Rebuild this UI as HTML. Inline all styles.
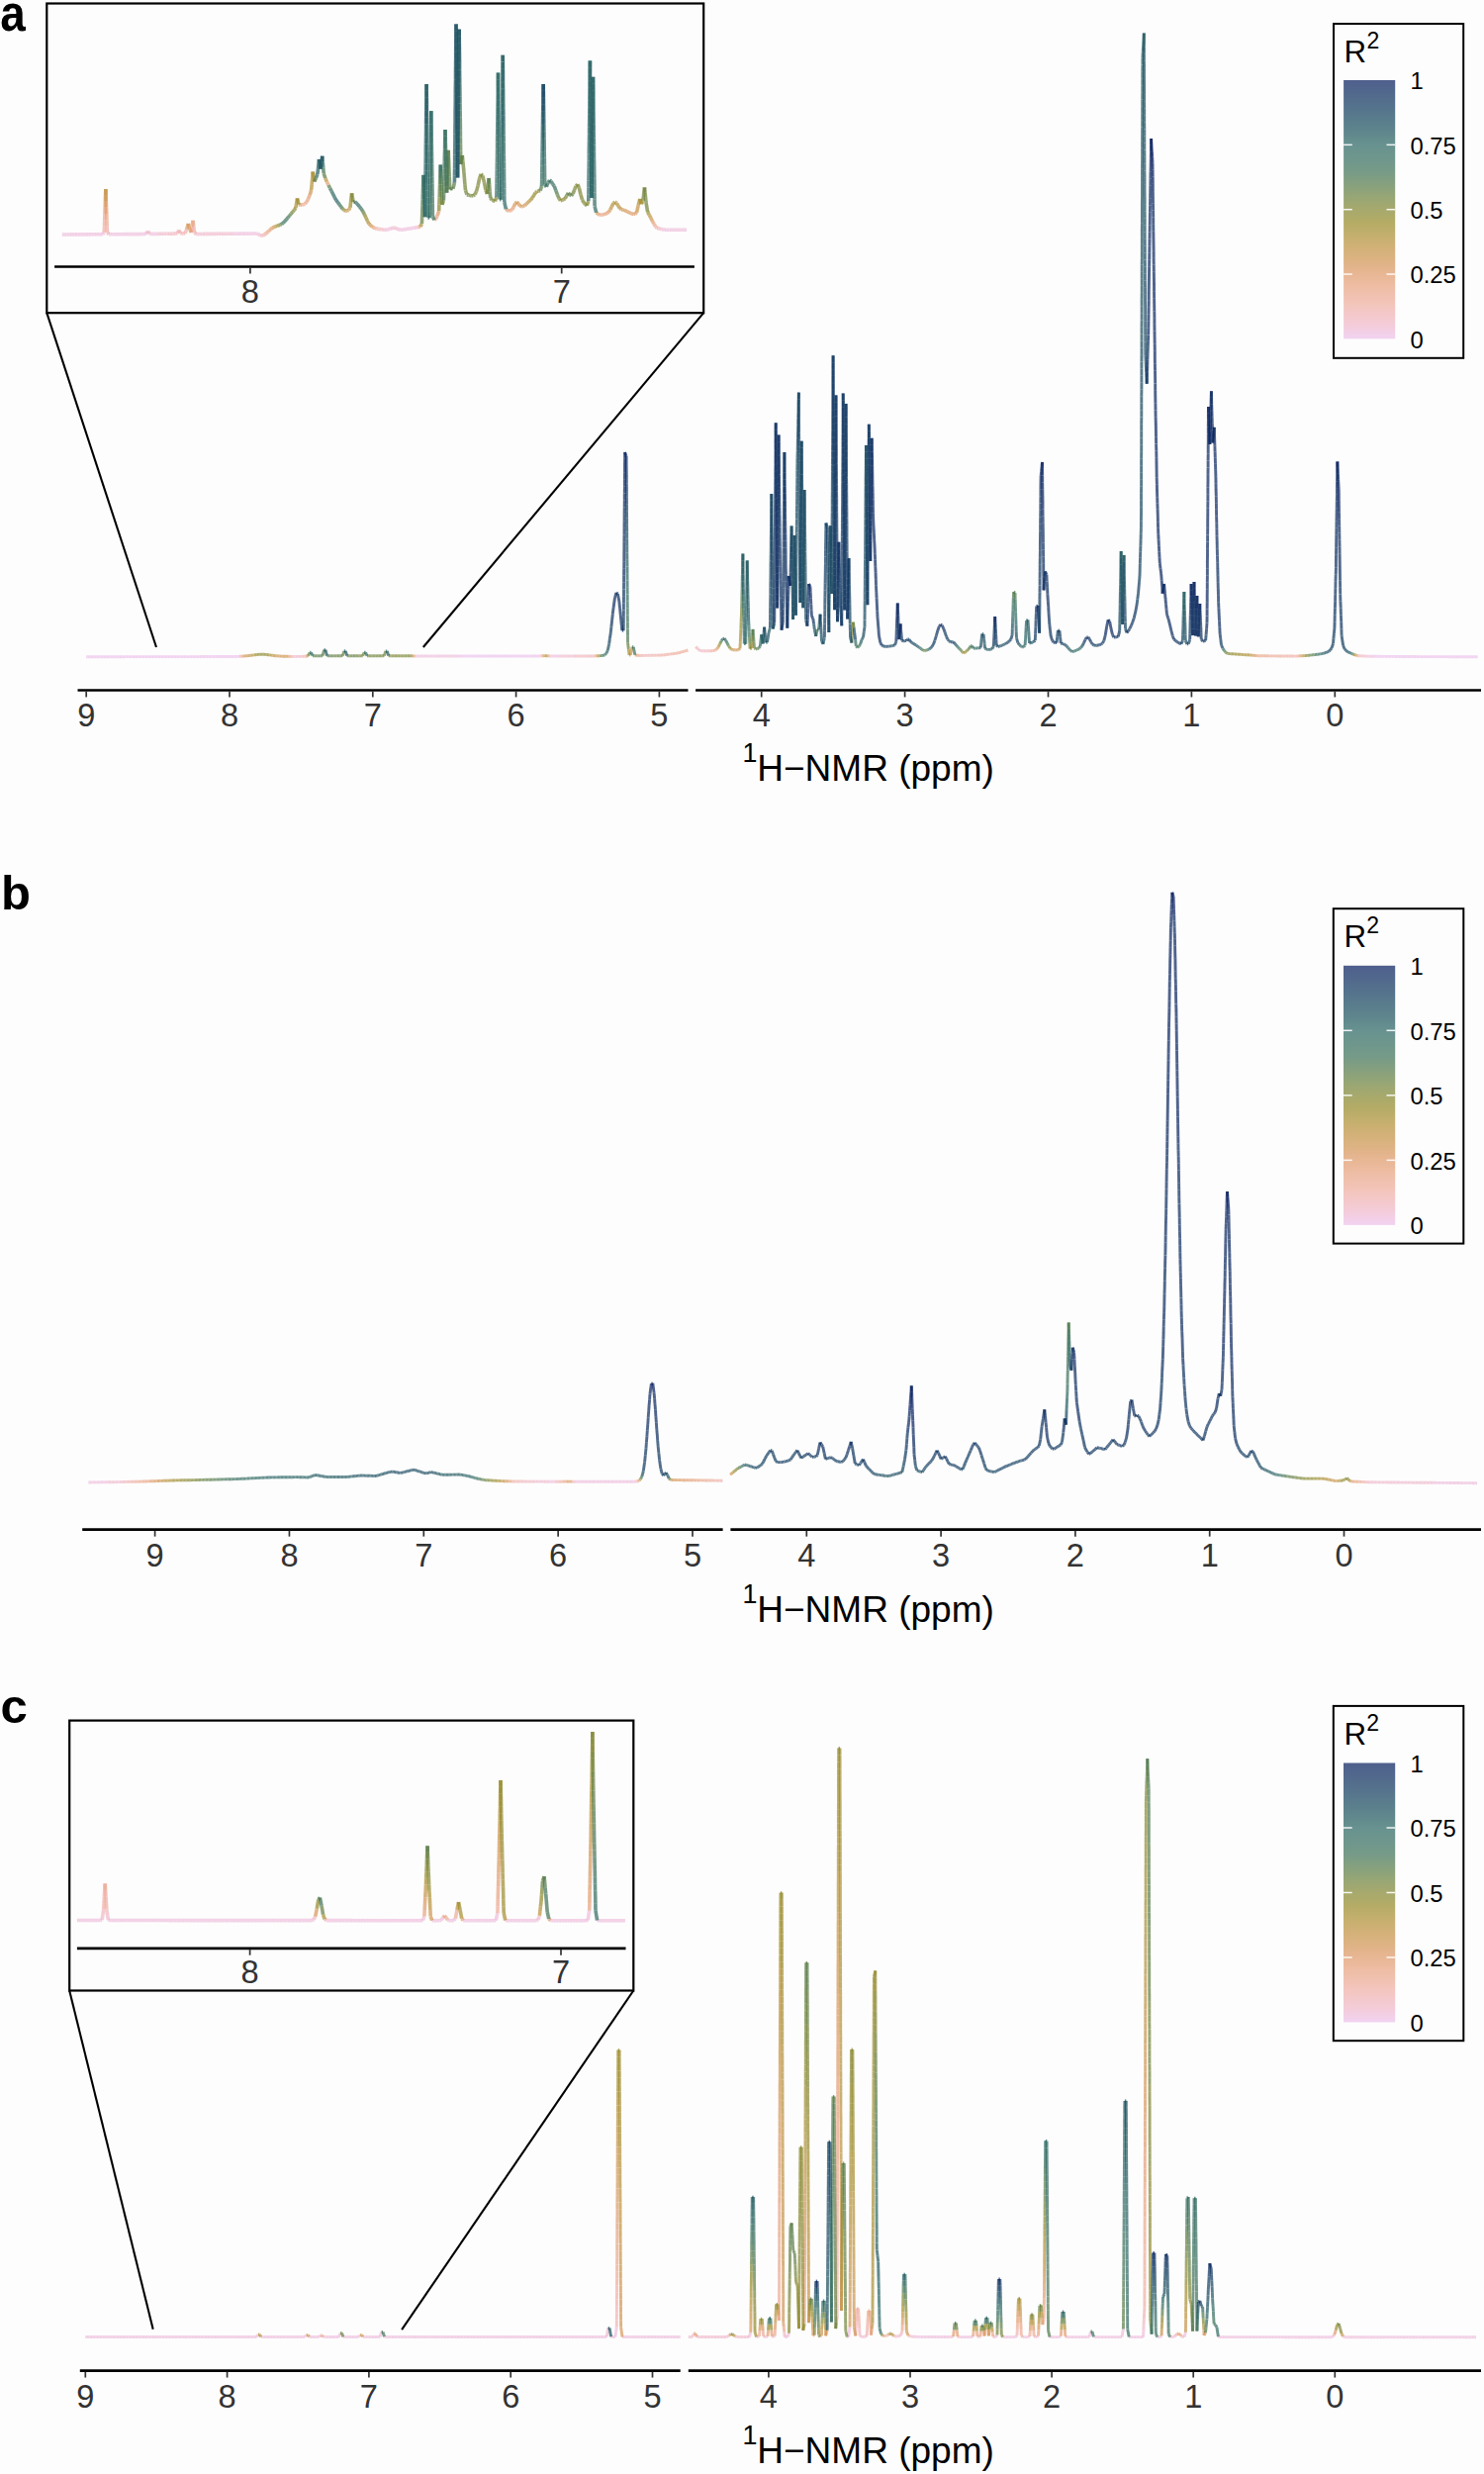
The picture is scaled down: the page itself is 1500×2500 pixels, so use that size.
<!DOCTYPE html><html><head><meta charset="utf-8"><style>html,body{margin:0;padding:0;background:#fdfdfd;}body{width:1500px;height:2500px;overflow:hidden;}</style></head><body><svg xmlns="http://www.w3.org/2000/svg" width="1500" height="2500" viewBox="0 0 1500 2500" style="display:block;font-family:'Liberation Sans',sans-serif"><defs><linearGradient id="bat" x1="0" y1="0" x2="0" y2="1"><stop offset="0.000" stop-color="#041b5c" stop-opacity="0.7"/><stop offset="0.025" stop-color="#06225c" stop-opacity="0.7"/><stop offset="0.050" stop-color="#08295c" stop-opacity="0.7"/><stop offset="0.075" stop-color="#0a305c" stop-opacity="0.7"/><stop offset="0.100" stop-color="#0c365c" stop-opacity="0.7"/><stop offset="0.125" stop-color="#103e5c" stop-opacity="0.7"/><stop offset="0.150" stop-color="#13455c" stop-opacity="0.7"/><stop offset="0.175" stop-color="#174c5c" stop-opacity="0.7"/><stop offset="0.200" stop-color="#1b535c" stop-opacity="0.7"/><stop offset="0.225" stop-color="#215c5e" stop-opacity="0.7"/><stop offset="0.250" stop-color="#276461" stop-opacity="0.7"/><stop offset="0.275" stop-color="#2c675e" stop-opacity="0.7"/><stop offset="0.300" stop-color="#316a5c" stop-opacity="0.7"/><stop offset="0.325" stop-color="#366d59" stop-opacity="0.7"/><stop offset="0.350" stop-color="#3b7056" stop-opacity="0.7"/><stop offset="0.375" stop-color="#46744f" stop-opacity="0.7"/><stop offset="0.400" stop-color="#527848" stop-opacity="0.7"/><stop offset="0.425" stop-color="#5e7c41" stop-opacity="0.7"/><stop offset="0.450" stop-color="#6a813b" stop-opacity="0.7"/><stop offset="0.475" stop-color="#768335" stop-opacity="0.7"/><stop offset="0.500" stop-color="#82852f" stop-opacity="0.7"/><stop offset="0.525" stop-color="#8b872a" stop-opacity="0.7"/><stop offset="0.550" stop-color="#958925" stop-opacity="0.7"/><stop offset="0.575" stop-color="#a08b2b" stop-opacity="0.7"/><stop offset="0.600" stop-color="#ac8e31" stop-opacity="0.7"/><stop offset="0.625" stop-color="#b68f37" stop-opacity="0.7"/><stop offset="0.650" stop-color="#c0903e" stop-opacity="0.7"/><stop offset="0.675" stop-color="#c89247" stop-opacity="0.7"/><stop offset="0.700" stop-color="#d19350" stop-opacity="0.7"/><stop offset="0.725" stop-color="#d8955c" stop-opacity="0.7"/><stop offset="0.750" stop-color="#df9867" stop-opacity="0.7"/><stop offset="0.775" stop-color="#e39d73" stop-opacity="0.7"/><stop offset="0.800" stop-color="#e8a27f" stop-opacity="0.7"/><stop offset="0.825" stop-color="#eaa68b" stop-opacity="0.7"/><stop offset="0.850" stop-color="#edaa96" stop-opacity="0.7"/><stop offset="0.875" stop-color="#efaea4" stop-opacity="0.7"/><stop offset="0.900" stop-color="#f0b1b1" stop-opacity="0.7"/><stop offset="0.925" stop-color="#f0b5bf" stop-opacity="0.7"/><stop offset="0.950" stop-color="#f0b8cc" stop-opacity="0.7"/><stop offset="0.975" stop-color="#eebcdc" stop-opacity="0.7"/><stop offset="1.000" stop-color="#ecc0ec" stop-opacity="0.7"/></linearGradient></defs><rect width="1500" height="2500" fill="#fdfdfd"/><text transform="translate(0.3,30.6) scale(0.89,1)" font-size="51.5" font-weight="bold" fill="#000">a</text><text x="1.0" y="918.6" font-size="49" font-weight="bold" fill="#000">b</text><text x="0.5" y="1740.6" font-size="49" font-weight="bold" fill="#000">c</text><line x1="78.5" y1="697.50" x2="695.5" y2="697.50" stroke="#000" stroke-width="2.70"/><line x1="703.1" y1="697.50" x2="1497.0" y2="697.50" stroke="#000" stroke-width="2.70"/><line x1="87.20" y1="698.55" x2="87.20" y2="704.45" stroke="#333" stroke-width="1.7"/><text x="87.20" y="734.04" text-anchor="middle" font-size="32.6" fill="#333333">9</text><line x1="232.00" y1="698.55" x2="232.00" y2="704.45" stroke="#333" stroke-width="1.7"/><text x="232.00" y="734.04" text-anchor="middle" font-size="32.6" fill="#333333">8</text><line x1="376.80" y1="698.55" x2="376.80" y2="704.45" stroke="#333" stroke-width="1.7"/><text x="376.80" y="734.04" text-anchor="middle" font-size="32.6" fill="#333333">7</text><line x1="521.60" y1="698.55" x2="521.60" y2="704.45" stroke="#333" stroke-width="1.7"/><text x="521.60" y="734.04" text-anchor="middle" font-size="32.6" fill="#333333">6</text><line x1="666.40" y1="698.55" x2="666.40" y2="704.45" stroke="#333" stroke-width="1.7"/><text x="666.40" y="734.04" text-anchor="middle" font-size="32.6" fill="#333333">5</text><line x1="769.70" y1="698.55" x2="769.70" y2="704.45" stroke="#333" stroke-width="1.7"/><text x="769.70" y="734.04" text-anchor="middle" font-size="32.6" fill="#333333">4</text><line x1="914.60" y1="698.55" x2="914.60" y2="704.45" stroke="#333" stroke-width="1.7"/><text x="914.60" y="734.04" text-anchor="middle" font-size="32.6" fill="#333333">3</text><line x1="1059.50" y1="698.55" x2="1059.50" y2="704.45" stroke="#333" stroke-width="1.7"/><text x="1059.50" y="734.04" text-anchor="middle" font-size="32.6" fill="#333333">2</text><line x1="1204.40" y1="698.55" x2="1204.40" y2="704.45" stroke="#333" stroke-width="1.7"/><text x="1204.40" y="734.04" text-anchor="middle" font-size="32.6" fill="#333333">1</text><line x1="1349.30" y1="698.55" x2="1349.30" y2="704.45" stroke="#333" stroke-width="1.7"/><text x="1349.30" y="734.04" text-anchor="middle" font-size="32.6" fill="#333333">0</text><text x="750.4" y="788.7" font-size="37" fill="#000"><tspan font-size="26.8" dy="-18.6">1</tspan><tspan dy="18.6">H−NMR (ppm)</tspan></text><rect x="47.3" y="3.5" width="663.9" height="312.7" fill="#fdfdfd" stroke="#000" stroke-width="2.2"/><line x1="55.1" y1="269.50" x2="701.9" y2="269.50" stroke="#000" stroke-width="2.70"/><line x1="252.90" y1="270.55" x2="252.90" y2="276.45" stroke="#333" stroke-width="1.7"/><text x="252.90" y="305.84" text-anchor="middle" font-size="32.6" fill="#333333">8</text><line x1="567.70" y1="270.55" x2="567.70" y2="276.45" stroke="#333" stroke-width="1.7"/><text x="567.70" y="305.84" text-anchor="middle" font-size="32.6" fill="#333333">7</text><line x1="47.3" y1="316.2" x2="158.0" y2="654.0" stroke="#000" stroke-width="2.1"/><line x1="711.2" y1="316.2" x2="427.8" y2="654.0" stroke="#000" stroke-width="2.1"/><rect x="1348.00" y="24.00" width="131.20" height="337.80" fill="none" stroke="#000" stroke-width="2.0"/><rect x="1358.10" y="81.00" width="52.10" height="261.40" fill="url(#bat)"/><line x1="1358.10" y1="277.05" x2="1366.80" y2="277.05" stroke="#fff" stroke-opacity=".9" stroke-width="1.5"/><line x1="1401.50" y1="277.05" x2="1410.20" y2="277.05" stroke="#fff" stroke-opacity=".9" stroke-width="1.5"/><line x1="1358.10" y1="211.70" x2="1366.80" y2="211.70" stroke="#fff" stroke-opacity=".9" stroke-width="1.5"/><line x1="1401.50" y1="211.70" x2="1410.20" y2="211.70" stroke="#fff" stroke-opacity=".9" stroke-width="1.5"/><line x1="1358.10" y1="146.35" x2="1366.80" y2="146.35" stroke="#fff" stroke-opacity=".9" stroke-width="1.5"/><line x1="1401.50" y1="146.35" x2="1410.20" y2="146.35" stroke="#fff" stroke-opacity=".9" stroke-width="1.5"/><text x="1425.40" y="90.22" font-size="23.8" fill="#000">1</text><text x="1425.40" y="155.57" font-size="23.8" fill="#000">0.75</text><text x="1425.40" y="220.92" font-size="23.8" fill="#000">0.5</text><text x="1425.40" y="286.27" font-size="23.8" fill="#000">0.25</text><text x="1425.40" y="351.62" font-size="23.8" fill="#000">0</text><text x="1358.60" y="62.70" font-size="31.3" fill="#000">R<tspan font-size="23" dy="-14" dx="0.2">2</tspan></text><line x1="83.2" y1="1545.70" x2="730.6" y2="1545.70" stroke="#000" stroke-width="2.70"/><line x1="738.4" y1="1545.70" x2="1497.0" y2="1545.70" stroke="#000" stroke-width="2.70"/><line x1="156.60" y1="1546.75" x2="156.60" y2="1552.65" stroke="#333" stroke-width="1.7"/><text x="156.60" y="1582.74" text-anchor="middle" font-size="32.6" fill="#333333">9</text><line x1="292.45" y1="1546.75" x2="292.45" y2="1552.65" stroke="#333" stroke-width="1.7"/><text x="292.45" y="1582.74" text-anchor="middle" font-size="32.6" fill="#333333">8</text><line x1="428.30" y1="1546.75" x2="428.30" y2="1552.65" stroke="#333" stroke-width="1.7"/><text x="428.30" y="1582.74" text-anchor="middle" font-size="32.6" fill="#333333">7</text><line x1="564.15" y1="1546.75" x2="564.15" y2="1552.65" stroke="#333" stroke-width="1.7"/><text x="564.15" y="1582.74" text-anchor="middle" font-size="32.6" fill="#333333">6</text><line x1="700.00" y1="1546.75" x2="700.00" y2="1552.65" stroke="#333" stroke-width="1.7"/><text x="700.00" y="1582.74" text-anchor="middle" font-size="32.6" fill="#333333">5</text><line x1="815.30" y1="1546.75" x2="815.30" y2="1552.65" stroke="#333" stroke-width="1.7"/><text x="815.30" y="1582.74" text-anchor="middle" font-size="32.6" fill="#333333">4</text><line x1="951.10" y1="1546.75" x2="951.10" y2="1552.65" stroke="#333" stroke-width="1.7"/><text x="951.10" y="1582.74" text-anchor="middle" font-size="32.6" fill="#333333">3</text><line x1="1086.90" y1="1546.75" x2="1086.90" y2="1552.65" stroke="#333" stroke-width="1.7"/><text x="1086.90" y="1582.74" text-anchor="middle" font-size="32.6" fill="#333333">2</text><line x1="1222.70" y1="1546.75" x2="1222.70" y2="1552.65" stroke="#333" stroke-width="1.7"/><text x="1222.70" y="1582.74" text-anchor="middle" font-size="32.6" fill="#333333">1</text><line x1="1358.50" y1="1546.75" x2="1358.50" y2="1552.65" stroke="#333" stroke-width="1.7"/><text x="1358.50" y="1582.74" text-anchor="middle" font-size="32.6" fill="#333333">0</text><text x="750.4" y="1639.0" font-size="37" fill="#000"><tspan font-size="26.8" dy="-18.6">1</tspan><tspan dy="18.6">H−NMR (ppm)</tspan></text><rect x="1347.80" y="918.20" width="131.50" height="338.40" fill="none" stroke="#000" stroke-width="2.0"/><rect x="1358.00" y="975.80" width="52.20" height="262.10" fill="url(#bat)"/><line x1="1358.00" y1="1172.38" x2="1366.70" y2="1172.38" stroke="#fff" stroke-opacity=".9" stroke-width="1.5"/><line x1="1401.50" y1="1172.38" x2="1410.20" y2="1172.38" stroke="#fff" stroke-opacity=".9" stroke-width="1.5"/><line x1="1358.00" y1="1106.85" x2="1366.70" y2="1106.85" stroke="#fff" stroke-opacity=".9" stroke-width="1.5"/><line x1="1401.50" y1="1106.85" x2="1410.20" y2="1106.85" stroke="#fff" stroke-opacity=".9" stroke-width="1.5"/><line x1="1358.00" y1="1041.33" x2="1366.70" y2="1041.33" stroke="#fff" stroke-opacity=".9" stroke-width="1.5"/><line x1="1401.50" y1="1041.33" x2="1410.20" y2="1041.33" stroke="#fff" stroke-opacity=".9" stroke-width="1.5"/><text x="1425.40" y="985.02" font-size="23.8" fill="#000">1</text><text x="1425.40" y="1050.55" font-size="23.8" fill="#000">0.75</text><text x="1425.40" y="1116.07" font-size="23.8" fill="#000">0.5</text><text x="1425.40" y="1181.60" font-size="23.8" fill="#000">0.25</text><text x="1425.40" y="1247.12" font-size="23.8" fill="#000">0</text><text x="1358.40" y="956.90" font-size="31.3" fill="#000">R<tspan font-size="23" dy="-14" dx="0.2">2</tspan></text><line x1="80.8" y1="2395.60" x2="687.7" y2="2395.60" stroke="#000" stroke-width="2.70"/><line x1="695.8" y1="2395.60" x2="1497.0" y2="2395.60" stroke="#000" stroke-width="2.70"/><line x1="86.30" y1="2396.65" x2="86.30" y2="2402.55" stroke="#333" stroke-width="1.7"/><text x="86.30" y="2433.24" text-anchor="middle" font-size="32.6" fill="#333333">9</text><line x1="229.60" y1="2396.65" x2="229.60" y2="2402.55" stroke="#333" stroke-width="1.7"/><text x="229.60" y="2433.24" text-anchor="middle" font-size="32.6" fill="#333333">8</text><line x1="372.90" y1="2396.65" x2="372.90" y2="2402.55" stroke="#333" stroke-width="1.7"/><text x="372.90" y="2433.24" text-anchor="middle" font-size="32.6" fill="#333333">7</text><line x1="516.20" y1="2396.65" x2="516.20" y2="2402.55" stroke="#333" stroke-width="1.7"/><text x="516.20" y="2433.24" text-anchor="middle" font-size="32.6" fill="#333333">6</text><line x1="659.50" y1="2396.65" x2="659.50" y2="2402.55" stroke="#333" stroke-width="1.7"/><text x="659.50" y="2433.24" text-anchor="middle" font-size="32.6" fill="#333333">5</text><line x1="776.90" y1="2396.65" x2="776.90" y2="2402.55" stroke="#333" stroke-width="1.7"/><text x="776.90" y="2433.24" text-anchor="middle" font-size="32.6" fill="#333333">4</text><line x1="920.00" y1="2396.65" x2="920.00" y2="2402.55" stroke="#333" stroke-width="1.7"/><text x="920.00" y="2433.24" text-anchor="middle" font-size="32.6" fill="#333333">3</text><line x1="1063.10" y1="2396.65" x2="1063.10" y2="2402.55" stroke="#333" stroke-width="1.7"/><text x="1063.10" y="2433.24" text-anchor="middle" font-size="32.6" fill="#333333">2</text><line x1="1206.20" y1="2396.65" x2="1206.20" y2="2402.55" stroke="#333" stroke-width="1.7"/><text x="1206.20" y="2433.24" text-anchor="middle" font-size="32.6" fill="#333333">1</text><line x1="1349.30" y1="2396.65" x2="1349.30" y2="2402.55" stroke="#333" stroke-width="1.7"/><text x="1349.30" y="2433.24" text-anchor="middle" font-size="32.6" fill="#333333">0</text><text x="750.4" y="2489.0" font-size="37" fill="#000"><tspan font-size="26.8" dy="-18.6">1</tspan><tspan dy="18.6">H−NMR (ppm)</tspan></text><rect x="70.2" y="1738.6" width="570.1" height="272.9" fill="#fdfdfd" stroke="#000" stroke-width="2.2"/><line x1="77.9" y1="1968.80" x2="632.5" y2="1968.80" stroke="#000" stroke-width="2.70"/><line x1="252.60" y1="1969.85" x2="252.60" y2="1975.75" stroke="#333" stroke-width="1.7"/><text x="252.60" y="2004.34" text-anchor="middle" font-size="32.6" fill="#333333">8</text><line x1="567.00" y1="1969.85" x2="567.00" y2="1975.75" stroke="#333" stroke-width="1.7"/><text x="567.00" y="2004.34" text-anchor="middle" font-size="32.6" fill="#333333">7</text><line x1="70.2" y1="2011.5" x2="154.7" y2="2353.8" stroke="#000" stroke-width="2.1"/><line x1="640.3" y1="2011.5" x2="406.1" y2="2354.2" stroke="#000" stroke-width="2.1"/><rect x="1347.80" y="1723.90" width="131.50" height="338.30" fill="none" stroke="#000" stroke-width="2.0"/><rect x="1358.00" y="1781.50" width="52.20" height="262.00" fill="url(#bat)"/><line x1="1358.00" y1="1978.00" x2="1366.70" y2="1978.00" stroke="#fff" stroke-opacity=".9" stroke-width="1.5"/><line x1="1401.50" y1="1978.00" x2="1410.20" y2="1978.00" stroke="#fff" stroke-opacity=".9" stroke-width="1.5"/><line x1="1358.00" y1="1912.50" x2="1366.70" y2="1912.50" stroke="#fff" stroke-opacity=".9" stroke-width="1.5"/><line x1="1401.50" y1="1912.50" x2="1410.20" y2="1912.50" stroke="#fff" stroke-opacity=".9" stroke-width="1.5"/><line x1="1358.00" y1="1847.00" x2="1366.70" y2="1847.00" stroke="#fff" stroke-opacity=".9" stroke-width="1.5"/><line x1="1401.50" y1="1847.00" x2="1410.20" y2="1847.00" stroke="#fff" stroke-opacity=".9" stroke-width="1.5"/><text x="1425.40" y="1790.72" font-size="23.8" fill="#000">1</text><text x="1425.40" y="1856.22" font-size="23.8" fill="#000">0.75</text><text x="1425.40" y="1921.72" font-size="23.8" fill="#000">0.5</text><text x="1425.40" y="1987.22" font-size="23.8" fill="#000">0.25</text><text x="1425.40" y="2052.72" font-size="23.8" fill="#000">0</text><text x="1358.40" y="1762.60" font-size="31.3" fill="#000">R<tspan font-size="23" dy="-14" dx="0.2">2</tspan></text><g fill="none" stroke-width="2.90" stroke-opacity="0.70"><g stroke="#ecc0ec"><path d="M87.2 663.7L88.6 663.7"/><path d="M88.6 663.7L90.1 663.7"/><path d="M90.1 663.7L91.5 663.7"/><path d="M91.5 663.7L93.0 663.7"/><path d="M93.0 663.7L94.4 663.7"/><path d="M94.4 663.7L95.9 663.7"/><path d="M95.9 663.7L97.3 663.7"/><path d="M97.3 663.7L98.8 663.7"/><path d="M98.8 663.7L100.2 663.7"/><path d="M100.2 663.7L101.7 663.7"/><path d="M101.7 663.7L103.1 663.7"/><path d="M103.1 663.7L104.6 663.7"/><path d="M104.6 663.7L106.0 663.7"/><path d="M106.0 663.7L107.5 663.7"/><path d="M107.5 663.7L108.9 663.7"/><path d="M108.9 663.7L110.4 663.7"/><path d="M110.4 663.7L111.8 663.7"/><path d="M111.8 663.7L113.3 663.7"/><path d="M113.3 663.7L114.7 663.7"/><path d="M114.7 663.7L116.2 663.7"/><path d="M116.2 663.7L117.6 663.7"/><path d="M117.6 663.7L119.1 663.7"/><path d="M119.1 663.7L120.5 663.7"/><path d="M120.5 663.7L122.0 663.7"/><path d="M122.0 663.7L123.4 663.7"/><path d="M123.4 663.7L124.8 663.7"/><path d="M124.8 663.7L126.3 663.6"/><path d="M126.3 663.6L127.7 663.6"/><path d="M127.7 663.6L129.2 663.6"/><path d="M129.2 663.6L130.6 663.6"/><path d="M130.6 663.6L132.1 663.6"/><path d="M132.1 663.6L133.5 663.6"/><path d="M133.5 663.6L135.0 663.6"/><path d="M135.0 663.6L136.4 663.6"/><path d="M136.4 663.6L137.9 663.6"/><path d="M137.9 663.6L139.3 663.6"/><path d="M139.3 663.6L140.8 663.6"/><path d="M140.8 663.6L142.2 663.6"/><path d="M142.2 663.6L143.7 663.6"/><path d="M143.7 663.6L145.1 663.6"/><path d="M145.1 663.6L146.6 663.6"/><path d="M146.6 663.6L148.0 663.6"/><path d="M148.0 663.6L149.5 663.6"/><path d="M149.5 663.6L150.9 663.6"/><path d="M150.9 663.6L152.4 663.6"/><path d="M152.4 663.6L153.8 663.6"/><path d="M153.8 663.6L155.3 663.6"/><path d="M155.3 663.6L156.7 663.6"/><path d="M156.7 663.6L158.2 663.6"/><path d="M158.2 663.6L159.6 663.6"/><path d="M159.6 663.6L161.0 663.6"/><path d="M161.0 663.6L162.5 663.6"/><path d="M162.5 663.6L163.9 663.6"/><path d="M163.9 663.6L165.4 663.6"/><path d="M165.4 663.6L166.8 663.6"/><path d="M166.8 663.6L168.3 663.6"/><path d="M168.3 663.6L169.7 663.6"/><path d="M169.7 663.6L171.2 663.6"/><path d="M171.2 663.6L172.6 663.6"/><path d="M172.6 663.6L174.1 663.6"/><path d="M174.1 663.6L175.5 663.6"/><path d="M175.5 663.6L177.0 663.6"/><path d="M177.0 663.6L178.4 663.6"/><path d="M178.4 663.6L179.9 663.6"/><path d="M179.9 663.6L181.3 663.6"/><path d="M181.3 663.6L182.8 663.6"/><path d="M182.8 663.6L184.2 663.6"/><path d="M184.2 663.6L185.7 663.6"/><path d="M185.7 663.6L187.1 663.6"/><path d="M187.1 663.6L188.6 663.6"/><path d="M188.6 663.6L190.0 663.6"/><path d="M190.0 663.6L191.5 663.6"/><path d="M191.5 663.6L192.9 663.6"/><path d="M192.9 663.6L194.4 663.6"/><path d="M194.4 663.6L195.8 663.6"/><path d="M195.8 663.6L197.2 663.6"/><path d="M197.2 663.6L198.7 663.6"/><path d="M198.7 663.6L200.1 663.6"/><path d="M200.1 663.6L201.6 663.6"/><path d="M201.6 663.6L203.0 663.5"/><path d="M203.0 663.5L204.5 663.5"/><path d="M204.5 663.5L205.9 663.5"/><path d="M205.9 663.5L207.4 663.5"/><path d="M207.4 663.5L208.8 663.5"/><path d="M208.8 663.5L210.3 663.5"/><path d="M210.3 663.5L211.7 663.5"/><path d="M211.7 663.5L213.2 663.5"/><path d="M213.2 663.5L214.6 663.5"/><path d="M214.6 663.5L216.1 663.5"/><path d="M216.1 663.5L217.5 663.5"/><path d="M217.5 663.5L219.0 663.5"/><path d="M219.0 663.5L220.4 663.5"/><path d="M220.4 663.5L221.9 663.5"/><path d="M221.9 663.5L223.3 663.5"/><path d="M223.3 663.5L224.8 663.5"/><path d="M224.8 663.5L226.2 663.5"/><path d="M226.2 663.5L227.7 663.5"/><path d="M227.7 663.5L229.1 663.5"/><path d="M229.1 663.5L230.6 663.5"/><path d="M230.6 663.5L232.0 663.5"/><path d="M232.0 663.5L233.4 663.5"/><path d="M233.4 663.5L234.9 663.5"/><path d="M234.9 663.5L236.3 663.5"/><path d="M236.3 663.5L237.8 663.5"/><path d="M237.8 663.5L239.2 663.5"/><path d="M239.2 663.5L240.7 663.4"/><path d="M465.1 663.0L466.6 663.0"/><path d="M466.6 663.0L468.0 663.0"/><path d="M468.0 663.0L469.5 663.0"/><path d="M469.5 663.0L470.9 663.0"/><path d="M470.9 663.0L472.4 663.0"/><path d="M472.4 663.0L473.8 663.0"/><path d="M473.8 663.0L475.3 663.0"/><path d="M475.3 663.0L476.7 663.0"/><path d="M476.7 663.0L478.2 663.0"/><path d="M478.2 663.0L479.6 663.0"/><path d="M479.6 663.0L481.1 663.0"/><path d="M481.1 663.0L482.5 663.0"/><path d="M482.5 663.0L484.0 663.0"/><path d="M484.0 663.0L485.4 663.0"/><path d="M485.4 663.0L486.8 663.0"/><path d="M486.8 663.0L488.3 663.0"/><path d="M488.3 663.0L489.7 663.0"/><path d="M489.7 663.0L491.2 663.0"/><path d="M491.2 663.0L492.6 663.0"/><path d="M492.6 663.0L494.1 663.0"/><path d="M494.1 663.0L495.5 663.0"/><path d="M495.5 663.0L497.0 663.0"/><path d="M497.0 663.0L498.4 663.0"/><path d="M498.4 663.0L499.9 663.0"/><path d="M499.9 663.0L501.3 663.0"/><path d="M501.3 663.0L502.8 663.0"/><path d="M502.8 663.0L504.2 663.0"/><path d="M504.2 663.0L505.7 663.0"/><path d="M505.7 663.0L507.1 663.0"/><path d="M507.1 663.0L508.6 663.0"/><path d="M508.6 663.0L510.0 663.0"/><path d="M510.0 663.0L511.5 663.0"/><path d="M511.5 663.0L512.9 663.0"/><path d="M512.9 663.0L514.4 663.0"/><path d="M514.4 663.0L515.8 663.0"/><path d="M515.8 663.0L517.3 663.0"/><path d="M517.3 663.0L518.7 663.0"/><path d="M518.7 663.0L520.2 663.0"/><path d="M520.2 663.0L521.6 663.0"/><path d="M521.6 663.0L523.0 663.0"/><path d="M523.0 663.0L524.5 663.0"/><path d="M524.5 663.0L525.9 663.0"/><path d="M525.9 663.0L527.4 663.0"/><path d="M527.4 663.0L528.8 663.0"/><path d="M528.8 663.0L530.3 663.0"/><path d="M530.3 663.0L531.7 663.0"/><path d="M531.7 663.0L533.2 663.0"/><path d="M533.2 663.0L534.6 663.0"/><path d="M534.6 663.0L536.1 663.0"/><path d="M536.1 663.0L537.5 663.0"/><path d="M537.5 663.0L539.0 663.0"/><path d="M539.0 663.0L540.4 663.0"/><path d="M540.4 663.0L541.9 663.0"/><path d="M541.9 663.0L543.3 663.0"/><path d="M543.3 663.0L544.8 663.0"/><path d="M544.8 663.0L546.2 662.9"/></g><g stroke="#eebcdc"><path d="M240.7 663.4L242.1 663.3"/><path d="M420.2 663.0L421.7 663.0"/><path d="M421.7 663.0L423.1 663.0"/><path d="M423.1 663.0L424.6 663.0"/><path d="M424.6 663.0L426.0 663.0"/><path d="M426.0 663.0L427.5 663.0"/><path d="M427.5 663.0L428.9 663.0"/><path d="M428.9 663.0L430.4 663.0"/><path d="M430.4 663.0L431.8 663.0"/><path d="M431.8 663.0L433.3 663.0"/><path d="M433.3 663.0L434.7 663.0"/><path d="M434.7 663.0L436.2 663.0"/><path d="M436.2 663.0L437.6 663.0"/><path d="M437.6 663.0L439.1 663.0"/><path d="M439.1 663.0L440.5 663.0"/><path d="M440.5 663.0L442.0 663.0"/><path d="M442.0 663.0L443.4 663.0"/><path d="M443.4 663.0L444.9 663.0"/><path d="M444.9 663.0L446.3 663.0"/><path d="M446.3 663.0L447.8 663.0"/><path d="M447.8 663.0L449.2 663.0"/><path d="M449.2 663.0L450.6 663.0"/><path d="M450.6 663.0L452.1 663.0"/><path d="M452.1 663.0L453.5 663.0"/><path d="M453.5 663.0L455.0 663.0"/><path d="M455.0 663.0L456.4 663.0"/><path d="M456.4 663.0L457.9 663.0"/><path d="M457.9 663.0L459.3 663.0"/><path d="M459.3 663.0L460.8 663.0"/><path d="M460.8 663.0L462.2 663.0"/><path d="M462.2 663.0L463.7 663.0"/><path d="M463.7 663.0L465.1 663.0"/><path d="M556.4 663.0L557.8 663.0"/><path d="M557.8 663.0L559.2 663.0"/><path d="M559.2 663.0L560.7 663.0"/><path d="M560.7 663.0L562.1 663.0"/><path d="M562.1 663.0L563.6 663.0"/><path d="M563.6 663.0L565.0 663.0"/><path d="M565.0 663.0L566.5 663.0"/></g><g stroke="#f0b8cc"><path d="M295.7 663.5L297.2 663.5"/><path d="M297.2 663.5L298.6 663.5"/><path d="M298.6 663.5L300.1 663.4"/><path d="M566.5 663.0L567.9 663.0"/><path d="M567.9 663.0L569.4 663.0"/><path d="M569.4 663.0L570.8 663.0"/><path d="M570.8 663.0L572.3 663.0"/><path d="M572.3 663.0L573.7 663.0"/><path d="M573.7 663.0L575.2 663.0"/><path d="M575.2 663.0L576.6 663.0"/><path d="M576.6 663.0L578.1 663.0"/><path d="M578.1 663.0L579.5 663.0"/><path d="M579.5 663.0L581.0 663.0"/></g><g stroke="#f0b5be"><path d="M300.1 663.4L301.5 663.4"/><path d="M301.5 663.4L303.0 663.4"/><path d="M303.0 663.4L304.4 663.4"/><path d="M304.4 663.4L305.8 663.3"/><path d="M581.0 663.0L582.4 663.0"/><path d="M582.4 663.0L583.9 663.0"/><path d="M583.9 663.0L585.3 663.0"/><path d="M585.3 663.0L586.8 663.0"/><path d="M586.8 663.0L588.2 663.0"/><path d="M588.2 663.0L589.7 663.0"/><path d="M589.7 663.0L591.1 663.0"/><path d="M591.1 663.0L592.6 663.0"/><path d="M592.6 663.0L594.0 663.0"/><path d="M594.0 663.0L595.4 663.0"/></g><g stroke="#f0b1b0"><path d="M242.1 663.3L243.6 663.2"/><path d="M305.8 663.3L307.3 663.3"/><path d="M307.3 663.3L308.7 663.2"/><path d="M546.2 662.9L547.7 662.8"/><path d="M554.9 662.9L556.4 663.0"/><path d="M595.4 663.0L596.9 663.0"/><path d="M596.9 663.0L598.3 663.0"/><path d="M598.3 663.0L599.8 663.0"/><path d="M599.8 663.0L601.2 662.9"/><path d="M647.6 662.5L649.0 662.5"/><path d="M649.0 662.5L650.5 662.4"/><path d="M650.5 662.4L651.9 662.4"/><path d="M651.9 662.4L653.4 662.4"/><path d="M653.4 662.4L654.8 662.3"/><path d="M654.8 662.3L656.3 662.3"/><path d="M656.3 662.3L657.7 662.3"/><path d="M657.7 662.3L659.2 662.2"/><path d="M659.2 662.2L660.6 662.2"/><path d="M660.6 662.2L662.1 662.2"/><path d="M662.1 662.2L663.5 662.1"/><path d="M663.5 662.1L665.0 662.1"/></g><g stroke="#efada2"><path d="M294.3 663.4L295.7 663.5"/><path d="M418.8 663.0L420.2 663.0"/><path d="M665.0 662.1L666.4 662.1"/><path d="M666.4 662.1L667.8 662.0"/><path d="M667.8 662.0L669.3 662.0"/><path d="M669.3 662.0L670.7 661.9"/><path d="M670.7 661.9L672.2 661.7"/><path d="M672.2 661.7L673.6 661.5"/><path d="M673.6 661.5L675.1 661.3"/><path d="M675.1 661.3L676.5 661.1"/><path d="M676.5 661.1L678.0 660.9"/><path d="M678.0 660.9L679.4 660.7"/><path d="M679.4 660.7L680.9 660.5"/></g><g stroke="#eda994"><path d="M646.1 662.4L647.6 662.5"/><path d="M680.9 660.5L682.3 660.4"/><path d="M682.3 660.4L683.8 660.2"/><path d="M683.8 660.2L685.2 659.9"/><path d="M685.2 659.9L686.7 659.5"/><path d="M686.7 659.5L688.1 659.1"/><path d="M688.1 659.1L689.6 658.7"/><path d="M689.6 658.7L691.0 658.3"/><path d="M691.0 658.3L692.5 657.9"/><path d="M692.5 657.9L693.9 657.5"/><path d="M693.9 657.5L695.4 657.0"/></g><g stroke="#eaa589"><path d="M243.6 663.2L245.0 663.1"/><path d="M292.8 663.4L294.3 663.4"/><path d="M644.7 662.3L646.1 662.4"/></g><g stroke="#e7a17d"><path d="M308.7 663.2L310.2 663.0"/><path d="M547.7 662.8L549.1 662.7"/><path d="M601.2 662.9L602.7 662.8"/></g><g stroke="#e29b70"><path d="M291.4 663.3L292.8 663.4"/><path d="M553.5 662.8L554.9 662.9"/><path d="M643.2 662.2L644.7 662.3"/></g><g stroke="#dd9764"><path d="M245.0 663.1L246.5 663.0"/><path d="M641.8 661.8L643.2 662.2"/></g><g stroke="#d69558"><path d="M417.3 662.9L418.8 663.0"/></g><g stroke="#ce934d"><path d="M246.5 663.0L247.9 662.9"/><path d="M247.9 662.9L249.4 662.8"/><path d="M279.8 662.8L281.2 662.9"/><path d="M281.2 662.9L282.7 663.0"/><path d="M282.7 663.0L284.1 663.1"/><path d="M284.1 663.1L285.6 663.2"/><path d="M285.6 663.2L287.0 663.2"/><path d="M287.0 663.2L288.5 663.2"/><path d="M288.5 663.2L289.9 663.3"/><path d="M289.9 663.3L291.4 663.3"/><path d="M549.1 662.7L550.6 662.6"/><path d="M602.7 662.8L604.1 662.7"/></g><g stroke="#c59144"><path d="M249.4 662.8L250.8 662.6"/><path d="M250.8 662.6L252.3 662.5"/><path d="M278.3 662.7L279.8 662.8"/><path d="M637.4 661.8L638.9 653.7"/></g><g stroke="#bc903b"><path d="M252.3 662.5L253.7 662.3"/><path d="M275.4 662.3L276.9 662.5"/><path d="M276.9 662.5L278.3 662.7"/><path d="M552.0 662.7L553.5 662.8"/><path d="M636.0 662.0L637.4 661.8"/></g><g stroke="#b28e35"><path d="M253.7 662.3L255.2 662.1"/><path d="M255.2 662.1L256.6 661.9"/><path d="M274.0 662.1L275.4 662.3"/><path d="M310.2 663.0L311.6 662.7"/></g><g stroke="#a78d2e"><path d="M256.6 661.9L258.1 661.7"/><path d="M272.5 661.9L274.0 662.1"/><path d="M415.9 662.8L417.3 662.9"/><path d="M550.6 662.6L552.0 662.7"/><path d="M604.1 662.7L605.6 662.7"/><path d="M635.3 655.7L636.0 662.0"/></g><g stroke="#9b8a29"><path d="M258.1 661.7L259.5 661.5"/><path d="M271.1 661.7L272.5 661.9"/></g><g stroke="#908828"><path d="M259.5 661.5L261.0 661.4"/><path d="M261.0 661.4L262.4 661.3"/><path d="M268.2 661.4L269.6 661.5"/><path d="M269.6 661.5L271.1 661.7"/></g><g stroke="#87862d"><path d="M262.4 661.3L263.9 661.2"/><path d="M263.9 661.2L265.3 661.2"/><path d="M265.3 661.2L266.8 661.3"/><path d="M266.8 661.3L268.2 661.4"/></g><g stroke="#7c8432"><path d="M392.7 662.6L394.2 662.8"/><path d="M394.2 662.8L395.6 662.8"/><path d="M395.6 662.8L397.1 662.8"/><path d="M397.1 662.8L398.5 662.8"/><path d="M398.5 662.8L400.0 662.8"/><path d="M400.0 662.8L401.4 662.8"/><path d="M401.4 662.8L402.9 662.8"/><path d="M402.9 662.8L404.3 662.8"/><path d="M404.3 662.8L405.8 662.8"/><path d="M405.8 662.8L407.2 662.8"/><path d="M407.2 662.8L408.7 662.8"/><path d="M408.7 662.8L410.1 662.8"/><path d="M410.1 662.8L411.6 662.8"/><path d="M411.6 662.8L413.0 662.8"/><path d="M413.0 662.8L414.4 662.8"/><path d="M414.4 662.8L415.9 662.8"/><path d="M605.6 662.7L607.0 662.6"/></g><g stroke="#6f8238"><path d="M362.3 662.8L363.8 662.8"/><path d="M363.8 662.8L365.2 662.8"/><path d="M365.2 662.8L366.7 662.7"/><path d="M366.7 662.7L368.1 659.3"/><path d="M371.0 662.7L372.5 662.8"/><path d="M372.5 662.8L373.9 662.8"/><path d="M373.9 662.8L375.4 662.8"/><path d="M375.4 662.8L376.8 662.8"/><path d="M376.8 662.8L378.2 662.8"/><path d="M378.2 662.8L379.7 662.8"/><path d="M379.7 662.8L381.1 662.8"/><path d="M381.1 662.8L382.6 662.8"/><path d="M382.6 662.8L384.0 662.8"/><path d="M384.0 662.8L385.5 662.8"/><path d="M385.5 662.8L386.9 662.8"/><path d="M386.9 662.8L388.4 662.6"/><path d="M388.4 662.6L389.8 658.0"/></g><g stroke="#637e3e"><path d="M311.6 662.7L313.1 659.3"/><path d="M336.3 662.8L337.7 662.8"/><path d="M337.7 662.8L339.2 662.8"/><path d="M339.2 662.8L340.6 662.8"/><path d="M340.6 662.8L342.0 662.8"/><path d="M342.0 662.8L343.5 662.8"/><path d="M343.5 662.8L344.9 662.8"/><path d="M344.9 662.8L346.4 662.6"/><path d="M346.4 662.6L347.8 657.8"/><path d="M350.7 662.6L352.2 662.8"/><path d="M352.2 662.8L353.6 662.8"/><path d="M353.6 662.8L355.1 662.8"/><path d="M355.1 662.8L356.5 662.8"/><path d="M356.5 662.8L358.0 662.8"/><path d="M358.0 662.8L359.4 662.8"/><path d="M359.4 662.8L360.9 662.8"/><path d="M360.9 662.8L362.3 662.8"/><path d="M634.5 649.4L635.3 655.7"/></g><g stroke="#577a45"><path d="M316.0 662.7L317.4 662.8"/><path d="M317.4 662.8L318.9 662.8"/><path d="M318.9 662.8L320.3 662.8"/><path d="M320.3 662.8L321.8 662.8"/><path d="M321.8 662.8L323.2 662.8"/><path d="M323.2 662.8L324.7 662.8"/><path d="M324.7 662.8L326.1 662.6"/><path d="M326.1 662.6L327.6 656.7"/><path d="M330.5 662.6L331.9 662.8"/><path d="M331.9 662.8L333.4 662.8"/><path d="M333.4 662.8L334.8 662.8"/><path d="M334.8 662.8L336.3 662.8"/></g><g stroke="#4b764c"><path d="M607.0 662.6L608.5 662.5"/><path d="M634.5 642.4L634.5 649.4"/></g><g stroke="#3f7153"><path d="M634.4 628.5L634.4 635.4"/><path d="M634.4 635.4L634.5 642.4"/></g><g stroke="#376e58"><path d="M609.9 662.3L611.4 661.8"/><path d="M611.4 661.8L612.8 660.5"/><path d="M634.3 614.5L634.3 621.5"/><path d="M634.3 621.5L634.4 628.5"/><path d="M638.9 653.7L640.3 653.7"/><path d="M640.3 653.7L641.8 661.8"/></g><g stroke="#326b5b"><path d="M608.5 662.5L609.9 662.3"/><path d="M634.2 607.5L634.3 614.5"/></g><g stroke="#2d685e"><path d="M634.1 593.6L634.2 600.6"/><path d="M634.2 600.6L634.2 607.5"/></g><g stroke="#286561"><path d="M313.1 659.3L314.5 659.3"/><path d="M314.5 659.3L316.0 662.7"/><path d="M368.1 659.3L369.6 659.3"/><path d="M369.6 659.3L371.0 662.7"/><path d="M612.8 660.5L614.3 657.1"/><path d="M634.0 579.6L634.1 586.6"/><path d="M634.1 586.6L634.1 593.6"/></g><g stroke="#225e5f"><path d="M633.9 565.7L634.0 572.6"/><path d="M634.0 572.6L634.0 579.6"/></g><g stroke="#1c555c"><path d="M389.8 658.0L391.3 658.0"/><path d="M391.3 658.0L392.7 662.6"/><path d="M633.8 551.7L633.8 558.7"/><path d="M633.8 558.7L633.9 565.7"/></g><g stroke="#184d5c"><path d="M327.6 656.7L329.0 656.7"/><path d="M329.0 656.7L330.5 662.6"/><path d="M347.8 657.8L349.3 657.8"/><path d="M349.3 657.8L350.7 662.6"/><path d="M614.3 657.1L615.7 650.5"/><path d="M633.7 537.8L633.7 544.7"/><path d="M633.7 544.7L633.8 551.7"/></g><g stroke="#14465c"><path d="M633.6 523.8L633.6 530.8"/><path d="M633.6 530.8L633.7 537.8"/></g><g stroke="#103e5c"><path d="M615.7 650.5L616.4 645.2"/><path d="M633.5 509.8L633.5 516.8"/><path d="M633.5 516.8L633.6 523.8"/></g><g stroke="#0c375c"><path d="M616.4 645.2L617.2 640.0"/><path d="M617.2 640.0L617.9 633.5"/><path d="M633.4 495.9L633.4 502.9"/><path d="M633.4 502.9L633.5 509.8"/></g><g stroke="#0a305c"><path d="M617.9 633.5L618.6 627.0"/><path d="M618.6 627.0L619.3 620.5"/><path d="M630.2 637.2L630.3 630.3"/><path d="M630.3 630.3L630.3 623.4"/><path d="M630.3 623.4L630.4 616.4"/><path d="M630.4 616.4L630.4 609.5"/><path d="M630.4 609.5L630.5 602.6"/><path d="M630.5 602.6L630.5 595.6"/><path d="M630.5 595.6L630.6 588.7"/><path d="M633.3 481.9L633.3 488.9"/><path d="M633.3 488.9L633.4 495.9"/></g><g stroke="#08295c"><path d="M619.3 620.5L620.1 614.0"/><path d="M620.1 614.0L621.5 604.0"/><path d="M621.5 604.0L623.0 598.8"/><path d="M623.0 598.8L624.4 599.9"/><path d="M624.4 599.9L625.9 608.0"/><path d="M625.9 608.0L626.6 614.9"/><path d="M626.6 614.9L627.3 621.8"/><path d="M627.3 621.8L627.8 626.9"/><path d="M627.8 626.9L628.3 632.0"/><path d="M628.3 632.0L628.8 637.2"/><path d="M628.8 637.2L630.2 637.2"/><path d="M630.6 588.7L630.6 581.8"/><path d="M630.6 581.8L630.7 574.8"/><path d="M630.7 574.8L630.8 567.9"/><path d="M630.8 567.9L630.8 561.0"/><path d="M630.8 561.0L630.9 554.0"/><path d="M630.9 554.0L630.9 547.1"/><path d="M630.9 547.1L631.0 540.2"/><path d="M631.0 540.2L631.0 533.2"/><path d="M631.0 533.2L631.1 526.3"/><path d="M631.1 526.3L631.1 519.4"/><path d="M631.1 519.4L631.2 512.5"/><path d="M633.1 468.0L633.2 475.0"/><path d="M633.2 475.0L633.3 481.9"/></g><g stroke="#06225c"><path d="M631.2 512.5L631.3 505.5"/><path d="M631.3 505.5L631.3 498.6"/><path d="M631.3 498.6L631.4 491.7"/><path d="M631.4 491.7L631.4 484.7"/><path d="M631.4 484.7L631.5 477.8"/><path d="M631.5 477.8L631.5 470.9"/><path d="M631.5 470.9L631.6 463.9"/><path d="M631.6 463.9L631.6 457.0"/><path d="M631.6 457.0L633.1 461.0"/><path d="M633.1 461.0L633.1 468.0"/></g></g><g fill="none" stroke-width="2.90" stroke-opacity="0.70"><g stroke="#ecc0ec"><path d="M1389.5 663.3L1390.9 663.3"/><path d="M1390.9 663.3L1392.3 663.3"/><path d="M1392.3 663.3L1393.8 663.3"/><path d="M1393.8 663.3L1395.2 663.3"/><path d="M1395.2 663.3L1396.7 663.4"/><path d="M1396.7 663.4L1398.1 663.4"/><path d="M1398.1 663.4L1399.6 663.4"/><path d="M1399.6 663.4L1401.0 663.4"/><path d="M1401.0 663.4L1402.5 663.4"/><path d="M1402.5 663.4L1403.9 663.4"/><path d="M1403.9 663.4L1405.4 663.4"/><path d="M1405.4 663.4L1406.8 663.4"/><path d="M1406.8 663.4L1408.3 663.4"/><path d="M1408.3 663.4L1409.7 663.5"/><path d="M1409.7 663.5L1411.2 663.5"/><path d="M1411.2 663.5L1412.6 663.5"/><path d="M1412.6 663.5L1414.1 663.5"/><path d="M1414.1 663.5L1415.5 663.5"/><path d="M1415.5 663.5L1417.0 663.5"/><path d="M1417.0 663.5L1418.4 663.5"/><path d="M1418.4 663.5L1419.9 663.5"/><path d="M1419.9 663.5L1421.3 663.5"/><path d="M1421.3 663.5L1422.8 663.5"/><path d="M1422.8 663.5L1424.2 663.5"/><path d="M1424.2 663.5L1425.7 663.5"/><path d="M1425.7 663.5L1427.1 663.5"/><path d="M1427.1 663.5L1428.5 663.5"/><path d="M1428.5 663.5L1430.0 663.5"/><path d="M1430.0 663.5L1431.4 663.5"/><path d="M1431.4 663.5L1432.9 663.6"/><path d="M1432.9 663.6L1434.3 663.6"/><path d="M1434.3 663.6L1435.8 663.6"/><path d="M1435.8 663.6L1437.2 663.6"/><path d="M1437.2 663.6L1438.7 663.6"/><path d="M1438.7 663.6L1440.1 663.6"/><path d="M1440.1 663.6L1441.6 663.6"/><path d="M1441.6 663.6L1443.0 663.6"/><path d="M1443.0 663.6L1444.5 663.6"/><path d="M1444.5 663.6L1445.9 663.6"/><path d="M1445.9 663.6L1447.4 663.6"/><path d="M1447.4 663.6L1448.8 663.6"/><path d="M1448.8 663.6L1450.3 663.6"/><path d="M1450.3 663.6L1451.7 663.6"/><path d="M1451.7 663.6L1453.2 663.6"/><path d="M1453.2 663.6L1454.6 663.6"/><path d="M1454.6 663.6L1456.1 663.6"/><path d="M1456.1 663.6L1457.5 663.6"/><path d="M1457.5 663.6L1459.0 663.6"/><path d="M1459.0 663.6L1460.4 663.6"/><path d="M1460.4 663.6L1461.9 663.6"/><path d="M1461.9 663.6L1463.3 663.6"/><path d="M1463.3 663.6L1464.7 663.7"/><path d="M1464.7 663.7L1466.2 663.7"/><path d="M1466.2 663.7L1467.6 663.7"/><path d="M1467.6 663.7L1469.1 663.7"/><path d="M1469.1 663.7L1470.5 663.7"/><path d="M1470.5 663.7L1472.0 663.7"/><path d="M1472.0 663.7L1473.4 663.7"/><path d="M1473.4 663.7L1474.9 663.7"/><path d="M1474.9 663.7L1476.3 663.7"/><path d="M1476.3 663.7L1477.8 663.7"/><path d="M1477.8 663.7L1479.2 663.7"/><path d="M1479.2 663.7L1480.7 663.7"/><path d="M1480.7 663.7L1482.1 663.7"/><path d="M1482.1 663.7L1483.6 663.7"/><path d="M1483.6 663.7L1485.0 663.7"/><path d="M1485.0 663.7L1486.5 663.7"/><path d="M1486.5 663.7L1487.9 663.7"/><path d="M1487.9 663.7L1489.4 663.7"/><path d="M1489.4 663.7L1490.8 663.7"/><path d="M1490.8 663.7L1492.3 663.7"/><path d="M1492.3 663.7L1493.7 663.7"/></g><g stroke="#eebcdc"><path d="M1382.2 663.1L1383.7 663.2"/><path d="M1383.7 663.2L1385.1 663.2"/><path d="M1385.1 663.2L1386.6 663.2"/><path d="M1386.6 663.2L1388.0 663.2"/><path d="M1388.0 663.2L1389.5 663.3"/></g><g stroke="#f0b8cc"><path d="M707.4 657.3L708.9 657.8"/><path d="M708.9 657.8L710.3 657.8"/><path d="M1377.9 663.0L1379.3 663.0"/><path d="M1379.3 663.0L1380.8 663.1"/><path d="M1380.8 663.1L1382.2 663.1"/></g><g stroke="#f0b5be"><path d="M704.5 654.9L706.0 656.1"/><path d="M706.0 656.1L707.4 657.3"/><path d="M710.3 657.8L711.8 657.8"/><path d="M711.8 657.8L713.2 657.8"/><path d="M713.2 657.8L714.7 657.8"/><path d="M1375.0 662.8L1376.4 662.9"/><path d="M1376.4 662.9L1377.9 663.0"/></g><g stroke="#f0b1b0"><path d="M703.1 653.7L704.5 654.9"/><path d="M714.7 657.8L716.1 657.8"/><path d="M716.1 657.8L717.6 657.7"/><path d="M717.6 657.7L719.0 657.7"/><path d="M1373.5 662.8L1375.0 662.8"/></g><g stroke="#efada2"><path d="M719.0 657.7L720.5 657.6"/><path d="M1295.3 663.0L1296.8 663.0"/><path d="M1296.8 663.0L1298.2 663.0"/><path d="M1298.2 663.0L1299.7 663.0"/><path d="M1299.7 663.0L1301.1 663.0"/><path d="M1301.1 663.0L1302.6 663.0"/><path d="M1302.6 663.0L1304.0 663.0"/><path d="M1304.0 663.0L1305.5 663.0"/><path d="M1305.5 663.0L1306.9 663.0"/><path d="M1306.9 663.0L1308.4 663.1"/><path d="M1308.4 663.1L1309.8 663.1"/><path d="M1309.8 663.1L1311.3 663.0"/><path d="M1372.1 662.7L1373.5 662.8"/></g><g stroke="#eda994"><path d="M720.5 657.6L721.9 657.3"/><path d="M721.9 657.3L723.4 656.8"/><path d="M1282.3 662.9L1283.7 662.9"/><path d="M1283.7 662.9L1285.2 662.9"/><path d="M1285.2 662.9L1286.6 662.9"/><path d="M1286.6 662.9L1288.1 662.9"/><path d="M1288.1 662.9L1289.5 662.9"/><path d="M1289.5 662.9L1291.0 662.9"/><path d="M1291.0 662.9L1292.4 663.0"/><path d="M1292.4 663.0L1293.9 663.0"/><path d="M1293.9 663.0L1295.3 663.0"/></g><g stroke="#eaa589"><path d="M1272.2 662.7L1273.6 662.7"/><path d="M1273.6 662.7L1275.1 662.8"/><path d="M1275.1 662.8L1276.5 662.8"/><path d="M1276.5 662.8L1278.0 662.8"/><path d="M1278.0 662.8L1279.4 662.8"/><path d="M1279.4 662.8L1280.9 662.8"/><path d="M1280.9 662.8L1282.3 662.9"/><path d="M1311.3 663.0L1312.7 662.9"/></g><g stroke="#e7a17d"><path d="M723.4 656.8L724.8 655.6"/><path d="M1270.7 662.6L1272.2 662.7"/></g><g stroke="#e29b70"><path d="M1312.7 662.9L1314.2 662.8"/></g><g stroke="#dd9764"><path d="M1269.3 662.5L1270.7 662.6"/><path d="M1370.6 662.2L1372.1 662.7"/></g><g stroke="#d69558"><path d="M724.8 655.6L726.3 653.5"/><path d="M1267.8 662.4L1269.3 662.5"/><path d="M1314.2 662.8L1315.6 662.7"/></g><g stroke="#ce934d"><path d="M740.7 656.7L742.2 656.8"/><path d="M742.2 656.8L743.6 656.8"/><path d="M743.6 656.8L745.1 656.8"/><path d="M745.1 656.8L746.5 656.7"/><path d="M746.5 656.7L748.0 655.4"/><path d="M1266.4 662.2L1267.8 662.4"/></g><g stroke="#c59144"><path d="M739.3 656.1L740.7 656.7"/><path d="M1264.9 662.1L1266.4 662.2"/><path d="M1315.6 662.7L1317.1 662.7"/></g><g stroke="#bc903b"><path d="M1263.5 662.0L1264.9 662.1"/></g><g stroke="#b28e35"><path d="M748.0 655.4L748.3 648.7"/><path d="M1262.0 661.8L1263.5 662.0"/><path d="M1317.1 662.7L1318.5 662.6"/><path d="M1369.2 661.7L1370.6 662.2"/></g><g stroke="#a78d2e"><path d="M726.3 653.5L727.7 650.6"/><path d="M737.9 654.9L739.3 656.1"/><path d="M748.3 648.7L748.6 642.0"/><path d="M973.9 660.0L975.3 659.4"/><path d="M1254.8 661.4L1256.2 661.5"/><path d="M1256.2 661.5L1257.7 661.6"/><path d="M1257.7 661.6L1259.1 661.7"/><path d="M1259.1 661.7L1260.6 661.7"/><path d="M1260.6 661.7L1262.0 661.8"/></g><g stroke="#9b8a29"><path d="M748.6 642.0L748.9 635.4"/><path d="M759.6 655.1L760.1 648.7"/><path d="M975.3 659.4L976.8 658.0"/><path d="M1249.0 661.0L1250.4 661.1"/><path d="M1250.4 661.1L1251.9 661.2"/><path d="M1251.9 661.2L1253.3 661.3"/><path d="M1253.3 661.3L1254.8 661.4"/></g><g stroke="#908828"><path d="M748.9 635.4L749.1 628.7"/><path d="M861.9 635.7L862.4 628.7"/><path d="M1244.7 660.7L1246.1 660.8"/><path d="M1246.1 660.8L1247.5 660.9"/><path d="M1247.5 660.9L1249.0 661.0"/><path d="M1318.5 662.6L1319.9 662.5"/></g><g stroke="#87862d"><path d="M749.1 628.7L749.4 622.0"/><path d="M758.1 655.6L759.6 655.1"/><path d="M972.4 658.4L973.9 660.0"/><path d="M1240.3 660.4L1241.8 660.5"/><path d="M1241.8 660.5L1243.2 660.6"/><path d="M1243.2 660.6L1244.7 660.7"/></g><g stroke="#7c8432"><path d="M736.4 652.7L737.9 654.9"/><path d="M749.4 622.0L749.6 615.1"/><path d="M757.8 649.9L758.1 655.6"/><path d="M760.1 648.7L760.5 642.2"/><path d="M861.4 642.7L861.9 635.7"/><path d="M976.8 658.0L978.2 656.5"/><path d="M1319.9 662.5L1321.4 662.4"/><path d="M1367.7 661.1L1369.2 661.7"/></g><g stroke="#6f8238"><path d="M762.5 654.8L763.9 656.0"/><path d="M933.3 657.3L934.8 657.5"/><path d="M934.8 657.5L936.2 657.1"/><path d="M1238.9 659.1L1240.3 660.4"/><path d="M1321.4 662.4L1322.8 662.2"/></g><g stroke="#637e3e"><path d="M727.7 650.6L729.2 647.6"/><path d="M749.6 615.1L749.8 608.1"/><path d="M762.0 648.5L762.5 654.8"/><path d="M763.9 656.0L765.4 655.7"/><path d="M860.9 649.6L861.4 642.7"/><path d="M862.4 628.7L863.1 634.3"/><path d="M971.0 656.8L972.4 658.4"/><path d="M978.2 656.5L979.7 655.6"/><path d="M1322.8 662.2L1324.3 662.1"/></g><g stroke="#577a45"><path d="M749.8 608.1L749.9 601.2"/><path d="M757.5 644.1L757.8 649.9"/><path d="M760.5 642.2L761.0 635.8"/><path d="M761.5 642.1L762.0 648.5"/><path d="M1024.6 598.0L1026.0 599.0"/><path d="M1324.3 662.1L1325.7 661.9"/><path d="M1325.7 661.9L1327.2 661.8"/></g><g stroke="#4b764c"><path d="M735.0 649.7L736.4 652.7"/><path d="M749.9 601.2L750.1 594.3"/><path d="M761.0 635.8L761.5 642.1"/><path d="M765.4 655.7L766.8 654.9"/><path d="M866.7 654.4L868.2 653.1"/><path d="M931.9 656.2L933.3 657.3"/><path d="M969.5 655.2L971.0 656.8"/><path d="M979.7 655.6L981.1 652.7"/><path d="M1024.3 604.3L1024.6 598.0"/><path d="M1026.0 599.0L1026.2 605.5"/><path d="M1237.4 657.4L1238.9 659.1"/><path d="M1327.2 661.8L1328.6 661.6"/></g><g stroke="#3f7153"><path d="M750.1 594.3L750.2 587.3"/><path d="M757.3 638.4L757.5 644.1"/><path d="M766.8 654.9L768.3 653.3"/><path d="M824.7 643.0L826.2 636.0"/><path d="M865.3 652.9L866.7 654.4"/><path d="M936.2 657.1L937.7 656.6"/><path d="M1328.6 661.6L1330.1 661.5"/><path d="M1366.3 660.5L1367.7 661.1"/></g><g stroke="#376e58"><path d="M1024.1 610.5L1024.3 604.3"/><path d="M1026.2 605.5L1026.4 612.1"/><path d="M1330.1 661.5L1331.5 661.3"/></g><g stroke="#326b5b"><path d="M729.2 647.6L730.6 645.5"/><path d="M750.2 587.3L750.4 580.4"/><path d="M757.0 632.7L757.3 638.4"/><path d="M868.2 653.1L869.6 651.0"/><path d="M930.4 655.2L931.9 656.2"/><path d="M968.1 653.7L969.5 655.2"/><path d="M981.1 652.7L982.6 652.6"/><path d="M982.6 652.6L984.0 655.2"/><path d="M984.0 655.2L985.5 655.1"/><path d="M1023.9 616.8L1024.1 610.5"/><path d="M1026.4 612.1L1026.6 618.6"/><path d="M1236.0 655.2L1237.4 657.4"/><path d="M1331.5 661.3L1333.0 661.1"/></g><g stroke="#2d685e"><path d="M733.5 646.9L735.0 649.7"/><path d="M750.4 580.4L750.6 573.5"/><path d="M768.3 653.3L769.0 647.2"/><path d="M826.2 636.0L827.6 636.2"/><path d="M864.6 646.5L865.3 652.9"/><path d="M937.7 656.6L939.1 656.0"/><path d="M985.5 655.1L986.9 655.0"/><path d="M1026.6 618.6L1026.8 625.1"/><path d="M1033.2 654.0L1034.7 653.7"/><path d="M1034.7 653.7L1036.1 652.2"/><path d="M1333.0 661.1L1334.4 660.9"/></g><g stroke="#286561"><path d="M750.6 573.5L750.7 566.5"/><path d="M753.8 650.8L753.9 644.3"/><path d="M827.6 636.2L828.1 631.0"/><path d="M929.0 654.1L930.4 655.2"/><path d="M986.9 655.0L988.4 654.9"/><path d="M1023.7 623.1L1023.9 616.8"/><path d="M1031.8 652.8L1033.2 654.0"/><path d="M1082.5 657.7L1083.9 658.6"/><path d="M1083.9 658.6L1085.4 658.1"/><path d="M1085.4 658.1L1086.8 657.6"/><path d="M1086.8 657.6L1088.3 657.0"/><path d="M1088.3 657.0L1089.7 656.4"/><path d="M1089.7 656.4L1091.2 655.6"/><path d="M1091.2 655.6L1092.6 654.4"/><path d="M1334.4 660.9L1335.9 660.6"/><path d="M1364.8 659.8L1366.3 660.5"/></g><g stroke="#225e5f"><path d="M730.6 645.5L732.1 645.2"/><path d="M751.6 601.5L751.7 608.5"/><path d="M751.7 608.5L751.8 615.5"/><path d="M751.8 615.5L751.9 622.4"/><path d="M751.9 622.4L752.0 629.4"/><path d="M752.0 629.4L752.1 636.4"/><path d="M752.1 636.4L752.2 643.4"/><path d="M752.2 643.4L752.3 650.4"/><path d="M752.3 650.4L753.8 650.8"/><path d="M753.9 644.3L754.0 637.8"/><path d="M754.0 637.8L754.1 631.3"/><path d="M754.1 631.3L754.2 624.8"/><path d="M754.2 624.8L754.3 618.3"/><path d="M754.3 618.3L754.4 611.8"/><path d="M754.4 611.8L754.6 605.4"/><path d="M754.6 605.4L754.7 598.9"/><path d="M756.7 627.0L757.0 632.7"/><path d="M769.0 647.2L769.7 641.2"/><path d="M869.6 651.0L871.1 646.3"/><path d="M966.6 652.1L968.1 653.7"/><path d="M988.4 654.9L989.8 654.7"/><path d="M1023.5 629.3L1023.7 623.1"/><path d="M1026.8 625.1L1027.0 631.7"/><path d="M1036.1 652.2L1036.5 645.9"/><path d="M1036.5 645.9L1036.9 639.7"/><path d="M1081.0 656.2L1082.5 657.7"/><path d="M1196.5 610.4L1196.7 604.2"/><path d="M1196.7 604.2L1196.9 598.0"/><path d="M1196.9 598.0L1197.0 604.2"/><path d="M1197.0 604.2L1197.2 610.4"/><path d="M1197.2 610.4L1197.4 616.5"/><path d="M1335.9 660.6L1337.3 660.3"/></g><g stroke="#1c555c"><path d="M732.1 645.2L733.5 646.9"/><path d="M750.7 566.5L750.9 559.6"/><path d="M750.9 559.6L751.0 566.6"/><path d="M751.0 566.6L751.1 573.6"/><path d="M751.1 573.6L751.2 580.5"/><path d="M751.2 580.5L751.3 587.5"/><path d="M751.3 587.5L751.4 594.5"/><path d="M751.4 594.5L751.6 601.5"/><path d="M754.7 598.9L754.8 592.4"/><path d="M754.8 592.4L754.9 585.9"/><path d="M754.9 585.9L755.0 579.4"/><path d="M755.0 579.4L755.1 572.9"/><path d="M755.1 572.9L755.2 566.4"/><path d="M755.2 566.4L755.4 573.1"/><path d="M755.4 573.1L755.5 579.9"/><path d="M755.5 579.9L755.7 586.6"/><path d="M755.7 586.6L755.9 593.3"/><path d="M755.9 593.3L756.0 600.1"/><path d="M756.0 600.1L756.2 606.8"/><path d="M756.2 606.8L756.4 613.5"/><path d="M756.4 613.5L756.5 620.3"/><path d="M756.5 620.3L756.7 627.0"/><path d="M769.7 641.2L771.2 650.5"/><path d="M771.2 650.5L771.6 644.9"/><path d="M776.9 640.0L778.4 634.0"/><path d="M939.1 656.0L940.6 655.0"/><path d="M989.8 654.7L991.3 654.5"/><path d="M995.6 655.3L997.0 656.1"/><path d="M997.0 656.1L998.5 656.4"/><path d="M998.5 656.4L999.9 656.6"/><path d="M999.9 656.6L1001.4 656.2"/><path d="M1001.4 656.2L1002.8 655.7"/><path d="M1027.0 631.7L1027.2 638.2"/><path d="M1030.3 651.5L1031.8 652.8"/><path d="M1036.9 639.7L1037.2 633.4"/><path d="M1037.2 633.4L1037.6 627.1"/><path d="M1037.6 627.1L1039.0 626.3"/><path d="M1039.0 626.3L1039.4 632.2"/><path d="M1039.4 632.2L1039.8 638.1"/><path d="M1039.8 638.1L1040.1 644.0"/><path d="M1079.6 654.6L1081.0 656.2"/><path d="M1092.6 654.4L1094.1 652.5"/><path d="M1133.0 563.7L1133.2 557.0"/><path d="M1133.2 557.0L1133.3 563.7"/><path d="M1133.3 563.7L1133.4 570.5"/><path d="M1135.9 567.4L1136.1 561.0"/><path d="M1136.1 561.0L1136.2 567.7"/><path d="M1154.7 107.3L1154.7 100.3"/><path d="M1154.7 100.3L1154.8 93.3"/><path d="M1154.8 93.3L1154.8 86.3"/><path d="M1154.8 86.3L1154.8 79.3"/><path d="M1154.8 79.3L1154.8 72.4"/><path d="M1154.8 72.4L1154.9 65.4"/><path d="M1154.9 65.4L1154.9 58.4"/><path d="M1154.9 58.4L1155.2 52.2"/><path d="M1155.2 52.2L1155.6 45.9"/><path d="M1155.6 45.9L1156.0 39.7"/><path d="M1156.0 39.7L1156.3 33.5"/><path d="M1156.3 33.5L1156.4 40.4"/><path d="M1156.4 40.4L1156.4 47.4"/><path d="M1196.1 622.7L1196.3 616.5"/><path d="M1196.3 616.5L1196.5 610.4"/><path d="M1197.4 616.5L1197.6 622.7"/><path d="M1197.6 622.7L1197.8 628.9"/><path d="M1337.3 660.3L1338.8 659.9"/></g><g stroke="#184d5c"><path d="M771.6 644.9L772.1 639.3"/><path d="M773.6 644.2L774.1 649.4"/><path d="M774.1 649.4L775.5 649.0"/><path d="M775.5 649.0L776.9 640.0"/><path d="M823.3 636.1L824.7 643.0"/><path d="M828.1 631.0L828.6 625.9"/><path d="M832.0 650.9L833.4 644.1"/><path d="M863.1 634.3L863.8 640.0"/><path d="M871.1 646.3L872.5 644.0"/><path d="M927.5 653.1L929.0 654.1"/><path d="M965.2 650.5L966.6 652.1"/><path d="M991.3 654.5L991.7 649.8"/><path d="M991.7 649.8L992.2 645.2"/><path d="M994.6 645.6L995.1 650.5"/><path d="M995.1 650.5L995.6 655.3"/><path d="M1002.8 655.7L1004.3 653.1"/><path d="M1008.6 653.6L1010.1 653.1"/><path d="M1023.3 635.6L1023.5 629.3"/><path d="M1040.1 644.0L1040.5 649.9"/><path d="M1040.5 649.9L1041.9 649.9"/><path d="M1078.1 653.0L1079.6 654.6"/><path d="M1132.4 597.2L1132.6 590.5"/><path d="M1132.6 590.5L1132.7 583.8"/><path d="M1132.7 583.8L1132.8 577.1"/><path d="M1132.8 577.1L1132.9 570.4"/><path d="M1132.9 570.4L1133.0 563.7"/><path d="M1133.4 570.5L1133.6 577.2"/><path d="M1133.6 577.2L1133.7 584.0"/><path d="M1133.7 584.0L1133.8 590.7"/><path d="M1133.8 590.7L1133.9 597.4"/><path d="M1133.9 597.4L1134.1 604.2"/><path d="M1135.1 605.6L1135.3 599.3"/><path d="M1135.3 599.3L1135.4 592.9"/><path d="M1135.4 592.9L1135.5 586.5"/><path d="M1135.5 586.5L1135.7 580.1"/><path d="M1135.7 580.1L1135.8 573.8"/><path d="M1135.8 573.8L1135.9 567.4"/><path d="M1136.2 567.7L1136.3 574.5"/><path d="M1136.3 574.5L1136.4 581.2"/><path d="M1136.4 581.2L1136.6 588.0"/><path d="M1154.0 344.6L1154.0 337.6"/><path d="M1154.0 337.6L1154.0 330.7"/><path d="M1154.0 330.7L1154.1 323.7"/><path d="M1154.1 323.7L1154.1 316.7"/><path d="M1154.1 316.7L1154.1 309.7"/><path d="M1154.1 309.7L1154.1 302.7"/><path d="M1154.1 302.7L1154.2 295.8"/><path d="M1154.2 295.8L1154.2 288.8"/><path d="M1154.2 288.8L1154.2 281.8"/><path d="M1154.2 281.8L1154.2 274.8"/><path d="M1154.2 274.8L1154.2 267.8"/><path d="M1154.2 267.8L1154.3 260.8"/><path d="M1154.3 260.8L1154.3 253.9"/><path d="M1154.3 253.9L1154.3 246.9"/><path d="M1154.3 246.9L1154.3 239.9"/><path d="M1154.3 239.9L1154.3 232.9"/><path d="M1154.3 232.9L1154.4 225.9"/><path d="M1154.4 225.9L1154.4 219.0"/><path d="M1154.4 219.0L1154.4 212.0"/><path d="M1154.4 212.0L1154.4 205.0"/><path d="M1154.4 205.0L1154.5 198.0"/><path d="M1154.5 198.0L1154.5 191.0"/><path d="M1154.5 191.0L1154.5 184.1"/><path d="M1154.5 184.1L1154.5 177.1"/><path d="M1154.5 177.1L1154.5 170.1"/><path d="M1154.5 170.1L1154.6 163.1"/><path d="M1154.6 163.1L1154.6 156.1"/><path d="M1154.6 156.1L1154.6 149.2"/><path d="M1154.6 149.2L1154.6 142.2"/><path d="M1154.6 142.2L1154.6 135.2"/><path d="M1154.6 135.2L1154.7 128.2"/><path d="M1154.7 128.2L1154.7 121.2"/><path d="M1154.7 121.2L1154.7 114.2"/><path d="M1154.7 114.2L1154.7 107.3"/><path d="M1156.4 47.4L1156.4 54.3"/><path d="M1156.4 54.3L1156.4 61.2"/><path d="M1156.4 61.2L1156.5 68.2"/><path d="M1156.5 68.2L1156.5 75.1"/><path d="M1156.5 75.1L1156.5 82.1"/><path d="M1156.5 82.1L1156.6 89.0"/><path d="M1156.6 89.0L1156.6 95.9"/><path d="M1156.6 95.9L1156.6 102.9"/><path d="M1156.6 102.9L1156.7 109.8"/><path d="M1156.7 109.8L1156.7 116.7"/><path d="M1156.7 116.7L1156.7 123.7"/><path d="M1156.7 123.7L1156.8 130.6"/><path d="M1156.8 130.6L1156.8 137.6"/><path d="M1156.8 137.6L1156.8 144.5"/><path d="M1156.8 144.5L1156.8 151.4"/><path d="M1156.8 151.4L1156.9 158.4"/><path d="M1156.9 158.4L1156.9 165.3"/><path d="M1156.9 165.3L1156.9 172.2"/><path d="M1156.9 172.2L1157.0 179.2"/><path d="M1157.0 179.2L1157.0 186.1"/><path d="M1157.0 186.1L1157.0 193.0"/><path d="M1157.0 193.0L1157.1 200.0"/><path d="M1157.1 200.0L1157.1 206.9"/><path d="M1157.1 206.9L1157.1 213.9"/><path d="M1157.1 213.9L1157.2 220.8"/><path d="M1157.2 220.8L1157.2 227.7"/><path d="M1157.2 227.7L1157.2 234.7"/><path d="M1157.2 234.7L1157.2 241.6"/><path d="M1195.8 635.1L1196.0 628.9"/><path d="M1196.0 628.9L1196.1 622.7"/><path d="M1197.8 628.9L1198.0 635.1"/><path d="M1198.0 635.1L1198.1 641.3"/><path d="M1338.8 659.9L1340.2 659.5"/><path d="M1363.4 659.2L1364.8 659.8"/></g><g stroke="#14465c"><path d="M772.1 639.3L772.6 633.7"/><path d="M772.6 633.7L773.1 638.9"/><path d="M773.1 638.9L773.6 644.2"/><path d="M800.0 538.3L800.1 531.6"/><path d="M800.1 531.6L800.2 538.3"/><path d="M800.2 538.3L800.3 545.1"/><path d="M800.3 545.1L800.4 551.8"/><path d="M800.4 551.8L800.5 558.5"/><path d="M800.5 558.5L800.6 565.3"/><path d="M800.6 565.3L800.7 572.0"/><path d="M800.7 572.0L800.8 578.8"/><path d="M800.8 578.8L800.9 585.5"/><path d="M800.9 585.5L801.0 592.2"/><path d="M801.0 592.2L801.2 599.0"/><path d="M801.2 599.0L801.3 605.7"/><path d="M801.3 605.7L801.4 612.4"/><path d="M801.4 612.4L801.5 619.2"/><path d="M801.5 619.2L801.6 625.9"/><path d="M801.6 625.9L801.7 619.4"/><path d="M801.7 619.4L801.8 612.8"/><path d="M801.8 612.8L801.9 606.3"/><path d="M801.9 606.3L802.0 599.8"/><path d="M802.0 599.8L802.1 593.3"/><path d="M802.1 593.3L802.2 586.7"/><path d="M802.2 586.7L802.3 580.2"/><path d="M802.3 580.2L802.5 573.7"/><path d="M802.5 573.7L802.6 567.1"/><path d="M802.6 567.1L802.7 560.6"/><path d="M802.7 560.6L802.8 554.1"/><path d="M802.8 554.1L802.9 547.5"/><path d="M802.9 547.5L803.0 541.0"/><path d="M803.0 541.0L803.1 547.7"/><path d="M803.1 547.7L803.3 554.5"/><path d="M803.3 554.5L803.4 561.2"/><path d="M803.4 561.2L803.5 567.9"/><path d="M803.5 567.9L803.6 574.7"/><path d="M803.6 574.7L803.7 581.4"/><path d="M803.7 581.4L803.9 588.1"/><path d="M803.9 588.1L804.0 594.8"/><path d="M804.0 594.8L804.1 601.6"/><path d="M804.1 601.6L804.2 608.3"/><path d="M804.2 608.3L804.3 615.0"/><path d="M804.3 615.0L804.5 621.8"/><path d="M804.5 621.8L804.5 614.8"/><path d="M804.5 614.8L804.6 607.9"/><path d="M804.6 607.9L804.7 600.9"/><path d="M804.7 600.9L804.7 594.0"/><path d="M804.7 594.0L804.8 587.0"/><path d="M804.8 587.0L804.9 580.1"/><path d="M804.9 580.1L804.9 573.1"/><path d="M804.9 573.1L805.0 566.1"/><path d="M805.0 566.1L805.1 559.2"/><path d="M805.1 559.2L805.1 552.2"/><path d="M805.1 552.2L805.2 545.3"/><path d="M805.2 545.3L805.2 538.3"/><path d="M805.2 538.3L805.3 531.4"/><path d="M805.3 531.4L805.4 524.4"/><path d="M805.4 524.4L805.4 517.5"/><path d="M805.4 517.5L805.5 510.5"/><path d="M805.5 510.5L805.6 503.6"/><path d="M805.6 503.6L805.6 496.6"/><path d="M805.6 496.6L805.7 489.7"/><path d="M805.7 489.7L805.8 482.7"/><path d="M805.8 482.7L805.8 475.8"/><path d="M805.8 475.8L805.9 468.8"/><path d="M805.9 468.8L806.0 462.2"/><path d="M806.0 462.2L806.2 455.7"/><path d="M806.2 455.7L806.3 449.1"/><path d="M810.7 492.9L810.7 499.6"/><path d="M810.7 499.6L810.8 506.4"/><path d="M810.8 506.4L810.8 513.1"/><path d="M810.8 513.1L810.9 519.8"/><path d="M810.9 519.8L810.9 526.6"/><path d="M810.9 526.6L811.0 533.3"/><path d="M811.0 533.3L811.1 540.1"/><path d="M811.1 540.1L811.1 546.8"/><path d="M811.1 546.8L811.2 553.5"/><path d="M811.2 553.5L811.2 560.3"/><path d="M811.2 560.3L811.3 567.0"/><path d="M811.3 567.0L811.4 573.8"/><path d="M811.4 573.8L811.4 580.5"/><path d="M811.4 580.5L811.5 587.2"/><path d="M811.5 587.2L811.5 594.0"/><path d="M811.5 594.0L811.6 600.7"/><path d="M811.6 600.7L811.6 607.5"/><path d="M811.6 607.5L811.7 614.2"/><path d="M811.7 614.2L811.8 607.6"/><path d="M811.8 607.6L811.9 601.0"/><path d="M811.9 601.0L811.9 594.3"/><path d="M811.9 594.3L812.0 587.7"/><path d="M812.0 587.7L812.1 581.1"/><path d="M812.1 581.1L812.2 574.5"/><path d="M812.2 574.5L812.3 567.9"/><path d="M812.3 567.9L812.3 561.2"/><path d="M812.3 561.2L812.4 554.6"/><path d="M812.4 554.6L812.5 548.0"/><path d="M812.5 548.0L812.6 541.4"/><path d="M812.6 541.4L812.7 534.7"/><path d="M812.7 534.7L812.7 528.1"/><path d="M812.7 528.1L812.8 521.5"/><path d="M812.8 521.5L812.9 514.9"/><path d="M812.9 514.9L813.0 508.2"/><path d="M813.0 508.2L813.1 501.6"/><path d="M813.1 501.6L813.1 495.0"/><path d="M813.1 495.0L813.2 501.9"/><path d="M813.2 501.9L813.3 508.9"/><path d="M813.3 508.9L813.4 515.8"/><path d="M813.4 515.8L813.5 522.7"/><path d="M813.5 522.7L813.5 529.6"/><path d="M813.5 529.6L813.6 536.6"/><path d="M813.6 536.6L813.7 543.5"/><path d="M813.7 543.5L813.8 550.4"/><path d="M813.8 550.4L813.8 557.4"/><path d="M813.8 557.4L813.9 564.3"/><path d="M813.9 564.3L814.0 571.2"/><path d="M814.0 571.2L814.1 578.1"/><path d="M814.1 578.1L814.1 585.1"/><path d="M814.1 585.1L814.2 592.0"/><path d="M814.2 592.0L814.3 598.9"/><path d="M814.3 598.9L814.4 605.9"/><path d="M814.4 605.9L814.4 612.8"/><path d="M814.4 612.8L814.5 619.7"/><path d="M814.5 619.7L814.6 626.6"/><path d="M814.6 626.6L816.0 632.8"/><path d="M822.6 630.5L823.3 636.1"/><path d="M830.2 641.1L830.5 647.9"/><path d="M830.5 647.9L832.0 650.9"/><path d="M838.3 598.6L838.4 591.9"/><path d="M838.4 591.9L838.5 585.2"/><path d="M838.5 585.2L838.6 578.4"/><path d="M838.6 578.4L838.7 571.7"/><path d="M838.7 571.7L838.8 565.0"/><path d="M838.8 565.0L838.9 558.2"/><path d="M838.9 558.2L838.9 551.5"/><path d="M838.9 551.5L839.0 544.8"/><path d="M839.0 544.8L839.1 538.0"/><path d="M839.1 538.0L839.2 531.3"/><path d="M839.2 531.3L839.4 538.2"/><path d="M839.4 538.2L839.5 545.0"/><path d="M839.5 545.0L839.6 551.9"/><path d="M839.6 551.9L839.8 558.8"/><path d="M839.8 558.8L839.9 565.6"/><path d="M839.9 565.6L840.1 572.5"/><path d="M840.1 572.5L840.2 579.4"/><path d="M840.2 579.4L840.4 586.3"/><path d="M840.4 586.3L840.5 593.1"/><path d="M840.5 593.1L840.7 600.0"/><path d="M840.7 600.0L840.7 593.1"/><path d="M840.7 593.1L840.7 586.2"/><path d="M840.7 586.2L840.8 579.4"/><path d="M840.8 579.4L840.8 572.5"/><path d="M840.8 572.5L840.9 565.6"/><path d="M840.9 565.6L840.9 558.7"/><path d="M840.9 558.7L840.9 551.9"/><path d="M872.5 644.0L873.2 638.7"/><path d="M873.2 638.7L874.0 633.4"/><path d="M874.0 633.4L874.0 626.6"/><path d="M874.0 626.6L874.1 619.8"/><path d="M874.1 619.8L874.1 613.0"/><path d="M874.1 613.0L874.2 606.2"/><path d="M874.2 606.2L874.2 599.4"/><path d="M874.2 599.4L874.3 592.6"/><path d="M874.3 592.6L874.3 585.8"/><path d="M874.3 585.8L874.4 579.0"/><path d="M874.4 579.0L874.4 572.2"/><path d="M874.4 572.2L874.5 565.4"/><path d="M874.5 565.4L874.6 558.6"/><path d="M874.6 558.6L874.6 551.8"/><path d="M874.6 551.8L874.7 545.0"/><path d="M874.7 545.0L874.7 538.2"/><path d="M874.7 538.2L874.8 531.4"/><path d="M874.8 531.4L874.8 524.6"/><path d="M874.8 524.6L874.9 517.9"/><path d="M874.9 517.9L874.9 511.1"/><path d="M874.9 511.1L875.0 504.3"/><path d="M875.0 504.3L875.0 497.5"/><path d="M875.0 497.5L875.1 490.7"/><path d="M875.1 490.7L875.1 483.9"/><path d="M875.1 483.9L875.2 477.1"/><path d="M875.2 477.1L875.3 470.3"/><path d="M875.3 470.3L875.3 463.5"/><path d="M875.3 463.5L875.4 456.7"/><path d="M875.4 456.7L875.4 449.9"/><path d="M875.4 449.9L875.5 456.6"/><path d="M875.5 456.6L875.5 463.3"/><path d="M875.5 463.3L875.6 470.1"/><path d="M875.6 470.1L875.7 476.8"/><path d="M875.7 476.8L875.7 483.5"/><path d="M926.1 652.1L927.5 653.1"/><path d="M992.2 645.2L992.7 640.5"/><path d="M992.7 640.5L994.1 640.8"/><path d="M994.1 640.8L994.6 645.6"/><path d="M1010.1 653.1L1011.5 652.6"/><path d="M1011.5 652.6L1013.0 652.1"/><path d="M1013.0 652.1L1014.4 651.5"/><path d="M1014.4 651.5L1015.9 650.8"/><path d="M1015.9 650.8L1017.3 649.9"/><path d="M1023.1 641.9L1023.3 635.6"/><path d="M1027.2 638.2L1027.5 644.8"/><path d="M1028.9 649.6L1030.3 651.5"/><path d="M1041.9 649.9L1043.4 649.0"/><path d="M1043.4 649.0L1044.8 648.5"/><path d="M1076.7 651.5L1078.1 653.0"/><path d="M1131.8 630.7L1131.9 624.0"/><path d="M1131.9 624.0L1132.1 617.3"/><path d="M1132.1 617.3L1132.2 610.6"/><path d="M1132.2 610.6L1132.3 603.9"/><path d="M1132.3 603.9L1132.4 597.2"/><path d="M1134.1 604.2L1134.2 610.9"/><path d="M1134.2 610.9L1134.3 617.7"/><path d="M1134.3 617.7L1134.5 624.4"/><path d="M1134.5 624.4L1134.6 631.1"/><path d="M1134.6 631.1L1134.7 624.8"/><path d="M1134.7 624.8L1134.9 618.4"/><path d="M1134.9 618.4L1135.0 612.0"/><path d="M1135.0 612.0L1135.1 605.6"/><path d="M1136.6 588.0L1136.7 594.7"/><path d="M1136.7 594.7L1136.8 601.5"/><path d="M1136.8 601.5L1137.0 608.2"/><path d="M1137.0 608.2L1137.1 614.9"/><path d="M1153.2 539.2L1153.4 533.1"/><path d="M1153.4 533.1L1153.4 526.1"/><path d="M1153.4 526.1L1153.5 519.1"/><path d="M1153.5 519.1L1153.5 512.2"/><path d="M1153.5 512.2L1153.5 505.2"/><path d="M1153.5 505.2L1153.5 498.2"/><path d="M1153.5 498.2L1153.6 491.2"/><path d="M1153.6 491.2L1153.6 484.2"/><path d="M1153.6 484.2L1153.6 477.3"/><path d="M1153.6 477.3L1153.6 470.3"/><path d="M1153.6 470.3L1153.6 463.3"/><path d="M1153.6 463.3L1153.7 456.3"/><path d="M1153.7 456.3L1153.7 449.3"/><path d="M1153.7 449.3L1153.7 442.4"/><path d="M1153.7 442.4L1153.7 435.4"/><path d="M1153.7 435.4L1153.7 428.4"/><path d="M1153.7 428.4L1153.8 421.4"/><path d="M1153.8 421.4L1153.8 414.4"/><path d="M1153.8 414.4L1153.8 407.4"/><path d="M1153.8 407.4L1153.8 400.5"/><path d="M1153.8 400.5L1153.9 393.5"/><path d="M1153.9 393.5L1153.9 386.5"/><path d="M1153.9 386.5L1153.9 379.5"/><path d="M1153.9 379.5L1153.9 372.5"/><path d="M1153.9 372.5L1153.9 365.6"/><path d="M1153.9 365.6L1154.0 358.6"/><path d="M1154.0 358.6L1154.0 351.6"/><path d="M1154.0 351.6L1154.0 344.6"/><path d="M1157.2 241.6L1157.3 248.5"/><path d="M1157.3 248.5L1157.3 255.5"/><path d="M1157.3 255.5L1157.3 262.4"/><path d="M1157.3 262.4L1157.4 269.3"/><path d="M1157.4 269.3L1157.4 276.3"/><path d="M1157.4 276.3L1157.4 283.2"/><path d="M1157.4 283.2L1157.5 290.2"/><path d="M1157.5 290.2L1157.5 297.1"/><path d="M1157.5 297.1L1157.5 304.0"/><path d="M1157.5 304.0L1157.6 311.0"/><path d="M1157.6 311.0L1157.6 317.9"/><path d="M1157.6 317.9L1157.6 324.8"/><path d="M1157.6 324.8L1157.6 331.8"/><path d="M1157.6 331.8L1157.7 338.7"/><path d="M1157.7 338.7L1157.7 345.7"/><path d="M1157.7 345.7L1157.7 352.6"/><path d="M1157.7 352.6L1157.8 359.5"/><path d="M1157.8 359.5L1158.1 365.2"/><path d="M1195.4 647.4L1195.6 641.2"/><path d="M1195.6 641.2L1195.8 635.1"/><path d="M1198.1 641.3L1198.3 647.4"/><path d="M1198.3 647.4L1199.8 650.8"/><path d="M1340.2 659.5L1341.7 658.9"/><path d="M1341.7 658.9L1343.1 658.2"/><path d="M1361.9 658.5L1363.4 659.2"/></g><g stroke="#103e5c"><path d="M778.4 634.0L778.5 627.2"/><path d="M778.5 627.2L778.5 620.5"/><path d="M778.5 620.5L778.6 613.7"/><path d="M778.6 613.7L778.7 607.0"/><path d="M778.7 607.0L778.8 600.2"/><path d="M778.8 600.2L778.8 593.5"/><path d="M778.8 593.5L778.9 586.7"/><path d="M778.9 586.7L779.0 580.0"/><path d="M779.0 580.0L779.0 573.2"/><path d="M779.0 573.2L779.1 566.5"/><path d="M779.1 566.5L779.2 559.7"/><path d="M779.2 559.7L779.3 553.0"/><path d="M779.3 553.0L779.3 546.2"/><path d="M779.3 546.2L779.4 539.5"/><path d="M779.4 539.5L779.5 532.7"/><path d="M779.5 532.7L779.6 526.0"/><path d="M779.6 526.0L779.6 519.2"/><path d="M779.6 519.2L779.7 512.5"/><path d="M779.7 512.5L779.8 505.7"/><path d="M779.8 505.7L779.8 499.0"/><path d="M779.8 499.0L779.9 505.8"/><path d="M779.9 505.8L780.0 512.7"/><path d="M780.0 512.7L780.1 519.5"/><path d="M780.1 519.5L780.1 526.3"/><path d="M780.1 526.3L780.2 533.1"/><path d="M780.2 533.1L780.3 540.0"/><path d="M780.3 540.0L780.4 546.8"/><path d="M780.4 546.8L780.4 553.6"/><path d="M780.4 553.6L780.5 560.4"/><path d="M780.5 560.4L780.6 567.3"/><path d="M780.6 567.3L780.6 574.1"/><path d="M780.6 574.1L780.7 580.9"/><path d="M780.7 580.9L780.8 587.7"/><path d="M780.8 587.7L780.9 594.6"/><path d="M780.9 594.6L780.9 601.4"/><path d="M780.9 601.4L781.0 608.2"/><path d="M781.0 608.2L781.1 615.0"/><path d="M781.1 615.0L781.1 621.9"/><path d="M781.1 621.9L781.2 628.7"/><path d="M781.2 628.7L781.3 635.5"/><path d="M781.3 635.5L782.7 629.8"/><path d="M799.6 551.7L799.8 545.0"/><path d="M799.8 545.0L800.0 538.3"/><path d="M806.3 449.1L806.4 442.5"/><path d="M806.4 442.5L806.6 436.0"/><path d="M806.6 436.0L806.7 429.4"/><path d="M806.7 429.4L806.8 422.9"/><path d="M806.8 422.9L807.0 416.3"/><path d="M807.0 416.3L807.1 409.7"/><path d="M807.1 409.7L807.2 403.2"/><path d="M807.2 403.2L807.4 396.6"/><path d="M807.4 396.6L807.4 403.5"/><path d="M807.4 403.5L807.4 410.3"/><path d="M807.4 410.3L807.5 417.2"/><path d="M807.5 417.2L807.5 424.0"/><path d="M807.5 424.0L807.6 430.9"/><path d="M807.6 430.9L807.6 437.7"/><path d="M807.6 437.7L807.7 444.6"/><path d="M807.7 444.6L807.7 451.4"/><path d="M807.7 451.4L807.8 458.3"/><path d="M807.8 458.3L807.8 465.2"/><path d="M807.8 465.2L807.9 472.0"/><path d="M807.9 472.0L807.9 478.9"/><path d="M807.9 478.9L808.0 485.7"/><path d="M808.0 485.7L808.0 492.6"/><path d="M808.0 492.6L808.1 499.4"/><path d="M808.1 499.4L808.1 506.3"/><path d="M808.1 506.3L808.2 513.2"/><path d="M808.2 513.2L808.2 520.0"/><path d="M808.2 520.0L808.2 526.9"/><path d="M808.2 526.9L808.3 533.7"/><path d="M808.3 533.7L808.3 540.6"/><path d="M808.3 540.6L808.4 547.4"/><path d="M808.4 547.4L808.4 554.3"/><path d="M808.4 554.3L808.5 561.1"/><path d="M808.5 561.1L808.5 568.0"/><path d="M808.5 568.0L808.6 574.9"/><path d="M808.6 574.9L808.6 581.7"/><path d="M808.6 581.7L808.7 588.6"/><path d="M808.7 588.6L808.7 595.4"/><path d="M808.7 595.4L808.8 602.3"/><path d="M808.8 602.3L808.8 609.1"/><path d="M808.8 609.1L808.9 602.3"/><path d="M808.9 602.3L808.9 595.5"/><path d="M808.9 595.5L809.0 588.7"/><path d="M809.0 588.7L809.0 581.9"/><path d="M809.0 581.9L809.1 575.1"/><path d="M809.1 575.1L809.2 568.3"/><path d="M809.2 568.3L809.2 561.5"/><path d="M809.2 561.5L809.3 554.7"/><path d="M809.3 554.7L809.3 547.8"/><path d="M809.3 547.8L809.4 541.0"/><path d="M809.4 541.0L809.5 534.2"/><path d="M809.5 534.2L809.5 527.4"/><path d="M809.5 527.4L809.6 520.6"/><path d="M809.6 520.6L809.6 513.8"/><path d="M809.6 513.8L809.7 507.0"/><path d="M809.7 507.0L809.8 500.2"/><path d="M809.8 500.2L809.8 493.4"/><path d="M809.8 493.4L809.9 486.6"/><path d="M809.9 486.6L810.0 479.7"/><path d="M810.0 479.7L810.0 472.9"/><path d="M810.0 472.9L810.1 466.1"/><path d="M810.1 466.1L810.1 459.3"/><path d="M810.1 459.3L810.2 452.5"/><path d="M810.2 452.5L810.3 445.7"/><path d="M810.3 445.7L810.3 452.4"/><path d="M810.3 452.4L810.4 459.2"/><path d="M810.4 459.2L810.4 465.9"/><path d="M810.4 465.9L810.5 472.7"/><path d="M810.5 472.7L810.5 479.4"/><path d="M810.5 479.4L810.6 486.1"/><path d="M810.6 486.1L810.7 492.9"/><path d="M828.6 625.9L829.1 620.7"/><path d="M829.4 627.5L829.8 634.3"/><path d="M829.8 634.3L830.2 641.1"/><path d="M836.9 579.4L837.0 586.0"/><path d="M837.0 586.0L837.1 592.6"/><path d="M837.1 592.6L837.2 599.3"/><path d="M837.2 599.3L837.3 605.9"/><path d="M837.3 605.9L837.4 612.5"/><path d="M837.4 612.5L837.5 619.2"/><path d="M837.5 619.2L837.6 625.8"/><path d="M837.6 625.8L837.7 632.4"/><path d="M837.7 632.4L837.8 639.0"/><path d="M837.8 639.0L837.9 632.3"/><path d="M837.9 632.3L837.9 625.6"/><path d="M837.9 625.6L838.0 618.8"/><path d="M838.0 618.8L838.1 612.1"/><path d="M838.1 612.1L838.2 605.4"/><path d="M838.2 605.4L838.3 598.6"/><path d="M840.9 551.9L841.0 545.0"/><path d="M841.0 545.0L841.0 538.1"/><path d="M841.0 538.1L841.1 531.2"/><path d="M841.1 531.2L841.1 524.4"/><path d="M841.1 524.4L841.2 517.5"/><path d="M841.2 517.5L841.2 510.6"/><path d="M841.2 510.6L841.2 503.7"/><path d="M841.2 503.7L841.3 496.8"/><path d="M841.3 496.8L841.3 490.0"/><path d="M841.3 490.0L841.4 483.1"/><path d="M841.4 483.1L841.4 476.2"/><path d="M841.4 476.2L841.4 469.3"/><path d="M859.0 617.3L859.1 624.0"/><path d="M859.1 624.0L859.2 630.6"/><path d="M859.2 630.6L859.4 637.3"/><path d="M859.4 637.3L859.5 643.9"/><path d="M859.5 643.9L860.9 649.6"/><path d="M863.8 640.0L864.6 646.5"/><path d="M875.7 483.5L875.8 490.2"/><path d="M875.8 490.2L875.8 496.9"/><path d="M875.8 496.9L875.9 503.7"/><path d="M875.9 503.7L876.0 510.4"/><path d="M876.0 510.4L876.0 517.1"/><path d="M876.0 517.1L876.1 523.8"/><path d="M876.1 523.8L876.1 530.5"/><path d="M876.1 530.5L876.2 537.3"/><path d="M876.2 537.3L876.3 544.0"/><path d="M876.3 544.0L876.3 550.7"/><path d="M876.3 550.7L876.4 557.4"/><path d="M876.4 557.4L876.4 564.1"/><path d="M876.4 564.1L876.5 570.9"/><path d="M895.7 653.3L897.1 653.3"/><path d="M897.1 653.3L898.6 653.1"/><path d="M898.6 653.1L900.0 652.9"/><path d="M900.0 652.9L901.5 652.7"/><path d="M901.5 652.7L902.9 652.4"/><path d="M902.9 652.4L904.4 652.0"/><path d="M904.4 652.0L905.8 648.7"/><path d="M921.7 649.4L923.2 650.3"/><path d="M923.2 650.3L924.6 651.2"/><path d="M924.6 651.2L926.1 652.1"/><path d="M940.6 655.0L942.0 653.5"/><path d="M957.9 646.1L959.4 647.9"/><path d="M959.4 647.9L960.8 648.7"/><path d="M1017.3 649.9L1018.8 649.0"/><path d="M1018.8 649.0L1020.2 647.9"/><path d="M1027.5 644.8L1028.9 649.6"/><path d="M1044.8 648.5L1046.3 647.3"/><path d="M1073.8 650.7L1075.2 650.7"/><path d="M1075.2 650.7L1076.7 651.5"/><path d="M1094.1 652.5L1095.5 649.6"/><path d="M1131.7 637.4L1131.8 630.7"/><path d="M1137.1 614.9L1137.2 621.7"/><path d="M1137.2 621.7L1137.4 628.4"/><path d="M1137.4 628.4L1137.5 635.2"/><path d="M1151.5 588.1L1152.0 582.2"/><path d="M1152.0 582.2L1152.2 576.0"/><path d="M1152.2 576.0L1152.3 569.9"/><path d="M1152.3 569.9L1152.5 563.8"/><path d="M1152.5 563.8L1152.7 557.6"/><path d="M1152.7 557.6L1152.9 551.5"/><path d="M1152.9 551.5L1153.1 545.4"/><path d="M1153.1 545.4L1153.2 539.2"/><path d="M1158.1 365.2L1158.4 370.8"/><path d="M1199.8 650.8L1201.2 650.7"/><path d="M1201.2 650.7L1202.7 646.6"/><path d="M1234.5 651.8L1236.0 655.2"/><path d="M1343.1 658.2L1344.6 656.9"/><path d="M1344.6 656.9L1346.0 654.9"/><path d="M1359.0 655.7L1360.5 657.4"/><path d="M1360.5 657.4L1361.9 658.5"/></g><g stroke="#0c375c"><path d="M799.2 571.9L799.3 565.2"/><path d="M799.3 565.2L799.5 558.4"/><path d="M799.5 558.4L799.6 551.7"/><path d="M829.1 620.7L829.4 627.5"/><path d="M833.4 644.1L833.5 637.3"/><path d="M833.5 637.3L833.6 630.5"/><path d="M833.6 630.5L833.7 623.7"/><path d="M833.7 623.7L833.8 616.9"/><path d="M833.8 616.9L833.8 610.1"/><path d="M833.8 610.1L833.9 603.3"/><path d="M833.9 603.3L834.0 596.5"/><path d="M834.0 596.5L834.1 589.7"/><path d="M834.1 589.7L834.2 582.9"/><path d="M834.2 582.9L834.3 576.1"/><path d="M834.3 576.1L834.4 569.3"/><path d="M834.4 569.3L834.4 562.5"/><path d="M834.4 562.5L834.5 555.7"/><path d="M834.5 555.7L834.6 548.9"/><path d="M834.6 548.9L834.7 542.1"/><path d="M834.7 542.1L834.8 535.3"/><path d="M834.8 535.3L834.9 528.5"/><path d="M834.9 528.5L836.3 533.0"/><path d="M836.3 533.0L836.4 539.6"/><path d="M836.4 539.6L836.5 546.3"/><path d="M836.5 546.3L836.6 552.9"/><path d="M836.6 552.9L836.7 559.5"/><path d="M836.7 559.5L836.8 566.1"/><path d="M836.8 566.1L836.9 572.8"/><path d="M836.9 572.8L836.9 579.4"/><path d="M841.4 469.3L841.5 462.5"/><path d="M841.5 462.5L841.5 455.6"/><path d="M841.5 455.6L841.6 448.7"/><path d="M841.6 448.7L841.6 441.8"/><path d="M841.6 441.8L841.7 434.9"/><path d="M841.7 434.9L841.7 428.1"/><path d="M841.7 428.1L841.7 421.2"/><path d="M841.7 421.2L841.8 414.3"/><path d="M841.8 414.3L841.8 407.4"/><path d="M841.8 407.4L841.9 400.6"/><path d="M841.9 400.6L841.9 393.7"/><path d="M849.0 596.2L849.2 603.1"/><path d="M849.2 603.1L849.3 610.0"/><path d="M849.3 610.0L849.7 615.6"/><path d="M849.7 615.6L850.1 621.1"/><path d="M857.2 598.2L857.4 591.4"/><path d="M857.4 591.4L857.6 584.6"/><path d="M857.6 584.6L857.7 577.8"/><path d="M857.7 577.8L857.9 570.9"/><path d="M857.9 570.9L858.0 564.1"/><path d="M858.0 564.1L858.2 570.8"/><path d="M858.2 570.8L858.3 577.4"/><path d="M858.3 577.4L858.4 584.1"/><path d="M858.4 584.1L858.5 590.7"/><path d="M858.5 590.7L858.6 597.4"/><path d="M858.6 597.4L858.8 604.0"/><path d="M858.8 604.0L858.9 610.7"/><path d="M858.9 610.7L859.0 617.3"/><path d="M876.5 570.9L876.6 577.6"/><path d="M876.6 577.6L876.6 584.3"/><path d="M876.6 584.3L876.7 591.0"/><path d="M876.7 591.0L876.7 597.7"/><path d="M876.7 597.7L876.8 604.5"/><path d="M876.8 604.5L876.9 611.2"/><path d="M876.9 611.2L876.9 604.4"/><path d="M876.9 604.4L877.0 597.7"/><path d="M877.0 597.7L877.0 590.9"/><path d="M877.0 590.9L877.1 584.1"/><path d="M877.1 584.1L877.1 577.4"/><path d="M877.1 577.4L877.2 570.6"/><path d="M877.2 570.6L877.2 563.9"/><path d="M877.2 563.9L877.3 557.1"/><path d="M877.3 557.1L877.3 550.3"/><path d="M877.3 550.3L877.4 543.6"/><path d="M877.4 543.6L877.4 536.8"/><path d="M892.8 653.0L894.2 653.3"/><path d="M894.2 653.3L895.7 653.3"/><path d="M913.1 648.0L914.5 647.6"/><path d="M914.5 647.6L916.0 647.5"/><path d="M916.0 647.5L917.4 646.0"/><path d="M917.4 646.0L918.9 646.0"/><path d="M918.9 646.0L920.3 648.4"/><path d="M920.3 648.4L921.7 649.4"/><path d="M942.0 653.5L943.5 650.9"/><path d="M943.5 650.9L944.9 647.2"/><path d="M955.1 639.0L956.5 643.1"/><path d="M956.5 643.1L957.9 646.1"/><path d="M960.8 648.7L962.3 648.8"/><path d="M962.3 648.8L963.7 648.8"/><path d="M963.7 648.8L965.2 650.5"/><path d="M1004.3 653.1L1004.6 647.1"/><path d="M1006.9 646.3L1007.2 652.1"/><path d="M1007.2 652.1L1008.6 653.6"/><path d="M1020.2 647.9L1021.7 646.2"/><path d="M1021.7 646.2L1023.1 641.9"/><path d="M1046.3 647.3L1046.6 640.3"/><path d="M1050.3 632.8L1050.6 639.7"/><path d="M1050.6 639.7L1050.7 632.8"/><path d="M1050.7 632.8L1050.7 625.9"/><path d="M1050.7 625.9L1050.8 619.0"/><path d="M1050.8 619.0L1050.9 612.1"/><path d="M1050.9 612.1L1050.9 605.2"/><path d="M1050.9 605.2L1051.0 598.3"/><path d="M1068.0 649.6L1068.7 643.3"/><path d="M1068.7 643.3L1069.4 637.0"/><path d="M1069.4 637.0L1070.9 637.2"/><path d="M1070.9 637.2L1071.6 643.7"/><path d="M1071.6 643.7L1072.3 650.2"/><path d="M1072.3 650.2L1073.8 650.7"/><path d="M1104.2 650.9L1105.6 652.0"/><path d="M1105.6 652.0L1107.1 652.4"/><path d="M1107.1 652.4L1108.5 652.2"/><path d="M1108.5 652.2L1110.0 652.0"/><path d="M1110.0 652.0L1111.4 651.6"/><path d="M1137.5 635.2L1138.9 639.4"/><path d="M1149.1 611.1L1149.8 605.5"/><path d="M1149.8 605.5L1150.5 599.9"/><path d="M1150.5 599.9L1151.0 594.0"/><path d="M1151.0 594.0L1151.5 588.1"/><path d="M1158.4 370.8L1158.6 376.5"/><path d="M1158.6 376.5L1158.9 382.1"/><path d="M1194.0 650.8L1195.4 647.4"/><path d="M1233.8 645.9L1234.5 651.8"/><path d="M1346.0 654.9L1347.5 650.5"/><path d="M1347.5 650.5L1347.9 645.3"/><path d="M1347.9 645.3L1348.4 640.1"/><path d="M1348.4 640.1L1348.9 634.9"/><path d="M1355.9 635.5L1356.1 642.5"/><path d="M1356.1 642.5L1357.6 652.3"/><path d="M1357.6 652.3L1359.0 655.7"/></g><g stroke="#0a305c"><path d="M791.4 629.1L791.5 622.2"/><path d="M791.5 622.2L791.5 615.3"/><path d="M791.5 615.3L791.6 608.5"/><path d="M791.6 608.5L791.7 601.6"/><path d="M791.7 601.6L791.7 594.7"/><path d="M791.7 594.7L791.8 587.8"/><path d="M791.8 587.8L791.8 580.9"/><path d="M791.8 580.9L791.9 574.0"/><path d="M791.9 574.0L791.9 567.2"/><path d="M791.9 567.2L792.0 560.3"/><path d="M792.0 560.3L792.1 553.4"/><path d="M792.1 553.4L792.1 546.5"/><path d="M792.1 546.5L792.2 539.6"/><path d="M792.2 539.6L792.2 532.7"/><path d="M792.2 532.7L792.3 525.8"/><path d="M792.3 525.8L792.4 519.0"/><path d="M792.4 519.0L792.4 512.1"/><path d="M792.4 512.1L792.5 505.2"/><path d="M792.5 505.2L792.5 498.3"/><path d="M792.5 498.3L792.6 491.4"/><path d="M792.6 491.4L792.6 484.5"/><path d="M792.6 484.5L792.7 477.7"/><path d="M792.7 477.7L792.8 470.8"/><path d="M792.8 470.8L792.8 463.9"/><path d="M792.8 463.9L792.9 457.0"/><path d="M792.9 457.0L793.0 463.9"/><path d="M793.0 463.9L793.0 470.8"/><path d="M793.0 470.8L793.1 477.6"/><path d="M793.1 477.6L793.2 484.5"/><path d="M793.2 484.5L793.3 491.4"/><path d="M798.8 585.3L799.0 578.6"/><path d="M799.0 578.6L799.2 571.9"/><path d="M821.8 625.0L822.6 630.5"/><path d="M841.9 393.7L841.9 386.8"/><path d="M841.9 386.8L842.0 379.9"/><path d="M842.0 379.9L842.0 373.1"/><path d="M842.0 373.1L842.1 366.2"/><path d="M842.1 366.2L842.1 359.3"/><path d="M842.1 359.3L842.1 366.2"/><path d="M842.1 366.2L842.2 373.2"/><path d="M842.2 373.2L842.2 380.1"/><path d="M842.2 380.1L842.3 387.1"/><path d="M842.3 387.1L842.3 394.0"/><path d="M842.3 394.0L842.3 401.0"/><path d="M842.3 401.0L842.4 407.9"/><path d="M842.4 407.9L842.4 414.8"/><path d="M842.4 414.8L842.5 421.8"/><path d="M842.5 421.8L842.5 428.7"/><path d="M842.5 428.7L842.5 435.7"/><path d="M842.5 435.7L842.6 442.6"/><path d="M842.6 442.6L842.6 449.5"/><path d="M842.6 449.5L842.7 456.5"/><path d="M842.7 456.5L842.7 463.4"/><path d="M842.7 463.4L842.7 470.4"/><path d="M842.7 470.4L842.8 477.3"/><path d="M842.8 477.3L842.8 484.3"/><path d="M842.8 484.3L842.9 491.2"/><path d="M842.9 491.2L842.9 498.1"/><path d="M842.9 498.1L842.9 505.1"/><path d="M842.9 505.1L843.0 512.0"/><path d="M843.0 512.0L843.0 519.0"/><path d="M843.0 519.0L843.0 525.9"/><path d="M843.0 525.9L843.1 532.9"/><path d="M843.1 532.9L843.1 539.8"/><path d="M843.1 539.8L843.2 546.7"/><path d="M843.2 546.7L843.2 553.7"/><path d="M843.2 553.7L843.2 560.6"/><path d="M843.2 560.6L843.3 567.6"/><path d="M843.3 567.6L843.3 574.5"/><path d="M843.3 574.5L843.4 581.4"/><path d="M843.4 581.4L843.4 588.4"/><path d="M843.4 588.4L843.4 595.3"/><path d="M843.4 595.3L843.5 602.3"/><path d="M843.5 602.3L843.5 609.2"/><path d="M843.5 609.2L843.6 616.2"/><path d="M843.6 616.2L843.6 609.2"/><path d="M843.6 609.2L843.6 602.2"/><path d="M843.6 602.2L843.7 595.2"/><path d="M843.7 595.2L843.7 588.2"/><path d="M843.7 588.2L843.8 581.2"/><path d="M843.8 581.2L843.8 574.2"/><path d="M843.8 574.2L843.9 567.2"/><path d="M843.9 567.2L843.9 560.2"/><path d="M843.9 560.2L844.0 553.2"/><path d="M844.0 553.2L844.0 546.2"/><path d="M844.0 546.2L844.1 539.2"/><path d="M844.1 539.2L844.1 532.3"/><path d="M844.1 532.3L844.2 525.3"/><path d="M844.2 525.3L844.2 518.3"/><path d="M844.2 518.3L844.3 511.3"/><path d="M844.3 511.3L844.3 504.3"/><path d="M844.3 504.3L844.4 497.3"/><path d="M844.4 497.3L844.4 490.3"/><path d="M844.4 490.3L844.4 483.3"/><path d="M844.4 483.3L844.5 476.3"/><path d="M844.5 476.3L844.5 469.3"/><path d="M844.5 469.3L844.6 462.3"/><path d="M844.6 462.3L844.6 455.3"/><path d="M844.6 455.3L844.7 448.3"/><path d="M844.7 448.3L844.7 441.4"/><path d="M844.7 441.4L844.8 434.4"/><path d="M844.8 434.4L844.8 427.4"/><path d="M844.8 427.4L844.9 420.4"/><path d="M844.9 420.4L844.9 413.4"/><path d="M844.9 413.4L845.0 406.4"/><path d="M845.0 406.4L845.0 399.4"/><path d="M845.0 399.4L845.0 406.3"/><path d="M845.0 406.3L845.1 413.3"/><path d="M845.1 413.3L845.1 420.2"/><path d="M845.1 420.2L845.2 427.1"/><path d="M845.2 427.1L845.2 434.1"/><path d="M845.2 434.1L845.3 441.0"/><path d="M845.3 441.0L845.3 447.9"/><path d="M845.3 447.9L845.4 454.9"/><path d="M845.4 454.9L845.4 461.8"/><path d="M845.4 461.8L845.4 468.7"/><path d="M845.4 468.7L845.5 475.7"/><path d="M845.5 475.7L845.5 482.6"/><path d="M845.5 482.6L845.6 489.5"/><path d="M845.6 489.5L845.6 496.5"/><path d="M845.6 496.5L845.7 503.4"/><path d="M845.7 503.4L845.7 510.3"/><path d="M845.7 510.3L845.7 517.3"/><path d="M845.7 517.3L845.8 524.2"/><path d="M845.8 524.2L845.8 531.1"/><path d="M845.8 531.1L845.9 538.1"/><path d="M845.9 538.1L845.9 545.0"/><path d="M845.9 545.0L846.0 551.9"/><path d="M846.0 551.9L846.0 558.9"/><path d="M846.0 558.9L846.1 565.8"/><path d="M846.1 565.8L846.1 572.7"/><path d="M846.1 572.7L846.1 579.6"/><path d="M846.1 579.6L846.2 586.6"/><path d="M846.2 586.6L846.2 593.5"/><path d="M846.2 593.5L846.3 600.4"/><path d="M846.3 600.4L846.3 607.4"/><path d="M846.3 607.4L846.4 614.3"/><path d="M846.4 614.3L846.4 621.2"/><path d="M846.4 621.2L846.5 628.2"/><path d="M846.5 628.2L846.6 621.5"/><path d="M846.6 621.5L846.7 614.8"/><path d="M846.7 614.8L846.8 608.1"/><path d="M846.8 608.1L846.9 601.4"/><path d="M846.9 601.4L847.1 594.6"/><path d="M847.1 594.6L847.2 587.9"/><path d="M848.4 568.5L848.5 575.4"/><path d="M848.5 575.4L848.7 582.3"/><path d="M848.7 582.3L848.9 589.2"/><path d="M848.9 589.2L849.0 596.2"/><path d="M850.1 621.1L850.4 626.7"/><path d="M850.4 626.7L850.8 632.3"/><path d="M850.8 632.3L850.8 625.4"/><path d="M850.8 625.4L850.9 618.5"/><path d="M850.9 618.5L850.9 611.5"/><path d="M850.9 611.5L851.0 604.6"/><path d="M851.0 604.6L851.0 597.7"/><path d="M851.0 597.7L851.1 590.8"/><path d="M851.1 590.8L851.1 583.9"/><path d="M851.1 583.9L851.1 577.0"/><path d="M851.1 577.0L851.2 570.1"/><path d="M851.2 570.1L851.2 563.2"/><path d="M851.2 563.2L851.3 556.3"/><path d="M851.3 556.3L851.3 549.4"/><path d="M851.3 549.4L851.3 542.5"/><path d="M851.3 542.5L851.4 535.6"/><path d="M851.4 535.6L851.4 528.7"/><path d="M851.4 528.7L851.5 521.8"/><path d="M851.5 521.8L851.5 514.9"/><path d="M851.5 514.9L851.6 508.0"/><path d="M851.6 508.0L851.6 501.1"/><path d="M851.6 501.1L851.6 494.2"/><path d="M851.6 494.2L851.7 487.3"/><path d="M851.7 487.3L851.7 480.4"/><path d="M851.7 480.4L851.8 473.5"/><path d="M851.8 473.5L851.8 466.5"/><path d="M851.8 466.5L851.9 459.6"/><path d="M851.9 459.6L851.9 452.7"/><path d="M851.9 452.7L851.9 445.8"/><path d="M851.9 445.8L852.0 438.9"/><path d="M852.0 438.9L852.0 432.0"/><path d="M852.0 432.0L852.1 425.1"/><path d="M852.1 425.1L852.1 418.2"/><path d="M852.1 418.2L852.2 411.3"/><path d="M852.2 411.3L852.2 404.4"/><path d="M852.2 404.4L852.2 397.5"/><path d="M852.2 397.5L852.3 404.3"/><path d="M852.3 404.3L852.3 411.2"/><path d="M852.3 411.2L852.4 418.0"/><path d="M852.4 418.0L852.4 424.9"/><path d="M852.4 424.9L852.5 431.7"/><path d="M852.5 431.7L852.5 438.5"/><path d="M852.5 438.5L852.6 445.4"/><path d="M852.6 445.4L852.6 452.2"/><path d="M852.6 452.2L852.7 459.1"/><path d="M852.7 459.1L852.7 465.9"/><path d="M852.7 465.9L852.7 472.7"/><path d="M852.7 472.7L852.8 479.6"/><path d="M852.8 479.6L852.8 486.4"/><path d="M852.8 486.4L852.9 493.2"/><path d="M852.9 493.2L852.9 500.1"/><path d="M852.9 500.1L853.0 506.9"/><path d="M853.0 506.9L853.0 513.8"/><path d="M853.0 513.8L853.1 520.6"/><path d="M853.1 520.6L853.1 527.4"/><path d="M853.1 527.4L853.1 534.3"/><path d="M853.1 534.3L853.2 541.1"/><path d="M853.2 541.1L853.2 548.0"/><path d="M853.2 548.0L853.3 554.8"/><path d="M853.3 554.8L853.3 561.6"/><path d="M853.3 561.6L853.4 568.5"/><path d="M853.4 568.5L853.4 575.3"/><path d="M853.4 575.3L853.5 582.2"/><path d="M853.5 582.2L853.5 589.0"/><path d="M853.5 589.0L853.6 595.8"/><path d="M853.6 595.8L853.6 602.7"/><path d="M853.6 602.7L853.6 609.5"/><path d="M853.6 609.5L853.7 616.4"/><path d="M853.7 616.4L853.7 609.4"/><path d="M853.7 609.4L853.8 602.5"/><path d="M853.8 602.5L853.8 595.5"/><path d="M853.8 595.5L853.9 588.6"/><path d="M853.9 588.6L853.9 581.6"/><path d="M853.9 581.6L854.0 574.7"/><path d="M854.0 574.7L854.0 567.7"/><path d="M854.0 567.7L854.1 560.8"/><path d="M854.1 560.8L854.1 553.8"/><path d="M854.1 553.8L854.2 546.9"/><path d="M854.2 546.9L854.2 539.9"/><path d="M854.2 539.9L854.3 533.0"/><path d="M854.3 533.0L854.3 526.0"/><path d="M854.3 526.0L854.4 519.1"/><path d="M854.4 519.1L854.4 512.1"/><path d="M854.4 512.1L854.5 505.2"/><path d="M854.5 505.2L854.5 498.2"/><path d="M854.5 498.2L854.6 491.3"/><path d="M854.6 491.3L854.6 484.3"/><path d="M854.6 484.3L854.7 477.4"/><path d="M854.7 477.4L854.7 470.4"/><path d="M854.7 470.4L854.8 463.5"/><path d="M854.8 463.5L854.8 456.5"/><path d="M854.8 456.5L854.9 449.6"/><path d="M854.9 449.6L854.9 442.6"/><path d="M854.9 442.6L854.9 435.7"/><path d="M854.9 435.7L855.0 428.7"/><path d="M855.0 428.7L855.0 421.8"/><path d="M855.0 421.8L855.1 414.8"/><path d="M855.1 414.8L855.1 407.9"/><path d="M855.1 407.9L855.2 414.7"/><path d="M855.2 414.7L855.2 421.5"/><path d="M855.2 421.5L855.3 428.3"/><path d="M855.3 428.3L855.3 435.1"/><path d="M855.3 435.1L855.4 441.9"/><path d="M855.4 441.9L855.4 448.7"/><path d="M855.4 448.7L855.5 455.5"/><path d="M855.5 455.5L855.5 462.3"/><path d="M855.5 462.3L855.5 469.1"/><path d="M855.5 469.1L855.6 475.9"/><path d="M855.6 475.9L855.6 482.7"/><path d="M855.6 482.7L855.7 489.5"/><path d="M855.7 489.5L855.7 496.3"/><path d="M855.7 496.3L855.8 503.1"/><path d="M855.8 503.1L855.8 509.9"/><path d="M855.8 509.9L855.9 516.7"/><path d="M855.9 516.7L855.9 523.5"/><path d="M855.9 523.5L856.0 530.3"/><path d="M856.0 530.3L856.0 537.1"/><path d="M856.0 537.1L856.0 543.9"/><path d="M856.0 543.9L856.1 550.7"/><path d="M856.1 550.7L856.1 557.5"/><path d="M856.1 557.5L856.2 564.3"/><path d="M856.2 564.3L856.2 571.1"/><path d="M856.2 571.1L856.3 577.9"/><path d="M856.3 577.9L856.3 584.7"/><path d="M856.3 584.7L856.4 591.5"/><path d="M856.4 591.5L856.4 598.3"/><path d="M856.4 598.3L856.5 605.1"/><path d="M856.5 605.1L856.5 611.9"/><path d="M856.5 611.9L856.5 618.7"/><path d="M856.5 618.7L856.6 625.5"/><path d="M856.6 625.5L856.7 618.7"/><path d="M856.7 618.7L856.9 611.9"/><path d="M856.9 611.9L857.1 605.1"/><path d="M857.1 605.1L857.2 598.2"/><path d="M877.4 536.8L877.5 530.1"/><path d="M877.5 530.1L877.6 523.3"/><path d="M877.6 523.3L877.6 516.6"/><path d="M877.6 516.6L877.7 509.8"/><path d="M877.7 509.8L877.7 503.0"/><path d="M877.7 503.0L877.8 496.3"/><path d="M877.8 496.3L877.8 489.5"/><path d="M877.8 489.5L877.9 482.8"/><path d="M877.9 482.8L877.9 476.0"/><path d="M877.9 476.0L878.0 469.2"/><path d="M878.0 469.2L878.0 462.5"/><path d="M878.0 462.5L878.1 455.7"/><path d="M878.1 455.7L878.1 449.0"/><path d="M878.1 449.0L878.2 442.2"/><path d="M878.2 442.2L878.3 435.5"/><path d="M878.3 435.5L878.3 428.7"/><path d="M878.3 428.7L878.4 435.6"/><path d="M878.4 435.6L878.5 442.5"/><path d="M878.5 442.5L878.5 449.4"/><path d="M878.5 449.4L878.6 456.3"/><path d="M878.6 456.3L878.7 463.3"/><path d="M878.7 463.3L878.7 470.2"/><path d="M878.7 470.2L878.8 477.1"/><path d="M878.8 477.1L878.9 484.0"/><path d="M878.9 484.0L879.0 490.9"/><path d="M879.0 490.9L879.0 497.8"/><path d="M879.0 497.8L879.1 504.7"/><path d="M879.1 504.7L879.2 511.6"/><path d="M879.2 511.6L879.2 518.6"/><path d="M879.2 518.6L879.3 525.5"/><path d="M879.3 525.5L879.4 532.4"/><path d="M891.3 652.1L892.8 653.0"/><path d="M911.1 641.8L911.6 647.4"/><path d="M911.6 647.4L913.1 648.0"/><path d="M944.9 647.2L946.4 642.3"/><path d="M946.4 642.3L947.8 637.2"/><path d="M953.6 634.8L955.1 639.0"/><path d="M1004.6 647.1L1004.9 641.1"/><path d="M1004.9 641.1L1005.2 635.0"/><path d="M1006.3 634.6L1006.6 640.4"/><path d="M1006.6 640.4L1006.9 646.3"/><path d="M1046.6 640.3L1046.9 633.4"/><path d="M1046.9 633.4L1047.1 626.5"/><path d="M1047.1 626.5L1047.4 619.5"/><path d="M1049.5 618.9L1049.9 625.9"/><path d="M1049.9 625.9L1050.3 632.8"/><path d="M1051.0 598.3L1051.1 591.4"/><path d="M1051.1 591.4L1051.1 584.5"/><path d="M1051.1 584.5L1051.2 577.6"/><path d="M1051.2 577.6L1051.2 570.7"/><path d="M1051.2 570.7L1051.3 563.8"/><path d="M1051.3 563.8L1051.4 556.9"/><path d="M1051.4 556.9L1051.4 550.0"/><path d="M1060.4 625.0L1060.8 631.0"/><path d="M1060.8 631.0L1061.5 637.0"/><path d="M1061.5 637.0L1062.2 643.1"/><path d="M1062.2 643.1L1063.7 647.4"/><path d="M1063.7 647.4L1065.1 648.9"/><path d="M1065.1 648.9L1066.5 649.6"/><path d="M1066.5 649.6L1068.0 649.6"/><path d="M1095.5 649.6L1097.0 646.3"/><path d="M1102.7 648.7L1104.2 650.9"/><path d="M1111.4 651.6L1112.9 651.1"/><path d="M1112.9 651.1L1114.3 650.1"/><path d="M1114.3 650.1L1115.8 647.7"/><path d="M1125.9 644.0L1127.4 644.0"/><path d="M1127.4 644.0L1128.8 643.7"/><path d="M1128.8 643.7L1130.3 643.4"/><path d="M1130.3 643.4L1131.7 637.4"/><path d="M1138.9 639.4L1140.4 637.8"/><path d="M1140.4 637.8L1141.8 635.4"/><path d="M1141.8 635.4L1143.3 632.5"/><path d="M1143.3 632.5L1144.7 629.0"/><path d="M1144.7 629.0L1146.2 624.6"/><path d="M1146.2 624.6L1147.6 618.9"/><path d="M1147.6 618.9L1149.1 611.1"/><path d="M1158.9 382.1L1159.2 387.8"/><path d="M1159.2 387.8L1159.4 381.6"/><path d="M1159.4 381.6L1159.6 375.5"/><path d="M1188.2 647.4L1189.6 648.5"/><path d="M1189.6 648.5L1191.1 649.4"/><path d="M1191.1 649.4L1192.5 650.1"/><path d="M1192.5 650.1L1194.0 650.8"/><path d="M1202.7 646.6L1202.8 640.3"/><path d="M1202.8 640.3L1203.0 634.0"/><path d="M1203.0 634.0L1203.1 627.7"/><path d="M1214.2 645.9L1215.7 648.1"/><path d="M1215.7 648.1L1217.1 647.8"/><path d="M1217.1 647.8L1218.6 647.4"/><path d="M1218.6 647.4L1219.1 641.4"/><path d="M1233.1 640.1L1233.8 645.9"/><path d="M1348.9 634.9L1349.1 628.1"/><path d="M1349.1 628.1L1349.2 621.3"/><path d="M1349.2 621.3L1349.4 614.5"/><path d="M1349.4 614.5L1349.6 607.7"/><path d="M1349.6 607.7L1349.7 600.9"/><path d="M1349.7 600.9L1349.9 594.1"/><path d="M1349.9 594.1L1350.0 587.3"/><path d="M1350.0 587.3L1350.2 580.5"/><path d="M1354.4 579.9L1354.5 586.8"/><path d="M1354.5 586.8L1354.6 593.7"/><path d="M1354.6 593.7L1354.7 600.6"/><path d="M1354.7 600.6L1354.9 607.6"/><path d="M1354.9 607.6L1355.2 614.5"/><path d="M1355.2 614.5L1355.4 621.5"/><path d="M1355.4 621.5L1355.7 628.5"/><path d="M1355.7 628.5L1355.9 635.5"/></g><g stroke="#08295c"><path d="M782.7 629.8L782.8 622.8"/><path d="M782.8 622.8L782.8 615.9"/><path d="M782.8 615.9L782.9 608.9"/><path d="M782.9 608.9L782.9 601.9"/><path d="M782.9 601.9L783.0 594.9"/><path d="M783.0 594.9L783.0 587.9"/><path d="M783.0 587.9L783.1 580.9"/><path d="M783.1 580.9L783.1 574.0"/><path d="M783.1 574.0L783.2 567.0"/><path d="M783.2 567.0L783.2 560.0"/><path d="M783.2 560.0L783.3 553.0"/><path d="M783.3 553.0L783.3 546.0"/><path d="M783.3 546.0L783.4 539.0"/><path d="M783.4 539.0L783.4 532.1"/><path d="M783.4 532.1L783.5 525.1"/><path d="M783.5 525.1L783.5 518.1"/><path d="M783.5 518.1L783.6 511.1"/><path d="M783.6 511.1L783.6 504.1"/><path d="M783.6 504.1L783.7 497.1"/><path d="M783.7 497.1L783.7 490.2"/><path d="M783.7 490.2L783.8 483.2"/><path d="M783.8 483.2L783.8 476.2"/><path d="M783.8 476.2L783.9 469.2"/><path d="M783.9 469.2L783.9 462.2"/><path d="M783.9 462.2L784.0 455.2"/><path d="M784.0 455.2L784.0 448.3"/><path d="M784.0 448.3L784.1 441.3"/><path d="M784.1 441.3L784.1 434.3"/><path d="M784.1 434.3L784.2 427.3"/><path d="M784.2 427.3L784.2 434.2"/><path d="M784.2 434.2L784.3 441.2"/><path d="M784.3 441.2L784.3 448.1"/><path d="M784.3 448.1L784.4 455.0"/><path d="M784.4 455.0L784.5 462.0"/><path d="M784.5 462.0L784.5 468.9"/><path d="M784.5 468.9L784.6 475.8"/><path d="M784.6 475.8L784.6 482.8"/><path d="M784.6 482.8L784.7 489.7"/><path d="M784.7 489.7L784.7 496.6"/><path d="M784.7 496.6L784.8 503.6"/><path d="M784.8 503.6L784.8 510.5"/><path d="M784.8 510.5L784.9 517.4"/><path d="M784.9 517.4L784.9 524.4"/><path d="M784.9 524.4L785.0 531.3"/><path d="M785.0 531.3L785.0 538.2"/><path d="M785.0 538.2L785.1 545.2"/><path d="M785.1 545.2L785.2 552.1"/><path d="M785.2 552.1L785.2 559.0"/><path d="M785.2 559.0L785.3 566.0"/><path d="M785.3 566.0L785.3 572.9"/><path d="M785.3 572.9L785.4 579.8"/><path d="M785.4 579.8L785.4 586.8"/><path d="M785.4 586.8L785.5 593.7"/><path d="M785.5 593.7L785.5 600.6"/><path d="M785.5 600.6L785.6 607.5"/><path d="M785.6 607.5L785.6 614.5"/><path d="M785.6 614.5L785.7 607.5"/><path d="M785.7 607.5L785.8 600.5"/><path d="M785.8 600.5L785.8 593.5"/><path d="M785.8 593.5L785.9 586.5"/><path d="M785.9 586.5L785.9 579.5"/><path d="M785.9 579.5L786.0 572.5"/><path d="M786.0 572.5L786.0 565.5"/><path d="M786.0 565.5L786.1 558.5"/><path d="M786.1 558.5L786.2 551.5"/><path d="M786.2 551.5L786.2 544.5"/><path d="M786.2 544.5L786.3 537.5"/><path d="M786.3 537.5L786.3 530.5"/><path d="M786.3 530.5L786.4 523.5"/><path d="M786.4 523.5L786.4 516.5"/><path d="M786.4 516.5L786.5 509.5"/><path d="M786.5 509.5L786.6 502.5"/><path d="M786.6 502.5L786.6 495.5"/><path d="M786.6 495.5L786.7 488.5"/><path d="M786.7 488.5L786.7 481.5"/><path d="M786.7 481.5L786.8 474.5"/><path d="M786.8 474.5L786.9 467.5"/><path d="M786.9 467.5L786.9 460.5"/><path d="M786.9 460.5L787.0 453.5"/><path d="M787.0 453.5L787.0 446.5"/><path d="M787.0 446.5L787.1 439.5"/><path d="M787.1 439.5L787.2 446.1"/><path d="M787.2 446.1L787.2 452.8"/><path d="M787.2 452.8L787.3 459.4"/><path d="M787.3 459.4L787.4 466.1"/><path d="M787.4 466.1L787.5 472.7"/><path d="M787.5 472.7L787.5 479.4"/><path d="M787.5 479.4L787.6 486.0"/><path d="M787.6 486.0L787.7 492.7"/><path d="M787.7 492.7L787.8 499.3"/><path d="M787.8 499.3L787.8 506.0"/><path d="M787.8 506.0L787.9 512.6"/><path d="M787.9 512.6L788.0 519.3"/><path d="M788.0 519.3L788.1 525.9"/><path d="M788.1 525.9L788.2 532.6"/><path d="M788.2 532.6L788.2 539.2"/><path d="M788.2 539.2L788.3 545.9"/><path d="M788.3 545.9L788.4 552.5"/><path d="M788.4 552.5L788.5 559.2"/><path d="M788.5 559.2L788.5 565.8"/><path d="M788.5 565.8L788.7 572.3"/><path d="M788.7 572.3L788.8 578.7"/><path d="M788.8 578.7L788.9 585.2"/><path d="M788.9 585.2L789.1 591.6"/><path d="M789.1 591.6L789.2 598.1"/><path d="M789.2 598.1L789.3 604.5"/><path d="M789.3 604.5L789.5 611.0"/><path d="M789.5 611.0L789.6 617.5"/><path d="M789.6 617.5L789.7 623.9"/><path d="M789.7 623.9L789.8 630.4"/><path d="M789.8 630.4L790.0 636.8"/><path d="M790.0 636.8L791.4 629.1"/><path d="M793.3 491.4L793.4 498.3"/><path d="M793.4 498.3L793.5 505.2"/><path d="M793.5 505.2L793.6 512.1"/><path d="M793.6 512.1L793.6 518.9"/><path d="M793.6 518.9L793.7 525.8"/><path d="M793.7 525.8L793.8 532.7"/><path d="M793.8 532.7L793.9 539.6"/><path d="M793.9 539.6L794.0 546.5"/><path d="M794.0 546.5L794.1 553.4"/><path d="M794.1 553.4L794.2 560.2"/><path d="M794.2 560.2L794.2 567.1"/><path d="M794.2 567.1L794.3 574.0"/><path d="M794.3 574.0L794.5 580.8"/><path d="M794.5 580.8L794.6 587.5"/><path d="M794.6 587.5L794.8 594.3"/><path d="M794.8 594.3L795.0 601.0"/><path d="M795.0 601.0L795.1 607.8"/><path d="M795.1 607.8L795.3 614.5"/><path d="M795.3 614.5L795.5 621.3"/><path d="M795.5 621.3L795.6 628.0"/><path d="M795.6 628.0L795.8 634.8"/><path d="M795.8 634.8L796.0 628.2"/><path d="M796.0 628.2L796.1 621.6"/><path d="M796.1 621.6L796.3 615.0"/><path d="M796.3 615.0L796.5 608.4"/><path d="M796.5 608.4L796.7 601.8"/><path d="M796.7 601.8L796.9 595.2"/><path d="M796.9 595.2L797.0 588.6"/><path d="M797.0 588.6L797.2 582.0"/><path d="M797.2 582.0L798.7 592.0"/><path d="M798.7 592.0L798.8 585.3"/><path d="M816.0 632.8L816.3 626.7"/><path d="M816.3 626.7L816.5 620.6"/><path d="M816.5 620.6L816.7 614.5"/><path d="M816.7 614.5L816.9 608.4"/><path d="M816.9 608.4L817.1 602.2"/><path d="M819.5 604.5L819.8 610.5"/><path d="M819.8 610.5L820.1 616.6"/><path d="M820.1 616.6L820.4 622.6"/><path d="M820.4 622.6L821.8 625.0"/><path d="M847.2 587.9L847.3 581.2"/><path d="M847.3 581.2L847.4 574.5"/><path d="M847.4 574.5L847.5 567.8"/><path d="M847.5 567.8L847.7 561.1"/><path d="M847.7 561.1L847.8 554.4"/><path d="M847.8 554.4L847.9 547.7"/><path d="M847.9 547.7L848.1 554.6"/><path d="M848.1 554.6L848.2 561.5"/><path d="M848.2 561.5L848.4 568.5"/><path d="M879.4 532.4L879.5 539.3"/><path d="M879.5 539.3L879.5 546.2"/><path d="M879.5 546.2L879.6 553.1"/><path d="M879.6 553.1L879.7 560.0"/><path d="M879.7 560.0L879.8 566.9"/><path d="M879.8 566.9L879.8 560.0"/><path d="M879.8 560.0L879.9 553.1"/><path d="M879.9 553.1L880.0 546.2"/><path d="M880.0 546.2L880.1 539.4"/><path d="M880.1 539.4L880.2 532.5"/><path d="M880.2 532.5L880.2 525.6"/><path d="M880.2 525.6L880.3 518.7"/><path d="M880.3 518.7L880.4 511.8"/><path d="M880.4 511.8L880.5 504.9"/><path d="M880.5 504.9L880.6 498.0"/><path d="M880.6 498.0L880.6 491.1"/><path d="M880.6 491.1L880.7 484.2"/><path d="M880.7 484.2L880.8 477.3"/><path d="M880.8 477.3L880.9 470.4"/><path d="M880.9 470.4L881.0 463.5"/><path d="M881.0 463.5L881.0 456.6"/><path d="M881.0 456.6L881.1 449.7"/><path d="M881.1 449.7L881.2 442.8"/><path d="M881.2 442.8L881.3 449.6"/><path d="M881.3 449.6L881.4 456.5"/><path d="M881.4 456.5L881.6 463.3"/><path d="M881.6 463.3L881.7 470.2"/><path d="M881.7 470.2L881.8 477.0"/><path d="M885.3 585.1L885.5 591.6"/><path d="M885.5 591.6L885.8 598.1"/><path d="M885.8 598.1L886.1 604.5"/><path d="M886.1 604.5L886.4 611.0"/><path d="M886.4 611.0L886.7 617.4"/><path d="M886.7 617.4L887.0 623.9"/><path d="M887.0 623.9L887.5 630.0"/><path d="M887.5 630.0L888.0 636.2"/><path d="M888.0 636.2L888.4 642.3"/><path d="M888.4 642.3L889.9 649.7"/><path d="M889.9 649.7L891.3 652.1"/><path d="M905.8 648.7L906.1 642.1"/><path d="M906.1 642.1L906.3 635.6"/><path d="M906.3 635.6L906.5 629.1"/><path d="M908.0 627.8L908.2 633.9"/><path d="M908.2 633.9L908.5 640.0"/><path d="M908.5 640.0L908.7 646.1"/><path d="M908.7 646.1L909.2 640.9"/><path d="M910.6 636.1L911.1 641.8"/><path d="M947.8 637.2L949.3 633.0"/><path d="M949.3 633.0L950.7 631.0"/><path d="M950.7 631.0L952.2 631.8"/><path d="M952.2 631.8L953.6 634.8"/><path d="M1005.2 635.0L1005.4 629.0"/><path d="M1006.0 628.8L1006.3 634.6"/><path d="M1047.4 619.5L1047.7 612.6"/><path d="M1047.7 612.6L1049.2 612.0"/><path d="M1049.2 612.0L1049.5 618.9"/><path d="M1051.4 550.0L1051.5 543.1"/><path d="M1051.5 543.1L1051.6 536.2"/><path d="M1051.6 536.2L1051.6 529.3"/><path d="M1051.6 529.3L1051.7 522.4"/><path d="M1051.7 522.4L1051.8 515.5"/><path d="M1051.8 515.5L1051.8 508.6"/><path d="M1051.8 508.6L1051.9 501.7"/><path d="M1051.9 501.7L1051.9 494.8"/><path d="M1054.1 521.5L1054.2 528.3"/><path d="M1054.2 528.3L1054.3 535.1"/><path d="M1054.3 535.1L1054.4 541.9"/><path d="M1054.4 541.9L1054.4 548.7"/><path d="M1054.4 548.7L1054.5 555.6"/><path d="M1054.5 555.6L1054.6 562.4"/><path d="M1054.6 562.4L1054.7 569.2"/><path d="M1054.7 569.2L1054.7 576.0"/><path d="M1054.7 576.0L1054.8 582.8"/><path d="M1054.8 582.8L1054.9 589.6"/><path d="M1054.9 589.6L1055.0 596.4"/><path d="M1055.0 596.4L1055.4 590.1"/><path d="M1055.4 590.1L1055.9 583.7"/><path d="M1055.9 583.7L1056.4 577.3"/><path d="M1056.4 577.3L1057.9 580.6"/><path d="M1057.9 580.6L1058.2 587.3"/><path d="M1058.2 587.3L1058.6 593.9"/><path d="M1058.6 593.9L1058.9 600.6"/><path d="M1058.9 600.6L1059.3 607.2"/><path d="M1059.3 607.2L1059.7 613.1"/><path d="M1059.7 613.1L1060.0 619.1"/><path d="M1060.0 619.1L1060.4 625.0"/><path d="M1097.0 646.3L1098.4 644.0"/><path d="M1098.4 644.0L1099.9 643.9"/><path d="M1099.9 643.9L1101.3 645.9"/><path d="M1101.3 645.9L1102.7 648.7"/><path d="M1115.8 647.7L1117.2 642.0"/><path d="M1124.5 641.5L1125.9 644.0"/><path d="M1159.6 375.5L1159.8 369.3"/><path d="M1159.8 369.3L1159.9 363.2"/><path d="M1159.9 363.2L1160.1 357.1"/><path d="M1160.1 357.1L1160.3 350.9"/><path d="M1160.3 350.9L1160.5 344.8"/><path d="M1175.1 599.8L1176.6 590.0"/><path d="M1179.0 615.6L1179.5 620.9"/><path d="M1179.5 620.9L1180.9 625.0"/><path d="M1180.9 625.0L1182.4 630.8"/><path d="M1182.4 630.8L1183.8 637.0"/><path d="M1183.8 637.0L1185.3 642.7"/><path d="M1185.3 642.7L1186.7 646.2"/><path d="M1186.7 646.2L1188.2 647.4"/><path d="M1203.1 627.7L1203.3 621.4"/><path d="M1203.3 621.4L1203.5 615.2"/><path d="M1203.5 615.2L1203.6 608.9"/><path d="M1203.6 608.9L1203.8 602.6"/><path d="M1204.5 603.0L1204.7 609.6"/><path d="M1204.7 609.6L1204.8 616.1"/><path d="M1204.8 616.1L1205.0 622.6"/><path d="M1205.0 622.6L1205.2 629.1"/><path d="M1205.2 629.1L1205.4 635.6"/><path d="M1205.4 635.6L1205.6 642.1"/><path d="M1205.6 642.1L1205.7 635.4"/><path d="M1205.7 635.4L1205.9 628.6"/><path d="M1205.9 628.6L1206.1 621.8"/><path d="M1206.1 621.8L1206.3 615.1"/><path d="M1206.3 615.1L1206.5 608.3"/><path d="M1206.5 608.3L1206.6 601.5"/><path d="M1207.4 601.6L1207.5 608.4"/><path d="M1207.5 608.4L1207.7 615.2"/><path d="M1207.7 615.2L1207.9 622.1"/><path d="M1207.9 622.1L1208.1 628.9"/><path d="M1208.1 628.9L1208.3 635.7"/><path d="M1208.3 635.7L1208.5 642.5"/><path d="M1208.5 642.5L1208.7 635.7"/><path d="M1208.7 635.7L1208.9 629.0"/><path d="M1208.9 629.0L1209.2 622.2"/><path d="M1209.2 622.2L1209.4 615.5"/><path d="M1210.4 615.8L1210.6 622.7"/><path d="M1210.6 622.7L1210.9 629.6"/><path d="M1210.9 629.6L1211.1 636.5"/><path d="M1211.1 636.5L1211.3 643.4"/><path d="M1211.3 643.4L1211.6 636.7"/><path d="M1211.6 636.7L1211.9 630.1"/><path d="M1211.9 630.1L1212.2 623.4"/><path d="M1212.2 623.4L1212.5 616.7"/><path d="M1213.0 616.0L1213.3 622.0"/><path d="M1213.3 622.0L1213.5 627.9"/><path d="M1213.5 627.9L1213.8 633.9"/><path d="M1213.8 633.9L1214.0 639.9"/><path d="M1214.0 639.9L1214.2 645.9"/><path d="M1219.1 641.4L1219.6 635.3"/><path d="M1229.8 528.2L1229.9 534.8"/><path d="M1229.9 534.8L1230.0 541.5"/><path d="M1230.0 541.5L1230.2 548.1"/><path d="M1230.2 548.1L1230.3 554.8"/><path d="M1230.3 554.8L1230.5 561.5"/><path d="M1230.5 561.5L1230.7 568.2"/><path d="M1230.7 568.2L1230.8 574.9"/><path d="M1230.8 574.9L1231.0 581.6"/><path d="M1231.0 581.6L1231.1 588.3"/><path d="M1231.1 588.3L1231.3 594.9"/><path d="M1231.3 594.9L1231.5 601.6"/><path d="M1231.5 601.6L1231.6 608.3"/><path d="M1231.6 608.3L1231.9 614.7"/><path d="M1231.9 614.7L1232.2 621.0"/><path d="M1232.2 621.0L1232.5 627.4"/><path d="M1232.5 627.4L1232.8 633.7"/><path d="M1232.8 633.7L1233.1 640.1"/><path d="M1350.2 580.5L1350.4 573.7"/><path d="M1350.4 573.7L1350.4 567.0"/><path d="M1350.4 567.0L1350.5 560.3"/><path d="M1350.5 560.3L1350.6 553.6"/><path d="M1350.6 553.6L1350.7 546.9"/><path d="M1350.7 546.9L1350.8 540.2"/><path d="M1350.8 540.2L1350.9 533.4"/><path d="M1350.9 533.4L1351.0 526.7"/><path d="M1353.6 524.7L1353.7 531.6"/><path d="M1353.7 531.6L1353.8 538.5"/><path d="M1353.8 538.5L1353.9 545.4"/><path d="M1353.9 545.4L1354.0 552.3"/><path d="M1354.0 552.3L1354.1 559.2"/><path d="M1354.1 559.2L1354.2 566.1"/><path d="M1354.2 566.1L1354.3 573.0"/><path d="M1354.3 573.0L1354.4 579.9"/></g><g stroke="#06225c"><path d="M817.1 602.2L817.3 596.1"/><path d="M817.3 596.1L817.5 590.0"/><path d="M817.5 590.0L818.9 592.4"/><path d="M818.9 592.4L819.2 598.4"/><path d="M819.2 598.4L819.5 604.5"/><path d="M881.8 477.0L881.9 483.9"/><path d="M881.9 483.9L882.0 490.7"/><path d="M882.0 490.7L882.2 497.6"/><path d="M882.2 497.6L882.3 504.4"/><path d="M882.3 504.4L882.4 511.3"/><path d="M882.4 511.3L882.5 518.2"/><path d="M882.5 518.2L882.7 525.0"/><path d="M882.7 525.0L883.0 532.0"/><path d="M883.0 532.0L883.4 538.9"/><path d="M883.4 538.9L883.7 545.9"/><path d="M883.7 545.9L884.1 552.8"/><path d="M884.1 552.8L884.3 559.3"/><path d="M884.3 559.3L884.6 565.8"/><path d="M884.6 565.8L884.8 572.2"/><path d="M884.8 572.2L885.1 578.7"/><path d="M885.1 578.7L885.3 585.1"/><path d="M906.5 629.1L906.8 622.6"/><path d="M906.8 622.6L907.0 616.0"/><path d="M907.0 616.0L907.3 609.5"/><path d="M907.3 609.5L907.5 615.6"/><path d="M907.5 615.6L907.8 621.7"/><path d="M907.8 621.7L908.0 627.8"/><path d="M909.2 640.9L909.7 635.6"/><path d="M909.7 635.6L910.2 630.4"/><path d="M910.2 630.4L910.6 636.1"/><path d="M1005.4 629.0L1005.7 623.0"/><path d="M1005.7 623.0L1006.0 628.8"/><path d="M1051.9 494.8L1052.0 487.9"/><path d="M1052.0 487.9L1052.1 481.0"/><path d="M1052.1 481.0L1052.6 476.3"/><path d="M1052.6 476.3L1053.0 471.7"/><path d="M1053.0 471.7L1053.5 467.0"/><path d="M1053.5 467.0L1053.6 473.8"/><path d="M1053.6 473.8L1053.7 480.6"/><path d="M1053.7 480.6L1053.7 487.4"/><path d="M1053.7 487.4L1053.8 494.2"/><path d="M1053.8 494.2L1053.9 501.1"/><path d="M1053.9 501.1L1054.0 507.9"/><path d="M1054.0 507.9L1054.0 514.7"/><path d="M1054.0 514.7L1054.1 521.5"/><path d="M1117.2 642.0L1118.7 633.0"/><path d="M1118.7 633.0L1120.1 626.3"/><path d="M1120.1 626.3L1121.6 627.8"/><path d="M1121.6 627.8L1123.0 635.2"/><path d="M1123.0 635.2L1124.5 641.5"/><path d="M1160.5 344.8L1160.7 338.6"/><path d="M1160.7 338.6L1160.8 331.7"/><path d="M1160.8 331.7L1160.9 324.7"/><path d="M1160.9 324.7L1161.0 317.8"/><path d="M1161.0 317.8L1161.1 310.8"/><path d="M1161.1 310.8L1161.2 303.9"/><path d="M1161.2 303.9L1161.2 296.9"/><path d="M1161.2 296.9L1161.3 290.0"/><path d="M1161.3 290.0L1161.4 283.1"/><path d="M1161.4 283.1L1161.5 276.1"/><path d="M1161.5 276.1L1161.6 269.2"/><path d="M1161.6 269.2L1161.7 262.2"/><path d="M1161.7 262.2L1161.8 255.3"/><path d="M1161.8 255.3L1161.9 248.3"/><path d="M1161.9 248.3L1162.0 241.4"/><path d="M1162.0 241.4L1162.1 234.4"/><path d="M1162.1 234.4L1162.2 227.7"/><path d="M1162.2 227.7L1162.3 220.9"/><path d="M1162.3 220.9L1162.4 214.2"/><path d="M1162.4 214.2L1162.5 207.5"/><path d="M1162.5 207.5L1162.6 200.7"/><path d="M1162.6 200.7L1162.7 194.0"/><path d="M1162.7 194.0L1162.8 187.2"/><path d="M1162.8 187.2L1162.9 180.5"/><path d="M1162.9 180.5L1163.0 173.7"/><path d="M1163.0 173.7L1163.2 167.0"/><path d="M1165.3 192.1L1165.4 198.9"/><path d="M1165.4 198.9L1165.5 205.8"/><path d="M1165.5 205.8L1165.6 212.6"/><path d="M1165.6 212.6L1165.7 219.5"/><path d="M1165.7 219.5L1165.7 226.3"/><path d="M1165.7 226.3L1165.8 233.2"/><path d="M1165.8 233.2L1165.9 240.0"/><path d="M1165.9 240.0L1166.0 246.9"/><path d="M1166.0 246.9L1166.1 253.7"/><path d="M1166.1 253.7L1166.1 260.6"/><path d="M1166.1 260.6L1166.2 267.4"/><path d="M1166.2 267.4L1166.3 274.3"/><path d="M1166.3 274.3L1166.4 281.1"/><path d="M1166.4 281.1L1166.5 287.9"/><path d="M1166.5 287.9L1166.5 294.6"/><path d="M1166.5 294.6L1166.6 301.2"/><path d="M1166.6 301.2L1166.7 307.9"/><path d="M1166.7 307.9L1166.8 314.5"/><path d="M1166.8 314.5L1166.9 321.2"/><path d="M1166.9 321.2L1166.9 327.8"/><path d="M1166.9 327.8L1167.0 334.5"/><path d="M1167.0 334.5L1167.1 341.1"/><path d="M1167.1 341.1L1167.2 347.7"/><path d="M1167.2 347.7L1167.3 354.4"/><path d="M1167.3 354.4L1167.3 361.0"/><path d="M1167.3 361.0L1167.4 367.7"/><path d="M1167.4 367.7L1167.5 374.3"/><path d="M1167.5 374.3L1167.6 381.0"/><path d="M1167.6 381.0L1167.7 387.6"/><path d="M1167.7 387.6L1167.7 394.3"/><path d="M1167.7 394.3L1167.8 400.9"/><path d="M1167.8 400.9L1167.9 407.6"/><path d="M1167.9 407.6L1168.0 414.4"/><path d="M1168.0 414.4L1168.1 421.2"/><path d="M1168.1 421.2L1168.3 428.1"/><path d="M1168.3 428.1L1168.4 434.9"/><path d="M1168.4 434.9L1168.5 441.8"/><path d="M1168.5 441.8L1168.6 448.6"/><path d="M1168.6 448.6L1168.8 455.5"/><path d="M1168.8 455.5L1168.9 462.3"/><path d="M1168.9 462.3L1169.0 469.1"/><path d="M1169.0 469.1L1169.1 476.0"/><path d="M1169.1 476.0L1169.2 482.8"/><path d="M1169.2 482.8L1169.4 489.7"/><path d="M1169.4 489.7L1169.5 495.9"/><path d="M1169.5 495.9L1169.7 502.2"/><path d="M1169.7 502.2L1169.9 508.5"/><path d="M1169.9 508.5L1170.1 514.8"/><path d="M1170.1 514.8L1170.3 521.0"/><path d="M1170.3 521.0L1170.4 527.3"/><path d="M1170.4 527.3L1170.6 533.6"/><path d="M1170.6 533.6L1170.8 539.8"/><path d="M1170.8 539.8L1171.1 545.7"/><path d="M1171.1 545.7L1171.4 551.6"/><path d="M1171.4 551.6L1171.7 557.5"/><path d="M1171.7 557.5L1172.0 563.4"/><path d="M1172.0 563.4L1172.3 569.3"/><path d="M1172.3 569.3L1173.0 574.6"/><path d="M1173.0 574.6L1173.7 580.0"/><path d="M1173.7 580.0L1174.2 586.6"/><path d="M1174.2 586.6L1174.7 593.2"/><path d="M1174.7 593.2L1175.1 599.8"/><path d="M1176.6 590.0L1177.1 595.0"/><path d="M1177.1 595.0L1177.6 600.0"/><path d="M1177.6 600.0L1178.0 605.0"/><path d="M1178.0 605.0L1178.5 610.3"/><path d="M1178.5 610.3L1179.0 615.6"/><path d="M1203.8 602.6L1203.9 596.3"/><path d="M1203.9 596.3L1204.1 590.0"/><path d="M1204.1 590.0L1204.3 596.5"/><path d="M1204.3 596.5L1204.5 603.0"/><path d="M1206.6 601.5L1206.8 594.8"/><path d="M1206.8 594.8L1207.0 588.0"/><path d="M1207.0 588.0L1207.2 594.8"/><path d="M1207.2 594.8L1207.4 601.6"/><path d="M1209.4 615.5L1209.7 608.7"/><path d="M1209.7 608.7L1209.9 602.0"/><path d="M1209.9 602.0L1210.1 608.9"/><path d="M1210.1 608.9L1210.4 615.8"/><path d="M1212.5 616.7L1212.8 610.0"/><path d="M1212.8 610.0L1213.0 616.0"/><path d="M1219.6 635.3L1220.0 629.3"/><path d="M1220.0 629.3L1220.1 622.4"/><path d="M1220.1 622.4L1220.1 615.6"/><path d="M1220.1 615.6L1220.2 608.8"/><path d="M1220.2 608.8L1220.2 602.0"/><path d="M1220.2 602.0L1220.3 595.2"/><path d="M1220.3 595.2L1220.3 588.3"/><path d="M1220.3 588.3L1220.4 581.5"/><path d="M1220.4 581.5L1220.4 574.7"/><path d="M1220.4 574.7L1220.4 567.9"/><path d="M1220.4 567.9L1220.5 561.1"/><path d="M1220.5 561.1L1220.5 554.2"/><path d="M1220.5 554.2L1220.6 547.4"/><path d="M1220.6 547.4L1220.6 540.6"/><path d="M1220.6 540.6L1220.7 533.8"/><path d="M1220.7 533.8L1220.7 527.0"/><path d="M1220.7 527.0L1220.8 520.1"/><path d="M1220.8 520.1L1220.8 513.3"/><path d="M1220.8 513.3L1220.9 506.5"/><path d="M1220.9 506.5L1220.9 499.7"/><path d="M1220.9 499.7L1220.9 492.8"/><path d="M1220.9 492.8L1221.0 486.0"/><path d="M1221.0 486.0L1221.0 479.2"/><path d="M1221.0 479.2L1221.1 472.4"/><path d="M1221.1 472.4L1221.1 465.6"/><path d="M1221.1 465.6L1221.2 458.7"/><path d="M1221.2 458.7L1221.2 451.9"/><path d="M1221.2 451.9L1221.3 445.1"/><path d="M1221.3 445.1L1221.3 438.3"/><path d="M1221.3 438.3L1221.3 431.5"/><path d="M1221.3 431.5L1221.4 424.6"/><path d="M1221.4 424.6L1221.4 417.8"/><path d="M1221.4 417.8L1221.5 411.0"/><path d="M1221.5 411.0L1221.7 417.3"/><path d="M1221.7 417.3L1222.0 423.7"/><path d="M1222.0 423.7L1222.2 430.0"/><path d="M1222.2 430.0L1222.4 436.3"/><path d="M1222.4 436.3L1222.7 442.7"/><path d="M1222.7 442.7L1222.9 449.0"/><path d="M1222.9 449.0L1223.1 442.3"/><path d="M1223.1 442.3L1223.3 435.6"/><path d="M1223.3 435.6L1223.5 428.8"/><path d="M1223.5 428.8L1223.7 422.1"/><path d="M1223.7 422.1L1223.8 415.4"/><path d="M1223.8 415.4L1224.0 408.7"/><path d="M1224.0 408.7L1224.2 401.9"/><path d="M1224.2 401.9L1224.4 395.2"/><path d="M1224.4 395.2L1224.6 401.7"/><path d="M1224.6 401.7L1224.7 408.3"/><path d="M1224.7 408.3L1224.9 414.8"/><path d="M1224.9 414.8L1225.1 421.3"/><path d="M1225.1 421.3L1225.3 427.9"/><path d="M1225.3 427.9L1225.5 434.4"/><path d="M1225.5 434.4L1225.6 441.0"/><path d="M1225.6 441.0L1225.8 447.5"/><path d="M1225.8 447.5L1226.3 442.3"/><path d="M1226.3 442.3L1226.8 437.0"/><path d="M1226.8 437.0L1227.3 431.8"/><path d="M1227.3 431.8L1227.5 438.0"/><path d="M1227.5 438.0L1227.7 444.1"/><path d="M1227.7 444.1L1227.9 450.3"/><path d="M1227.9 450.3L1228.1 456.4"/><path d="M1228.1 456.4L1228.3 462.6"/><path d="M1228.3 462.6L1228.5 468.8"/><path d="M1228.5 468.8L1228.7 474.9"/><path d="M1228.7 474.9L1228.9 481.6"/><path d="M1228.9 481.6L1229.0 488.2"/><path d="M1229.0 488.2L1229.1 494.9"/><path d="M1229.1 494.9L1229.3 501.5"/><path d="M1229.3 501.5L1229.4 508.2"/><path d="M1229.4 508.2L1229.5 514.8"/><path d="M1229.5 514.8L1229.6 521.5"/><path d="M1229.6 521.5L1229.8 528.2"/><path d="M1351.0 526.7L1351.1 520.0"/><path d="M1351.1 520.0L1351.2 513.3"/><path d="M1351.2 513.3L1351.3 506.6"/><path d="M1351.3 506.6L1351.4 499.9"/><path d="M1351.4 499.9L1351.4 493.2"/><path d="M1351.4 493.2L1351.5 486.5"/><path d="M1351.5 486.5L1351.6 479.8"/><path d="M1351.6 479.8L1351.7 473.1"/><path d="M1352.1 472.5L1352.4 478.7"/><path d="M1352.4 478.7L1352.7 484.8"/><path d="M1352.7 484.8L1353.0 491.0"/><path d="M1353.0 491.0L1353.3 497.1"/><path d="M1353.3 497.1L1353.3 504.0"/><path d="M1353.3 504.0L1353.4 510.9"/><path d="M1353.4 510.9L1353.5 517.8"/><path d="M1353.5 517.8L1353.6 524.7"/></g><g stroke="#041b5c"><path d="M1163.2 167.0L1163.3 160.2"/><path d="M1163.3 160.2L1163.4 153.5"/><path d="M1163.4 153.5L1163.5 146.7"/><path d="M1163.5 146.7L1163.6 140.0"/><path d="M1163.6 140.0L1163.9 146.2"/><path d="M1163.9 146.2L1164.3 152.4"/><path d="M1164.3 152.4L1164.7 158.5"/><path d="M1164.7 158.5L1165.0 164.7"/><path d="M1165.0 164.7L1165.1 171.5"/><path d="M1165.1 171.5L1165.2 178.4"/><path d="M1165.2 178.4L1165.3 185.2"/><path d="M1165.3 185.2L1165.3 192.1"/><path d="M1351.7 473.1L1351.8 466.4"/><path d="M1351.8 466.4L1352.1 472.5"/></g></g><g fill="none" stroke-width="3.60" stroke-opacity="0.70"><g stroke="#eebcdc"><path d="M62.8 237.0L64.4 237.0"/><path d="M64.4 237.0L65.9 237.0"/><path d="M65.9 237.0L67.5 237.0"/><path d="M67.5 237.0L69.1 237.0"/><path d="M69.1 237.0L70.7 237.0"/><path d="M70.7 237.0L72.2 236.9"/><path d="M72.2 236.9L73.8 236.9"/><path d="M73.8 236.9L75.4 236.9"/><path d="M75.4 236.9L77.0 236.9"/><path d="M77.0 236.9L78.5 236.9"/><path d="M78.5 236.9L80.1 236.9"/><path d="M80.1 236.9L81.7 236.9"/><path d="M81.7 236.9L83.3 236.9"/><path d="M83.3 236.9L84.8 236.9"/><path d="M84.8 236.9L86.4 236.9"/><path d="M86.4 236.9L88.0 236.9"/><path d="M88.0 236.9L89.6 236.9"/><path d="M89.6 236.9L91.1 236.8"/><path d="M91.1 236.8L92.7 236.8"/><path d="M92.7 236.8L94.3 236.8"/><path d="M94.3 236.8L95.9 236.8"/><path d="M95.9 236.8L97.4 236.8"/><path d="M97.4 236.8L99.0 236.8"/><path d="M99.0 236.8L100.6 236.8"/><path d="M100.6 236.8L102.2 236.8"/><path d="M102.2 236.8L103.7 236.8"/><path d="M103.7 236.8L105.3 234.9"/><path d="M110.0 236.7L111.6 236.7"/><path d="M111.6 236.7L113.2 236.7"/><path d="M113.2 236.7L114.7 236.7"/><path d="M114.7 236.7L116.3 236.7"/><path d="M116.3 236.7L117.9 236.7"/><path d="M117.9 236.7L119.5 236.7"/><path d="M119.5 236.7L121.0 236.7"/><path d="M121.0 236.7L122.6 236.7"/><path d="M122.6 236.7L124.2 236.7"/><path d="M124.2 236.7L125.8 236.6"/><path d="M125.8 236.6L127.3 236.6"/><path d="M127.3 236.6L128.9 236.6"/><path d="M128.9 236.6L130.5 236.6"/><path d="M130.5 236.6L132.1 236.6"/><path d="M132.1 236.6L133.6 236.6"/><path d="M133.6 236.6L135.2 236.6"/><path d="M135.2 236.6L136.8 236.6"/><path d="M136.8 236.6L138.4 236.6"/><path d="M138.4 236.6L139.9 236.6"/><path d="M139.9 236.6L141.5 236.6"/><path d="M141.5 236.6L143.1 236.5"/><path d="M143.1 236.5L144.6 236.5"/><path d="M144.6 236.5L146.2 236.5"/><path d="M146.2 236.5L147.8 236.3"/><path d="M147.8 236.3L149.4 233.5"/><path d="M150.9 236.2L152.5 236.5"/><path d="M152.5 236.5L154.1 236.4"/><path d="M154.1 236.4L155.7 236.4"/><path d="M155.7 236.4L157.2 236.4"/><path d="M157.2 236.4L158.8 236.4"/><path d="M235.9 236.2L237.5 236.2"/><path d="M237.5 236.2L239.1 236.2"/><path d="M239.1 236.2L240.7 236.2"/><path d="M240.7 236.2L242.2 236.1"/><path d="M242.2 236.1L243.8 236.1"/><path d="M243.8 236.1L245.4 236.1"/><path d="M245.4 236.1L247.0 236.1"/><path d="M247.0 236.1L248.5 236.1"/><path d="M248.5 236.1L250.1 236.1"/><path d="M250.1 236.1L251.7 236.1"/><path d="M251.7 236.1L253.3 236.1"/><path d="M253.3 236.1L254.8 236.0"/><path d="M254.8 236.0L256.4 236.0"/><path d="M256.4 236.0L258.0 236.0"/><path d="M258.0 236.0L259.6 236.0"/><path d="M259.6 236.0L261.1 236.6"/><path d="M390.2 232.4L391.8 232.0"/><path d="M391.8 232.0L393.3 231.5"/><path d="M393.3 231.5L394.9 231.0"/><path d="M402.8 231.7L404.4 232.3"/><path d="M404.4 232.3L405.9 232.2"/><path d="M405.9 232.2L407.5 232.0"/><path d="M407.5 232.0L409.1 231.7"/><path d="M409.1 231.7L410.7 231.5"/><path d="M410.7 231.5L412.2 231.3"/><path d="M412.2 231.3L413.8 231.0"/><path d="M413.8 231.0L415.4 230.8"/><path d="M415.4 230.8L417.0 230.6"/><path d="M417.0 230.6L418.5 230.3"/><path d="M418.5 230.3L420.1 230.1"/><path d="M670.4 231.9L671.9 232.3"/><path d="M671.9 232.3L673.5 232.3"/><path d="M673.5 232.3L675.1 232.3"/><path d="M675.1 232.3L676.7 232.3"/><path d="M676.7 232.3L678.2 232.3"/><path d="M678.2 232.3L679.8 232.3"/><path d="M679.8 232.3L681.4 232.3"/><path d="M681.4 232.3L683.0 232.3"/><path d="M683.0 232.3L684.5 232.3"/><path d="M684.5 232.3L686.1 232.3"/><path d="M686.1 232.3L687.7 232.3"/><path d="M687.7 232.3L689.3 232.3"/><path d="M689.3 232.3L690.8 232.3"/><path d="M690.8 232.3L692.4 232.3"/><path d="M692.4 232.3L694.0 232.3"/></g><g stroke="#f0b8cc"><path d="M158.8 236.4L160.4 236.4"/><path d="M160.4 236.4L162.0 236.3"/><path d="M162.0 236.3L163.5 236.3"/><path d="M163.5 236.3L165.1 236.3"/><path d="M165.1 236.3L166.7 236.3"/><path d="M166.7 236.3L168.3 236.2"/><path d="M168.3 236.2L169.8 236.2"/><path d="M198.2 236.4L199.7 236.5"/><path d="M199.7 236.5L201.3 236.5"/><path d="M201.3 236.5L202.9 236.5"/><path d="M202.9 236.5L204.5 236.5"/><path d="M204.5 236.5L206.0 236.4"/><path d="M206.0 236.4L207.6 236.4"/><path d="M207.6 236.4L209.2 236.4"/><path d="M209.2 236.4L210.8 236.4"/><path d="M210.8 236.4L212.3 236.4"/><path d="M212.3 236.4L213.9 236.4"/><path d="M213.9 236.4L215.5 236.4"/><path d="M215.5 236.4L217.1 236.4"/><path d="M217.1 236.4L218.6 236.3"/><path d="M218.6 236.3L220.2 236.3"/><path d="M220.2 236.3L221.8 236.3"/><path d="M221.8 236.3L223.3 236.3"/><path d="M223.3 236.3L224.9 236.3"/><path d="M224.9 236.3L226.5 236.3"/><path d="M226.5 236.3L228.1 236.3"/><path d="M228.1 236.3L229.6 236.3"/><path d="M229.6 236.3L231.2 236.2"/><path d="M231.2 236.2L232.8 236.2"/><path d="M232.8 236.2L234.4 236.2"/><path d="M234.4 236.2L235.9 236.2"/><path d="M261.1 236.6L262.7 237.5"/><path d="M387.0 232.0L388.6 232.2"/><path d="M388.6 232.2L390.2 232.4"/><path d="M394.9 231.0L396.5 230.5"/><path d="M396.5 230.5L398.1 230.0"/><path d="M398.1 230.0L399.6 230.4"/><path d="M399.6 230.4L401.2 231.1"/><path d="M401.2 231.1L402.8 231.7"/><path d="M420.1 230.1L421.7 229.8"/><path d="M667.2 231.2L668.8 231.5"/><path d="M668.8 231.5L670.4 231.9"/></g><g stroke="#f0b5be"><path d="M149.4 233.5L150.9 236.2"/><path d="M169.8 236.2L171.4 236.2"/><path d="M171.4 236.2L173.0 236.2"/><path d="M173.0 236.2L174.6 236.1"/><path d="M174.6 236.1L176.1 236.1"/><path d="M176.1 236.1L177.7 236.1"/><path d="M177.7 236.1L179.3 235.8"/><path d="M179.3 235.8L180.9 232.4"/><path d="M262.7 237.5L264.3 238.3"/><path d="M264.3 238.3L265.8 238.2"/><path d="M382.3 231.4L383.9 231.6"/><path d="M383.9 231.6L385.5 231.8"/><path d="M385.5 231.8L387.0 232.0"/><path d="M421.7 229.8L423.2 229.4"/><path d="M665.6 230.8L667.2 231.2"/></g><g stroke="#f0b1b0"><path d="M108.4 234.9L110.0 236.7"/><path d="M180.9 232.4L182.4 235.7"/><path d="M182.4 235.7L184.0 236.0"/><path d="M184.0 236.0L185.6 236.0"/><path d="M185.6 236.0L187.1 235.7"/><path d="M187.1 235.7L188.7 231.8"/><path d="M196.6 235.3L198.2 236.4"/><path d="M265.8 238.2L267.4 237.0"/><path d="M380.7 231.2L382.3 231.4"/><path d="M664.1 230.4L665.6 230.8"/></g><g stroke="#efada2"><path d="M105.3 234.9L105.5 228.7"/><path d="M108.2 228.7L108.4 234.9"/><path d="M193.4 234.9L194.2 228.8"/><path d="M195.8 229.0L196.6 235.3"/><path d="M662.5 228.9L664.1 230.4"/></g><g stroke="#eda994"><path d="M105.5 228.7L105.7 222.4"/><path d="M108.0 222.4L108.2 228.7"/><path d="M267.4 237.0L269.0 235.8"/><path d="M306.8 206.7L308.3 206.2"/><path d="M379.2 230.6L380.7 231.2"/></g><g stroke="#eaa589"><path d="M105.7 222.4L106.0 216.1"/><path d="M107.8 216.1L108.0 222.4"/><path d="M194.2 228.8L195.0 222.7"/><path d="M195.0 222.7L195.8 229.0"/><path d="M269.0 235.8L270.6 234.5"/><path d="M305.2 207.0L306.8 206.7"/><path d="M308.3 206.2L309.9 204.2"/><path d="M660.9 226.0L662.5 228.9"/></g><g stroke="#e7a17d"><path d="M270.6 234.5L272.1 233.0"/><path d="M309.9 204.2L311.5 201.0"/><path d="M377.6 229.8L379.2 230.6"/><path d="M439.0 222.4L440.6 221.1"/><path d="M440.6 221.1L442.1 218.0"/><path d="M514.5 213.4L516.1 212.8"/><path d="M516.1 212.8L517.7 211.7"/><path d="M605.8 217.2L607.4 217.3"/><path d="M607.4 217.3L609.0 217.0"/><path d="M609.0 217.0L610.6 216.6"/></g><g stroke="#e29b70"><path d="M106.0 216.1L106.2 209.8"/><path d="M107.5 209.8L107.8 216.1"/><path d="M272.1 233.0L273.7 231.6"/><path d="M303.6 207.0L305.2 207.0"/><path d="M311.5 201.0L313.1 197.2"/><path d="M330.4 183.8L332.0 186.9"/><path d="M423.2 229.4L424.8 229.0"/><path d="M513.0 212.5L514.5 213.4"/><path d="M517.7 211.7L519.3 209.1"/><path d="M604.3 216.1L605.8 217.2"/><path d="M610.6 216.6L612.1 216.1"/><path d="M612.1 216.1L613.7 215.5"/><path d="M613.7 215.5L615.3 214.2"/><path d="M659.3 223.1L660.9 226.0"/></g><g stroke="#dd9764"><path d="M106.2 209.8L106.4 203.6"/><path d="M107.3 203.6L107.5 209.8"/><path d="M188.7 231.8L190.3 226.0"/><path d="M191.9 231.9L193.4 234.9"/><path d="M273.7 231.6L275.3 230.1"/><path d="M376.0 229.0L377.6 229.8"/><path d="M442.1 218.0L443.7 213.1"/><path d="M511.4 211.3L513.0 212.5"/><path d="M637.3 215.3L638.9 216.0"/><path d="M638.9 216.0L640.5 216.6"/><path d="M640.5 216.6L642.0 216.3"/><path d="M642.0 216.3L643.6 214.6"/></g><g stroke="#d69558"><path d="M190.3 226.0L191.9 231.9"/><path d="M519.3 209.1L520.8 205.5"/><path d="M520.8 205.5L522.4 204.0"/><path d="M524.0 205.9L525.6 208.2"/><path d="M525.6 208.2L527.1 208.8"/><path d="M527.1 208.8L528.7 208.4"/><path d="M528.7 208.4L530.3 207.7"/><path d="M602.7 214.9L604.3 216.1"/><path d="M615.3 214.2L616.8 211.9"/><path d="M632.6 213.2L634.2 213.9"/><path d="M634.2 213.9L635.7 214.6"/><path d="M635.7 214.6L637.3 215.3"/></g><g stroke="#ce934d"><path d="M106.4 203.6L106.6 197.3"/><path d="M107.1 197.3L107.3 203.6"/><path d="M275.3 230.1L276.9 229.5"/><path d="M302.0 206.7L303.6 207.0"/><path d="M313.1 197.2L314.6 192.4"/><path d="M350.8 213.1L352.4 212.3"/><path d="M374.5 227.6L376.0 229.0"/><path d="M522.4 204.0L524.0 205.9"/><path d="M530.3 207.7L531.9 206.3"/><path d="M627.9 211.5L629.4 211.9"/><path d="M629.4 211.9L631.0 212.4"/><path d="M631.0 212.4L632.6 213.2"/><path d="M657.8 220.1L659.3 223.1"/></g><g stroke="#c59144"><path d="M106.6 197.3L106.9 191.0"/><path d="M106.9 191.0L107.1 197.3"/><path d="M349.3 213.1L350.8 213.1"/><path d="M352.4 212.3L354.0 209.7"/><path d="M372.9 226.2L374.5 227.6"/><path d="M531.9 206.3L533.4 204.8"/><path d="M643.6 214.6L645.2 207.4"/></g><g stroke="#bc903b"><path d="M276.9 229.5L278.4 228.9"/><path d="M328.8 180.0L330.4 183.8"/><path d="M533.4 204.8L535.0 203.3"/><path d="M616.8 211.9L618.4 208.6"/><path d="M626.3 210.2L627.9 211.5"/><path d="M656.2 217.2L657.8 220.1"/></g><g stroke="#b28e35"><path d="M314.6 192.4L315.2 186.1"/><path d="M315.2 186.1L315.7 179.8"/><path d="M315.7 179.8L316.2 173.5"/><path d="M371.3 223.0L372.9 226.2"/><path d="M424.8 229.0L426.4 226.3"/><path d="M535.0 203.3L536.6 201.8"/><path d="M618.4 208.6L620.0 205.4"/><path d="M620.0 205.4L621.6 204.0"/><path d="M621.6 204.0L623.1 205.2"/><path d="M623.1 205.2L624.7 207.8"/><path d="M624.7 207.8L626.3 210.2"/><path d="M645.2 207.4L646.8 200.9"/></g><g stroke="#a78d2e"><path d="M278.4 228.9L280.0 228.4"/><path d="M298.9 210.2L300.5 200.4"/><path d="M316.2 173.5L317.8 183.6"/><path d="M347.7 212.3L349.3 213.1"/><path d="M646.8 200.9L648.3 206.3"/><path d="M648.3 206.3L649.9 202.9"/><path d="M654.6 214.2L656.2 217.2"/></g><g stroke="#9b8a29"><path d="M300.5 200.4L302.0 206.7"/><path d="M354.0 209.7L354.5 204.9"/><path d="M369.7 219.6L371.3 223.0"/><path d="M536.6 201.8L538.1 199.9"/><path d="M541.3 194.7L542.9 193.3"/></g><g stroke="#908828"><path d="M280.0 228.4L281.6 227.7"/><path d="M297.3 212.3L298.9 210.2"/><path d="M354.5 204.9L355.0 200.1"/><path d="M538.1 199.9L539.7 197.4"/><path d="M539.7 197.4L541.3 194.7"/><path d="M542.9 193.3L544.4 193.1"/><path d="M566.5 202.8L568.1 202.3"/><path d="M568.1 202.3L569.6 201.7"/></g><g stroke="#87862d"><path d="M355.0 200.1L355.6 195.3"/><path d="M368.2 216.3L369.7 219.6"/><path d="M443.7 213.1L443.9 206.4"/><path d="M500.4 203.3L501.9 199.2"/><path d="M564.9 200.3L566.5 202.8"/><path d="M569.6 201.7L571.2 200.6"/><path d="M593.2 207.8L594.8 203.0"/></g><g stroke="#7c8432"><path d="M281.6 227.7L283.2 227.1"/><path d="M295.8 214.1L297.3 212.3"/><path d="M346.1 210.8L347.7 212.3"/><path d="M355.6 195.3L357.1 204.1"/><path d="M443.9 206.4L444.2 199.8"/><path d="M446.9 206.9L448.4 202.8"/><path d="M479.9 196.7L481.5 193.6"/><path d="M481.5 193.6L483.1 187.6"/><path d="M483.1 187.6L484.6 180.4"/><path d="M484.6 180.4L486.2 175.9"/><path d="M486.2 175.9L487.8 177.4"/><path d="M487.8 177.4L489.4 184.2"/><path d="M489.4 184.2L490.9 192.0"/><path d="M490.9 192.0L492.5 196.0"/><path d="M497.2 202.3L498.8 202.7"/><path d="M498.8 202.7L500.4 203.3"/><path d="M544.4 193.1L546.0 192.6"/><path d="M571.2 200.6L572.8 197.7"/><path d="M580.6 191.9L582.2 187.8"/><path d="M582.2 187.8L583.8 186.3"/><path d="M583.8 186.3L585.4 190.0"/><path d="M585.4 190.0L586.9 196.5"/><path d="M586.9 196.5L588.5 201.8"/><path d="M588.5 201.8L590.1 204.8"/><path d="M590.1 204.8L591.7 206.5"/><path d="M591.7 206.5L593.2 207.8"/></g><g stroke="#6f8238"><path d="M294.2 216.0L295.8 214.1"/><path d="M446.6 200.2L446.9 206.9"/><path d="M467.3 157.0L467.8 162.6"/><path d="M467.8 162.6L468.4 168.2"/><path d="M468.4 168.2L468.9 173.8"/><path d="M468.9 173.8L469.4 180.0"/><path d="M469.4 180.0L469.9 186.1"/><path d="M469.9 186.1L470.5 192.3"/><path d="M470.5 192.3L472.0 196.7"/><path d="M472.0 196.7L473.6 197.3"/><path d="M473.6 197.3L475.2 197.6"/><path d="M475.2 197.6L476.8 197.9"/><path d="M476.8 197.9L478.3 197.8"/><path d="M478.3 197.8L479.9 196.7"/><path d="M492.5 196.0L493.0 190.6"/><path d="M495.7 200.1L497.2 202.3"/><path d="M579.1 195.9L580.6 191.9"/><path d="M649.9 202.9L650.7 196.2"/><path d="M650.7 196.2L651.5 189.4"/><path d="M651.5 189.4L652.0 194.4"/><path d="M652.0 194.4L652.5 199.3"/><path d="M652.5 199.3L653.0 204.3"/><path d="M653.0 204.3L654.6 214.2"/></g><g stroke="#637e3e"><path d="M366.6 213.2L368.2 216.3"/><path d="M426.4 226.3L426.6 220.1"/><path d="M426.6 220.1L426.8 214.0"/><path d="M444.2 199.8L444.4 193.1"/><path d="M446.3 193.5L446.6 200.2"/><path d="M454.7 191.5L456.3 190.2"/><path d="M465.7 166.0L467.3 157.0"/><path d="M493.0 190.6L493.6 185.3"/><path d="M494.6 186.7L495.1 193.4"/><path d="M495.1 193.4L495.7 200.1"/><path d="M563.3 196.3L564.9 200.3"/><path d="M572.8 197.7L574.4 195.0"/><path d="M577.5 197.7L579.1 195.9"/></g><g stroke="#577a45"><path d="M283.2 227.1L284.7 226.4"/><path d="M292.6 218.0L294.2 216.0"/><path d="M317.8 183.6L319.4 179.8"/><path d="M327.2 175.2L328.8 180.0"/><path d="M332.0 186.9L333.5 190.1"/><path d="M426.8 214.0L427.0 207.8"/><path d="M444.4 193.1L444.6 186.5"/><path d="M446.1 186.7L446.3 193.5"/><path d="M452.9 157.9L453.2 151.8"/><path d="M453.2 151.8L453.4 158.4"/><path d="M453.4 158.4L453.7 165.0"/><path d="M453.7 165.0L453.9 171.7"/><path d="M453.9 171.7L454.2 178.3"/><path d="M454.2 178.3L454.5 184.9"/><path d="M454.5 184.9L454.7 191.5"/><path d="M456.3 190.2L457.9 190.7"/><path d="M457.9 190.7L459.4 184.7"/><path d="M465.5 145.5L465.6 152.4"/><path d="M465.6 152.4L465.7 159.2"/><path d="M465.7 159.2L465.7 166.0"/><path d="M493.6 185.3L494.1 180.0"/><path d="M494.1 180.0L494.6 186.7"/><path d="M546.0 192.6L547.6 188.1"/><path d="M574.4 195.0L575.9 196.5"/><path d="M575.9 196.5L577.5 197.7"/></g><g stroke="#4b764c"><path d="M344.5 208.7L346.1 210.8"/><path d="M427.0 207.8L427.2 201.6"/><path d="M444.6 186.5L444.8 179.8"/><path d="M445.8 180.0L446.1 186.7"/><path d="M448.4 202.8L448.6 196.3"/><path d="M448.6 196.3L448.7 189.7"/><path d="M448.7 189.7L448.9 183.2"/><path d="M451.4 188.5L451.6 194.8"/><path d="M451.6 194.8L451.8 188.7"/><path d="M451.8 188.7L452.0 182.5"/><path d="M452.0 182.5L452.3 176.4"/><path d="M452.3 176.4L452.5 170.2"/><path d="M452.5 170.2L452.7 164.1"/><path d="M452.7 164.1L452.9 157.9"/><path d="M465.4 131.9L465.4 138.7"/><path d="M465.4 138.7L465.5 145.5"/><path d="M561.8 192.3L563.3 196.3"/></g><g stroke="#3f7153"><path d="M291.0 220.0L292.6 218.0"/><path d="M326.7 169.4L327.2 175.2"/><path d="M357.1 204.1L358.7 203.7"/><path d="M365.0 210.8L366.6 213.2"/><path d="M427.2 201.6L427.4 195.4"/><path d="M427.4 195.4L427.6 189.3"/><path d="M444.8 179.8L445.1 173.2"/><path d="M445.5 173.2L445.8 180.0"/><path d="M448.9 183.2L449.0 176.7"/><path d="M449.0 176.7L449.1 170.2"/><path d="M449.1 170.2L449.3 163.6"/><path d="M450.9 169.3L451.1 175.7"/><path d="M451.1 175.7L451.3 182.1"/><path d="M451.3 182.1L451.4 188.5"/><path d="M465.2 118.3L465.3 125.1"/><path d="M465.3 125.1L465.4 131.9"/></g><g stroke="#376e58"><path d="M284.7 226.4L286.3 225.2"/><path d="M287.9 223.5L289.5 221.7"/><path d="M289.5 221.7L291.0 220.0"/><path d="M333.5 190.1L335.1 193.2"/><path d="M343.0 206.6L344.5 208.7"/><path d="M427.6 189.3L427.8 183.1"/><path d="M434.3 220.2L434.4 213.4"/><path d="M434.4 213.4L434.5 206.6"/><path d="M437.1 198.7L437.2 205.3"/><path d="M437.2 205.3L437.3 212.0"/><path d="M437.3 212.0L437.4 218.7"/><path d="M437.4 218.7L439.0 222.4"/><path d="M449.3 163.6L449.4 157.1"/><path d="M449.4 157.1L449.6 150.6"/><path d="M449.6 150.6L449.7 144.1"/><path d="M450.5 150.2L450.6 156.5"/><path d="M450.6 156.5L450.8 162.9"/><path d="M450.8 162.9L450.9 169.3"/><path d="M465.0 104.6L465.1 111.4"/><path d="M465.1 111.4L465.2 118.3"/><path d="M552.3 188.8L553.9 184.9"/></g><g stroke="#326b5b"><path d="M286.3 225.2L287.9 223.5"/><path d="M363.4 208.8L365.0 210.8"/><path d="M427.8 183.1L428.0 176.9"/><path d="M428.0 176.9L428.2 182.9"/><path d="M434.5 206.6L434.6 199.9"/><path d="M434.6 199.9L434.7 193.1"/><path d="M434.7 193.1L434.8 186.4"/><path d="M434.8 186.4L434.9 179.6"/><path d="M434.9 179.6L435.0 172.9"/><path d="M436.6 165.4L436.7 172.0"/><path d="M436.7 172.0L436.8 178.7"/><path d="M436.8 178.7L436.9 185.4"/><path d="M436.9 185.4L437.0 192.0"/><path d="M437.0 192.0L437.1 198.7"/><path d="M445.1 173.2L445.3 166.5"/><path d="M445.3 166.5L445.5 173.2"/><path d="M449.7 144.1L449.9 137.5"/><path d="M449.9 137.5L450.0 131.0"/><path d="M450.0 131.0L450.2 137.4"/><path d="M450.2 137.4L450.3 143.8"/><path d="M450.3 143.8L450.5 150.2"/><path d="M464.9 91.0L465.0 97.8"/><path d="M465.0 97.8L465.0 104.6"/><path d="M505.1 201.5L506.7 201.8"/><path d="M547.6 188.1L547.7 181.2"/><path d="M550.6 179.9L550.7 186.7"/><path d="M550.7 186.7L552.3 188.8"/><path d="M553.9 184.9L555.5 182.0"/><path d="M555.5 182.0L557.0 183.2"/><path d="M557.0 183.2L558.6 186.0"/><path d="M558.6 186.0L560.2 187.9"/><path d="M560.2 187.9L561.8 192.3"/></g><g stroke="#2d685e"><path d="M319.4 179.8L320.9 176.1"/><path d="M326.2 163.5L326.7 169.4"/><path d="M335.1 193.2L336.7 196.3"/><path d="M341.4 204.4L343.0 206.6"/><path d="M358.7 203.7L360.3 205.3"/><path d="M360.3 205.3L361.9 206.9"/><path d="M428.2 182.9L428.4 189.0"/><path d="M428.4 189.0L428.6 195.0"/><path d="M428.6 195.0L428.9 201.1"/><path d="M428.9 201.1L429.1 207.1"/><path d="M435.0 172.9L435.1 166.1"/><path d="M435.1 166.1L435.1 159.4"/><path d="M435.1 159.4L435.2 152.6"/><path d="M435.2 152.6L435.3 145.9"/><path d="M435.3 145.9L435.4 139.1"/><path d="M436.2 138.7L436.3 145.4"/><path d="M436.3 145.4L436.4 152.1"/><path d="M436.4 152.1L436.5 158.7"/><path d="M436.5 158.7L436.6 165.4"/><path d="M464.7 77.3L464.8 84.2"/><path d="M464.8 84.2L464.9 91.0"/><path d="M501.9 199.2L502.0 192.2"/><path d="M502.0 192.2L502.1 185.2"/><path d="M502.1 185.2L502.2 178.2"/><path d="M502.2 178.2L502.3 171.2"/><path d="M502.3 171.2L502.4 164.3"/><path d="M502.4 164.3L502.5 157.3"/><path d="M502.5 157.3L502.6 150.3"/><path d="M502.6 150.3L502.6 143.3"/><path d="M502.6 143.3L502.7 136.3"/><path d="M504.2 127.4L504.3 134.1"/><path d="M504.3 134.1L504.3 140.8"/><path d="M504.3 140.8L504.4 147.6"/><path d="M504.4 147.6L504.5 154.3"/><path d="M504.5 154.3L504.6 161.0"/><path d="M504.6 161.0L504.7 167.8"/><path d="M504.7 167.8L504.8 174.5"/><path d="M504.8 174.5L504.8 181.2"/><path d="M504.8 181.2L504.9 188.0"/><path d="M504.9 188.0L505.0 194.7"/><path d="M505.0 194.7L505.1 201.5"/><path d="M547.7 181.2L547.8 174.4"/><path d="M547.8 174.4L547.9 167.5"/><path d="M550.4 166.3L550.5 173.1"/><path d="M550.5 173.1L550.6 179.9"/><path d="M600.9 187.7L600.9 194.6"/><path d="M600.9 194.6L601.0 201.4"/><path d="M601.0 201.4L601.1 208.3"/><path d="M601.1 208.3L602.7 214.9"/></g><g stroke="#286561"><path d="M336.7 196.3L338.2 199.4"/><path d="M361.9 206.9L363.4 208.8"/><path d="M429.1 207.1L429.3 213.2"/><path d="M429.3 213.2L429.5 219.2"/><path d="M429.5 219.2L429.6 212.5"/><path d="M429.6 212.5L429.7 205.8"/><path d="M429.7 205.8L429.8 199.1"/><path d="M429.8 199.1L429.9 192.4"/><path d="M429.9 192.4L429.9 185.7"/><path d="M432.3 186.1L432.4 192.8"/><path d="M432.4 192.8L432.5 199.5"/><path d="M432.5 199.5L432.5 206.3"/><path d="M432.5 206.3L432.6 213.0"/><path d="M432.6 213.0L432.7 219.7"/><path d="M432.7 219.7L434.3 220.2"/><path d="M435.4 139.1L435.5 132.4"/><path d="M435.5 132.4L435.6 125.6"/><path d="M435.6 125.6L435.7 118.9"/><path d="M435.7 118.9L435.8 112.1"/><path d="M435.8 112.1L435.9 118.8"/><path d="M435.9 118.8L436.0 125.4"/><path d="M436.0 125.4L436.1 132.1"/><path d="M436.1 132.1L436.2 138.7"/><path d="M464.6 63.7L464.6 70.5"/><path d="M464.6 70.5L464.7 77.3"/><path d="M502.7 136.3L502.8 129.3"/><path d="M502.8 129.3L502.9 122.4"/><path d="M502.9 122.4L503.0 115.4"/><path d="M503.0 115.4L503.1 108.4"/><path d="M503.1 108.4L503.2 101.4"/><path d="M503.2 101.4L503.3 94.4"/><path d="M503.3 94.4L503.3 87.5"/><path d="M503.3 87.5L503.4 80.5"/><path d="M503.4 80.5L503.5 73.5"/><path d="M503.5 73.5L503.6 80.2"/><path d="M503.6 80.2L503.7 87.0"/><path d="M503.7 87.0L503.8 93.7"/><path d="M503.8 93.7L503.9 100.4"/><path d="M503.9 100.4L503.9 107.2"/><path d="M503.9 107.2L504.0 113.9"/><path d="M504.0 113.9L504.1 120.6"/><path d="M504.1 120.6L504.2 127.4"/><path d="M506.7 201.8L506.7 194.8"/><path d="M506.7 194.8L506.8 187.8"/><path d="M506.8 187.8L506.9 180.9"/><path d="M506.9 180.9L507.0 173.9"/><path d="M507.0 173.9L507.0 167.0"/><path d="M507.0 167.0L507.1 160.0"/><path d="M507.1 160.0L507.2 153.1"/><path d="M507.2 153.1L507.3 146.1"/><path d="M507.3 146.1L507.3 139.2"/><path d="M509.0 129.9L509.1 136.6"/><path d="M509.1 136.6L509.2 143.4"/><path d="M509.2 143.4L509.2 150.1"/><path d="M509.2 150.1L509.3 156.8"/><path d="M509.3 156.8L509.4 163.6"/><path d="M509.4 163.6L509.5 170.3"/><path d="M509.5 170.3L509.5 177.1"/><path d="M509.5 177.1L509.6 183.8"/><path d="M509.6 183.8L509.7 190.6"/><path d="M509.7 190.6L509.7 197.3"/><path d="M509.7 197.3L509.8 204.0"/><path d="M509.8 204.0L511.4 211.3"/><path d="M547.9 167.5L548.0 160.6"/><path d="M548.0 160.6L548.1 153.7"/><path d="M550.2 152.8L550.3 159.5"/><path d="M550.3 159.5L550.4 166.3"/><path d="M594.8 203.0L594.9 196.3"/><path d="M594.9 196.3L595.0 189.5"/><path d="M595.0 189.5L595.0 182.8"/><path d="M595.0 182.8L595.1 176.1"/><path d="M595.1 176.1L595.2 169.3"/><path d="M595.2 169.3L595.3 162.6"/><path d="M595.3 162.6L595.3 155.8"/><path d="M600.2 132.7L600.3 139.6"/><path d="M600.3 139.6L600.4 146.4"/><path d="M600.4 146.4L600.4 153.3"/><path d="M600.4 153.3L600.5 160.2"/><path d="M600.5 160.2L600.6 167.1"/><path d="M600.6 167.1L600.7 173.9"/><path d="M600.7 173.9L600.8 180.8"/><path d="M600.8 180.8L600.9 187.7"/></g><g stroke="#225e5f"><path d="M320.9 176.1L321.5 171.0"/><path d="M325.7 157.7L326.2 163.5"/><path d="M338.2 199.4L339.8 202.3"/><path d="M339.8 202.3L341.4 204.4"/><path d="M429.9 185.7L430.0 178.9"/><path d="M430.0 178.9L430.1 172.2"/><path d="M430.1 172.2L430.2 165.5"/><path d="M430.2 165.5L430.3 158.8"/><path d="M430.3 158.8L430.3 152.1"/><path d="M430.3 152.1L430.4 145.4"/><path d="M430.4 145.4L430.5 138.7"/><path d="M430.5 138.7L430.6 132.0"/><path d="M430.6 132.0L430.6 125.3"/><path d="M431.6 125.4L431.7 132.2"/><path d="M431.7 132.2L431.7 138.9"/><path d="M431.7 138.9L431.8 145.6"/><path d="M431.8 145.6L431.9 152.4"/><path d="M431.9 152.4L432.0 159.1"/><path d="M432.0 159.1L432.1 165.8"/><path d="M432.1 165.8L432.1 172.6"/><path d="M432.1 172.6L432.2 179.3"/><path d="M432.2 179.3L432.3 186.1"/><path d="M464.4 50.1L464.5 56.9"/><path d="M464.5 56.9L464.6 63.7"/><path d="M507.3 139.2L507.4 132.2"/><path d="M507.4 132.2L507.5 125.2"/><path d="M507.5 125.2L507.6 118.3"/><path d="M507.6 118.3L507.6 111.3"/><path d="M507.6 111.3L507.7 104.4"/><path d="M507.7 104.4L507.8 97.4"/><path d="M507.8 97.4L507.9 90.5"/><path d="M507.9 90.5L507.9 83.5"/><path d="M507.9 83.5L508.0 76.6"/><path d="M508.0 76.6L508.1 69.6"/><path d="M508.1 69.6L508.2 62.7"/><path d="M508.2 62.7L508.2 55.7"/><path d="M508.2 55.7L508.3 62.4"/><path d="M508.3 62.4L508.4 69.2"/><path d="M508.4 69.2L508.5 75.9"/><path d="M508.5 75.9L508.5 82.7"/><path d="M508.5 82.7L508.6 89.4"/><path d="M508.6 89.4L508.7 96.2"/><path d="M508.7 96.2L508.7 102.9"/><path d="M508.7 102.9L508.8 109.6"/><path d="M508.8 109.6L508.9 116.4"/><path d="M508.9 116.4L509.0 123.1"/><path d="M509.0 123.1L509.0 129.9"/><path d="M548.1 153.7L548.2 146.9"/><path d="M548.2 146.9L548.3 140.0"/><path d="M550.0 139.2L550.1 146.0"/><path d="M550.1 146.0L550.2 152.8"/><path d="M595.3 155.8L595.4 149.1"/><path d="M595.4 149.1L595.5 142.3"/><path d="M595.5 142.3L595.6 135.6"/><path d="M595.6 135.6L595.6 128.8"/><path d="M595.6 128.8L595.7 122.1"/><path d="M595.7 122.1L595.8 115.4"/><path d="M595.8 115.4L595.9 108.6"/><path d="M595.9 108.6L595.9 101.9"/><path d="M595.9 101.9L596.0 95.1"/><path d="M596.0 95.1L596.1 88.4"/><path d="M596.1 88.4L596.2 81.6"/><path d="M596.2 81.6L596.2 74.9"/><path d="M596.2 74.9L596.3 68.1"/><path d="M596.3 68.1L596.4 61.4"/><path d="M596.4 61.4L596.5 68.3"/><path d="M596.5 68.3L596.5 75.3"/><path d="M596.5 75.3L596.6 82.2"/><path d="M596.6 82.2L596.7 89.1"/><path d="M596.7 89.1L596.8 96.1"/><path d="M596.8 96.1L596.9 103.0"/><path d="M596.9 103.0L596.9 109.9"/><path d="M596.9 109.9L597.0 116.9"/><path d="M597.0 116.9L597.1 123.8"/><path d="M597.1 123.8L597.2 130.7"/><path d="M597.2 130.7L597.3 137.6"/><path d="M597.3 137.6L597.3 144.6"/><path d="M597.3 144.6L597.4 151.5"/><path d="M597.4 151.5L597.5 158.4"/><path d="M597.5 158.4L597.6 165.4"/><path d="M597.6 165.4L597.6 172.3"/><path d="M597.6 172.3L597.7 179.2"/><path d="M597.7 179.2L597.8 186.2"/><path d="M597.8 186.2L597.9 193.1"/><path d="M597.9 193.1L598.0 200.0"/><path d="M598.0 200.0L598.0 193.2"/><path d="M598.0 193.2L598.1 186.4"/><path d="M598.1 186.4L598.2 179.6"/><path d="M598.2 179.6L598.3 172.8"/><path d="M598.3 172.8L598.4 166.0"/><path d="M598.4 166.0L598.5 159.3"/><path d="M598.5 159.3L598.6 152.5"/><path d="M598.6 152.5L598.7 145.7"/><path d="M598.7 145.7L598.7 138.9"/><path d="M598.7 138.9L598.8 132.1"/><path d="M598.8 132.1L598.9 125.3"/><path d="M598.9 125.3L599.0 118.5"/><path d="M599.0 118.5L599.1 111.7"/><path d="M599.1 111.7L599.2 104.9"/><path d="M599.2 104.9L599.3 98.1"/><path d="M599.3 98.1L599.4 91.3"/><path d="M599.4 91.3L599.4 84.5"/><path d="M599.4 84.5L599.5 77.7"/><path d="M599.5 77.7L599.6 84.6"/><path d="M599.6 84.6L599.7 91.4"/><path d="M599.7 91.4L599.8 98.3"/><path d="M599.8 98.3L599.9 105.2"/><path d="M599.9 105.2L599.9 112.1"/><path d="M599.9 112.1L600.0 118.9"/><path d="M600.0 118.9L600.1 125.8"/><path d="M600.1 125.8L600.2 132.7"/></g><g stroke="#1c555c"><path d="M321.5 171.0L322.0 166.0"/><path d="M322.0 166.0L322.5 161.0"/><path d="M322.5 161.0L324.1 170.8"/><path d="M430.6 125.3L430.7 118.6"/><path d="M430.7 118.6L430.8 111.8"/><path d="M430.8 111.8L430.9 105.1"/><path d="M430.9 105.1L431.0 98.4"/><path d="M431.0 98.4L431.0 91.7"/><path d="M431.0 91.7L431.1 85.0"/><path d="M431.1 85.0L431.2 91.7"/><path d="M431.2 91.7L431.3 98.5"/><path d="M431.3 98.5L431.4 105.2"/><path d="M431.4 105.2L431.4 111.9"/><path d="M431.4 111.9L431.5 118.7"/><path d="M431.5 118.7L431.6 125.4"/><path d="M459.4 184.7L459.5 177.7"/><path d="M459.5 177.7L459.6 170.8"/><path d="M459.6 170.8L459.7 163.8"/><path d="M459.7 163.8L459.7 156.8"/><path d="M459.7 156.8L459.8 149.9"/><path d="M459.8 149.9L459.9 142.9"/><path d="M459.9 142.9L459.9 135.9"/><path d="M459.9 135.9L460.0 129.0"/><path d="M464.2 36.4L464.3 43.2"/><path d="M464.3 43.2L464.4 50.1"/><path d="M548.3 140.0L548.4 133.1"/><path d="M548.4 133.1L548.5 126.2"/><path d="M549.8 125.7L549.9 132.4"/><path d="M549.9 132.4L550.0 139.2"/></g><g stroke="#184d5c"><path d="M324.1 170.8L324.9 164.2"/><path d="M324.9 164.2L325.7 157.7"/><path d="M460.0 129.0L460.1 122.0"/><path d="M460.1 122.0L460.1 115.0"/><path d="M460.1 115.0L460.2 108.0"/><path d="M460.2 108.0L460.3 101.1"/><path d="M460.3 101.1L460.3 94.1"/><path d="M460.3 94.1L460.4 87.1"/><path d="M460.4 87.1L460.5 80.2"/><path d="M460.5 80.2L460.5 73.2"/><path d="M460.5 73.2L460.6 66.2"/><path d="M460.6 66.2L460.7 59.3"/><path d="M460.7 59.3L460.7 52.3"/><path d="M460.7 52.3L460.8 45.3"/><path d="M460.8 45.3L460.9 38.3"/><path d="M460.9 38.3L461.0 31.4"/><path d="M461.0 31.4L461.0 24.4"/><path d="M461.0 24.4L461.1 31.1"/><path d="M461.1 31.1L461.2 37.9"/><path d="M461.2 37.9L461.2 44.6"/><path d="M461.2 44.6L461.3 51.4"/><path d="M461.3 51.4L461.4 58.1"/><path d="M461.4 58.1L461.4 64.9"/><path d="M461.4 64.9L461.5 71.6"/><path d="M461.5 71.6L461.6 78.4"/><path d="M461.6 78.4L461.6 85.1"/><path d="M461.6 85.1L461.7 91.8"/><path d="M461.7 91.8L461.8 98.6"/><path d="M461.8 98.6L461.8 105.3"/><path d="M461.8 105.3L461.9 112.1"/><path d="M461.9 112.1L462.0 118.8"/><path d="M462.0 118.8L462.0 125.6"/><path d="M462.0 125.6L462.1 132.3"/><path d="M462.1 132.3L462.2 139.1"/><path d="M462.2 139.1L462.3 145.8"/><path d="M462.3 145.8L462.3 152.5"/><path d="M462.3 152.5L462.4 159.3"/><path d="M462.4 159.3L462.5 166.0"/><path d="M462.5 166.0L462.5 172.8"/><path d="M462.5 172.8L462.6 179.5"/><path d="M462.6 179.5L462.7 172.7"/><path d="M462.7 172.7L462.7 165.9"/><path d="M462.7 165.9L462.8 159.1"/><path d="M462.8 159.1L462.9 152.3"/><path d="M462.9 152.3L463.0 145.5"/><path d="M463.0 145.5L463.0 138.6"/><path d="M463.0 138.6L463.1 131.8"/><path d="M463.1 131.8L463.2 125.0"/><path d="M463.2 125.0L463.2 118.2"/><path d="M463.2 118.2L463.3 111.4"/><path d="M463.3 111.4L463.4 104.6"/><path d="M463.4 104.6L463.5 97.7"/><path d="M463.5 97.7L463.5 90.9"/><path d="M463.5 90.9L463.6 84.1"/><path d="M463.6 84.1L463.7 77.3"/><path d="M463.7 77.3L463.7 70.5"/><path d="M463.7 70.5L463.8 63.7"/><path d="M463.8 63.7L463.9 56.9"/><path d="M463.9 56.9L464.0 50.0"/><path d="M464.0 50.0L464.0 43.2"/><path d="M464.0 43.2L464.1 36.4"/><path d="M464.1 36.4L464.2 29.6"/><path d="M464.2 29.6L464.2 36.4"/><path d="M548.5 126.2L548.6 119.4"/><path d="M548.6 119.4L548.7 112.5"/><path d="M549.6 112.1L549.7 118.9"/><path d="M549.7 118.9L549.8 125.7"/></g><g stroke="#14465c"><path d="M548.7 112.5L548.9 105.6"/><path d="M548.9 105.6L549.0 98.7"/><path d="M549.4 98.6L549.5 105.3"/><path d="M549.5 105.3L549.6 112.1"/></g><g stroke="#103e5c"><path d="M549.0 98.7L549.1 91.9"/><path d="M549.1 91.9L549.2 85.0"/><path d="M549.2 85.0L549.3 91.8"/><path d="M549.3 91.8L549.4 98.6"/></g></g><g fill="none" stroke-width="2.90" stroke-opacity="0.70"><g stroke="#eebcdc"><path d="M89.4 1498.0L90.8 1498.0"/><path d="M90.8 1498.0L92.1 1498.0"/><path d="M92.1 1498.0L93.5 1497.9"/><path d="M93.5 1497.9L94.8 1497.9"/><path d="M94.8 1497.9L96.2 1497.9"/><path d="M96.2 1497.9L97.5 1497.9"/><path d="M97.5 1497.9L98.9 1497.9"/><path d="M98.9 1497.9L100.3 1497.9"/><path d="M100.3 1497.9L101.6 1497.8"/><path d="M101.6 1497.8L103.0 1497.8"/><path d="M103.0 1497.8L104.3 1497.8"/><path d="M104.3 1497.8L105.7 1497.8"/><path d="M105.7 1497.8L107.1 1497.8"/><path d="M107.1 1497.8L108.4 1497.8"/><path d="M555.2 1497.2L556.6 1497.2"/><path d="M556.6 1497.2L557.9 1497.2"/><path d="M557.9 1497.2L559.3 1497.2"/><path d="M559.3 1497.2L560.6 1497.2"/><path d="M581.0 1497.2L582.4 1497.2"/><path d="M582.4 1497.2L583.7 1497.2"/><path d="M583.7 1497.2L585.1 1497.2"/><path d="M585.1 1497.2L586.4 1497.2"/><path d="M586.4 1497.2L587.8 1497.2"/><path d="M587.8 1497.2L589.1 1497.2"/><path d="M589.1 1497.2L590.5 1497.2"/><path d="M590.5 1497.2L591.9 1497.2"/><path d="M591.9 1497.2L593.2 1497.2"/><path d="M593.2 1497.2L594.6 1497.2"/><path d="M594.6 1497.2L595.9 1497.2"/><path d="M595.9 1497.2L597.3 1497.2"/><path d="M597.3 1497.2L598.7 1497.2"/><path d="M598.7 1497.2L600.0 1497.2"/><path d="M600.0 1497.2L601.4 1497.2"/><path d="M601.4 1497.2L602.7 1497.2"/><path d="M602.7 1497.2L604.1 1497.2"/><path d="M604.1 1497.2L605.4 1497.2"/><path d="M605.4 1497.2L606.8 1497.2"/><path d="M606.8 1497.2L608.2 1497.2"/><path d="M608.2 1497.2L609.5 1497.2"/><path d="M609.5 1497.2L610.9 1497.2"/><path d="M610.9 1497.2L612.2 1497.2"/><path d="M612.2 1497.2L613.6 1497.2"/><path d="M613.6 1497.2L614.9 1497.2"/><path d="M614.9 1497.2L616.3 1497.2"/><path d="M616.3 1497.2L617.7 1497.2"/><path d="M617.7 1497.2L619.0 1497.2"/><path d="M619.0 1497.2L620.4 1497.2"/><path d="M620.4 1497.2L621.7 1497.2"/><path d="M621.7 1497.2L623.1 1497.2"/><path d="M623.1 1497.2L624.5 1497.2"/><path d="M624.5 1497.2L625.8 1497.2"/><path d="M625.8 1497.2L627.2 1497.2"/><path d="M627.2 1497.2L628.5 1497.2"/><path d="M628.5 1497.2L629.9 1497.2"/><path d="M629.9 1497.2L631.2 1497.2"/><path d="M631.2 1497.2L632.6 1497.2"/><path d="M632.6 1497.2L634.0 1497.2"/><path d="M634.0 1497.2L635.3 1497.2"/><path d="M635.3 1497.2L636.7 1497.2"/><path d="M636.7 1497.2L638.0 1497.2"/><path d="M638.0 1497.2L639.4 1497.2"/><path d="M639.4 1497.2L640.7 1497.2"/><path d="M640.7 1497.2L642.1 1497.2"/><path d="M642.1 1497.2L643.5 1497.0"/></g><g stroke="#f0b8cc"><path d="M108.4 1497.8L109.8 1497.7"/><path d="M109.8 1497.7L111.1 1497.7"/><path d="M111.1 1497.7L112.5 1497.7"/><path d="M112.5 1497.7L113.8 1497.7"/><path d="M113.8 1497.7L115.2 1497.7"/><path d="M115.2 1497.7L116.6 1497.6"/><path d="M116.6 1497.6L117.9 1497.6"/><path d="M117.9 1497.6L119.3 1497.6"/><path d="M119.3 1497.6L120.6 1497.6"/><path d="M120.6 1497.6L122.0 1497.6"/><path d="M122.0 1497.6L123.4 1497.5"/><path d="M541.6 1497.1L543.0 1497.1"/><path d="M543.0 1497.1L544.3 1497.1"/><path d="M544.3 1497.1L545.7 1497.1"/><path d="M545.7 1497.1L547.0 1497.1"/><path d="M547.0 1497.1L548.4 1497.1"/><path d="M548.4 1497.1L549.8 1497.1"/><path d="M549.8 1497.1L551.1 1497.2"/><path d="M551.1 1497.2L552.5 1497.2"/><path d="M552.5 1497.2L553.8 1497.2"/><path d="M553.8 1497.2L555.2 1497.2"/><path d="M560.6 1497.2L562.0 1497.2"/><path d="M579.6 1497.2L581.0 1497.2"/></g><g stroke="#f0b5be"><path d="M123.4 1497.5L124.7 1497.5"/><path d="M124.7 1497.5L126.1 1497.5"/><path d="M126.1 1497.5L127.4 1497.4"/><path d="M526.7 1497.0L528.0 1497.0"/><path d="M528.0 1497.0L529.4 1497.0"/><path d="M529.4 1497.0L530.8 1497.1"/><path d="M530.8 1497.1L532.1 1497.1"/><path d="M532.1 1497.1L533.5 1497.1"/><path d="M533.5 1497.1L534.8 1497.1"/><path d="M534.8 1497.1L536.2 1497.1"/><path d="M536.2 1497.1L537.5 1497.1"/><path d="M537.5 1497.1L538.9 1497.1"/><path d="M538.9 1497.1L540.3 1497.1"/><path d="M540.3 1497.1L541.6 1497.1"/><path d="M562.0 1497.2L563.3 1497.2"/></g><g stroke="#f0b1b0"><path d="M127.4 1497.4L128.8 1497.4"/><path d="M128.8 1497.4L130.1 1497.4"/><path d="M130.1 1497.4L131.5 1497.3"/><path d="M131.5 1497.3L132.9 1497.3"/><path d="M519.9 1497.0L521.2 1497.0"/><path d="M521.2 1497.0L522.6 1497.0"/><path d="M522.6 1497.0L524.0 1497.0"/><path d="M524.0 1497.0L525.3 1497.0"/><path d="M525.3 1497.0L526.7 1497.0"/><path d="M563.3 1497.2L564.7 1497.2"/><path d="M564.7 1497.2L566.1 1497.2"/><path d="M727.7 1496.2L729.0 1496.2"/><path d="M729.0 1496.2L730.4 1496.2"/></g><g stroke="#efada2"><path d="M132.9 1497.3L134.2 1497.3"/><path d="M134.2 1497.3L135.6 1497.3"/><path d="M135.6 1497.3L136.9 1497.2"/><path d="M518.5 1497.0L519.9 1497.0"/><path d="M566.1 1497.2L567.4 1497.2"/><path d="M578.3 1497.2L579.6 1497.2"/><path d="M643.5 1497.0L644.8 1496.6"/><path d="M720.9 1496.1L722.2 1496.1"/><path d="M722.2 1496.1L723.6 1496.1"/><path d="M723.6 1496.1L724.9 1496.1"/><path d="M724.9 1496.1L726.3 1496.1"/><path d="M726.3 1496.1L727.7 1496.2"/></g><g stroke="#eda994"><path d="M136.9 1497.2L138.3 1497.2"/><path d="M138.3 1497.2L139.6 1497.2"/><path d="M139.6 1497.2L141.0 1497.1"/><path d="M517.2 1496.9L518.5 1497.0"/><path d="M567.4 1497.2L568.8 1497.1"/><path d="M714.1 1496.0L715.4 1496.0"/><path d="M715.4 1496.0L716.8 1496.0"/><path d="M716.8 1496.0L718.2 1496.0"/><path d="M718.2 1496.0L719.5 1496.0"/><path d="M719.5 1496.0L720.9 1496.1"/></g><g stroke="#eaa589"><path d="M141.0 1497.1L142.4 1497.1"/><path d="M142.4 1497.1L143.7 1497.1"/><path d="M143.7 1497.1L145.1 1497.0"/><path d="M145.1 1497.0L146.4 1497.0"/><path d="M568.8 1497.1L570.1 1497.1"/><path d="M707.3 1495.9L708.6 1495.9"/><path d="M708.6 1495.9L710.0 1495.9"/><path d="M710.0 1495.9L711.4 1495.9"/><path d="M711.4 1495.9L712.7 1496.0"/><path d="M712.7 1496.0L714.1 1496.0"/></g><g stroke="#e7a17d"><path d="M146.4 1497.0L147.8 1497.0"/><path d="M147.8 1497.0L149.2 1496.9"/><path d="M149.2 1496.9L150.5 1496.9"/><path d="M515.8 1496.9L517.2 1496.9"/><path d="M570.1 1497.1L571.5 1497.1"/><path d="M576.9 1497.1L578.3 1497.2"/><path d="M644.8 1496.6L646.2 1496.0"/><path d="M700.5 1495.8L701.9 1495.8"/><path d="M701.9 1495.8L703.2 1495.8"/><path d="M703.2 1495.8L704.6 1495.9"/><path d="M704.6 1495.9L705.9 1495.9"/><path d="M705.9 1495.9L707.3 1495.9"/></g><g stroke="#e29b70"><path d="M150.5 1496.9L151.9 1496.8"/><path d="M151.9 1496.8L153.2 1496.8"/><path d="M514.5 1496.9L515.8 1496.9"/><path d="M571.5 1497.1L572.8 1497.1"/><path d="M693.7 1495.7L695.1 1495.7"/><path d="M695.1 1495.7L696.4 1495.7"/><path d="M696.4 1495.7L697.8 1495.8"/><path d="M697.8 1495.8L699.1 1495.8"/><path d="M699.1 1495.8L700.5 1495.8"/></g><g stroke="#dd9764"><path d="M153.2 1496.8L154.6 1496.7"/><path d="M154.6 1496.7L155.9 1496.7"/><path d="M513.1 1496.8L514.5 1496.9"/><path d="M572.8 1497.1L574.2 1497.1"/><path d="M686.9 1495.6L688.3 1495.6"/><path d="M688.3 1495.6L689.6 1495.7"/><path d="M689.6 1495.7L691.0 1495.7"/><path d="M691.0 1495.7L692.4 1495.7"/><path d="M692.4 1495.7L693.7 1495.7"/></g><g stroke="#d69558"><path d="M155.9 1496.7L157.3 1496.6"/><path d="M157.3 1496.6L158.7 1496.6"/><path d="M511.7 1496.8L513.1 1496.8"/><path d="M574.2 1497.1L575.6 1497.1"/><path d="M575.6 1497.1L576.9 1497.1"/><path d="M680.1 1495.5L681.5 1495.5"/><path d="M681.5 1495.5L682.8 1495.6"/><path d="M682.8 1495.6L684.2 1495.6"/><path d="M684.2 1495.6L685.6 1495.6"/><path d="M685.6 1495.6L686.9 1495.6"/></g><g stroke="#ce934d"><path d="M158.7 1496.6L160.0 1496.5"/><path d="M160.0 1496.5L161.4 1496.5"/><path d="M161.4 1496.5L162.7 1496.4"/><path d="M510.4 1496.7L511.7 1496.8"/><path d="M678.8 1495.5L680.1 1495.5"/></g><g stroke="#c59144"><path d="M162.7 1496.4L164.1 1496.4"/><path d="M164.1 1496.4L165.4 1496.3"/><path d="M507.7 1496.6L509.0 1496.7"/><path d="M509.0 1496.7L510.4 1496.7"/><path d="M677.4 1495.2L678.8 1495.5"/></g><g stroke="#bc903b"><path d="M165.4 1496.3L166.8 1496.3"/><path d="M166.8 1496.3L168.2 1496.2"/><path d="M506.3 1496.6L507.7 1496.6"/><path d="M646.2 1496.0L647.5 1494.7"/></g><g stroke="#b28e35"><path d="M168.2 1496.2L169.5 1496.2"/><path d="M169.5 1496.2L170.9 1496.1"/><path d="M170.9 1496.1L172.2 1496.1"/><path d="M503.6 1496.4L504.9 1496.5"/><path d="M504.9 1496.5L506.3 1496.6"/></g><g stroke="#a78d2e"><path d="M172.2 1496.1L173.6 1496.0"/><path d="M173.6 1496.0L175.0 1496.0"/><path d="M502.2 1496.3L503.6 1496.4"/></g><g stroke="#9b8a29"><path d="M175.0 1496.0L176.3 1496.0"/><path d="M176.3 1496.0L177.7 1495.9"/><path d="M177.7 1495.9L179.0 1495.9"/><path d="M179.0 1495.9L180.4 1495.9"/><path d="M499.5 1496.2L500.9 1496.3"/><path d="M500.9 1496.3L502.2 1496.3"/></g><g stroke="#908828"><path d="M180.4 1495.9L181.7 1495.9"/><path d="M181.7 1495.9L183.1 1495.8"/><path d="M183.1 1495.8L184.5 1495.8"/><path d="M184.5 1495.8L185.8 1495.8"/><path d="M496.8 1496.0L498.2 1496.1"/><path d="M498.2 1496.1L499.5 1496.2"/></g><g stroke="#87862d"><path d="M185.8 1495.8L187.2 1495.8"/><path d="M187.2 1495.8L188.5 1495.7"/><path d="M188.5 1495.7L189.9 1495.7"/><path d="M189.9 1495.7L191.2 1495.7"/><path d="M495.4 1495.9L496.8 1496.0"/></g><g stroke="#7c8432"><path d="M191.2 1495.7L192.6 1495.7"/><path d="M192.6 1495.7L194.0 1495.6"/><path d="M194.0 1495.6L195.3 1495.6"/><path d="M195.3 1495.6L196.7 1495.6"/><path d="M492.7 1495.8L494.1 1495.8"/><path d="M494.1 1495.8L495.4 1495.9"/></g><g stroke="#6f8238"><path d="M196.7 1495.6L198.0 1495.6"/><path d="M198.0 1495.6L199.4 1495.5"/><path d="M199.4 1495.5L200.8 1495.5"/><path d="M200.8 1495.5L202.1 1495.5"/><path d="M490.0 1495.6L491.4 1495.7"/><path d="M491.4 1495.7L492.7 1495.8"/></g><g stroke="#637e3e"><path d="M202.1 1495.5L203.5 1495.4"/><path d="M203.5 1495.4L204.8 1495.4"/><path d="M204.8 1495.4L206.2 1495.4"/><path d="M206.2 1495.4L207.5 1495.3"/><path d="M207.5 1495.3L208.9 1495.3"/><path d="M488.7 1495.3L490.0 1495.6"/><path d="M676.1 1493.9L677.4 1495.2"/></g><g stroke="#577a45"><path d="M208.9 1495.3L210.3 1495.3"/><path d="M210.3 1495.3L211.6 1495.2"/><path d="M211.6 1495.2L213.0 1495.2"/><path d="M213.0 1495.2L214.3 1495.2"/><path d="M214.3 1495.2L215.7 1495.1"/><path d="M487.3 1495.1L488.7 1495.3"/></g><g stroke="#4b764c"><path d="M215.7 1495.1L217.1 1495.1"/><path d="M217.1 1495.1L218.4 1495.1"/><path d="M218.4 1495.1L219.8 1495.0"/><path d="M219.8 1495.0L221.1 1495.0"/><path d="M221.1 1495.0L222.5 1495.0"/><path d="M485.9 1494.8L487.3 1495.1"/><path d="M647.5 1494.7L648.9 1491.9"/></g><g stroke="#3f7153"><path d="M222.5 1495.0L223.8 1494.9"/><path d="M223.8 1494.9L225.2 1494.9"/><path d="M225.2 1494.9L226.6 1494.9"/><path d="M226.6 1494.9L227.9 1494.8"/><path d="M227.9 1494.8L229.3 1494.8"/><path d="M484.6 1494.5L485.9 1494.8"/></g><g stroke="#376e58"><path d="M229.3 1494.8L230.6 1494.8"/><path d="M230.6 1494.8L232.0 1494.7"/><path d="M232.0 1494.7L233.3 1494.7"/><path d="M233.3 1494.7L234.7 1494.7"/><path d="M234.7 1494.7L236.1 1494.6"/><path d="M483.2 1494.2L484.6 1494.5"/></g><g stroke="#326b5b"><path d="M236.1 1494.6L237.4 1494.6"/><path d="M237.4 1494.6L238.8 1494.6"/><path d="M238.8 1494.6L240.1 1494.5"/><path d="M240.1 1494.5L241.5 1494.5"/><path d="M241.5 1494.5L242.9 1494.4"/><path d="M242.9 1494.4L244.2 1494.3"/><path d="M480.5 1493.6L481.9 1494.0"/><path d="M481.9 1494.0L483.2 1494.2"/></g><g stroke="#2d685e"><path d="M244.2 1494.3L245.6 1494.3"/><path d="M245.6 1494.3L246.9 1494.2"/><path d="M246.9 1494.2L248.3 1494.1"/><path d="M248.3 1494.1L249.6 1494.1"/><path d="M249.6 1494.1L251.0 1494.0"/><path d="M251.0 1494.0L252.4 1493.9"/><path d="M252.4 1493.9L253.7 1493.8"/><path d="M253.7 1493.8L255.1 1493.8"/><path d="M255.1 1493.8L256.4 1493.7"/><path d="M477.8 1492.8L479.1 1493.2"/><path d="M479.1 1493.2L480.5 1493.6"/></g><g stroke="#286561"><path d="M256.4 1493.7L257.8 1493.6"/><path d="M257.8 1493.6L259.1 1493.6"/><path d="M259.1 1493.6L260.5 1493.5"/><path d="M260.5 1493.5L261.9 1493.4"/><path d="M261.9 1493.4L263.2 1493.4"/><path d="M263.2 1493.4L264.6 1493.3"/><path d="M264.6 1493.3L265.9 1493.2"/><path d="M265.9 1493.2L267.3 1493.1"/><path d="M267.3 1493.1L268.7 1493.1"/><path d="M476.4 1492.4L477.8 1492.8"/></g><g stroke="#225e5f"><path d="M268.7 1493.1L270.0 1493.0"/><path d="M270.0 1493.0L271.4 1493.0"/><path d="M271.4 1493.0L272.7 1493.0"/><path d="M272.7 1493.0L274.1 1492.9"/><path d="M274.1 1492.9L275.4 1492.9"/><path d="M275.4 1492.9L276.8 1492.9"/><path d="M276.8 1492.9L278.2 1492.9"/><path d="M278.2 1492.9L279.5 1492.9"/><path d="M279.5 1492.9L280.9 1492.9"/><path d="M280.9 1492.9L282.2 1492.8"/><path d="M282.2 1492.8L283.6 1492.8"/><path d="M283.6 1492.8L285.0 1492.8"/><path d="M285.0 1492.8L286.3 1492.8"/><path d="M286.3 1492.8L287.7 1492.8"/><path d="M287.7 1492.8L289.0 1492.7"/><path d="M289.0 1492.7L290.4 1492.7"/><path d="M290.4 1492.7L291.7 1492.7"/><path d="M291.7 1492.7L293.1 1492.7"/><path d="M293.1 1492.7L294.5 1492.7"/><path d="M294.5 1492.7L295.8 1492.7"/><path d="M295.8 1492.7L297.2 1492.6"/><path d="M297.2 1492.6L298.5 1492.6"/><path d="M298.5 1492.6L299.9 1492.6"/><path d="M299.9 1492.6L301.2 1492.6"/><path d="M301.2 1492.6L302.6 1492.7"/><path d="M302.6 1492.7L304.0 1492.7"/><path d="M304.0 1492.7L305.3 1492.8"/><path d="M305.3 1492.8L306.7 1492.8"/><path d="M306.7 1492.8L308.0 1492.9"/><path d="M308.0 1492.9L309.4 1492.9"/><path d="M309.4 1492.9L310.8 1493.0"/><path d="M310.8 1493.0L312.1 1493.0"/><path d="M312.1 1493.0L313.5 1492.4"/><path d="M329.8 1492.5L331.1 1492.5"/><path d="M331.1 1492.5L332.5 1492.5"/><path d="M469.6 1490.9L471.0 1491.2"/><path d="M471.0 1491.2L472.4 1491.5"/><path d="M472.4 1491.5L473.7 1491.7"/><path d="M473.7 1491.7L475.1 1492.0"/><path d="M475.1 1492.0L476.4 1492.4"/></g><g stroke="#1c555c"><path d="M313.5 1492.4L314.8 1491.9"/><path d="M314.8 1491.9L316.2 1491.3"/><path d="M316.2 1491.3L317.5 1490.8"/><path d="M317.5 1490.8L318.9 1490.5"/><path d="M318.9 1490.5L320.3 1490.7"/><path d="M320.3 1490.7L321.6 1491.0"/><path d="M321.6 1491.0L323.0 1491.2"/><path d="M323.0 1491.2L324.3 1491.5"/><path d="M324.3 1491.5L325.7 1491.7"/><path d="M325.7 1491.7L327.1 1492.0"/><path d="M327.1 1492.0L328.4 1492.2"/><path d="M328.4 1492.2L329.8 1492.5"/><path d="M332.5 1492.5L333.8 1492.5"/><path d="M333.8 1492.5L335.2 1492.5"/><path d="M335.2 1492.5L336.6 1492.5"/><path d="M336.6 1492.5L337.9 1492.5"/><path d="M337.9 1492.5L339.3 1492.5"/><path d="M339.3 1492.5L340.6 1492.5"/><path d="M340.6 1492.5L342.0 1492.5"/><path d="M342.0 1492.5L343.3 1492.5"/><path d="M343.3 1492.5L344.7 1492.5"/><path d="M344.7 1492.5L346.1 1492.5"/><path d="M346.1 1492.5L347.4 1492.5"/><path d="M347.4 1492.5L348.8 1492.5"/><path d="M348.8 1492.5L350.1 1492.5"/><path d="M350.1 1492.5L351.5 1492.4"/><path d="M351.5 1492.4L352.9 1492.2"/><path d="M352.9 1492.2L354.2 1492.1"/><path d="M354.2 1492.1L355.6 1491.9"/><path d="M355.6 1491.9L356.9 1491.8"/><path d="M445.2 1489.8L446.6 1490.2"/><path d="M446.6 1490.2L447.9 1490.3"/><path d="M447.9 1490.3L449.3 1490.3"/><path d="M449.3 1490.3L450.6 1490.2"/><path d="M450.6 1490.2L452.0 1490.2"/><path d="M452.0 1490.2L453.3 1490.2"/><path d="M453.3 1490.2L454.7 1490.2"/><path d="M454.7 1490.2L456.1 1490.1"/><path d="M456.1 1490.1L457.4 1490.1"/><path d="M457.4 1490.1L458.8 1490.1"/><path d="M458.8 1490.1L460.1 1490.1"/><path d="M460.1 1490.1L461.5 1490.1"/><path d="M461.5 1490.1L462.9 1490.0"/><path d="M462.9 1490.0L464.2 1490.0"/><path d="M464.2 1490.0L465.6 1490.1"/><path d="M465.6 1490.1L466.9 1490.4"/><path d="M466.9 1490.4L468.3 1490.7"/><path d="M468.3 1490.7L469.6 1490.9"/></g><g stroke="#184d5c"><path d="M356.9 1491.8L358.3 1491.7"/><path d="M358.3 1491.7L359.6 1491.5"/><path d="M359.6 1491.5L361.0 1491.4"/><path d="M361.0 1491.4L362.4 1491.3"/><path d="M362.4 1491.3L363.7 1491.1"/><path d="M363.7 1491.1L365.1 1491.0"/><path d="M365.1 1491.0L366.4 1491.0"/><path d="M366.4 1491.0L367.8 1491.1"/><path d="M367.8 1491.1L369.1 1491.1"/><path d="M369.1 1491.1L370.5 1491.2"/><path d="M370.5 1491.2L371.9 1491.2"/><path d="M371.9 1491.2L373.2 1491.3"/><path d="M373.2 1491.3L374.6 1491.3"/><path d="M374.6 1491.3L375.9 1491.4"/><path d="M375.9 1491.4L377.3 1491.4"/><path d="M377.3 1491.4L378.7 1491.5"/><path d="M378.7 1491.5L380.0 1491.5"/><path d="M380.0 1491.5L381.4 1491.1"/><path d="M381.4 1491.1L382.7 1490.7"/><path d="M382.7 1490.7L384.1 1490.3"/><path d="M384.1 1490.3L385.4 1489.9"/><path d="M385.4 1489.9L386.8 1489.5"/><path d="M438.4 1488.1L439.8 1488.5"/><path d="M439.8 1488.5L441.1 1488.8"/><path d="M441.1 1488.8L442.5 1489.1"/><path d="M442.5 1489.1L443.8 1489.5"/><path d="M443.8 1489.5L445.2 1489.8"/><path d="M648.9 1491.9L650.3 1486.6"/><path d="M674.7 1490.6L676.1 1493.9"/></g><g stroke="#14465c"><path d="M386.8 1489.5L388.2 1489.1"/><path d="M388.2 1489.1L389.5 1488.6"/><path d="M389.5 1488.6L390.9 1488.3"/><path d="M390.9 1488.3L392.2 1487.9"/><path d="M392.2 1487.9L393.6 1487.6"/><path d="M393.6 1487.6L395.0 1487.3"/><path d="M395.0 1487.3L396.3 1487.1"/><path d="M396.3 1487.1L397.7 1487.3"/><path d="M397.7 1487.3L399.0 1487.5"/><path d="M399.0 1487.5L400.4 1487.7"/><path d="M400.4 1487.7L401.7 1488.0"/><path d="M401.7 1488.0L403.1 1488.2"/><path d="M403.1 1488.2L404.5 1488.4"/><path d="M404.5 1488.4L405.8 1488.3"/><path d="M405.8 1488.3L407.2 1487.9"/><path d="M407.2 1487.9L408.5 1487.6"/><path d="M408.5 1487.6L409.9 1487.2"/><path d="M409.9 1487.2L411.2 1486.9"/><path d="M411.2 1486.9L412.6 1486.5"/><path d="M412.6 1486.5L414.0 1486.1"/><path d="M414.0 1486.1L415.3 1485.8"/><path d="M415.3 1485.8L416.7 1485.4"/><path d="M416.7 1485.4L418.0 1485.1"/><path d="M419.4 1485.4L420.8 1485.8"/><path d="M420.8 1485.8L422.1 1486.3"/><path d="M422.1 1486.3L423.5 1486.8"/><path d="M423.5 1486.8L424.8 1487.2"/><path d="M424.8 1487.2L426.2 1487.7"/><path d="M426.2 1487.7L427.5 1488.2"/><path d="M427.5 1488.2L428.9 1488.6"/><path d="M428.9 1488.6L430.3 1488.9"/><path d="M430.3 1488.9L431.6 1488.6"/><path d="M431.6 1488.6L433.0 1488.3"/><path d="M433.0 1488.3L434.3 1487.9"/><path d="M434.3 1487.9L435.7 1487.6"/><path d="M435.7 1487.6L437.0 1487.8"/><path d="M437.0 1487.8L438.4 1488.1"/><path d="M670.6 1491.0L672.0 1489.5"/></g><g stroke="#103e5c"><path d="M418.0 1485.1L419.4 1485.4"/><path d="M672.0 1489.5L673.3 1488.1"/><path d="M673.3 1488.1L674.7 1490.6"/></g><g stroke="#0c375c"><path d="M650.3 1486.6L651.6 1477.5"/><path d="M667.9 1484.4L669.3 1489.4"/><path d="M669.3 1489.4L670.6 1491.0"/></g><g stroke="#0a305c"><path d="M651.6 1477.5L652.3 1470.6"/><path d="M652.3 1470.6L653.0 1463.7"/><path d="M653.0 1463.7L653.4 1457.7"/><path d="M664.7 1455.9L665.2 1461.8"/><path d="M665.2 1461.8L665.9 1468.7"/><path d="M665.9 1468.7L666.6 1475.5"/><path d="M666.6 1475.5L667.9 1484.4"/></g><g stroke="#08295c"><path d="M653.4 1457.7L653.9 1451.7"/><path d="M653.9 1451.7L654.3 1445.7"/><path d="M654.3 1445.7L654.8 1439.1"/><path d="M654.8 1439.1L655.2 1432.5"/><path d="M655.2 1432.5L655.7 1425.9"/><path d="M662.9 1431.1L663.4 1437.6"/><path d="M663.4 1437.6L663.8 1444.1"/><path d="M663.8 1444.1L664.3 1450.0"/><path d="M664.3 1450.0L664.7 1455.9"/></g><g stroke="#06225c"><path d="M655.7 1425.9L656.1 1420.1"/><path d="M656.1 1420.1L656.6 1414.3"/><path d="M656.6 1414.3L657.0 1408.5"/><path d="M657.0 1408.5L658.4 1398.1"/><path d="M661.1 1407.6L661.6 1413.3"/><path d="M661.6 1413.3L662.0 1418.9"/><path d="M662.0 1418.9L662.5 1424.6"/><path d="M662.5 1424.6L662.9 1431.1"/></g><g stroke="#041b5c"><path d="M658.4 1398.1L659.8 1397.8"/><path d="M659.8 1397.8L661.1 1407.6"/></g></g><g fill="none" stroke-width="2.90" stroke-opacity="0.70"><g stroke="#eebcdc"><path d="M1448.2 1498.3L1449.6 1498.3"/><path d="M1449.6 1498.3L1451.0 1498.3"/><path d="M1451.0 1498.3L1452.3 1498.4"/><path d="M1452.3 1498.4L1453.7 1498.4"/><path d="M1453.7 1498.4L1455.0 1498.4"/><path d="M1455.0 1498.4L1456.4 1498.4"/><path d="M1456.4 1498.4L1457.7 1498.4"/><path d="M1457.7 1498.4L1459.1 1498.4"/><path d="M1459.1 1498.4L1460.5 1498.4"/><path d="M1460.5 1498.4L1461.8 1498.4"/><path d="M1461.8 1498.4L1463.2 1498.4"/><path d="M1463.2 1498.4L1464.5 1498.5"/><path d="M1464.5 1498.5L1465.9 1498.5"/><path d="M1465.9 1498.5L1467.2 1498.5"/><path d="M1467.2 1498.5L1468.6 1498.5"/><path d="M1468.6 1498.5L1470.0 1498.5"/><path d="M1470.0 1498.5L1471.3 1498.5"/><path d="M1471.3 1498.5L1472.7 1498.5"/><path d="M1472.7 1498.5L1474.0 1498.5"/><path d="M1474.0 1498.5L1475.4 1498.5"/><path d="M1475.4 1498.5L1476.8 1498.6"/><path d="M1476.8 1498.6L1478.1 1498.6"/><path d="M1478.1 1498.6L1479.5 1498.6"/><path d="M1479.5 1498.6L1480.8 1498.6"/><path d="M1480.8 1498.6L1482.2 1498.6"/><path d="M1482.2 1498.6L1483.5 1498.6"/><path d="M1483.5 1498.6L1484.9 1498.6"/><path d="M1484.9 1498.6L1486.3 1498.6"/><path d="M1486.3 1498.6L1487.6 1498.6"/><path d="M1487.6 1498.6L1489.0 1498.7"/><path d="M1489.0 1498.7L1490.3 1498.7"/><path d="M1490.3 1498.7L1491.7 1498.7"/><path d="M1491.7 1498.7L1493.0 1498.7"/></g><g stroke="#f0b8cc"><path d="M1384.4 1497.8L1385.8 1497.8"/><path d="M1385.8 1497.8L1387.1 1497.8"/><path d="M1387.1 1497.8L1388.5 1497.8"/><path d="M1388.5 1497.8L1389.8 1497.8"/><path d="M1389.8 1497.8L1391.2 1497.9"/><path d="M1391.2 1497.9L1392.6 1497.9"/><path d="M1392.6 1497.9L1393.9 1497.9"/><path d="M1393.9 1497.9L1395.3 1497.9"/><path d="M1395.3 1497.9L1396.6 1497.9"/><path d="M1396.6 1497.9L1398.0 1497.9"/><path d="M1398.0 1497.9L1399.3 1497.9"/><path d="M1399.3 1497.9L1400.7 1497.9"/><path d="M1400.7 1497.9L1402.1 1497.9"/><path d="M1402.1 1497.9L1403.4 1498.0"/><path d="M1403.4 1498.0L1404.8 1498.0"/><path d="M1404.8 1498.0L1406.1 1498.0"/><path d="M1406.1 1498.0L1407.5 1498.0"/><path d="M1407.5 1498.0L1408.9 1498.0"/><path d="M1408.9 1498.0L1410.2 1498.0"/><path d="M1410.2 1498.0L1411.6 1498.0"/><path d="M1411.6 1498.0L1412.9 1498.0"/><path d="M1412.9 1498.0L1414.3 1498.0"/><path d="M1414.3 1498.0L1415.6 1498.1"/><path d="M1415.6 1498.1L1417.0 1498.1"/><path d="M1417.0 1498.1L1418.4 1498.1"/><path d="M1418.4 1498.1L1419.7 1498.1"/><path d="M1419.7 1498.1L1421.1 1498.1"/><path d="M1421.1 1498.1L1422.4 1498.1"/><path d="M1422.4 1498.1L1423.8 1498.1"/><path d="M1423.8 1498.1L1425.1 1498.1"/><path d="M1425.1 1498.1L1426.5 1498.1"/><path d="M1426.5 1498.1L1427.9 1498.2"/><path d="M1427.9 1498.2L1429.2 1498.2"/><path d="M1429.2 1498.2L1430.6 1498.2"/><path d="M1430.6 1498.2L1431.9 1498.2"/><path d="M1431.9 1498.2L1433.3 1498.2"/><path d="M1433.3 1498.2L1434.7 1498.2"/><path d="M1434.7 1498.2L1436.0 1498.2"/><path d="M1436.0 1498.2L1437.4 1498.2"/><path d="M1437.4 1498.2L1438.7 1498.2"/><path d="M1438.7 1498.2L1440.1 1498.3"/><path d="M1440.1 1498.3L1441.4 1498.3"/><path d="M1441.4 1498.3L1442.8 1498.3"/><path d="M1442.8 1498.3L1444.2 1498.3"/><path d="M1444.2 1498.3L1445.5 1498.3"/><path d="M1445.5 1498.3L1446.9 1498.3"/><path d="M1446.9 1498.3L1448.2 1498.3"/></g><g stroke="#f0b5be"><path d="M1381.7 1497.7L1383.1 1497.7"/><path d="M1383.1 1497.7L1384.4 1497.8"/></g><g stroke="#f0b1b0"><path d="M1379.0 1497.6L1380.3 1497.6"/><path d="M1380.3 1497.6L1381.7 1497.7"/></g><g stroke="#efada2"><path d="M1376.3 1497.4L1377.6 1497.5"/><path d="M1377.6 1497.5L1379.0 1497.6"/></g><g stroke="#eda994"><path d="M1374.9 1497.4L1376.3 1497.4"/></g><g stroke="#eaa589"><path d="M1372.2 1497.3L1373.5 1497.3"/><path d="M1373.5 1497.3L1374.9 1497.4"/></g><g stroke="#e7a17d"><path d="M1369.5 1497.1L1370.8 1497.2"/><path d="M1370.8 1497.2L1372.2 1497.3"/></g><g stroke="#e29b70"><path d="M1366.8 1497.0L1368.1 1497.1"/><path d="M1368.1 1497.1L1369.5 1497.1"/></g><g stroke="#dd9764"><path d="M1365.4 1496.9L1366.8 1497.0"/></g><g stroke="#ce934d"><path d="M738.0 1490.2L739.4 1489.1"/><path d="M1349.1 1496.3L1350.5 1496.6"/><path d="M1350.5 1496.6L1351.8 1496.6"/></g><g stroke="#c59144"><path d="M1345.0 1495.5L1346.4 1495.8"/><path d="M1346.4 1495.8L1347.7 1496.1"/><path d="M1347.7 1496.1L1349.1 1496.3"/><path d="M1351.8 1496.6L1353.2 1496.4"/><path d="M1364.0 1496.2L1365.4 1496.9"/></g><g stroke="#bc903b"><path d="M739.4 1489.1L740.7 1488.0"/><path d="M1342.3 1495.0L1343.7 1495.3"/><path d="M1343.7 1495.3L1345.0 1495.5"/></g><g stroke="#b28e35"><path d="M1338.2 1494.2L1339.6 1494.5"/><path d="M1339.6 1494.5L1341.0 1494.7"/><path d="M1341.0 1494.7L1342.3 1495.0"/><path d="M1353.2 1496.4L1354.5 1496.2"/></g><g stroke="#a78d2e"><path d="M740.7 1488.0L742.1 1486.9"/><path d="M1334.2 1494.1L1335.5 1494.1"/><path d="M1335.5 1494.1L1336.9 1494.1"/><path d="M1336.9 1494.1L1338.2 1494.2"/></g><g stroke="#9b8a29"><path d="M1328.7 1494.1L1330.1 1494.1"/><path d="M1330.1 1494.1L1331.4 1494.1"/><path d="M1331.4 1494.1L1332.8 1494.1"/><path d="M1332.8 1494.1L1334.2 1494.1"/><path d="M1354.5 1496.2L1355.9 1496.0"/><path d="M1358.6 1495.7L1360.0 1494.5"/></g><g stroke="#908828"><path d="M742.1 1486.9L743.4 1485.8"/><path d="M1323.3 1494.1L1324.7 1494.1"/><path d="M1324.7 1494.1L1326.0 1494.1"/><path d="M1326.0 1494.1L1327.4 1494.1"/><path d="M1327.4 1494.1L1328.7 1494.1"/><path d="M1357.2 1496.1L1358.6 1495.7"/><path d="M1362.7 1494.7L1364.0 1496.2"/></g><g stroke="#87862d"><path d="M743.4 1485.8L744.8 1484.7"/><path d="M1317.9 1494.1L1319.2 1494.1"/><path d="M1319.2 1494.1L1320.6 1494.1"/><path d="M1320.6 1494.1L1321.9 1494.1"/><path d="M1321.9 1494.1L1323.3 1494.1"/><path d="M1355.9 1496.0L1357.2 1496.1"/><path d="M1360.0 1494.5L1361.3 1493.6"/></g><g stroke="#7c8432"><path d="M1313.8 1493.6L1315.2 1493.8"/><path d="M1315.2 1493.8L1316.5 1494.0"/><path d="M1316.5 1494.0L1317.9 1494.1"/></g><g stroke="#6f8238"><path d="M744.8 1484.7L746.1 1483.6"/><path d="M1309.7 1493.0L1311.1 1493.2"/><path d="M1311.1 1493.2L1312.4 1493.4"/><path d="M1312.4 1493.4L1313.8 1493.6"/><path d="M1361.3 1493.6L1362.7 1494.7"/></g><g stroke="#637e3e"><path d="M1304.3 1492.3L1305.6 1492.5"/><path d="M1305.6 1492.5L1307.0 1492.7"/><path d="M1307.0 1492.7L1308.4 1492.9"/><path d="M1308.4 1492.9L1309.7 1493.0"/></g><g stroke="#577a45"><path d="M746.1 1483.6L747.5 1482.9"/><path d="M1300.2 1491.7L1301.6 1491.9"/><path d="M1301.6 1491.9L1302.9 1492.1"/><path d="M1302.9 1492.1L1304.3 1492.3"/></g><g stroke="#4b764c"><path d="M1079.8 1357.1L1079.9 1350.2"/><path d="M1079.9 1350.2L1080.1 1343.3"/><path d="M1080.1 1343.3L1080.2 1336.4"/><path d="M1080.2 1336.4L1080.4 1342.5"/><path d="M1298.9 1491.5L1300.2 1491.7"/></g><g stroke="#3f7153"><path d="M747.5 1482.9L748.9 1482.2"/><path d="M1079.4 1377.8L1079.5 1370.9"/><path d="M1079.5 1370.9L1079.7 1364.0"/><path d="M1079.7 1364.0L1079.8 1357.1"/><path d="M1080.4 1342.5L1080.6 1348.5"/><path d="M1296.1 1491.1L1297.5 1491.3"/><path d="M1297.5 1491.3L1298.9 1491.5"/></g><g stroke="#376e58"><path d="M748.9 1482.2L750.2 1481.5"/><path d="M1079.0 1398.5L1079.1 1391.6"/><path d="M1079.1 1391.6L1079.3 1384.7"/><path d="M1079.3 1384.7L1079.4 1377.8"/><path d="M1294.8 1490.9L1296.1 1491.1"/></g><g stroke="#326b5b"><path d="M1078.9 1405.4L1079.0 1398.5"/><path d="M1080.6 1348.5L1080.8 1354.6"/><path d="M1293.4 1490.7L1294.8 1490.9"/></g><g stroke="#2d685e"><path d="M750.2 1481.5L751.6 1480.8"/><path d="M1078.6 1412.2L1078.9 1405.4"/><path d="M1080.8 1354.6L1081.0 1360.7"/><path d="M1290.7 1490.2L1292.1 1490.4"/><path d="M1292.1 1490.4L1293.4 1490.7"/></g><g stroke="#286561"><path d="M1081.0 1360.7L1081.2 1366.8"/><path d="M1288.0 1489.6L1289.3 1490.0"/><path d="M1289.3 1490.0L1290.7 1490.2"/></g><g stroke="#225e5f"><path d="M751.6 1480.8L752.9 1480.0"/><path d="M1078.3 1419.1L1078.6 1412.2"/><path d="M1081.2 1366.8L1081.4 1372.8"/><path d="M1285.3 1488.3L1286.6 1488.9"/><path d="M1286.6 1488.9L1288.0 1489.6"/></g><g stroke="#1c555c"><path d="M752.9 1480.0L754.3 1480.4"/><path d="M1078.0 1426.0L1078.3 1419.1"/><path d="M1081.4 1372.8L1081.6 1378.9"/><path d="M1281.2 1486.4L1282.6 1487.0"/><path d="M1282.6 1487.0L1283.9 1487.7"/><path d="M1283.9 1487.7L1285.3 1488.3"/></g><g stroke="#184d5c"><path d="M754.3 1480.4L755.7 1480.8"/><path d="M755.7 1480.8L757.0 1481.2"/><path d="M892.8 1491.0L894.2 1491.2"/><path d="M894.2 1491.2L895.5 1491.4"/><path d="M895.5 1491.4L896.9 1491.6"/><path d="M896.9 1491.6L898.2 1491.6"/><path d="M898.2 1491.6L899.6 1491.2"/><path d="M899.6 1491.2L901.0 1490.8"/><path d="M901.0 1490.8L902.3 1490.4"/><path d="M902.3 1490.4L903.7 1490.0"/><path d="M903.7 1490.0L905.0 1489.6"/><path d="M1081.6 1378.9L1082.9 1384.8"/><path d="M1277.1 1484.5L1278.5 1485.1"/><path d="M1278.5 1485.1L1279.8 1485.7"/><path d="M1279.8 1485.7L1281.2 1486.4"/></g><g stroke="#14465c"><path d="M757.0 1481.2L758.4 1481.6"/><path d="M758.4 1481.6L759.7 1482.1"/><path d="M759.7 1482.1L761.1 1482.5"/><path d="M883.3 1489.4L884.7 1489.8"/><path d="M884.7 1489.8L886.0 1490.0"/><path d="M886.0 1490.0L887.4 1490.2"/><path d="M887.4 1490.2L888.7 1490.4"/><path d="M888.7 1490.4L890.1 1490.6"/><path d="M890.1 1490.6L891.5 1490.8"/><path d="M891.5 1490.8L892.8 1491.0"/><path d="M905.0 1489.6L906.4 1489.3"/><path d="M906.4 1489.3L907.8 1488.9"/><path d="M907.8 1488.9L909.1 1488.5"/><path d="M909.1 1488.5L910.5 1488.1"/><path d="M910.5 1488.1L911.8 1487.7"/><path d="M911.8 1487.7L913.2 1481.4"/><path d="M926.8 1485.8L928.1 1486.3"/><path d="M928.1 1486.3L929.5 1486.8"/><path d="M929.5 1486.8L930.8 1487.3"/><path d="M930.8 1487.3L932.2 1487.6"/><path d="M932.2 1487.6L933.6 1485.5"/><path d="M1077.8 1432.9L1078.0 1426.0"/><path d="M1273.1 1480.6L1274.4 1483.2"/><path d="M1274.4 1483.2L1275.8 1483.8"/><path d="M1275.8 1483.8L1277.1 1484.5"/></g><g stroke="#103e5c"><path d="M761.1 1482.5L762.4 1483.0"/><path d="M762.4 1483.0L763.8 1483.4"/><path d="M763.8 1483.4L765.2 1483.1"/><path d="M765.2 1483.1L766.5 1482.2"/><path d="M766.5 1482.2L767.9 1481.3"/><path d="M767.9 1481.3L769.2 1480.4"/><path d="M769.2 1480.4L770.6 1479.2"/><path d="M770.6 1479.2L772.0 1476.5"/><path d="M879.2 1485.3L880.6 1486.7"/><path d="M880.6 1486.7L881.9 1488.0"/><path d="M881.9 1488.0L883.3 1489.4"/><path d="M913.2 1481.4L914.5 1474.7"/><path d="M925.4 1481.5L926.8 1485.8"/><path d="M933.6 1485.5L934.9 1483.5"/><path d="M934.9 1483.5L936.3 1481.5"/><path d="M971.6 1485.0L972.9 1484.8"/><path d="M972.9 1484.8L974.3 1481.6"/><path d="M996.0 1483.1L997.4 1485.7"/><path d="M997.4 1485.7L998.7 1486.1"/><path d="M998.7 1486.1L1000.1 1486.5"/><path d="M1000.1 1486.5L1001.5 1486.8"/><path d="M1001.5 1486.8L1002.8 1487.2"/><path d="M1002.8 1487.2L1004.2 1487.5"/><path d="M1004.2 1487.5L1005.5 1487.4"/><path d="M1005.5 1487.4L1006.9 1486.7"/><path d="M1006.9 1486.7L1008.2 1486.0"/><path d="M1269.0 1472.7L1270.3 1475.4"/><path d="M1270.3 1475.4L1271.7 1478.0"/><path d="M1271.7 1478.0L1273.1 1480.6"/></g><g stroke="#0c375c"><path d="M772.0 1476.5L773.3 1473.9"/><path d="M773.3 1473.9L774.7 1471.3"/><path d="M774.7 1471.3L776.0 1469.3"/><path d="M776.0 1469.3L777.4 1467.4"/><path d="M777.4 1467.4L778.7 1465.5"/><path d="M778.7 1465.5L780.1 1465.9"/><path d="M780.1 1465.9L781.5 1469.5"/><path d="M781.5 1469.5L782.8 1473.0"/><path d="M782.8 1473.0L784.2 1476.5"/><path d="M784.2 1476.5L785.5 1477.6"/><path d="M785.5 1477.6L786.9 1477.6"/><path d="M786.9 1477.6L788.2 1477.6"/><path d="M788.2 1477.6L789.6 1477.6"/><path d="M789.6 1477.6L791.0 1477.5"/><path d="M791.0 1477.5L792.3 1477.2"/><path d="M792.3 1477.2L793.7 1476.8"/><path d="M793.7 1476.8L795.0 1476.5"/><path d="M795.0 1476.5L796.4 1476.1"/><path d="M796.4 1476.1L797.8 1475.7"/><path d="M797.8 1475.7L799.1 1474.9"/><path d="M799.1 1474.9L800.5 1472.9"/><path d="M800.5 1472.9L801.8 1470.9"/><path d="M801.8 1470.9L803.2 1469.0"/><path d="M803.2 1469.0L804.5 1467.1"/><path d="M808.6 1471.1L810.0 1473.4"/><path d="M810.0 1473.4L811.3 1472.4"/><path d="M811.3 1472.4L812.7 1471.5"/><path d="M812.7 1471.5L814.0 1470.5"/><path d="M819.5 1471.0L820.8 1472.3"/><path d="M820.8 1472.3L822.2 1472.3"/><path d="M822.2 1472.3L823.6 1472.0"/><path d="M823.6 1472.0L824.9 1471.7"/><path d="M834.4 1474.4L835.8 1474.0"/><path d="M835.8 1474.0L837.1 1473.5"/><path d="M837.1 1473.5L838.5 1473.1"/><path d="M843.9 1475.5L845.3 1476.5"/><path d="M845.3 1476.5L846.6 1476.8"/><path d="M846.6 1476.8L848.0 1477.0"/><path d="M848.0 1477.0L849.4 1477.2"/><path d="M849.4 1477.2L850.7 1477.5"/><path d="M850.7 1477.5L852.1 1476.6"/><path d="M852.1 1476.6L853.4 1474.9"/><path d="M864.3 1479.0L865.7 1479.9"/><path d="M865.7 1479.9L867.0 1480.2"/><path d="M867.0 1480.2L868.4 1480.6"/><path d="M868.4 1480.6L869.7 1478.7"/><path d="M869.7 1478.7L871.1 1476.7"/><path d="M875.2 1480.8L876.5 1482.6"/><path d="M876.5 1482.6L877.9 1484.0"/><path d="M877.9 1484.0L879.2 1485.3"/><path d="M914.5 1474.7L915.9 1465.2"/><path d="M924.7 1475.5L925.4 1481.5"/><path d="M936.3 1481.5L937.6 1480.2"/><path d="M937.6 1480.2L939.0 1478.8"/><path d="M939.0 1478.8L940.3 1477.4"/><path d="M940.3 1477.4L941.7 1476.0"/><path d="M941.7 1476.0L943.1 1473.8"/><path d="M943.1 1473.8L944.4 1471.1"/><path d="M951.2 1474.3L952.6 1473.6"/><path d="M952.6 1473.6L953.9 1472.6"/><path d="M958.0 1476.8L959.4 1479.5"/><path d="M959.4 1479.5L960.7 1479.9"/><path d="M960.7 1479.9L962.1 1480.1"/><path d="M962.1 1480.1L963.4 1480.4"/><path d="M963.4 1480.4L964.8 1480.8"/><path d="M964.8 1480.8L966.1 1481.6"/><path d="M966.1 1481.6L967.5 1482.5"/><path d="M967.5 1482.5L968.9 1483.3"/><path d="M968.9 1483.3L970.2 1484.1"/><path d="M970.2 1484.1L971.6 1485.0"/><path d="M974.3 1481.6L975.6 1478.4"/><path d="M975.6 1478.4L977.0 1475.2"/><path d="M977.0 1475.2L978.4 1472.0"/><path d="M978.4 1472.0L979.7 1468.9"/><path d="M979.7 1468.9L981.1 1465.8"/><path d="M991.9 1470.2L993.3 1474.5"/><path d="M993.3 1474.5L994.7 1478.8"/><path d="M994.7 1478.8L996.0 1483.1"/><path d="M1008.2 1486.0L1009.6 1485.3"/><path d="M1009.6 1485.3L1011.0 1484.6"/><path d="M1011.0 1484.6L1012.3 1484.0"/><path d="M1012.3 1484.0L1013.7 1483.3"/><path d="M1013.7 1483.3L1015.0 1482.6"/><path d="M1015.0 1482.6L1016.4 1481.9"/><path d="M1016.4 1481.9L1017.7 1481.3"/><path d="M1017.7 1481.3L1019.1 1480.8"/><path d="M1019.1 1480.8L1020.5 1480.3"/><path d="M1020.5 1480.3L1021.8 1479.7"/><path d="M1021.8 1479.7L1023.2 1479.2"/><path d="M1023.2 1479.2L1024.5 1478.7"/><path d="M1024.5 1478.7L1025.9 1478.2"/><path d="M1025.9 1478.2L1027.3 1477.7"/><path d="M1027.3 1477.7L1028.6 1477.1"/><path d="M1028.6 1477.1L1030.0 1476.6"/><path d="M1030.0 1476.6L1031.3 1476.2"/><path d="M1031.3 1476.2L1032.7 1475.9"/><path d="M1032.7 1475.9L1034.0 1475.5"/><path d="M1034.0 1475.5L1035.4 1475.1"/><path d="M1035.4 1475.1L1036.8 1474.3"/><path d="M1036.8 1474.3L1038.1 1472.7"/><path d="M1038.1 1472.7L1039.5 1471.2"/><path d="M1039.5 1471.2L1040.8 1469.7"/><path d="M1073.4 1457.6L1074.8 1447.7"/><path d="M1077.5 1439.8L1077.8 1432.9"/><path d="M1258.1 1470.8L1259.5 1472.0"/><path d="M1259.5 1472.0L1260.8 1472.5"/><path d="M1260.8 1472.5L1262.2 1471.0"/><path d="M1262.2 1471.0L1263.5 1468.2"/><path d="M1267.6 1469.4L1269.0 1472.7"/></g><g stroke="#0a305c"><path d="M804.5 1467.1L805.9 1465.6"/><path d="M805.9 1465.6L807.3 1468.4"/><path d="M807.3 1468.4L808.6 1471.1"/><path d="M814.0 1470.5L815.4 1469.6"/><path d="M815.4 1469.6L816.8 1468.6"/><path d="M816.8 1468.6L818.1 1469.7"/><path d="M818.1 1469.7L819.5 1471.0"/><path d="M824.9 1471.7L826.3 1470.2"/><path d="M826.3 1470.2L827.6 1463.8"/><path d="M833.1 1468.2L834.4 1474.4"/><path d="M838.5 1473.1L839.9 1472.6"/><path d="M839.9 1472.6L841.2 1473.3"/><path d="M841.2 1473.3L842.6 1474.4"/><path d="M842.6 1474.4L843.9 1475.5"/><path d="M853.4 1474.9L854.8 1473.2"/><path d="M854.8 1473.2L856.1 1469.8"/><path d="M856.1 1469.8L857.5 1465.5"/><path d="M861.6 1463.2L862.9 1471.1"/><path d="M862.9 1471.1L864.3 1479.0"/><path d="M871.1 1476.7L872.4 1474.6"/><path d="M872.4 1474.6L873.8 1477.6"/><path d="M873.8 1477.6L875.2 1480.8"/><path d="M915.9 1465.2L916.4 1459.5"/><path d="M916.4 1459.5L916.8 1453.7"/><path d="M916.8 1453.7L917.3 1448.0"/><path d="M944.4 1471.1L945.8 1468.4"/><path d="M945.8 1468.4L947.1 1465.7"/><path d="M947.1 1465.7L948.5 1468.1"/><path d="M948.5 1468.1L949.8 1471.2"/><path d="M949.8 1471.2L951.2 1474.3"/><path d="M953.9 1472.6L955.3 1471.6"/><path d="M955.3 1471.6L956.6 1474.0"/><path d="M956.6 1474.0L958.0 1476.8"/><path d="M981.1 1465.8L982.4 1462.6"/><path d="M982.4 1462.6L983.8 1459.5"/><path d="M983.8 1459.5L985.2 1457.9"/><path d="M985.2 1457.9L986.5 1459.5"/><path d="M986.5 1459.5L987.9 1461.1"/><path d="M987.9 1461.1L989.2 1462.7"/><path d="M989.2 1462.7L990.6 1465.9"/><path d="M990.6 1465.9L991.9 1470.2"/><path d="M1040.8 1469.7L1042.2 1468.2"/><path d="M1042.2 1468.2L1043.5 1466.6"/><path d="M1043.5 1466.6L1044.9 1465.4"/><path d="M1044.9 1465.4L1046.3 1464.4"/><path d="M1046.3 1464.4L1047.6 1463.4"/><path d="M1047.6 1463.4L1049.0 1462.4"/><path d="M1049.0 1462.4L1050.3 1461.0"/><path d="M1050.3 1461.0L1051.7 1454.5"/><path d="M1051.7 1454.5L1052.4 1448.0"/><path d="M1052.4 1448.0L1053.1 1441.5"/><path d="M1053.1 1441.5L1054.4 1433.8"/><path d="M1059.8 1458.2L1061.2 1461.3"/><path d="M1061.2 1461.3L1062.6 1462.8"/><path d="M1062.6 1462.8L1063.9 1464.1"/><path d="M1063.9 1464.1L1065.3 1464.2"/><path d="M1065.3 1464.2L1066.6 1463.4"/><path d="M1066.6 1463.4L1068.0 1462.6"/><path d="M1068.0 1462.6L1069.4 1461.8"/><path d="M1069.4 1461.8L1070.7 1460.9"/><path d="M1070.7 1460.9L1072.1 1460.0"/><path d="M1072.1 1460.0L1073.4 1457.6"/><path d="M1091.1 1436.2L1092.4 1443.2"/><path d="M1092.4 1443.2L1093.8 1449.7"/><path d="M1093.8 1449.7L1095.2 1456.0"/><path d="M1095.2 1456.0L1096.5 1462.4"/><path d="M1096.5 1462.4L1097.9 1465.3"/><path d="M1097.9 1465.3L1099.2 1467.3"/><path d="M1099.2 1467.3L1100.6 1469.3"/><path d="M1100.6 1469.3L1101.9 1468.9"/><path d="M1101.9 1468.9L1103.3 1467.7"/><path d="M1103.3 1467.7L1104.7 1466.5"/><path d="M1104.7 1466.5L1106.0 1465.3"/><path d="M1106.0 1465.3L1107.4 1464.1"/><path d="M1107.4 1464.1L1108.7 1462.8"/><path d="M1108.7 1462.8L1110.1 1463.0"/><path d="M1110.1 1463.0L1111.5 1463.3"/><path d="M1111.5 1463.3L1112.8 1463.7"/><path d="M1112.8 1463.7L1114.2 1464.0"/><path d="M1114.2 1464.0L1115.5 1464.3"/><path d="M1115.5 1464.3L1116.9 1464.7"/><path d="M1116.9 1464.7L1118.2 1463.2"/><path d="M1118.2 1463.2L1119.6 1461.5"/><path d="M1119.6 1461.5L1121.0 1459.8"/><path d="M1121.0 1459.8L1122.3 1458.1"/><path d="M1122.3 1458.1L1123.7 1456.4"/><path d="M1123.7 1456.4L1125.0 1454.7"/><path d="M1125.0 1454.7L1126.4 1456.2"/><path d="M1126.4 1456.2L1127.7 1457.9"/><path d="M1127.7 1457.9L1129.1 1459.6"/><path d="M1129.1 1459.6L1130.5 1460.1"/><path d="M1130.5 1460.1L1131.8 1460.6"/><path d="M1131.8 1460.6L1133.2 1461.0"/><path d="M1133.2 1461.0L1134.5 1461.5"/><path d="M1134.5 1461.5L1135.9 1460.3"/><path d="M1135.9 1460.3L1137.3 1457.3"/><path d="M1137.3 1457.3L1138.6 1452.7"/><path d="M1148.1 1431.3L1149.5 1430.0"/><path d="M1149.5 1430.0L1150.8 1430.9"/><path d="M1150.8 1430.9L1152.2 1433.7"/><path d="M1152.2 1433.7L1153.5 1436.7"/><path d="M1153.5 1436.7L1154.9 1440.9"/><path d="M1154.9 1440.9L1156.3 1443.8"/><path d="M1156.3 1443.8L1157.6 1446.0"/><path d="M1157.6 1446.0L1159.0 1448.0"/><path d="M1159.0 1448.0L1160.3 1449.9"/><path d="M1160.3 1449.9L1161.7 1451.4"/><path d="M1161.7 1451.4L1163.1 1450.2"/><path d="M1163.1 1450.2L1164.4 1449.0"/><path d="M1169.8 1440.6L1171.2 1434.6"/><path d="M1171.2 1434.6L1171.9 1429.2"/><path d="M1171.9 1429.2L1172.6 1423.8"/><path d="M1172.6 1423.8L1173.0 1417.4"/><path d="M1173.0 1417.4L1173.5 1411.1"/><path d="M1173.5 1411.1L1173.9 1404.7"/><path d="M1173.9 1404.7L1174.2 1398.5"/><path d="M1174.2 1398.5L1174.5 1392.3"/><path d="M1174.5 1392.3L1174.7 1386.1"/><path d="M1196.0 1379.4L1196.3 1386.0"/><path d="M1196.3 1386.0L1196.7 1392.7"/><path d="M1196.7 1392.7L1197.0 1399.3"/><path d="M1197.0 1399.3L1197.5 1405.5"/><path d="M1197.5 1405.5L1197.9 1411.7"/><path d="M1197.9 1411.7L1198.4 1418.0"/><path d="M1198.4 1418.0L1199.0 1423.7"/><path d="M1199.0 1423.7L1199.7 1429.4"/><path d="M1199.7 1429.4L1201.1 1436.6"/><path d="M1201.1 1436.6L1202.4 1440.8"/><path d="M1202.4 1440.8L1203.8 1443.0"/><path d="M1203.8 1443.0L1205.2 1444.6"/><path d="M1205.2 1444.6L1206.5 1446.1"/><path d="M1206.5 1446.1L1207.9 1447.5"/><path d="M1207.9 1447.5L1209.2 1448.8"/><path d="M1209.2 1448.8L1210.6 1450.2"/><path d="M1210.6 1450.2L1211.9 1451.5"/><path d="M1211.9 1451.5L1213.3 1452.8"/><path d="M1213.3 1452.8L1214.7 1454.2"/><path d="M1214.7 1454.2L1216.0 1455.5"/><path d="M1216.0 1455.5L1217.4 1451.1"/><path d="M1217.4 1451.1L1218.7 1446.3"/><path d="M1218.7 1446.3L1220.1 1441.5"/><path d="M1220.1 1441.5L1221.4 1438.8"/><path d="M1221.4 1438.8L1222.8 1436.1"/><path d="M1222.8 1436.1L1224.2 1433.4"/><path d="M1224.2 1433.4L1225.5 1430.7"/><path d="M1225.5 1430.7L1226.9 1428.8"/><path d="M1226.9 1428.8L1228.2 1427.2"/><path d="M1250.0 1458.9L1251.3 1462.0"/><path d="M1251.3 1462.0L1252.7 1464.6"/><path d="M1252.7 1464.6L1254.0 1467.1"/><path d="M1254.0 1467.1L1255.4 1468.6"/><path d="M1255.4 1468.6L1256.8 1469.7"/><path d="M1256.8 1469.7L1258.1 1470.8"/><path d="M1263.5 1468.2L1264.9 1466.0"/><path d="M1266.3 1466.6L1267.6 1469.4"/></g><g stroke="#08295c"><path d="M827.6 1463.8L829.0 1457.5"/><path d="M829.0 1457.5L830.3 1459.6"/><path d="M830.3 1459.6L831.7 1461.8"/><path d="M831.7 1461.8L833.1 1468.2"/><path d="M857.5 1465.5L858.9 1461.2"/><path d="M858.9 1461.2L860.2 1456.9"/><path d="M860.2 1456.9L861.6 1463.2"/><path d="M917.3 1448.0L917.9 1442.6"/><path d="M924.0 1469.5L924.7 1475.5"/><path d="M1054.4 1433.8L1055.8 1424.3"/><path d="M1055.8 1424.3L1056.5 1430.9"/><path d="M1056.5 1430.9L1057.1 1437.4"/><path d="M1057.1 1437.4L1057.6 1442.3"/><path d="M1057.6 1442.3L1058.0 1447.1"/><path d="M1058.0 1447.1L1058.5 1452.0"/><path d="M1058.5 1452.0L1059.8 1458.2"/><path d="M1074.8 1447.7L1075.2 1443.0"/><path d="M1075.2 1443.0L1075.7 1438.2"/><path d="M1075.7 1438.2L1076.1 1433.4"/><path d="M1076.1 1433.4L1077.5 1439.8"/><path d="M1082.9 1384.8L1083.3 1379.0"/><path d="M1083.3 1379.0L1083.6 1373.3"/><path d="M1083.6 1373.3L1084.0 1367.5"/><path d="M1084.0 1367.5L1084.3 1361.7"/><path d="M1084.3 1361.7L1085.6 1366.4"/><path d="M1085.6 1366.4L1086.0 1373.2"/><path d="M1086.0 1373.2L1086.3 1380.1"/><path d="M1086.3 1380.1L1086.7 1387.0"/><path d="M1086.7 1387.0L1087.0 1393.9"/><path d="M1087.0 1393.9L1087.3 1399.8"/><path d="M1087.3 1399.8L1087.7 1405.7"/><path d="M1087.7 1405.7L1088.0 1411.6"/><path d="M1088.0 1411.6L1088.4 1417.4"/><path d="M1088.4 1417.4L1089.7 1426.8"/><path d="M1089.7 1426.8L1091.1 1436.2"/><path d="M1138.6 1452.7L1140.0 1444.1"/><path d="M1140.0 1444.1L1140.4 1439.3"/><path d="M1140.4 1439.3L1140.9 1434.6"/><path d="M1140.9 1434.6L1141.3 1429.8"/><path d="M1141.3 1429.8L1142.0 1423.0"/><path d="M1142.0 1423.0L1142.7 1416.2"/><path d="M1142.7 1416.2L1144.0 1414.6"/><path d="M1144.0 1414.6L1145.4 1423.5"/><path d="M1145.4 1423.5L1146.8 1430.6"/><path d="M1146.8 1430.6L1148.1 1431.3"/><path d="M1164.4 1449.0L1165.8 1447.7"/><path d="M1165.8 1447.7L1167.1 1446.1"/><path d="M1167.1 1446.1L1168.5 1444.0"/><path d="M1168.5 1444.0L1169.8 1440.6"/><path d="M1174.7 1386.1L1175.0 1379.9"/><path d="M1175.0 1379.9L1175.3 1373.6"/><path d="M1175.3 1373.6L1175.5 1367.0"/><path d="M1175.5 1367.0L1175.7 1360.3"/><path d="M1175.7 1360.3L1175.9 1353.6"/><path d="M1175.9 1353.6L1176.1 1346.9"/><path d="M1176.1 1346.9L1176.2 1340.2"/><path d="M1176.2 1340.2L1176.4 1333.6"/><path d="M1176.4 1333.6L1176.6 1326.9"/><path d="M1176.6 1326.9L1176.8 1320.4"/><path d="M1176.8 1320.4L1176.9 1313.9"/><path d="M1176.9 1313.9L1177.0 1307.5"/><path d="M1177.0 1307.5L1177.2 1301.0"/><path d="M1177.2 1301.0L1177.3 1294.5"/><path d="M1177.3 1294.5L1177.4 1288.0"/><path d="M1177.4 1288.0L1177.6 1281.5"/><path d="M1177.6 1281.5L1177.7 1275.1"/><path d="M1177.7 1275.1L1177.9 1268.6"/><path d="M1177.9 1268.6L1178.0 1262.1"/><path d="M1178.0 1262.1L1178.1 1255.4"/><path d="M1178.1 1255.4L1178.2 1248.6"/><path d="M1178.2 1248.6L1178.3 1241.9"/><path d="M1178.3 1241.9L1178.4 1235.1"/><path d="M1178.4 1235.1L1178.6 1228.4"/><path d="M1178.6 1228.4L1178.7 1221.6"/><path d="M1178.7 1221.6L1178.8 1214.9"/><path d="M1178.8 1214.9L1178.9 1208.2"/><path d="M1178.9 1208.2L1179.0 1201.4"/><path d="M1179.0 1201.4L1179.1 1194.7"/><path d="M1179.1 1194.7L1179.2 1187.9"/><path d="M1179.2 1187.9L1179.3 1181.2"/><path d="M1179.3 1181.2L1179.5 1174.3"/><path d="M1179.5 1174.3L1179.6 1167.4"/><path d="M1179.6 1167.4L1179.7 1160.5"/><path d="M1190.9 1155.5L1191.0 1162.2"/><path d="M1191.0 1162.2L1191.2 1168.9"/><path d="M1191.2 1168.9L1191.3 1175.6"/><path d="M1191.3 1175.6L1191.4 1182.4"/><path d="M1191.4 1182.4L1191.5 1189.1"/><path d="M1191.5 1189.1L1191.6 1195.8"/><path d="M1191.6 1195.8L1191.7 1202.7"/><path d="M1191.7 1202.7L1191.8 1209.7"/><path d="M1191.8 1209.7L1191.9 1216.6"/><path d="M1191.9 1216.6L1192.1 1223.6"/><path d="M1192.1 1223.6L1192.2 1230.5"/><path d="M1192.2 1230.5L1192.3 1237.4"/><path d="M1192.3 1237.4L1192.4 1244.4"/><path d="M1192.4 1244.4L1192.6 1251.3"/><path d="M1192.6 1251.3L1192.7 1258.2"/><path d="M1192.7 1258.2L1192.8 1265.2"/><path d="M1192.8 1265.2L1192.9 1272.1"/><path d="M1192.9 1272.1L1193.1 1278.7"/><path d="M1193.1 1278.7L1193.2 1285.3"/><path d="M1193.2 1285.3L1193.4 1291.9"/><path d="M1193.4 1291.9L1193.5 1298.4"/><path d="M1193.5 1298.4L1193.7 1305.0"/><path d="M1193.7 1305.0L1193.8 1311.6"/><path d="M1193.8 1311.6L1194.0 1318.2"/><path d="M1194.0 1318.2L1194.1 1324.8"/><path d="M1194.1 1324.8L1194.3 1331.4"/><path d="M1194.3 1331.4L1194.5 1338.3"/><path d="M1194.5 1338.3L1194.7 1345.2"/><path d="M1194.7 1345.2L1195.0 1352.1"/><path d="M1195.0 1352.1L1195.2 1359.0"/><path d="M1195.2 1359.0L1195.4 1365.9"/><path d="M1195.4 1365.9L1195.6 1372.8"/><path d="M1195.6 1372.8L1196.0 1379.4"/><path d="M1228.2 1427.2L1229.6 1423.0"/><path d="M1229.6 1423.0L1231.0 1413.5"/><path d="M1231.0 1413.5L1232.3 1408.1"/><path d="M1232.3 1408.1L1233.7 1410.8"/><path d="M1233.7 1410.8L1235.0 1404.3"/><path d="M1235.0 1404.3L1235.3 1397.6"/><path d="M1235.3 1397.6L1235.6 1391.0"/><path d="M1235.6 1391.0L1235.8 1384.4"/><path d="M1235.8 1384.4L1236.1 1377.7"/><path d="M1236.1 1377.7L1236.4 1371.1"/><path d="M1236.4 1371.1L1236.5 1364.3"/><path d="M1245.2 1384.5L1245.4 1391.2"/><path d="M1245.4 1391.2L1245.6 1398.0"/><path d="M1245.6 1398.0L1245.7 1404.8"/><path d="M1245.7 1404.8L1245.9 1411.6"/><path d="M1245.9 1411.6L1246.2 1417.4"/><path d="M1246.2 1417.4L1246.4 1423.3"/><path d="M1246.4 1423.3L1246.7 1429.1"/><path d="M1246.7 1429.1L1247.0 1434.9"/><path d="M1247.0 1434.9L1247.2 1440.8"/><path d="M1247.2 1440.8L1247.9 1447.1"/><path d="M1247.9 1447.1L1248.6 1453.4"/><path d="M1248.6 1453.4L1250.0 1458.9"/><path d="M1264.9 1466.0L1266.3 1466.6"/></g><g stroke="#06225c"><path d="M917.9 1442.6L918.6 1437.1"/><path d="M918.6 1437.1L919.1 1431.3"/><path d="M919.1 1431.3L919.5 1425.4"/><path d="M923.0 1442.4L923.2 1449.2"/><path d="M923.2 1449.2L923.5 1456.0"/><path d="M923.5 1456.0L923.8 1462.7"/><path d="M923.8 1462.7L924.0 1469.5"/><path d="M1179.7 1160.5L1179.8 1153.5"/><path d="M1179.8 1153.5L1179.9 1146.6"/><path d="M1179.9 1146.6L1180.0 1139.7"/><path d="M1180.0 1139.7L1180.1 1132.8"/><path d="M1180.1 1132.8L1180.2 1125.9"/><path d="M1180.2 1125.9L1180.3 1119.0"/><path d="M1180.3 1119.0L1180.4 1112.1"/><path d="M1180.4 1112.1L1180.5 1105.2"/><path d="M1180.5 1105.2L1180.6 1098.3"/><path d="M1180.6 1098.3L1180.7 1091.4"/><path d="M1180.7 1091.4L1180.8 1084.7"/><path d="M1180.8 1084.7L1180.9 1078.1"/><path d="M1180.9 1078.1L1181.0 1071.4"/><path d="M1181.0 1071.4L1181.1 1064.8"/><path d="M1181.1 1064.8L1181.2 1058.1"/><path d="M1181.2 1058.1L1181.3 1051.5"/><path d="M1181.3 1051.5L1181.4 1044.9"/><path d="M1181.4 1044.9L1181.5 1038.2"/><path d="M1181.5 1038.2L1181.6 1031.6"/><path d="M1181.6 1031.6L1181.8 1024.9"/><path d="M1181.8 1024.9L1181.9 1018.3"/><path d="M1181.9 1018.3L1182.0 1011.7"/><path d="M1182.0 1011.7L1182.1 1005.0"/><path d="M1182.1 1005.0L1182.2 998.2"/><path d="M1182.2 998.2L1182.3 991.5"/><path d="M1182.3 991.5L1182.5 984.7"/><path d="M1182.5 984.7L1182.6 977.9"/><path d="M1182.6 977.9L1182.7 971.1"/><path d="M1182.7 971.1L1182.9 964.4"/><path d="M1182.9 964.4L1183.0 957.6"/><path d="M1183.0 957.6L1183.2 950.8"/><path d="M1183.2 950.8L1183.3 944.0"/><path d="M1183.3 944.0L1183.4 937.3"/><path d="M1183.4 937.3L1183.7 931.3"/><path d="M1183.7 931.3L1183.9 925.4"/><path d="M1186.7 924.3L1186.9 930.5"/><path d="M1186.9 930.5L1187.1 936.6"/><path d="M1187.1 936.6L1187.3 942.7"/><path d="M1187.3 942.7L1187.5 948.8"/><path d="M1187.5 948.8L1187.6 955.4"/><path d="M1187.6 955.4L1187.7 962.0"/><path d="M1187.7 962.0L1187.9 968.6"/><path d="M1187.9 968.6L1188.0 975.1"/><path d="M1188.0 975.1L1188.1 981.7"/><path d="M1188.1 981.7L1188.2 988.3"/><path d="M1188.2 988.3L1188.4 994.8"/><path d="M1188.4 994.8L1188.5 1001.4"/><path d="M1188.5 1001.4L1188.6 1008.0"/><path d="M1188.6 1008.0L1188.7 1014.6"/><path d="M1188.7 1014.6L1188.9 1021.1"/><path d="M1188.9 1021.1L1189.0 1027.8"/><path d="M1189.0 1027.8L1189.1 1034.6"/><path d="M1189.1 1034.6L1189.2 1041.3"/><path d="M1189.2 1041.3L1189.3 1048.0"/><path d="M1189.3 1048.0L1189.4 1054.7"/><path d="M1189.4 1054.7L1189.5 1061.4"/><path d="M1189.5 1061.4L1189.6 1068.1"/><path d="M1189.6 1068.1L1189.7 1074.8"/><path d="M1189.7 1074.8L1189.8 1081.5"/><path d="M1189.8 1081.5L1189.9 1088.2"/><path d="M1189.9 1088.2L1190.0 1095.0"/><path d="M1190.0 1095.0L1190.1 1101.7"/><path d="M1190.1 1101.7L1190.2 1108.4"/><path d="M1190.2 1108.4L1190.3 1115.1"/><path d="M1190.3 1115.1L1190.4 1121.8"/><path d="M1190.4 1121.8L1190.5 1128.6"/><path d="M1190.5 1128.6L1190.6 1135.3"/><path d="M1190.6 1135.3L1190.7 1142.0"/><path d="M1190.7 1142.0L1190.8 1148.7"/><path d="M1190.8 1148.7L1190.9 1155.5"/><path d="M1236.5 1364.3L1236.7 1357.6"/><path d="M1236.7 1357.6L1236.8 1350.9"/><path d="M1236.8 1350.9L1237.0 1344.2"/><path d="M1237.0 1344.2L1237.1 1337.5"/><path d="M1237.1 1337.5L1237.3 1330.7"/><path d="M1237.3 1330.7L1237.4 1324.0"/><path d="M1237.4 1324.0L1237.6 1317.3"/><path d="M1237.6 1317.3L1237.7 1310.6"/><path d="M1237.7 1310.6L1237.9 1303.8"/><path d="M1237.9 1303.8L1238.0 1297.0"/><path d="M1238.0 1297.0L1238.2 1290.2"/><path d="M1238.2 1290.2L1238.3 1283.4"/><path d="M1238.3 1283.4L1238.4 1276.6"/><path d="M1238.4 1276.6L1238.6 1269.8"/><path d="M1238.6 1269.8L1238.7 1263.0"/><path d="M1238.7 1263.0L1238.8 1256.2"/><path d="M1238.8 1256.2L1239.0 1249.4"/><path d="M1239.0 1249.4L1239.1 1242.7"/><path d="M1239.1 1242.7L1239.3 1236.2"/><path d="M1239.3 1236.2L1239.6 1229.8"/><path d="M1239.6 1229.8L1239.8 1223.3"/><path d="M1239.8 1223.3L1240.0 1216.9"/><path d="M1241.8 1221.1L1242.0 1227.4"/><path d="M1242.0 1227.4L1242.1 1233.7"/><path d="M1242.1 1233.7L1242.2 1240.0"/><path d="M1242.2 1240.0L1242.4 1246.3"/><path d="M1242.4 1246.3L1242.5 1252.6"/><path d="M1242.5 1252.6L1242.6 1258.9"/><path d="M1242.6 1258.9L1242.8 1265.2"/><path d="M1242.8 1265.2L1242.9 1271.5"/><path d="M1242.9 1271.5L1243.0 1277.9"/><path d="M1243.0 1277.9L1243.2 1284.2"/><path d="M1243.2 1284.2L1243.3 1290.8"/><path d="M1243.3 1290.8L1243.4 1297.5"/><path d="M1243.4 1297.5L1243.5 1304.1"/><path d="M1243.5 1304.1L1243.7 1310.8"/><path d="M1243.7 1310.8L1243.8 1317.4"/><path d="M1243.8 1317.4L1243.9 1324.1"/><path d="M1243.9 1324.1L1244.0 1330.7"/><path d="M1244.0 1330.7L1244.2 1337.4"/><path d="M1244.2 1337.4L1244.3 1344.1"/><path d="M1244.3 1344.1L1244.4 1350.7"/><path d="M1244.4 1350.7L1244.5 1357.4"/><path d="M1244.5 1357.4L1244.7 1364.1"/><path d="M1244.7 1364.1L1244.9 1370.9"/><path d="M1244.9 1370.9L1245.0 1377.7"/><path d="M1245.0 1377.7L1245.2 1384.5"/></g><g stroke="#041b5c"><path d="M919.5 1425.4L920.0 1419.6"/><path d="M920.0 1419.6L920.4 1413.2"/><path d="M920.4 1413.2L920.9 1406.7"/><path d="M920.9 1406.7L921.3 1400.3"/><path d="M921.3 1400.3L921.6 1406.2"/><path d="M921.6 1406.2L921.8 1412.1"/><path d="M921.8 1412.1L922.0 1418.0"/><path d="M922.0 1418.0L922.2 1423.8"/><path d="M922.2 1423.8L922.5 1429.7"/><path d="M922.5 1429.7L922.7 1435.6"/><path d="M922.7 1435.6L923.0 1442.4"/><path d="M1183.9 925.4L1184.1 919.5"/><path d="M1184.1 919.5L1184.3 913.6"/><path d="M1184.3 913.6L1184.6 907.6"/><path d="M1184.6 907.6L1184.8 901.7"/><path d="M1184.8 901.7L1186.1 905.9"/><path d="M1186.1 905.9L1186.3 912.1"/><path d="M1186.3 912.1L1186.5 918.2"/><path d="M1186.5 918.2L1186.7 924.3"/><path d="M1240.0 1216.9L1240.2 1210.4"/><path d="M1240.2 1210.4L1240.5 1204.0"/><path d="M1240.5 1204.0L1240.9 1209.7"/><path d="M1240.9 1209.7L1241.4 1215.4"/><path d="M1241.4 1215.4L1241.8 1221.1"/></g></g><g fill="none" stroke-width="2.90" stroke-opacity="0.70"><g stroke="#eebcdc"><path d="M86.3 2361.5L87.7 2361.5"/><path d="M87.7 2361.5L89.2 2361.5"/><path d="M89.2 2361.5L90.6 2361.5"/><path d="M90.6 2361.5L92.0 2361.5"/><path d="M92.0 2361.5L93.5 2361.5"/><path d="M93.5 2361.5L94.9 2361.5"/><path d="M94.9 2361.5L96.3 2361.5"/><path d="M96.3 2361.5L97.8 2361.5"/><path d="M97.8 2361.5L99.2 2361.5"/><path d="M99.2 2361.5L100.6 2361.5"/><path d="M100.6 2361.5L102.1 2361.5"/><path d="M102.1 2361.5L103.5 2361.5"/><path d="M103.5 2361.5L104.9 2361.5"/><path d="M104.9 2361.5L106.3 2361.5"/><path d="M106.3 2361.5L107.8 2361.5"/><path d="M107.8 2361.5L109.2 2361.5"/><path d="M109.2 2361.5L110.6 2361.5"/><path d="M110.6 2361.5L112.1 2361.5"/><path d="M112.1 2361.5L113.5 2361.5"/><path d="M113.5 2361.5L114.9 2361.5"/><path d="M114.9 2361.5L116.4 2361.5"/><path d="M116.4 2361.5L117.8 2361.5"/><path d="M117.8 2361.5L119.2 2361.5"/><path d="M119.2 2361.5L120.7 2361.5"/><path d="M120.7 2361.5L122.1 2361.5"/><path d="M122.1 2361.5L123.5 2361.5"/><path d="M123.5 2361.5L125.0 2361.5"/><path d="M125.0 2361.5L126.4 2361.5"/><path d="M126.4 2361.5L127.8 2361.5"/><path d="M127.8 2361.5L129.3 2361.5"/><path d="M129.3 2361.5L130.7 2361.5"/><path d="M130.7 2361.5L132.1 2361.5"/><path d="M132.1 2361.5L133.6 2361.5"/><path d="M133.6 2361.5L135.0 2361.5"/><path d="M135.0 2361.5L136.4 2361.5"/><path d="M136.4 2361.5L137.9 2361.5"/><path d="M137.9 2361.5L139.3 2361.5"/><path d="M139.3 2361.5L140.7 2361.5"/><path d="M140.7 2361.5L142.1 2361.5"/><path d="M142.1 2361.5L143.6 2361.5"/><path d="M143.6 2361.5L145.0 2361.5"/><path d="M145.0 2361.5L146.4 2361.5"/><path d="M146.4 2361.5L147.9 2361.5"/><path d="M147.9 2361.5L149.3 2361.5"/><path d="M149.3 2361.5L150.7 2361.5"/><path d="M150.7 2361.5L152.2 2361.5"/><path d="M152.2 2361.5L153.6 2361.5"/><path d="M153.6 2361.5L155.0 2361.5"/><path d="M155.0 2361.5L156.5 2361.5"/><path d="M156.5 2361.5L157.9 2361.5"/><path d="M157.9 2361.5L159.3 2361.5"/><path d="M159.3 2361.5L160.8 2361.5"/><path d="M160.8 2361.5L162.2 2361.5"/><path d="M162.2 2361.5L163.6 2361.5"/><path d="M163.6 2361.5L165.1 2361.5"/><path d="M165.1 2361.5L166.5 2361.5"/><path d="M166.5 2361.5L167.9 2361.5"/><path d="M167.9 2361.5L169.4 2361.5"/><path d="M169.4 2361.5L170.8 2361.5"/><path d="M170.8 2361.5L172.2 2361.5"/><path d="M172.2 2361.5L173.7 2361.5"/><path d="M173.7 2361.5L175.1 2361.5"/><path d="M175.1 2361.5L176.5 2361.5"/><path d="M176.5 2361.5L177.9 2361.5"/><path d="M177.9 2361.5L179.4 2361.5"/><path d="M179.4 2361.5L180.8 2361.5"/><path d="M180.8 2361.5L182.2 2361.5"/><path d="M182.2 2361.5L183.7 2361.5"/><path d="M183.7 2361.5L185.1 2361.5"/><path d="M185.1 2361.5L186.5 2361.5"/><path d="M186.5 2361.5L188.0 2361.5"/><path d="M188.0 2361.5L189.4 2361.5"/><path d="M189.4 2361.5L190.8 2361.5"/><path d="M190.8 2361.5L192.3 2361.5"/><path d="M192.3 2361.5L193.7 2361.5"/><path d="M193.7 2361.5L195.1 2361.5"/><path d="M195.1 2361.5L196.6 2361.5"/><path d="M196.6 2361.5L198.0 2361.5"/><path d="M198.0 2361.5L199.4 2361.5"/><path d="M199.4 2361.5L200.9 2361.5"/><path d="M200.9 2361.5L202.3 2361.5"/><path d="M202.3 2361.5L203.7 2361.5"/><path d="M203.7 2361.5L205.2 2361.5"/><path d="M205.2 2361.5L206.6 2361.5"/><path d="M206.6 2361.5L208.0 2361.5"/><path d="M208.0 2361.5L209.5 2361.5"/><path d="M209.5 2361.5L210.9 2361.5"/><path d="M210.9 2361.5L212.3 2361.5"/><path d="M212.3 2361.5L213.7 2361.5"/><path d="M213.7 2361.5L215.2 2361.5"/><path d="M215.2 2361.5L216.6 2361.5"/><path d="M216.6 2361.5L218.0 2361.5"/><path d="M218.0 2361.5L219.5 2361.5"/><path d="M219.5 2361.5L220.9 2361.5"/><path d="M220.9 2361.5L222.3 2361.5"/><path d="M222.3 2361.5L223.8 2361.5"/><path d="M223.8 2361.5L225.2 2361.5"/><path d="M225.2 2361.5L226.6 2361.5"/><path d="M226.6 2361.5L228.1 2361.5"/><path d="M228.1 2361.5L229.5 2361.5"/><path d="M229.5 2361.5L230.9 2361.5"/><path d="M230.9 2361.5L232.4 2361.5"/><path d="M232.4 2361.5L233.8 2361.5"/><path d="M233.8 2361.5L235.2 2361.5"/><path d="M235.2 2361.5L236.7 2361.5"/><path d="M236.7 2361.5L238.1 2361.5"/><path d="M238.1 2361.5L239.5 2361.5"/><path d="M239.5 2361.5L241.0 2361.5"/><path d="M241.0 2361.5L242.4 2361.5"/><path d="M242.4 2361.5L243.8 2361.5"/><path d="M243.8 2361.5L245.3 2361.5"/><path d="M245.3 2361.5L246.7 2361.5"/><path d="M246.7 2361.5L248.1 2361.5"/><path d="M248.1 2361.5L249.5 2361.5"/><path d="M249.5 2361.5L251.0 2361.5"/><path d="M251.0 2361.5L252.4 2361.5"/><path d="M252.4 2361.5L253.8 2361.5"/><path d="M253.8 2361.5L255.3 2361.5"/><path d="M255.3 2361.5L256.7 2361.5"/><path d="M256.7 2361.5L258.1 2361.5"/><path d="M258.1 2361.5L259.6 2361.4"/><path d="M259.6 2361.4L261.0 2359.0"/><path d="M263.9 2361.4L265.3 2361.5"/><path d="M265.3 2361.5L266.7 2361.5"/><path d="M266.7 2361.5L268.2 2361.5"/><path d="M268.2 2361.5L269.6 2361.5"/><path d="M269.6 2361.5L271.0 2361.5"/><path d="M271.0 2361.5L272.5 2361.5"/><path d="M272.5 2361.5L273.9 2361.5"/><path d="M273.9 2361.5L275.3 2361.5"/><path d="M275.3 2361.5L276.8 2361.5"/><path d="M276.8 2361.5L278.2 2361.5"/><path d="M278.2 2361.5L279.6 2361.5"/><path d="M279.6 2361.5L281.1 2361.5"/><path d="M281.1 2361.5L282.5 2361.5"/><path d="M282.5 2361.5L283.9 2361.5"/><path d="M283.9 2361.5L285.3 2361.5"/><path d="M285.3 2361.5L286.8 2361.5"/><path d="M286.8 2361.5L288.2 2361.5"/><path d="M288.2 2361.5L289.6 2361.5"/><path d="M289.6 2361.5L291.1 2361.5"/><path d="M291.1 2361.5L292.5 2361.5"/><path d="M292.5 2361.5L293.9 2361.5"/><path d="M293.9 2361.5L295.4 2361.5"/><path d="M295.4 2361.5L296.8 2361.5"/><path d="M296.8 2361.5L298.2 2361.5"/><path d="M298.2 2361.5L299.7 2361.5"/><path d="M299.7 2361.5L301.1 2361.5"/><path d="M301.1 2361.5L302.5 2361.5"/><path d="M302.5 2361.5L304.0 2361.5"/><path d="M304.0 2361.5L305.4 2361.5"/><path d="M305.4 2361.5L306.8 2361.5"/><path d="M306.8 2361.5L308.3 2361.4"/><path d="M308.3 2361.4L309.7 2359.5"/><path d="M312.6 2361.4L314.0 2361.5"/><path d="M314.0 2361.5L315.4 2361.5"/><path d="M315.4 2361.5L316.9 2361.5"/><path d="M316.9 2361.5L318.3 2361.5"/><path d="M318.3 2361.5L319.7 2361.5"/><path d="M319.7 2361.5L321.1 2361.5"/><path d="M321.1 2361.5L322.6 2361.4"/><path d="M322.6 2361.4L324.0 2360.0"/><path d="M326.9 2361.4L328.3 2361.5"/><path d="M328.3 2361.5L329.7 2361.5"/><path d="M329.7 2361.5L331.2 2361.5"/><path d="M331.2 2361.5L332.6 2361.5"/><path d="M332.6 2361.5L334.0 2361.5"/><path d="M334.0 2361.5L335.5 2361.5"/><path d="M335.5 2361.5L336.9 2361.5"/><path d="M336.9 2361.5L338.3 2361.5"/><path d="M338.3 2361.5L339.8 2361.5"/><path d="M339.8 2361.5L341.2 2361.5"/><path d="M341.2 2361.5L342.6 2361.4"/><path d="M342.6 2361.4L344.1 2357.5"/><path d="M346.9 2361.4L348.4 2361.5"/><path d="M348.4 2361.5L349.8 2361.5"/><path d="M349.8 2361.5L351.2 2361.5"/><path d="M351.2 2361.5L352.7 2361.5"/><path d="M352.7 2361.5L354.1 2361.5"/><path d="M354.1 2361.5L355.5 2361.5"/><path d="M355.5 2361.5L356.9 2361.5"/><path d="M356.9 2361.5L358.4 2361.5"/><path d="M358.4 2361.5L359.8 2361.5"/><path d="M359.8 2361.5L361.2 2361.5"/><path d="M361.2 2361.5L362.7 2361.4"/><path d="M362.7 2361.4L364.1 2359.5"/><path d="M367.0 2361.4L368.4 2361.5"/><path d="M368.4 2361.5L369.8 2361.5"/><path d="M369.8 2361.5L371.3 2361.5"/><path d="M371.3 2361.5L372.7 2361.5"/><path d="M372.7 2361.5L374.1 2361.5"/><path d="M374.1 2361.5L375.6 2361.5"/><path d="M375.6 2361.5L377.0 2361.5"/><path d="M377.0 2361.5L378.4 2361.5"/><path d="M378.4 2361.5L379.9 2361.5"/><path d="M379.9 2361.5L381.3 2361.5"/><path d="M381.3 2361.5L382.7 2361.5"/><path d="M382.7 2361.5L384.2 2361.3"/><path d="M384.2 2361.3L385.6 2356.5"/><path d="M388.5 2361.3L389.9 2361.5"/><path d="M389.9 2361.5L391.3 2361.5"/><path d="M391.3 2361.5L392.7 2361.5"/><path d="M392.7 2361.5L394.2 2361.5"/><path d="M394.2 2361.5L395.6 2361.5"/><path d="M395.6 2361.5L397.0 2361.5"/><path d="M397.0 2361.5L398.5 2361.5"/><path d="M398.5 2361.5L399.9 2361.5"/><path d="M399.9 2361.5L401.3 2361.5"/><path d="M401.3 2361.5L402.8 2361.5"/><path d="M402.8 2361.5L404.2 2361.5"/><path d="M404.2 2361.5L405.6 2361.5"/><path d="M405.6 2361.5L407.1 2361.5"/><path d="M407.1 2361.5L408.5 2361.5"/><path d="M408.5 2361.5L409.9 2361.5"/><path d="M409.9 2361.5L411.4 2361.5"/><path d="M411.4 2361.5L412.8 2361.5"/><path d="M412.8 2361.5L414.2 2361.5"/><path d="M414.2 2361.5L415.7 2361.5"/><path d="M415.7 2361.5L417.1 2361.5"/><path d="M417.1 2361.5L418.5 2361.5"/><path d="M418.5 2361.5L420.0 2361.5"/><path d="M420.0 2361.5L421.4 2361.5"/><path d="M421.4 2361.5L422.8 2361.5"/><path d="M422.8 2361.5L424.3 2361.5"/><path d="M424.3 2361.5L425.7 2361.5"/><path d="M425.7 2361.5L427.1 2361.5"/><path d="M427.1 2361.5L428.5 2361.5"/><path d="M428.5 2361.5L430.0 2361.5"/><path d="M430.0 2361.5L431.4 2361.5"/><path d="M431.4 2361.5L432.8 2361.5"/><path d="M432.8 2361.5L434.3 2361.5"/><path d="M434.3 2361.5L435.7 2361.5"/><path d="M435.7 2361.5L437.1 2361.5"/><path d="M437.1 2361.5L438.6 2361.5"/><path d="M438.6 2361.5L440.0 2361.5"/><path d="M440.0 2361.5L441.4 2361.5"/><path d="M441.4 2361.5L442.9 2361.5"/><path d="M442.9 2361.5L444.3 2361.5"/><path d="M444.3 2361.5L445.7 2361.5"/><path d="M445.7 2361.5L447.2 2361.5"/><path d="M447.2 2361.5L448.6 2361.5"/><path d="M448.6 2361.5L450.0 2361.5"/><path d="M450.0 2361.5L451.5 2361.5"/><path d="M451.5 2361.5L452.9 2361.5"/><path d="M452.9 2361.5L454.3 2361.5"/><path d="M454.3 2361.5L455.8 2361.5"/><path d="M455.8 2361.5L457.2 2361.5"/><path d="M457.2 2361.5L458.6 2361.5"/><path d="M458.6 2361.5L460.1 2361.5"/><path d="M460.1 2361.5L461.5 2361.5"/><path d="M461.5 2361.5L462.9 2361.5"/><path d="M462.9 2361.5L464.3 2361.5"/><path d="M464.3 2361.5L465.8 2361.5"/><path d="M465.8 2361.5L467.2 2361.5"/><path d="M467.2 2361.5L468.6 2361.5"/><path d="M468.6 2361.5L470.1 2361.5"/><path d="M470.1 2361.5L471.5 2361.5"/><path d="M471.5 2361.5L472.9 2361.5"/><path d="M472.9 2361.5L474.4 2361.5"/><path d="M474.4 2361.5L475.8 2361.5"/><path d="M475.8 2361.5L477.2 2361.5"/><path d="M477.2 2361.5L478.7 2361.5"/><path d="M478.7 2361.5L480.1 2361.5"/><path d="M480.1 2361.5L481.5 2361.5"/><path d="M481.5 2361.5L483.0 2361.5"/><path d="M483.0 2361.5L484.4 2361.5"/><path d="M484.4 2361.5L485.8 2361.5"/><path d="M485.8 2361.5L487.3 2361.5"/><path d="M487.3 2361.5L488.7 2361.5"/><path d="M488.7 2361.5L490.1 2361.5"/><path d="M490.1 2361.5L491.6 2361.5"/><path d="M491.6 2361.5L493.0 2361.5"/><path d="M493.0 2361.5L494.4 2361.5"/><path d="M494.4 2361.5L495.9 2361.5"/><path d="M495.9 2361.5L497.3 2361.5"/><path d="M497.3 2361.5L498.7 2361.5"/><path d="M498.7 2361.5L500.1 2361.5"/><path d="M500.1 2361.5L501.6 2361.5"/><path d="M501.6 2361.5L503.0 2361.5"/><path d="M503.0 2361.5L504.4 2361.5"/><path d="M504.4 2361.5L505.9 2361.5"/><path d="M505.9 2361.5L507.3 2361.5"/><path d="M507.3 2361.5L508.7 2361.5"/><path d="M508.7 2361.5L510.2 2361.5"/><path d="M510.2 2361.5L511.6 2361.5"/><path d="M511.6 2361.5L513.0 2361.5"/><path d="M513.0 2361.5L514.5 2361.5"/><path d="M514.5 2361.5L515.9 2361.5"/><path d="M515.9 2361.5L517.3 2361.5"/><path d="M517.3 2361.5L518.8 2361.5"/><path d="M518.8 2361.5L520.2 2361.5"/><path d="M520.2 2361.5L521.6 2361.5"/><path d="M521.6 2361.5L523.1 2361.5"/><path d="M523.1 2361.5L524.5 2361.5"/><path d="M524.5 2361.5L525.9 2361.5"/><path d="M525.9 2361.5L527.4 2361.5"/><path d="M527.4 2361.5L528.8 2361.5"/><path d="M528.8 2361.5L530.2 2361.5"/><path d="M530.2 2361.5L531.7 2361.5"/><path d="M531.7 2361.5L533.1 2361.5"/><path d="M533.1 2361.5L534.5 2361.5"/><path d="M534.5 2361.5L535.9 2361.5"/><path d="M535.9 2361.5L537.4 2361.5"/><path d="M537.4 2361.5L538.8 2361.5"/><path d="M538.8 2361.5L540.2 2361.5"/><path d="M540.2 2361.5L541.7 2361.5"/><path d="M541.7 2361.5L543.1 2361.5"/><path d="M543.1 2361.5L544.5 2361.5"/><path d="M544.5 2361.5L546.0 2361.5"/><path d="M546.0 2361.5L547.4 2361.5"/><path d="M547.4 2361.5L548.8 2361.5"/><path d="M548.8 2361.5L550.3 2361.5"/><path d="M550.3 2361.5L551.7 2361.5"/><path d="M551.7 2361.5L553.1 2361.5"/><path d="M553.1 2361.5L554.6 2361.5"/><path d="M554.6 2361.5L556.0 2361.5"/><path d="M556.0 2361.5L557.4 2361.5"/><path d="M557.4 2361.5L558.9 2361.5"/><path d="M558.9 2361.5L560.3 2361.5"/><path d="M560.3 2361.5L561.7 2361.5"/><path d="M561.7 2361.5L563.2 2361.5"/><path d="M563.2 2361.5L564.6 2361.5"/><path d="M564.6 2361.5L566.0 2361.5"/><path d="M566.0 2361.5L567.5 2361.5"/><path d="M567.5 2361.5L568.9 2361.5"/><path d="M568.9 2361.5L570.3 2361.5"/><path d="M570.3 2361.5L571.7 2361.5"/><path d="M571.7 2361.5L573.2 2361.5"/><path d="M573.2 2361.5L574.6 2361.5"/><path d="M574.6 2361.5L576.0 2361.5"/><path d="M576.0 2361.5L577.5 2361.5"/><path d="M577.5 2361.5L578.9 2361.5"/><path d="M578.9 2361.5L580.3 2361.5"/><path d="M580.3 2361.5L581.8 2361.5"/><path d="M581.8 2361.5L583.2 2361.5"/><path d="M583.2 2361.5L584.6 2361.5"/><path d="M584.6 2361.5L586.1 2361.5"/><path d="M586.1 2361.5L587.5 2361.5"/><path d="M587.5 2361.5L588.9 2361.5"/><path d="M588.9 2361.5L590.4 2361.5"/><path d="M590.4 2361.5L591.8 2361.5"/><path d="M591.8 2361.5L593.2 2361.5"/><path d="M593.2 2361.5L594.7 2361.5"/><path d="M594.7 2361.5L596.1 2361.5"/><path d="M596.1 2361.5L597.5 2361.5"/><path d="M597.5 2361.5L599.0 2361.5"/><path d="M599.0 2361.5L600.4 2361.5"/><path d="M600.4 2361.5L601.8 2361.5"/><path d="M601.8 2361.5L603.3 2361.5"/><path d="M603.3 2361.5L604.7 2361.5"/><path d="M604.7 2361.5L606.1 2361.5"/><path d="M606.1 2361.5L607.5 2361.5"/><path d="M607.5 2361.5L609.0 2361.5"/><path d="M609.0 2361.5L610.4 2361.5"/><path d="M610.4 2361.5L611.8 2361.5"/><path d="M611.8 2361.5L613.3 2361.2"/><path d="M619.0 2361.5L620.4 2361.5"/><path d="M620.4 2361.5L621.9 2361.5"/><path d="M621.9 2361.5L623.3 2351.5"/><path d="M629.0 2361.5L630.5 2361.5"/><path d="M630.5 2361.5L631.9 2361.5"/><path d="M631.9 2361.5L633.3 2361.5"/><path d="M633.3 2361.5L634.8 2361.5"/><path d="M634.8 2361.5L636.2 2361.5"/><path d="M636.2 2361.5L637.6 2361.5"/><path d="M637.6 2361.5L639.1 2361.5"/><path d="M639.1 2361.5L640.5 2361.5"/><path d="M640.5 2361.5L641.9 2361.5"/><path d="M641.9 2361.5L643.3 2361.5"/><path d="M643.3 2361.5L644.8 2361.5"/><path d="M644.8 2361.5L646.2 2361.5"/><path d="M646.2 2361.5L647.6 2361.5"/><path d="M647.6 2361.5L649.1 2361.5"/><path d="M649.1 2361.5L650.5 2361.5"/><path d="M650.5 2361.5L651.9 2361.5"/><path d="M651.9 2361.5L653.4 2361.5"/><path d="M653.4 2361.5L654.8 2361.5"/><path d="M654.8 2361.5L656.2 2361.5"/><path d="M656.2 2361.5L657.7 2361.5"/><path d="M657.7 2361.5L659.1 2361.5"/><path d="M659.1 2361.5L660.5 2361.5"/><path d="M660.5 2361.5L662.0 2361.5"/><path d="M662.0 2361.5L663.4 2361.5"/><path d="M663.4 2361.5L664.8 2361.5"/><path d="M664.8 2361.5L666.3 2361.5"/><path d="M666.3 2361.5L667.7 2361.5"/><path d="M667.7 2361.5L669.1 2361.5"/><path d="M669.1 2361.5L670.6 2361.5"/><path d="M670.6 2361.5L672.0 2361.5"/><path d="M672.0 2361.5L673.4 2361.5"/><path d="M673.4 2361.5L674.9 2361.5"/><path d="M674.9 2361.5L676.3 2361.5"/><path d="M676.3 2361.5L677.7 2361.5"/><path d="M677.7 2361.5L679.1 2361.5"/><path d="M679.1 2361.5L680.6 2361.5"/><path d="M680.6 2361.5L682.0 2361.5"/><path d="M682.0 2361.5L683.4 2361.5"/><path d="M683.4 2361.5L684.9 2361.5"/><path d="M684.9 2361.5L686.3 2361.5"/><path d="M686.3 2361.5L687.7 2361.5"/></g><g stroke="#f0b8cc"><path d="M613.3 2361.2L614.7 2352.6"/><path d="M617.6 2361.2L619.0 2361.5"/></g><g stroke="#f0b1b0"><path d="M623.3 2351.5L623.3 2344.5"/><path d="M623.3 2344.5L623.4 2337.5"/><path d="M623.4 2337.5L623.4 2330.5"/></g><g stroke="#efada2"><path d="M623.4 2330.5L623.4 2323.5"/><path d="M623.4 2323.5L623.5 2316.5"/><path d="M623.5 2316.5L623.5 2309.5"/></g><g stroke="#eda994"><path d="M623.5 2309.5L623.6 2302.5"/><path d="M623.6 2302.5L623.6 2295.5"/></g><g stroke="#eaa589"><path d="M623.6 2295.5L623.6 2288.6"/><path d="M623.6 2288.6L623.7 2281.6"/><path d="M623.7 2281.6L623.7 2274.6"/></g><g stroke="#e7a17d"><path d="M324.0 2360.0L325.4 2360.0"/><path d="M325.4 2360.0L326.9 2361.4"/><path d="M623.7 2274.6L623.7 2267.6"/><path d="M623.7 2267.6L623.8 2260.6"/><path d="M623.8 2260.6L623.8 2253.6"/></g><g stroke="#e29b70"><path d="M623.8 2253.6L623.8 2246.6"/><path d="M623.8 2246.6L623.9 2239.6"/><path d="M623.9 2239.6L623.9 2232.6"/></g><g stroke="#dd9764"><path d="M623.9 2232.6L623.9 2225.6"/><path d="M623.9 2225.6L624.0 2218.6"/><path d="M624.0 2218.6L624.0 2211.6"/></g><g stroke="#d69558"><path d="M624.0 2211.6L624.1 2204.6"/><path d="M624.1 2204.6L624.1 2197.6"/><path d="M624.1 2197.6L624.1 2190.6"/><path d="M627.6 2351.5L629.0 2361.5"/></g><g stroke="#ce934d"><path d="M309.7 2359.5L311.1 2359.5"/><path d="M311.1 2359.5L312.6 2361.4"/><path d="M364.1 2359.5L365.5 2359.5"/><path d="M365.5 2359.5L367.0 2361.4"/><path d="M624.1 2190.6L624.2 2183.6"/><path d="M624.2 2183.6L624.2 2176.6"/><path d="M624.2 2176.6L624.2 2169.6"/><path d="M627.3 2302.5L627.4 2309.5"/><path d="M627.4 2309.5L627.4 2316.5"/><path d="M627.4 2316.5L627.5 2323.5"/><path d="M627.5 2323.5L627.5 2330.5"/><path d="M627.5 2330.5L627.5 2337.5"/><path d="M627.5 2337.5L627.6 2344.5"/><path d="M627.6 2344.5L627.6 2351.5"/></g><g stroke="#c59144"><path d="M624.2 2169.6L624.3 2162.6"/><path d="M624.3 2162.6L624.3 2155.6"/><path d="M627.1 2260.6L627.2 2267.6"/><path d="M627.2 2267.6L627.2 2274.6"/><path d="M627.2 2274.6L627.2 2281.6"/><path d="M627.2 2281.6L627.3 2288.6"/><path d="M627.3 2288.6L627.3 2295.5"/><path d="M627.3 2295.5L627.3 2302.5"/></g><g stroke="#bc903b"><path d="M624.3 2155.6L624.3 2148.6"/><path d="M624.3 2148.6L624.4 2141.6"/><path d="M624.4 2141.6L624.4 2134.6"/><path d="M626.9 2211.6L626.9 2218.6"/><path d="M626.9 2218.6L627.0 2225.6"/><path d="M627.0 2225.6L627.0 2232.6"/><path d="M627.0 2232.6L627.0 2239.6"/><path d="M627.0 2239.6L627.1 2246.6"/><path d="M627.1 2246.6L627.1 2253.6"/><path d="M627.1 2253.6L627.1 2260.6"/></g><g stroke="#b28e35"><path d="M261.0 2359.0L262.4 2359.0"/><path d="M262.4 2359.0L263.9 2361.4"/><path d="M624.4 2134.6L624.4 2127.6"/><path d="M624.4 2127.6L624.5 2120.6"/><path d="M624.5 2120.6L624.5 2113.6"/><path d="M626.7 2169.6L626.7 2176.6"/><path d="M626.7 2176.6L626.7 2183.6"/><path d="M626.7 2183.6L626.8 2190.6"/><path d="M626.8 2190.6L626.8 2197.6"/><path d="M626.8 2197.6L626.8 2204.6"/><path d="M626.8 2204.6L626.9 2211.6"/></g><g stroke="#a78d2e"><path d="M624.5 2113.6L624.6 2106.6"/><path d="M624.6 2106.6L624.6 2099.6"/><path d="M624.6 2099.6L624.6 2092.6"/><path d="M626.4 2120.6L626.5 2127.6"/><path d="M626.5 2127.6L626.5 2134.6"/><path d="M626.5 2134.6L626.5 2141.6"/><path d="M626.5 2141.6L626.6 2148.6"/><path d="M626.6 2148.6L626.6 2155.6"/><path d="M626.6 2155.6L626.6 2162.6"/><path d="M626.6 2162.6L626.7 2169.6"/></g><g stroke="#9b8a29"><path d="M624.6 2092.6L624.7 2085.6"/><path d="M624.7 2085.6L624.7 2078.6"/><path d="M624.7 2078.6L624.7 2071.6"/><path d="M626.2 2071.6L626.2 2078.6"/><path d="M626.2 2078.6L626.2 2085.6"/><path d="M626.2 2085.6L626.3 2092.6"/><path d="M626.3 2092.6L626.3 2099.6"/><path d="M626.3 2099.6L626.3 2106.6"/><path d="M626.3 2106.6L626.4 2113.6"/><path d="M626.4 2113.6L626.4 2120.6"/></g><g stroke="#908828"><path d="M624.7 2071.6L626.2 2071.6"/></g><g stroke="#637e3e"><path d="M344.1 2357.5L345.5 2357.5"/><path d="M345.5 2357.5L346.9 2361.4"/></g><g stroke="#3f7153"><path d="M385.6 2356.5L387.0 2356.5"/><path d="M387.0 2356.5L388.5 2361.3"/></g><g stroke="#184d5c"><path d="M614.7 2352.6L616.1 2352.6"/><path d="M616.1 2352.6L617.6 2361.2"/></g></g><g fill="none" stroke-width="2.90" stroke-opacity="0.70"><g stroke="#eebcdc"><path d="M757.4 2361.5L758.8 2356.7"/><path d="M764.5 2361.5L766.0 2361.5"/><path d="M766.0 2361.5L767.4 2360.9"/><path d="M773.1 2361.5L774.6 2361.5"/><path d="M774.6 2361.5L776.0 2360.9"/><path d="M781.7 2361.5L783.2 2360.4"/><path d="M793.2 2361.5L794.6 2361.5"/><path d="M794.6 2361.5L796.0 2361.5"/><path d="M796.0 2361.5L797.5 2357.7"/><path d="M829.0 2361.5L830.4 2360.3"/><path d="M856.2 2361.5L857.6 2361.5"/><path d="M857.6 2361.5L859.0 2351.5"/><path d="M924.9 2361.3L926.4 2361.4"/><path d="M926.4 2361.4L927.8 2361.4"/><path d="M927.8 2361.4L929.2 2361.4"/><path d="M929.2 2361.4L930.6 2361.4"/><path d="M930.6 2361.4L932.1 2361.5"/><path d="M932.1 2361.5L933.5 2361.5"/><path d="M933.5 2361.5L934.9 2361.5"/><path d="M934.9 2361.5L936.4 2361.5"/><path d="M936.4 2361.5L937.8 2361.5"/><path d="M937.8 2361.5L939.2 2361.5"/><path d="M939.2 2361.5L940.7 2361.5"/><path d="M940.7 2361.5L942.1 2361.5"/><path d="M942.1 2361.5L943.5 2361.5"/><path d="M943.5 2361.5L945.0 2361.5"/><path d="M945.0 2361.5L946.4 2361.5"/><path d="M946.4 2361.5L947.8 2361.5"/><path d="M947.8 2361.5L949.3 2361.5"/><path d="M949.3 2361.5L950.7 2361.5"/><path d="M950.7 2361.5L952.1 2361.5"/><path d="M952.1 2361.5L953.6 2361.5"/><path d="M953.6 2361.5L955.0 2361.5"/><path d="M955.0 2361.5L956.4 2361.5"/><path d="M956.4 2361.5L957.9 2361.5"/><path d="M957.9 2361.5L959.3 2361.5"/><path d="M959.3 2361.5L960.7 2361.5"/><path d="M960.7 2361.5L962.2 2361.5"/><path d="M962.2 2361.5L963.6 2361.1"/><path d="M969.3 2361.6L970.7 2361.6"/><path d="M970.7 2361.6L972.2 2361.6"/><path d="M972.2 2361.6L973.6 2361.6"/><path d="M973.6 2361.6L975.0 2361.6"/><path d="M975.0 2361.6L976.5 2361.6"/><path d="M976.5 2361.6L977.9 2361.6"/><path d="M977.9 2361.6L979.3 2361.6"/><path d="M979.3 2361.6L980.8 2361.6"/><path d="M980.8 2361.6L982.2 2361.6"/><path d="M982.2 2361.6L983.6 2361.0"/><path d="M989.4 2361.6L990.8 2361.2"/><path d="M1005.1 2361.6L1006.5 2361.6"/><path d="M1006.5 2361.6L1008.0 2359.6"/><path d="M1013.7 2361.6L1015.1 2361.6"/><path d="M1015.1 2361.6L1016.6 2361.6"/><path d="M1016.6 2361.6L1018.0 2361.6"/><path d="M1018.0 2361.6L1019.4 2361.6"/><path d="M1019.4 2361.6L1020.9 2361.6"/><path d="M1020.9 2361.6L1022.3 2361.6"/><path d="M1022.3 2361.6L1023.7 2361.6"/><path d="M1023.7 2361.6L1025.2 2361.6"/><path d="M1025.2 2361.6L1026.6 2361.6"/><path d="M1026.6 2361.6L1028.0 2360.2"/><path d="M1033.8 2361.6L1035.2 2361.6"/><path d="M1035.2 2361.6L1036.6 2361.6"/><path d="M1036.6 2361.6L1038.0 2361.6"/><path d="M1038.0 2361.6L1039.5 2361.6"/><path d="M1039.5 2361.6L1040.9 2360.8"/><path d="M1046.6 2361.6L1048.1 2361.6"/><path d="M1048.1 2361.6L1049.5 2360.5"/><path d="M1061.0 2361.6L1062.4 2361.6"/><path d="M1062.4 2361.6L1063.8 2361.6"/><path d="M1063.8 2361.6L1065.3 2361.6"/><path d="M1065.3 2361.6L1066.7 2361.6"/><path d="M1066.7 2361.6L1068.1 2361.6"/><path d="M1068.1 2361.6L1069.6 2361.6"/><path d="M1069.6 2361.6L1071.0 2361.6"/><path d="M1071.0 2361.6L1072.4 2360.7"/><path d="M1078.1 2361.6L1079.6 2361.6"/><path d="M1079.6 2361.6L1081.0 2361.6"/><path d="M1081.0 2361.6L1082.4 2361.6"/><path d="M1082.4 2361.6L1083.9 2361.6"/><path d="M1083.9 2361.6L1085.3 2361.6"/><path d="M1085.3 2361.6L1086.7 2361.6"/><path d="M1086.7 2361.6L1088.2 2361.6"/><path d="M1088.2 2361.6L1089.6 2361.6"/><path d="M1089.6 2361.6L1091.0 2361.6"/><path d="M1091.0 2361.6L1092.5 2361.6"/><path d="M1092.5 2361.6L1093.9 2361.6"/><path d="M1093.9 2361.6L1095.3 2361.6"/><path d="M1095.3 2361.6L1096.8 2361.6"/><path d="M1096.8 2361.6L1098.2 2361.6"/><path d="M1098.2 2361.6L1099.6 2361.6"/><path d="M1099.6 2361.6L1101.1 2361.4"/><path d="M1101.1 2361.4L1102.5 2356.0"/><path d="M1105.4 2361.4L1106.8 2361.6"/><path d="M1106.8 2361.6L1108.2 2361.6"/><path d="M1108.2 2361.6L1109.6 2361.6"/><path d="M1109.6 2361.6L1111.1 2361.6"/><path d="M1111.1 2361.6L1112.5 2361.6"/><path d="M1112.5 2361.6L1113.9 2361.6"/><path d="M1113.9 2361.6L1115.4 2361.6"/><path d="M1115.4 2361.6L1116.8 2361.6"/><path d="M1116.8 2361.6L1118.2 2361.6"/><path d="M1118.2 2361.6L1119.7 2361.6"/><path d="M1119.7 2361.6L1121.1 2361.6"/><path d="M1121.1 2361.6L1122.5 2361.6"/><path d="M1122.5 2361.6L1124.0 2361.6"/><path d="M1124.0 2361.6L1125.4 2361.6"/><path d="M1125.4 2361.6L1126.8 2361.6"/><path d="M1126.8 2361.6L1128.3 2361.6"/><path d="M1128.3 2361.6L1129.7 2361.6"/><path d="M1129.7 2361.6L1131.1 2361.6"/><path d="M1131.1 2361.6L1132.6 2361.6"/><path d="M1132.6 2361.6L1134.0 2361.6"/><path d="M1134.0 2361.6L1135.4 2353.4"/><path d="M1141.2 2361.6L1142.6 2361.6"/><path d="M1142.6 2361.6L1144.0 2361.6"/><path d="M1144.0 2361.6L1145.4 2361.6"/><path d="M1145.4 2361.6L1146.9 2361.6"/><path d="M1146.9 2361.6L1148.3 2361.6"/><path d="M1148.3 2361.6L1149.7 2361.6"/><path d="M1149.7 2361.6L1151.2 2361.6"/><path d="M1151.2 2361.6L1152.6 2361.6"/><path d="M1152.6 2361.6L1154.0 2361.6"/><path d="M1154.0 2361.6L1155.5 2361.6"/><path d="M1155.5 2361.6L1155.8 2355.6"/><path d="M1169.8 2361.6L1171.2 2361.6"/><path d="M1171.2 2361.6L1172.7 2361.6"/><path d="M1172.7 2361.6L1174.1 2360.2"/><path d="M1182.7 2361.6L1184.1 2361.6"/><path d="M1184.1 2361.6L1185.5 2361.5"/><path d="M1185.5 2361.5L1187.0 2361.1"/><path d="M1195.6 2361.4L1197.0 2361.6"/><path d="M1197.0 2361.6L1198.4 2356.8"/><path d="M1232.8 2361.6L1234.2 2361.6"/><path d="M1234.2 2361.6L1235.7 2361.6"/><path d="M1235.7 2361.6L1237.1 2361.6"/><path d="M1237.1 2361.6L1238.5 2361.6"/><path d="M1238.5 2361.6L1240.0 2361.6"/><path d="M1240.0 2361.6L1241.4 2361.6"/><path d="M1241.4 2361.6L1242.8 2361.6"/><path d="M1242.8 2361.6L1244.3 2361.6"/><path d="M1244.3 2361.6L1245.7 2361.6"/><path d="M1245.7 2361.6L1247.1 2361.6"/><path d="M1247.1 2361.6L1248.6 2361.6"/><path d="M1248.6 2361.6L1250.0 2361.6"/><path d="M1250.0 2361.6L1251.4 2361.6"/><path d="M1251.4 2361.6L1252.8 2361.6"/><path d="M1252.8 2361.6L1254.3 2361.6"/><path d="M1254.3 2361.6L1255.7 2361.6"/><path d="M1255.7 2361.6L1257.1 2361.6"/><path d="M1257.1 2361.6L1258.6 2361.6"/><path d="M1258.6 2361.6L1260.0 2361.6"/><path d="M1260.0 2361.6L1261.4 2361.6"/><path d="M1261.4 2361.6L1262.9 2361.6"/><path d="M1262.9 2361.6L1264.3 2361.6"/><path d="M1264.3 2361.6L1265.7 2361.6"/><path d="M1265.7 2361.6L1267.2 2361.6"/><path d="M1267.2 2361.6L1268.6 2361.6"/><path d="M1268.6 2361.6L1270.0 2361.6"/><path d="M1270.0 2361.6L1271.5 2361.6"/><path d="M1271.5 2361.6L1272.9 2361.6"/><path d="M1272.9 2361.6L1274.3 2361.6"/><path d="M1274.3 2361.6L1275.8 2361.6"/><path d="M1275.8 2361.6L1277.2 2361.6"/><path d="M1277.2 2361.6L1278.6 2361.6"/><path d="M1278.6 2361.6L1280.1 2361.6"/><path d="M1280.1 2361.6L1281.5 2361.6"/><path d="M1281.5 2361.6L1282.9 2361.6"/><path d="M1282.9 2361.6L1284.4 2361.6"/><path d="M1284.4 2361.6L1285.8 2361.6"/><path d="M1285.8 2361.6L1287.2 2361.6"/><path d="M1287.2 2361.6L1288.6 2361.6"/><path d="M1288.6 2361.6L1290.1 2361.6"/><path d="M1290.1 2361.6L1291.5 2361.6"/><path d="M1291.5 2361.6L1292.9 2361.6"/><path d="M1292.9 2361.6L1294.4 2361.6"/><path d="M1294.4 2361.6L1295.8 2361.7"/><path d="M1295.8 2361.7L1297.2 2361.7"/><path d="M1297.2 2361.7L1298.7 2361.7"/><path d="M1298.7 2361.7L1300.1 2361.7"/><path d="M1300.1 2361.7L1301.5 2361.7"/><path d="M1301.5 2361.7L1303.0 2361.7"/><path d="M1303.0 2361.7L1304.4 2361.7"/><path d="M1304.4 2361.7L1305.8 2361.7"/><path d="M1305.8 2361.7L1307.3 2361.7"/><path d="M1307.3 2361.7L1308.7 2361.7"/><path d="M1308.7 2361.7L1310.1 2361.7"/><path d="M1310.1 2361.7L1311.6 2361.7"/><path d="M1311.6 2361.7L1313.0 2361.7"/><path d="M1313.0 2361.7L1314.4 2361.7"/><path d="M1314.4 2361.7L1315.9 2361.7"/><path d="M1315.9 2361.7L1317.3 2361.7"/><path d="M1317.3 2361.7L1318.7 2361.7"/><path d="M1318.7 2361.7L1320.2 2361.7"/><path d="M1320.2 2361.7L1321.6 2361.7"/><path d="M1321.6 2361.7L1323.0 2361.7"/><path d="M1323.0 2361.7L1324.4 2361.7"/><path d="M1324.4 2361.7L1325.9 2361.7"/><path d="M1325.9 2361.7L1327.3 2361.7"/><path d="M1327.3 2361.7L1328.7 2361.7"/><path d="M1328.7 2361.7L1330.2 2361.7"/><path d="M1330.2 2361.7L1331.6 2361.7"/><path d="M1331.6 2361.7L1333.0 2361.7"/><path d="M1333.0 2361.7L1334.5 2361.7"/><path d="M1334.5 2361.7L1335.9 2361.7"/><path d="M1335.9 2361.7L1337.3 2361.7"/><path d="M1337.3 2361.7L1338.8 2361.7"/><path d="M1338.8 2361.7L1340.2 2361.7"/><path d="M1340.2 2361.7L1341.6 2361.7"/><path d="M1341.6 2361.7L1343.1 2361.7"/><path d="M1343.1 2361.7L1344.5 2361.7"/><path d="M1344.5 2361.7L1345.9 2361.6"/><path d="M1345.9 2361.6L1347.4 2361.2"/><path d="M1358.8 2361.6L1360.2 2361.7"/><path d="M1360.2 2361.7L1361.7 2361.7"/><path d="M1361.7 2361.7L1363.1 2361.7"/><path d="M1363.1 2361.7L1364.5 2361.7"/><path d="M1364.5 2361.7L1366.0 2361.7"/><path d="M1366.0 2361.7L1367.4 2361.7"/><path d="M1367.4 2361.7L1368.8 2361.7"/><path d="M1368.8 2361.7L1370.3 2361.7"/><path d="M1370.3 2361.7L1371.7 2361.7"/><path d="M1371.7 2361.7L1373.1 2361.7"/><path d="M1373.1 2361.7L1374.6 2361.7"/><path d="M1374.6 2361.7L1376.0 2361.7"/><path d="M1376.0 2361.7L1377.4 2361.7"/><path d="M1377.4 2361.7L1378.9 2361.7"/><path d="M1378.9 2361.7L1380.3 2361.7"/><path d="M1380.3 2361.7L1381.7 2361.7"/><path d="M1381.7 2361.7L1383.2 2361.7"/><path d="M1383.2 2361.7L1384.6 2361.7"/><path d="M1384.6 2361.7L1386.0 2361.7"/><path d="M1386.0 2361.7L1387.5 2361.7"/><path d="M1387.5 2361.7L1388.9 2361.7"/><path d="M1388.9 2361.7L1390.3 2361.7"/><path d="M1390.3 2361.7L1391.8 2361.7"/><path d="M1391.8 2361.7L1393.2 2361.7"/><path d="M1393.2 2361.7L1394.6 2361.7"/><path d="M1394.6 2361.7L1396.0 2361.7"/><path d="M1396.0 2361.7L1397.5 2361.7"/><path d="M1397.5 2361.7L1398.9 2361.7"/><path d="M1398.9 2361.7L1400.3 2361.7"/><path d="M1400.3 2361.7L1401.8 2361.7"/><path d="M1401.8 2361.7L1403.2 2361.7"/><path d="M1403.2 2361.7L1404.6 2361.7"/><path d="M1404.6 2361.7L1406.1 2361.7"/><path d="M1406.1 2361.7L1407.5 2361.7"/><path d="M1407.5 2361.7L1408.9 2361.7"/><path d="M1408.9 2361.7L1410.4 2361.7"/><path d="M1410.4 2361.7L1411.8 2361.7"/><path d="M1411.8 2361.7L1413.2 2361.7"/><path d="M1413.2 2361.7L1414.7 2361.7"/><path d="M1414.7 2361.7L1416.1 2361.7"/><path d="M1416.1 2361.7L1417.5 2361.7"/><path d="M1417.5 2361.7L1419.0 2361.7"/><path d="M1419.0 2361.7L1420.4 2361.7"/><path d="M1420.4 2361.7L1421.8 2361.7"/><path d="M1421.8 2361.7L1423.3 2361.7"/><path d="M1423.3 2361.7L1424.7 2361.7"/><path d="M1424.7 2361.7L1426.1 2361.7"/><path d="M1426.1 2361.7L1427.6 2361.7"/><path d="M1427.6 2361.7L1429.0 2361.7"/><path d="M1429.0 2361.7L1430.4 2361.7"/><path d="M1430.4 2361.7L1431.8 2361.7"/><path d="M1431.8 2361.7L1433.3 2361.7"/><path d="M1433.3 2361.7L1434.7 2361.7"/><path d="M1434.7 2361.7L1436.1 2361.7"/><path d="M1436.1 2361.7L1437.6 2361.7"/><path d="M1437.6 2361.7L1439.0 2361.7"/><path d="M1439.0 2361.7L1440.4 2361.7"/><path d="M1440.4 2361.7L1441.9 2361.7"/><path d="M1441.9 2361.7L1443.3 2361.7"/><path d="M1443.3 2361.7L1444.7 2361.7"/><path d="M1444.7 2361.7L1446.2 2361.7"/><path d="M1446.2 2361.7L1447.6 2361.7"/><path d="M1447.6 2361.7L1449.0 2361.7"/><path d="M1449.0 2361.7L1450.5 2361.7"/><path d="M1450.5 2361.7L1451.9 2361.7"/><path d="M1451.9 2361.7L1453.3 2361.7"/><path d="M1453.3 2361.7L1454.8 2361.7"/><path d="M1454.8 2361.7L1456.2 2361.7"/><path d="M1456.2 2361.7L1457.6 2361.7"/><path d="M1457.6 2361.7L1459.1 2361.7"/><path d="M1459.1 2361.7L1460.5 2361.7"/><path d="M1460.5 2361.7L1461.9 2361.7"/><path d="M1461.9 2361.7L1463.4 2361.7"/><path d="M1463.4 2361.7L1464.8 2361.7"/><path d="M1464.8 2361.7L1466.2 2361.7"/><path d="M1466.2 2361.7L1467.6 2361.7"/><path d="M1467.6 2361.7L1469.1 2361.7"/><path d="M1469.1 2361.7L1470.5 2361.7"/><path d="M1470.5 2361.7L1471.9 2361.7"/><path d="M1471.9 2361.7L1473.4 2361.7"/><path d="M1473.4 2361.7L1474.8 2361.7"/><path d="M1474.8 2361.7L1476.2 2361.7"/><path d="M1476.2 2361.7L1477.7 2361.7"/><path d="M1477.7 2361.7L1479.1 2361.7"/><path d="M1479.1 2361.7L1480.5 2361.7"/><path d="M1480.5 2361.7L1482.0 2361.7"/><path d="M1482.0 2361.7L1483.4 2361.7"/><path d="M1483.4 2361.7L1484.8 2361.7"/><path d="M1484.8 2361.7L1486.3 2361.7"/><path d="M1486.3 2361.7L1487.7 2361.7"/><path d="M1487.7 2361.7L1489.1 2361.7"/><path d="M1489.1 2361.7L1490.6 2361.7"/><path d="M1490.6 2361.7L1492.0 2361.7"/></g><g stroke="#f0b8cc"><path d="M695.8 2361.5L697.2 2361.5"/><path d="M697.2 2361.5L698.7 2361.5"/><path d="M698.7 2361.5L700.1 2361.4"/><path d="M700.1 2361.4L701.5 2358.0"/><path d="M704.4 2361.4L705.8 2361.5"/><path d="M705.8 2361.5L707.3 2361.5"/><path d="M707.3 2361.5L708.7 2361.5"/><path d="M708.7 2361.5L710.1 2361.5"/><path d="M710.1 2361.5L711.6 2361.5"/><path d="M711.6 2361.5L713.0 2361.5"/><path d="M713.0 2361.5L714.4 2361.5"/><path d="M714.4 2361.5L715.8 2361.5"/><path d="M715.8 2361.5L717.3 2361.5"/><path d="M717.3 2361.5L718.7 2361.5"/><path d="M718.7 2361.5L720.1 2361.5"/><path d="M720.1 2361.5L721.6 2361.5"/><path d="M721.6 2361.5L723.0 2361.5"/><path d="M723.0 2361.5L724.4 2361.5"/><path d="M724.4 2361.5L725.9 2361.5"/><path d="M725.9 2361.5L727.3 2361.5"/><path d="M727.3 2361.5L728.7 2361.5"/><path d="M728.7 2361.5L730.2 2361.5"/><path d="M730.2 2361.5L731.6 2361.5"/><path d="M731.6 2361.5L733.0 2361.5"/><path d="M733.0 2361.5L734.5 2361.4"/><path d="M734.5 2361.4L735.9 2360.9"/><path d="M744.5 2361.4L745.9 2361.5"/><path d="M745.9 2361.5L747.4 2361.5"/><path d="M747.4 2361.5L748.8 2361.5"/><path d="M748.8 2361.5L750.2 2361.5"/><path d="M750.2 2361.5L751.6 2361.5"/><path d="M751.6 2361.5L753.1 2361.5"/><path d="M753.1 2361.5L754.5 2361.5"/><path d="M754.5 2361.5L755.9 2361.5"/><path d="M755.9 2361.5L757.4 2361.5"/><path d="M869.1 2360.4L870.5 2361.4"/><path d="M870.5 2361.4L871.9 2361.4"/><path d="M871.9 2361.4L873.4 2361.3"/><path d="M873.4 2361.3L874.8 2361.3"/><path d="M874.8 2361.3L876.2 2360.3"/><path d="M904.9 2361.0L906.3 2361.0"/><path d="M906.3 2361.0L907.7 2360.9"/><path d="M907.7 2360.9L909.2 2360.5"/><path d="M909.2 2360.5L910.6 2359.7"/><path d="M920.6 2360.9L922.1 2361.1"/><path d="M922.1 2361.1L923.5 2361.2"/><path d="M923.5 2361.2L924.9 2361.3"/><path d="M1155.8 2355.6L1156.0 2349.5"/><path d="M1187.0 2361.1L1188.4 2360.0"/><path d="M1231.4 2361.3L1232.8 2361.6"/><path d="M1347.4 2361.2L1348.8 2359.3"/></g><g stroke="#f0b5be"><path d="M771.7 2360.9L773.1 2361.5"/><path d="M792.7 2356.4L793.2 2361.5"/><path d="M864.8 2360.4L865.1 2353.5"/><path d="M868.7 2353.5L869.1 2360.4"/><path d="M910.6 2359.7L912.0 2355.4"/><path d="M919.2 2360.6L920.6 2360.9"/><path d="M967.9 2361.1L969.3 2361.6"/><path d="M987.9 2361.0L989.4 2361.6"/><path d="M1003.7 2361.1L1005.1 2361.6"/><path d="M1156.0 2349.5L1156.3 2343.5"/><path d="M1194.1 2360.6L1195.6 2361.4"/><path d="M1357.4 2360.8L1358.8 2361.6"/></g><g stroke="#f0b1b0"><path d="M735.9 2360.9L737.3 2359.9"/><path d="M743.1 2360.9L744.5 2361.4"/><path d="M780.3 2360.9L781.7 2361.5"/><path d="M846.2 2341.0L846.2 2334.1"/><path d="M846.2 2334.1L846.2 2327.2"/><path d="M846.2 2327.2L846.2 2320.3"/><path d="M846.2 2320.3L846.2 2313.4"/><path d="M846.2 2313.4L846.2 2306.4"/><path d="M865.1 2353.5L865.5 2346.5"/><path d="M868.4 2346.5L868.7 2353.5"/><path d="M876.2 2360.3L876.6 2354.0"/><path d="M894.8 2360.7L896.3 2360.4"/><path d="M896.3 2360.4L897.7 2359.4"/><path d="M903.4 2360.4L904.9 2361.0"/><path d="M1028.0 2360.2L1028.3 2353.9"/><path d="M1045.2 2360.8L1046.6 2361.6"/><path d="M1156.3 2343.5L1156.6 2337.4"/><path d="M1156.6 2337.4L1156.9 2331.4"/></g><g stroke="#efada2"><path d="M787.4 2344.9L787.5 2338.0"/><path d="M787.5 2338.0L787.5 2331.0"/><path d="M846.2 2306.4L846.3 2299.5"/><path d="M846.3 2299.5L846.3 2292.6"/><path d="M846.3 2292.6L846.3 2285.7"/><path d="M846.3 2285.7L846.3 2278.7"/><path d="M846.3 2278.7L846.3 2271.8"/><path d="M846.3 2271.8L846.3 2264.9"/><path d="M865.5 2346.5L865.8 2339.6"/><path d="M865.8 2339.6L866.2 2332.6"/><path d="M867.6 2332.6L868.0 2339.6"/><path d="M868.0 2339.6L868.4 2346.5"/><path d="M876.6 2354.0L876.9 2347.6"/><path d="M1032.3 2360.2L1033.8 2361.6"/><path d="M1156.9 2331.4L1156.9 2324.4"/><path d="M1156.9 2324.4L1156.9 2317.4"/><path d="M1156.9 2317.4L1157.0 2310.4"/><path d="M1157.0 2310.4L1157.0 2303.4"/><path d="M1188.4 2360.0L1189.8 2358.5"/></g><g stroke="#eda994"><path d="M767.4 2360.9L767.9 2355.0"/><path d="M771.2 2355.0L771.7 2360.9"/><path d="M787.5 2331.0L787.5 2324.0"/><path d="M787.5 2324.0L787.5 2317.1"/><path d="M787.5 2317.1L787.6 2310.1"/><path d="M787.6 2310.1L787.6 2303.1"/><path d="M787.6 2303.1L787.6 2296.1"/><path d="M813.2 2348.5L813.3 2341.6"/><path d="M846.3 2264.9L846.4 2258.0"/><path d="M846.4 2258.0L846.4 2251.1"/><path d="M846.4 2251.1L846.4 2244.1"/><path d="M846.4 2244.1L846.4 2237.2"/><path d="M846.4 2237.2L846.4 2230.3"/><path d="M846.4 2230.3L846.5 2223.4"/><path d="M866.2 2332.6L867.6 2332.6"/><path d="M876.9 2347.6L877.3 2341.3"/><path d="M893.4 2360.5L894.8 2360.7"/><path d="M917.8 2359.7L919.2 2360.6"/><path d="M1028.3 2353.9L1028.5 2347.7"/><path d="M1032.1 2353.9L1032.3 2360.2"/><path d="M1040.9 2360.8L1041.3 2355.3"/><path d="M1044.8 2355.3L1045.2 2360.8"/><path d="M1053.8 2349.1L1055.2 2343.4"/><path d="M1055.2 2343.4L1055.3 2336.5"/><path d="M1076.7 2360.7L1078.1 2361.6"/><path d="M1157.0 2303.4L1157.0 2296.4"/><path d="M1157.0 2296.4L1157.0 2289.4"/><path d="M1157.0 2289.4L1157.0 2282.4"/><path d="M1157.0 2282.4L1157.1 2275.4"/><path d="M1157.1 2275.4L1157.1 2268.4"/></g><g stroke="#eaa589"><path d="M783.2 2360.4L783.4 2354.0"/><path d="M787.6 2296.1L787.6 2289.2"/><path d="M787.6 2289.2L787.7 2282.2"/><path d="M787.7 2282.2L787.7 2275.2"/><path d="M787.7 2275.2L787.7 2268.2"/><path d="M787.7 2268.2L787.7 2261.3"/><path d="M792.2 2351.2L792.7 2356.4"/><path d="M813.3 2341.6L813.3 2334.7"/><path d="M813.3 2334.7L813.3 2327.8"/><path d="M813.3 2327.8L813.3 2320.9"/><path d="M846.5 2223.4L846.5 2216.4"/><path d="M846.5 2216.4L846.5 2209.5"/><path d="M846.5 2209.5L846.5 2202.6"/><path d="M846.5 2202.6L846.5 2195.7"/><path d="M846.5 2195.7L846.5 2188.8"/><path d="M846.5 2188.8L846.6 2181.8"/><path d="M877.3 2341.3L877.7 2335.0"/><path d="M879.5 2341.0L879.8 2347.2"/><path d="M879.8 2347.2L880.2 2353.5"/><path d="M880.2 2353.5L880.5 2359.7"/><path d="M912.0 2355.4L912.2 2349.0"/><path d="M1003.2 2356.4L1003.7 2361.1"/><path d="M1055.3 2336.5L1055.3 2329.5"/><path d="M1157.1 2268.4L1157.1 2261.4"/><path d="M1157.1 2261.4L1157.1 2254.4"/><path d="M1157.1 2254.4L1157.1 2247.4"/><path d="M1157.1 2247.4L1157.2 2240.4"/></g><g stroke="#e7a17d"><path d="M787.0 2339.4L787.4 2344.9"/><path d="M787.7 2261.3L787.7 2254.3"/><path d="M787.7 2254.3L787.8 2247.3"/><path d="M787.8 2247.3L787.8 2240.3"/><path d="M787.8 2240.3L787.8 2233.4"/><path d="M787.8 2233.4L787.8 2226.4"/><path d="M813.3 2320.9L813.4 2314.1"/><path d="M813.4 2314.1L813.4 2307.2"/><path d="M813.4 2307.2L813.4 2300.3"/><path d="M821.8 2360.2L823.2 2359.6"/><path d="M845.4 2347.1L846.2 2341.0"/><path d="M846.6 2181.8L846.6 2174.9"/><path d="M846.6 2174.9L846.6 2168.0"/><path d="M846.6 2168.0L846.6 2161.1"/><path d="M846.6 2161.1L846.6 2154.1"/><path d="M846.6 2154.1L846.6 2147.2"/><path d="M846.6 2147.2L846.7 2140.3"/><path d="M877.7 2335.0L879.1 2334.8"/><path d="M879.1 2334.8L879.5 2341.0"/><path d="M983.6 2361.0L984.1 2355.6"/><path d="M987.5 2355.6L987.9 2361.0"/><path d="M990.8 2361.2L991.5 2355.6"/><path d="M1031.8 2347.7L1032.1 2353.9"/><path d="M1049.5 2360.5L1049.8 2354.3"/><path d="M1055.3 2329.5L1055.4 2322.6"/><path d="M1157.2 2240.4L1157.2 2233.4"/><path d="M1157.2 2233.4L1157.2 2226.4"/><path d="M1157.2 2226.4L1157.2 2219.5"/><path d="M1157.2 2219.5L1157.2 2212.5"/><path d="M1157.2 2212.5L1157.3 2205.5"/><path d="M1192.7 2359.1L1194.1 2360.6"/></g><g stroke="#e29b70"><path d="M701.5 2358.0L703.0 2358.0"/><path d="M703.0 2358.0L704.4 2361.4"/><path d="M776.0 2360.9L776.5 2354.7"/><path d="M779.8 2354.7L780.3 2360.9"/><path d="M787.8 2226.4L787.9 2219.4"/><path d="M787.9 2219.4L787.9 2212.5"/><path d="M787.9 2212.5L787.9 2205.5"/><path d="M787.9 2205.5L787.9 2198.5"/><path d="M787.9 2198.5L788.0 2191.5"/><path d="M813.4 2300.3L813.4 2293.4"/><path d="M813.4 2293.4L813.5 2286.5"/><path d="M813.5 2286.5L813.5 2279.6"/><path d="M821.6 2354.0L821.8 2360.2"/><path d="M846.7 2140.3L846.7 2133.4"/><path d="M846.7 2133.4L846.7 2126.5"/><path d="M846.7 2126.5L846.7 2119.5"/><path d="M846.7 2119.5L846.7 2112.6"/><path d="M846.7 2112.6L846.7 2105.7"/><path d="M846.7 2105.7L846.8 2098.8"/><path d="M880.5 2359.7L881.2 2353.6"/><path d="M963.6 2361.1L964.3 2354.3"/><path d="M967.2 2354.3L967.9 2361.1"/><path d="M995.1 2360.5L995.6 2354.4"/><path d="M1028.5 2347.7L1028.7 2341.4"/><path d="M1053.3 2342.5L1053.8 2349.1"/><path d="M1055.4 2322.6L1055.5 2315.7"/><path d="M1072.4 2360.7L1072.8 2354.5"/><path d="M1076.4 2354.5L1076.7 2360.7"/><path d="M1157.3 2205.5L1157.3 2198.5"/><path d="M1157.3 2198.5L1157.3 2191.5"/><path d="M1157.3 2191.5L1157.3 2184.5"/><path d="M1157.3 2184.5L1157.3 2177.5"/><path d="M1157.3 2177.5L1157.4 2170.5"/><path d="M1189.8 2358.5L1191.3 2358.0"/><path d="M1191.3 2358.0L1192.7 2359.1"/><path d="M1217.0 2360.0L1218.5 2357.4"/></g><g stroke="#dd9764"><path d="M783.4 2354.0L783.7 2347.6"/><path d="M788.0 2191.5L788.0 2184.6"/><path d="M788.0 2184.6L788.0 2177.6"/><path d="M788.0 2177.6L788.0 2170.6"/><path d="M788.0 2170.6L788.0 2163.6"/><path d="M788.0 2163.6L788.1 2156.7"/><path d="M791.7 2346.1L792.2 2351.2"/><path d="M813.5 2279.6L813.5 2272.7"/><path d="M813.5 2272.7L813.5 2265.8"/><path d="M813.5 2265.8L813.6 2258.9"/><path d="M834.7 2360.3L836.1 2354.7"/><path d="M846.8 2098.8L846.8 2091.9"/><path d="M846.8 2091.9L846.8 2084.9"/><path d="M846.8 2084.9L846.8 2078.0"/><path d="M846.8 2078.0L846.8 2071.1"/><path d="M846.8 2071.1L846.9 2064.2"/><path d="M846.9 2064.2L846.9 2057.2"/><path d="M912.2 2349.0L912.4 2342.7"/><path d="M994.4 2355.3L995.1 2360.5"/><path d="M998.9 2354.3L999.4 2360.4"/><path d="M1031.6 2341.4L1031.8 2347.7"/><path d="M1041.3 2355.3L1041.6 2349.7"/><path d="M1044.5 2349.7L1044.8 2355.3"/><path d="M1055.5 2315.7L1055.5 2308.7"/><path d="M1157.4 2170.5L1157.4 2163.5"/><path d="M1157.4 2163.5L1157.4 2156.5"/><path d="M1157.4 2156.5L1157.4 2149.5"/><path d="M1157.4 2149.5L1157.4 2142.5"/><path d="M1157.4 2142.5L1157.5 2135.5"/><path d="M1348.8 2359.3L1350.2 2354.6"/></g><g stroke="#d69558"><path d="M758.8 2356.7L758.9 2349.8"/><path d="M767.9 2355.0L768.4 2349.1"/><path d="M770.7 2349.1L771.2 2355.0"/><path d="M788.1 2156.7L788.1 2149.7"/><path d="M788.1 2149.7L788.1 2142.7"/><path d="M788.1 2142.7L788.1 2135.7"/><path d="M788.1 2135.7L788.2 2128.8"/><path d="M788.2 2128.8L788.2 2121.8"/><path d="M813.6 2258.9L813.6 2252.0"/><path d="M813.6 2252.0L813.6 2245.2"/><path d="M813.6 2245.2L813.7 2238.3"/><path d="M846.9 2057.2L846.9 2050.3"/><path d="M846.9 2050.3L846.9 2043.4"/><path d="M846.9 2043.4L846.9 2036.5"/><path d="M846.9 2036.5L846.9 2029.6"/><path d="M846.9 2029.6L847.0 2022.6"/><path d="M847.0 2022.6L847.0 2015.7"/><path d="M897.7 2359.4L899.1 2358.1"/><path d="M999.4 2360.4L1000.1 2353.7"/><path d="M1028.7 2341.4L1029.0 2335.1"/><path d="M1049.8 2354.3L1050.1 2348.2"/><path d="M1055.5 2308.7L1055.6 2301.8"/><path d="M1157.5 2135.5L1157.5 2128.5"/><path d="M1157.5 2128.5L1157.5 2121.5"/><path d="M1157.5 2121.5L1157.5 2114.5"/><path d="M1157.5 2114.5L1157.5 2107.5"/><path d="M1157.5 2107.5L1157.6 2100.6"/><path d="M1216.8 2354.2L1217.0 2360.0"/></g><g stroke="#ce934d"><path d="M758.9 2349.8L759.0 2343.0"/><path d="M786.5 2333.9L787.0 2339.4"/><path d="M788.2 2121.8L788.2 2114.8"/><path d="M788.2 2114.8L788.2 2107.9"/><path d="M788.2 2107.9L788.3 2100.9"/><path d="M788.3 2100.9L788.3 2093.9"/><path d="M788.3 2093.9L788.3 2086.9"/><path d="M791.6 2290.2L791.6 2297.1"/><path d="M791.6 2297.1L791.6 2304.1"/><path d="M791.6 2304.1L791.6 2311.1"/><path d="M791.6 2311.1L791.7 2318.1"/><path d="M791.7 2318.1L791.7 2325.1"/><path d="M791.7 2325.1L791.7 2332.1"/><path d="M791.7 2332.1L791.7 2339.1"/><path d="M791.7 2339.1L791.7 2346.1"/><path d="M813.7 2238.3L813.7 2231.4"/><path d="M813.7 2231.4L813.7 2224.5"/><path d="M813.7 2224.5L813.7 2217.6"/><path d="M817.5 2333.2L817.5 2340.2"/><path d="M817.5 2340.2L817.5 2347.2"/><path d="M821.3 2347.8L821.6 2354.0"/><path d="M830.4 2360.3L830.6 2354.4"/><path d="M834.5 2354.4L834.7 2360.3"/><path d="M847.0 2015.7L847.0 2008.8"/><path d="M847.0 2008.8L847.0 2001.9"/><path d="M847.0 2001.9L847.0 1994.9"/><path d="M847.0 1994.9L847.0 1988.0"/><path d="M847.0 1988.0L847.1 1981.1"/><path d="M847.1 1981.1L847.1 1974.2"/><path d="M859.0 2351.5L859.1 2344.7"/><path d="M859.1 2344.7L859.1 2337.8"/><path d="M859.1 2337.8L859.2 2331.0"/><path d="M859.2 2331.0L859.2 2324.1"/><path d="M859.2 2324.1L859.2 2317.3"/><path d="M863.2 2317.3L863.2 2324.1"/><path d="M863.2 2324.1L863.2 2331.0"/><path d="M863.2 2331.0L863.3 2337.8"/><path d="M863.3 2337.8L863.3 2344.6"/><path d="M863.3 2344.6L863.3 2351.5"/><path d="M863.3 2351.5L864.8 2360.4"/><path d="M892.0 2360.0L893.4 2360.5"/><path d="M916.3 2355.4L917.8 2359.7"/><path d="M1031.4 2335.1L1031.6 2341.4"/><path d="M1055.6 2301.8L1055.6 2294.9"/><path d="M1157.6 2100.6L1157.6 2093.6"/><path d="M1157.6 2093.6L1157.6 2086.6"/><path d="M1157.6 2086.6L1157.6 2079.6"/><path d="M1157.6 2079.6L1157.6 2072.6"/><path d="M1157.6 2072.6L1157.6 2065.6"/></g><g stroke="#c59144"><path d="M737.3 2359.9L738.8 2358.7"/><path d="M741.6 2359.8L743.1 2360.9"/><path d="M759.0 2343.0L759.0 2336.2"/><path d="M783.7 2347.6L784.0 2341.2"/><path d="M788.3 2086.9L788.3 2080.0"/><path d="M788.3 2080.0L788.3 2073.0"/><path d="M788.3 2073.0L788.4 2066.0"/><path d="M788.4 2066.0L788.4 2059.0"/><path d="M788.4 2059.0L788.4 2052.1"/><path d="M791.3 2213.2L791.3 2220.2"/><path d="M791.3 2220.2L791.4 2227.2"/><path d="M791.4 2227.2L791.4 2234.2"/><path d="M791.4 2234.2L791.4 2241.2"/><path d="M791.4 2241.2L791.4 2248.2"/><path d="M791.4 2248.2L791.4 2255.2"/><path d="M791.4 2255.2L791.5 2262.2"/><path d="M791.5 2262.2L791.5 2269.2"/><path d="M791.5 2269.2L791.5 2276.2"/><path d="M791.5 2276.2L791.5 2283.2"/><path d="M791.5 2283.2L791.6 2290.2"/><path d="M813.7 2217.6L813.8 2210.7"/><path d="M813.8 2210.7L813.8 2203.8"/><path d="M813.8 2203.8L813.8 2196.9"/><path d="M817.3 2298.2L817.4 2305.2"/><path d="M817.4 2305.2L817.4 2312.2"/><path d="M817.4 2312.2L817.4 2319.2"/><path d="M817.4 2319.2L817.4 2326.2"/><path d="M817.4 2326.2L817.5 2333.2"/><path d="M817.5 2347.2L817.9 2341.1"/><path d="M847.1 1974.2L847.1 1967.3"/><path d="M847.1 1967.3L847.1 1960.3"/><path d="M847.1 1960.3L847.1 1953.4"/><path d="M847.1 1953.4L847.1 1946.5"/><path d="M847.1 1946.5L847.2 1939.6"/><path d="M847.2 1939.6L847.2 1932.6"/><path d="M850.2 2244.9L850.2 2251.8"/><path d="M850.2 2251.8L850.3 2258.8"/><path d="M850.3 2258.8L850.3 2265.7"/><path d="M850.3 2265.7L850.3 2272.6"/><path d="M850.3 2272.6L850.3 2279.6"/><path d="M850.3 2279.6L850.3 2286.5"/><path d="M850.3 2286.5L850.4 2293.4"/><path d="M850.4 2293.4L850.4 2300.4"/><path d="M850.4 2300.4L850.4 2307.3"/><path d="M850.4 2307.3L850.4 2314.2"/><path d="M850.4 2314.2L850.4 2321.2"/><path d="M850.4 2321.2L850.4 2328.1"/><path d="M850.4 2328.1L850.5 2335.0"/><path d="M850.5 2335.0L850.5 2328.2"/><path d="M850.5 2328.2L850.6 2321.5"/><path d="M859.2 2317.3L859.3 2310.5"/><path d="M859.3 2310.5L859.3 2303.6"/><path d="M859.3 2303.6L859.3 2296.8"/><path d="M859.3 2296.8L859.4 2289.9"/><path d="M859.4 2289.9L859.4 2283.1"/><path d="M863.0 2283.1L863.0 2289.9"/><path d="M863.0 2289.9L863.1 2296.7"/><path d="M863.1 2296.7L863.1 2303.6"/><path d="M863.1 2303.6L863.1 2310.4"/><path d="M863.1 2310.4L863.2 2317.3"/><path d="M881.2 2353.6L882.0 2347.6"/><path d="M902.0 2359.2L903.4 2360.4"/><path d="M912.4 2342.7L912.5 2336.3"/><path d="M916.2 2349.0L916.3 2355.4"/><path d="M1055.6 2294.9L1055.7 2288.0"/><path d="M1157.6 2065.6L1157.7 2058.6"/><path d="M1157.7 2058.6L1157.7 2051.6"/><path d="M1157.7 2051.6L1157.7 2044.6"/><path d="M1157.7 2044.6L1157.7 2037.6"/><path d="M1157.7 2037.6L1157.7 2030.6"/><path d="M1174.1 2360.2L1174.3 2353.7"/><path d="M1198.4 2356.8L1198.5 2350.0"/><path d="M1198.5 2350.0L1198.6 2343.2"/><path d="M1356.0 2358.2L1357.4 2360.8"/></g><g stroke="#bc903b"><path d="M759.0 2336.2L759.1 2329.3"/><path d="M788.4 2052.1L788.4 2045.1"/><path d="M788.4 2045.1L788.5 2038.1"/><path d="M788.5 2038.1L788.5 2031.1"/><path d="M788.5 2031.1L788.5 2024.2"/><path d="M788.5 2024.2L788.5 2017.2"/><path d="M791.1 2136.3L791.1 2143.3"/><path d="M791.1 2143.3L791.1 2150.3"/><path d="M791.1 2150.3L791.1 2157.3"/><path d="M791.1 2157.3L791.1 2164.3"/><path d="M791.1 2164.3L791.2 2171.3"/><path d="M791.2 2171.3L791.2 2178.3"/><path d="M791.2 2178.3L791.2 2185.3"/><path d="M791.2 2185.3L791.2 2192.3"/><path d="M791.2 2192.3L791.3 2199.3"/><path d="M791.3 2199.3L791.3 2206.3"/><path d="M791.3 2206.3L791.3 2213.2"/><path d="M813.8 2196.9L813.8 2190.0"/><path d="M813.8 2190.0L813.9 2183.1"/><path d="M813.9 2183.1L813.9 2176.2"/><path d="M817.2 2263.2L817.2 2270.2"/><path d="M817.2 2270.2L817.2 2277.2"/><path d="M817.2 2277.2L817.3 2284.2"/><path d="M817.3 2284.2L817.3 2291.2"/><path d="M817.3 2291.2L817.3 2298.2"/><path d="M821.1 2341.6L821.3 2347.8"/><path d="M847.2 1932.6L847.2 1925.7"/><path d="M847.2 1925.7L847.2 1918.8"/><path d="M847.2 1918.8L847.2 1911.9"/><path d="M847.2 1911.9L847.2 1905.0"/><path d="M847.2 1905.0L847.3 1898.0"/><path d="M847.3 1898.0L847.3 1891.1"/><path d="M849.9 2127.0L849.9 2134.0"/><path d="M849.9 2134.0L850.0 2140.9"/><path d="M850.0 2140.9L850.0 2147.8"/><path d="M850.0 2147.8L850.0 2154.8"/><path d="M850.0 2154.8L850.0 2161.7"/><path d="M850.0 2161.7L850.0 2168.6"/><path d="M850.0 2168.6L850.1 2175.6"/><path d="M850.1 2175.6L850.1 2182.5"/><path d="M850.1 2182.5L850.1 2189.4"/><path d="M850.1 2189.4L850.1 2196.4"/><path d="M850.1 2196.4L850.1 2203.3"/><path d="M850.1 2203.3L850.1 2210.2"/><path d="M850.1 2210.2L850.2 2217.2"/><path d="M850.2 2217.2L850.2 2224.1"/><path d="M850.2 2224.1L850.2 2231.0"/><path d="M850.2 2231.0L850.2 2238.0"/><path d="M850.2 2238.0L850.2 2244.9"/><path d="M850.6 2321.5L850.7 2314.7"/><path d="M850.7 2314.7L850.7 2307.9"/><path d="M859.4 2283.1L859.4 2276.2"/><path d="M859.4 2276.2L859.5 2269.4"/><path d="M859.5 2269.4L859.5 2262.6"/><path d="M859.5 2262.6L859.5 2255.7"/><path d="M859.5 2255.7L859.6 2248.9"/><path d="M862.8 2248.9L862.9 2255.7"/><path d="M862.9 2255.7L862.9 2262.5"/><path d="M862.9 2262.5L862.9 2269.4"/><path d="M862.9 2269.4L863.0 2276.2"/><path d="M863.0 2276.2L863.0 2283.1"/><path d="M1029.0 2335.1L1029.2 2328.8"/><path d="M1031.1 2328.8L1031.4 2335.1"/><path d="M1055.7 2288.0L1055.7 2281.0"/><path d="M1055.7 2281.0L1055.8 2274.1"/><path d="M1157.7 2030.6L1157.8 2023.6"/><path d="M1157.8 2023.6L1157.8 2016.6"/><path d="M1157.8 2016.6L1157.8 2009.6"/><path d="M1157.8 2009.6L1157.8 2002.6"/><path d="M1157.8 2002.6L1157.8 1995.6"/><path d="M1198.6 2343.2L1198.6 2336.5"/></g><g stroke="#b28e35"><path d="M759.1 2329.3L759.2 2322.5"/><path d="M784.0 2341.2L784.3 2334.8"/><path d="M788.5 2017.2L788.6 2010.2"/><path d="M788.6 2010.2L788.6 2003.3"/><path d="M788.6 2003.3L788.6 1996.3"/><path d="M788.6 1996.3L788.6 1989.3"/><path d="M788.6 1989.3L788.6 1982.3"/><path d="M790.8 2066.4L790.8 2073.4"/><path d="M790.8 2073.4L790.9 2080.4"/><path d="M790.9 2080.4L790.9 2087.4"/><path d="M790.9 2087.4L790.9 2094.4"/><path d="M790.9 2094.4L790.9 2101.4"/><path d="M790.9 2101.4L791.0 2108.4"/><path d="M791.0 2108.4L791.0 2115.4"/><path d="M791.0 2115.4L791.0 2122.4"/><path d="M791.0 2122.4L791.0 2129.3"/><path d="M791.0 2129.3L791.1 2136.3"/><path d="M813.9 2176.2L813.9 2169.4"/><path d="M813.9 2169.4L814.0 2162.5"/><path d="M814.0 2162.5L814.0 2155.6"/><path d="M817.1 2235.2L817.1 2242.2"/><path d="M817.1 2242.2L817.1 2249.2"/><path d="M817.1 2249.2L817.2 2256.2"/><path d="M817.2 2256.2L817.2 2263.2"/><path d="M830.6 2354.4L830.9 2348.5"/><path d="M834.2 2348.5L834.5 2354.4"/><path d="M847.3 1891.1L847.3 1884.2"/><path d="M847.3 1884.2L847.3 1877.3"/><path d="M847.3 1877.3L847.3 1870.3"/><path d="M847.3 1870.3L847.4 1863.4"/><path d="M847.4 1863.4L847.4 1856.5"/><path d="M847.4 1856.5L847.4 1849.6"/><path d="M849.6 2009.2L849.7 2016.1"/><path d="M849.7 2016.1L849.7 2023.0"/><path d="M849.7 2023.0L849.7 2030.0"/><path d="M849.7 2030.0L849.7 2036.9"/><path d="M849.7 2036.9L849.7 2043.8"/><path d="M849.7 2043.8L849.7 2050.8"/><path d="M849.7 2050.8L849.8 2057.7"/><path d="M849.8 2057.7L849.8 2064.6"/><path d="M849.8 2064.6L849.8 2071.6"/><path d="M849.8 2071.6L849.8 2078.5"/><path d="M849.8 2078.5L849.8 2085.4"/><path d="M849.8 2085.4L849.8 2092.4"/><path d="M849.8 2092.4L849.9 2099.3"/><path d="M849.9 2099.3L849.9 2106.2"/><path d="M849.9 2106.2L849.9 2113.2"/><path d="M849.9 2113.2L849.9 2120.1"/><path d="M849.9 2120.1L849.9 2127.0"/><path d="M850.7 2307.9L850.8 2301.1"/><path d="M850.8 2301.1L850.8 2294.3"/><path d="M859.6 2248.9L859.6 2242.0"/><path d="M859.6 2242.0L859.6 2235.2"/><path d="M859.6 2235.2L859.7 2228.4"/><path d="M859.7 2228.4L859.7 2221.5"/><path d="M859.7 2221.5L859.7 2214.7"/><path d="M862.6 2214.7L862.7 2221.5"/><path d="M862.7 2221.5L862.7 2228.3"/><path d="M862.7 2228.3L862.8 2235.2"/><path d="M862.8 2235.2L862.8 2242.0"/><path d="M862.8 2242.0L862.8 2248.9"/><path d="M1002.7 2351.7L1003.2 2356.4"/><path d="M1041.6 2349.7L1042.0 2344.2"/><path d="M1044.1 2344.2L1044.5 2349.7"/><path d="M1050.1 2348.2L1050.4 2342.0"/><path d="M1052.8 2335.9L1053.3 2342.5"/><path d="M1055.8 2274.1L1055.8 2267.2"/><path d="M1072.8 2354.5L1073.1 2348.4"/><path d="M1076.0 2348.4L1076.4 2354.5"/><path d="M1157.8 1995.6L1157.9 1988.7"/><path d="M1157.9 1988.7L1157.9 1981.7"/><path d="M1157.9 1981.7L1157.9 1974.7"/><path d="M1157.9 1974.7L1157.9 1967.7"/><path d="M1157.9 1967.7L1157.9 1960.7"/><path d="M1198.6 2336.5L1198.7 2329.7"/><path d="M1216.5 2348.5L1216.8 2354.2"/></g><g stroke="#a78d2e"><path d="M759.2 2322.5L759.2 2315.7"/><path d="M788.6 1982.3L788.7 1975.4"/><path d="M788.7 1975.4L788.7 1968.4"/><path d="M788.7 1968.4L788.7 1961.4"/><path d="M788.7 1961.4L788.7 1954.4"/><path d="M788.7 1954.4L788.8 1947.5"/><path d="M790.6 1989.5L790.6 1996.5"/><path d="M790.6 1996.5L790.6 2003.5"/><path d="M790.6 2003.5L790.6 2010.5"/><path d="M790.6 2010.5L790.7 2017.5"/><path d="M790.7 2017.5L790.7 2024.5"/><path d="M790.7 2024.5L790.7 2031.5"/><path d="M790.7 2031.5L790.7 2038.5"/><path d="M790.7 2038.5L790.8 2045.4"/><path d="M790.8 2045.4L790.8 2052.4"/><path d="M790.8 2052.4L790.8 2059.4"/><path d="M790.8 2059.4L790.8 2066.4"/><path d="M814.0 2155.6L814.0 2148.7"/><path d="M814.0 2148.7L814.0 2141.8"/><path d="M814.0 2141.8L814.1 2134.9"/><path d="M814.1 2134.9L814.1 2128.0"/><path d="M816.9 2200.2L817.0 2207.2"/><path d="M817.0 2207.2L817.0 2214.2"/><path d="M817.0 2214.2L817.0 2221.2"/><path d="M817.0 2221.2L817.1 2228.2"/><path d="M817.1 2228.2L817.1 2235.2"/><path d="M817.9 2341.1L818.2 2335.0"/><path d="M847.4 1849.6L847.4 1842.7"/><path d="M847.4 1842.7L847.4 1835.7"/><path d="M847.4 1835.7L847.4 1828.8"/><path d="M847.4 1828.8L847.5 1821.9"/><path d="M847.5 1821.9L847.5 1815.0"/><path d="M847.5 1815.0L847.5 1808.0"/><path d="M849.3 1891.3L849.4 1898.2"/><path d="M849.4 1898.2L849.4 1905.2"/><path d="M849.4 1905.2L849.4 1912.1"/><path d="M849.4 1912.1L849.4 1919.0"/><path d="M849.4 1919.0L849.4 1926.0"/><path d="M849.4 1926.0L849.4 1932.9"/><path d="M849.4 1932.9L849.5 1939.8"/><path d="M849.5 1939.8L849.5 1946.8"/><path d="M849.5 1946.8L849.5 1953.7"/><path d="M849.5 1953.7L849.5 1960.6"/><path d="M849.5 1960.6L849.5 1967.6"/><path d="M849.5 1967.6L849.5 1974.5"/><path d="M849.5 1974.5L849.6 1981.4"/><path d="M849.6 1981.4L849.6 1988.4"/><path d="M849.6 1988.4L849.6 1995.3"/><path d="M849.6 1995.3L849.6 2002.2"/><path d="M849.6 2002.2L849.6 2009.2"/><path d="M850.8 2294.3L850.9 2287.6"/><path d="M850.9 2287.6L851.0 2280.8"/><path d="M859.7 2214.7L859.8 2207.8"/><path d="M859.8 2207.8L859.8 2201.0"/><path d="M859.8 2201.0L859.9 2194.1"/><path d="M859.9 2194.1L859.9 2187.3"/><path d="M859.9 2187.3L859.9 2180.5"/><path d="M859.9 2180.5L860.0 2173.6"/><path d="M862.4 2173.6L862.5 2180.5"/><path d="M862.5 2180.5L862.5 2187.3"/><path d="M862.5 2187.3L862.5 2194.1"/><path d="M862.5 2194.1L862.6 2201.0"/><path d="M862.6 2201.0L862.6 2207.8"/><path d="M862.6 2207.8L862.6 2214.7"/><path d="M882.0 2347.6L882.0 2340.7"/><path d="M882.0 2340.7L882.0 2333.8"/><path d="M882.0 2333.8L882.0 2327.0"/><path d="M882.0 2327.0L882.1 2320.1"/><path d="M882.1 2320.1L882.1 2313.2"/><path d="M882.1 2313.2L882.1 2306.4"/><path d="M882.1 2306.4L882.2 2299.5"/><path d="M882.2 2299.5L882.2 2292.6"/><path d="M882.2 2292.6L882.2 2285.8"/><path d="M882.2 2285.8L882.2 2278.9"/><path d="M882.2 2278.9L882.3 2272.0"/><path d="M882.3 2272.0L882.3 2265.2"/><path d="M882.3 2265.2L882.3 2258.3"/><path d="M882.3 2258.3L882.4 2251.4"/><path d="M882.4 2251.4L882.4 2244.6"/><path d="M882.4 2244.6L882.4 2237.7"/><path d="M882.4 2237.7L882.4 2230.8"/><path d="M882.4 2230.8L882.5 2224.0"/><path d="M882.5 2224.0L882.5 2217.1"/><path d="M882.5 2217.1L882.5 2210.2"/><path d="M882.5 2210.2L882.5 2203.4"/><path d="M882.5 2203.4L882.6 2196.5"/><path d="M882.6 2196.5L882.6 2189.6"/><path d="M882.6 2189.6L882.6 2182.8"/><path d="M912.5 2336.3L912.7 2329.9"/><path d="M916.0 2342.7L916.2 2349.0"/><path d="M984.1 2355.6L984.6 2350.2"/><path d="M987.0 2350.2L987.5 2355.6"/><path d="M1029.2 2328.8L1029.5 2322.5"/><path d="M1030.9 2322.5L1031.1 2328.8"/><path d="M1055.8 2267.2L1055.9 2260.2"/><path d="M1157.9 1960.7L1158.0 1953.7"/><path d="M1158.0 1953.7L1158.0 1946.7"/><path d="M1158.0 1946.7L1158.0 1939.7"/><path d="M1158.0 1939.7L1158.0 1932.7"/><path d="M1158.0 1932.7L1158.0 1925.7"/><path d="M1174.3 2353.7L1174.6 2347.2"/><path d="M1198.7 2329.7L1198.8 2322.9"/><path d="M1198.8 2322.9L1198.9 2316.1"/></g><g stroke="#9b8a29"><path d="M759.2 2315.7L759.3 2308.9"/><path d="M763.1 2356.7L764.5 2361.5"/><path d="M768.4 2349.1L768.8 2343.2"/><path d="M770.3 2343.2L770.7 2349.1"/><path d="M786.0 2328.4L786.5 2333.9"/><path d="M788.8 1947.5L788.8 1940.5"/><path d="M788.8 1940.5L788.8 1933.5"/><path d="M788.8 1933.5L788.8 1926.5"/><path d="M788.8 1926.5L788.9 1919.6"/><path d="M788.9 1919.6L788.9 1912.6"/><path d="M790.3 1919.6L790.4 1926.6"/><path d="M790.4 1926.6L790.4 1933.6"/><path d="M790.4 1933.6L790.4 1940.6"/><path d="M790.4 1940.6L790.4 1947.6"/><path d="M790.4 1947.6L790.5 1954.6"/><path d="M790.5 1954.6L790.5 1961.5"/><path d="M790.5 1961.5L790.5 1968.5"/><path d="M790.5 1968.5L790.5 1975.5"/><path d="M790.5 1975.5L790.5 1982.5"/><path d="M790.5 1982.5L790.6 1989.5"/><path d="M814.1 2128.0L814.1 2121.1"/><path d="M814.1 2121.1L814.1 2114.2"/><path d="M814.1 2114.2L814.2 2107.3"/><path d="M816.8 2172.2L816.9 2179.2"/><path d="M816.9 2179.2L816.9 2186.2"/><path d="M816.9 2186.2L816.9 2193.2"/><path d="M816.9 2193.2L816.9 2200.2"/><path d="M820.9 2335.3L821.1 2341.6"/><path d="M847.5 1808.0L847.5 1801.1"/><path d="M847.5 1801.1L847.5 1794.2"/><path d="M847.5 1794.2L847.5 1787.3"/><path d="M847.5 1787.3L847.6 1780.4"/><path d="M847.6 1780.4L847.6 1773.4"/><path d="M847.6 1773.4L847.6 1766.5"/><path d="M849.0 1773.4L849.1 1780.4"/><path d="M849.1 1780.4L849.1 1787.3"/><path d="M849.1 1787.3L849.1 1794.2"/><path d="M849.1 1794.2L849.1 1801.2"/><path d="M849.1 1801.2L849.1 1808.1"/><path d="M849.1 1808.1L849.1 1815.0"/><path d="M849.1 1815.0L849.2 1822.0"/><path d="M849.2 1822.0L849.2 1828.9"/><path d="M849.2 1828.9L849.2 1835.8"/><path d="M849.2 1835.8L849.2 1842.8"/><path d="M849.2 1842.8L849.2 1849.7"/><path d="M849.2 1849.7L849.3 1856.6"/><path d="M849.3 1856.6L849.3 1863.6"/><path d="M849.3 1863.6L849.3 1870.5"/><path d="M849.3 1870.5L849.3 1877.4"/><path d="M849.3 1877.4L849.3 1884.4"/><path d="M849.3 1884.4L849.3 1891.3"/><path d="M851.0 2280.8L851.0 2274.0"/><path d="M851.0 2274.0L851.1 2267.2"/><path d="M860.0 2173.6L860.0 2166.8"/><path d="M860.0 2166.8L860.0 2159.9"/><path d="M860.0 2159.9L860.1 2153.1"/><path d="M860.1 2153.1L860.1 2146.3"/><path d="M860.1 2146.3L860.1 2139.4"/><path d="M862.3 2139.4L862.3 2146.2"/><path d="M862.3 2146.2L862.3 2153.1"/><path d="M862.3 2153.1L862.4 2159.9"/><path d="M862.4 2159.9L862.4 2166.8"/><path d="M862.4 2166.8L862.4 2173.6"/><path d="M882.6 2182.8L882.7 2175.9"/><path d="M882.7 2175.9L882.7 2169.0"/><path d="M882.7 2169.0L882.7 2162.2"/><path d="M882.7 2162.2L882.7 2155.3"/><path d="M882.7 2155.3L882.8 2148.4"/><path d="M882.8 2148.4L882.8 2141.6"/><path d="M882.8 2141.6L882.8 2134.7"/><path d="M882.8 2134.7L882.9 2127.8"/><path d="M882.9 2127.8L882.9 2121.0"/><path d="M882.9 2121.0L882.9 2114.1"/><path d="M882.9 2114.1L882.9 2107.2"/><path d="M882.9 2107.2L883.0 2100.4"/><path d="M883.0 2100.4L883.0 2093.5"/><path d="M883.0 2093.5L883.0 2086.6"/><path d="M883.0 2086.6L883.1 2079.8"/><path d="M883.1 2079.8L883.1 2072.9"/><path d="M883.1 2072.9L883.1 2066.0"/><path d="M883.1 2066.0L883.1 2059.2"/><path d="M883.1 2059.2L883.2 2052.3"/><path d="M883.2 2052.3L883.2 2045.4"/><path d="M883.2 2045.4L883.2 2038.6"/><path d="M883.2 2038.6L883.3 2031.7"/><path d="M883.3 2031.7L883.3 2024.8"/><path d="M883.3 2024.8L883.3 2018.0"/><path d="M883.3 2018.0L883.3 2011.1"/><path d="M883.3 2011.1L883.4 2004.2"/><path d="M899.1 2358.1L900.6 2358.0"/><path d="M900.6 2358.0L902.0 2359.2"/><path d="M1055.9 2260.2L1055.9 2253.3"/><path d="M1158.0 1925.7L1158.1 1918.7"/><path d="M1158.1 1918.7L1158.1 1911.7"/><path d="M1158.1 1911.7L1158.1 1904.7"/><path d="M1158.1 1904.7L1158.1 1897.7"/><path d="M1158.1 1897.7L1158.1 1890.7"/><path d="M1198.9 2316.1L1198.9 2309.4"/><path d="M1350.2 2354.6L1351.7 2348.9"/></g><g stroke="#908828"><path d="M759.3 2308.9L759.4 2302.0"/><path d="M763.0 2343.0L763.0 2349.8"/><path d="M763.0 2349.8L763.1 2356.7"/><path d="M776.5 2354.7L776.9 2348.6"/><path d="M779.3 2348.6L779.8 2354.7"/><path d="M784.3 2334.8L784.6 2328.4"/><path d="M788.9 1912.6L790.3 1912.6"/><path d="M790.3 1912.6L790.3 1919.6"/><path d="M807.1 2340.7L807.3 2346.9"/><path d="M807.3 2346.9L807.5 2353.1"/><path d="M807.5 2353.1L807.5 2346.3"/><path d="M807.5 2346.3L807.6 2339.6"/><path d="M807.6 2339.6L807.7 2332.8"/><path d="M807.7 2332.8L807.7 2326.0"/><path d="M807.7 2326.0L807.8 2319.2"/><path d="M807.8 2319.2L807.8 2312.4"/><path d="M807.8 2312.4L807.9 2305.6"/><path d="M807.9 2305.6L807.9 2298.8"/><path d="M811.3 2293.2L811.4 2300.0"/><path d="M811.4 2300.0L811.4 2306.9"/><path d="M811.4 2306.9L811.5 2313.8"/><path d="M811.5 2313.8L811.5 2320.6"/><path d="M811.5 2320.6L811.6 2327.5"/><path d="M811.6 2327.5L811.6 2334.3"/><path d="M811.6 2334.3L811.7 2341.2"/><path d="M811.7 2341.2L811.7 2348.1"/><path d="M811.7 2348.1L811.8 2354.9"/><path d="M811.8 2354.9L813.2 2348.5"/><path d="M814.2 2107.3L814.2 2100.4"/><path d="M814.2 2100.4L814.2 2093.6"/><path d="M814.2 2093.6L814.3 2086.7"/><path d="M816.7 2137.3L816.7 2144.3"/><path d="M816.7 2144.3L816.7 2151.3"/><path d="M816.7 2151.3L816.8 2158.2"/><path d="M816.8 2158.2L816.8 2165.2"/><path d="M816.8 2165.2L816.8 2172.2"/><path d="M844.7 2353.1L845.4 2347.1"/><path d="M847.6 1766.5L849.0 1766.5"/><path d="M849.0 1766.5L849.0 1773.4"/><path d="M851.1 2267.2L851.2 2260.5"/><path d="M851.2 2260.5L851.2 2253.7"/><path d="M860.1 2139.4L860.2 2132.6"/><path d="M860.2 2132.6L860.2 2125.7"/><path d="M860.2 2125.7L860.2 2118.9"/><path d="M860.2 2118.9L860.3 2112.1"/><path d="M860.3 2112.1L860.3 2105.2"/><path d="M862.1 2105.2L862.1 2112.0"/><path d="M862.1 2112.0L862.2 2118.9"/><path d="M862.2 2118.9L862.2 2125.7"/><path d="M862.2 2125.7L862.2 2132.6"/><path d="M862.2 2132.6L862.3 2139.4"/><path d="M883.4 2004.2L883.4 1997.4"/><path d="M883.4 1997.4L884.8 1991.4"/><path d="M884.8 1991.4L884.9 1998.3"/><path d="M884.9 1998.3L884.9 2005.2"/><path d="M884.9 2005.2L884.9 2012.0"/><path d="M915.9 2336.3L916.0 2342.7"/><path d="M995.6 2354.4L996.0 2348.2"/><path d="M998.4 2348.2L998.9 2354.3"/><path d="M1029.5 2322.5L1030.9 2322.5"/><path d="M1050.4 2342.0L1050.6 2335.9"/><path d="M1055.9 2253.3L1056.0 2246.4"/><path d="M1158.1 1890.7L1158.2 1883.7"/><path d="M1158.2 1883.7L1158.2 1876.8"/><path d="M1158.2 1876.8L1158.2 1869.8"/><path d="M1158.2 1869.8L1158.2 1862.8"/><path d="M1158.2 1862.8L1158.2 1855.8"/><path d="M1162.4 2266.1L1162.4 2273.1"/><path d="M1162.4 2273.1L1162.5 2280.0"/><path d="M1162.5 2280.0L1162.5 2287.0"/><path d="M1162.5 2287.0L1162.5 2293.9"/><path d="M1162.5 2293.9L1162.5 2300.9"/><path d="M1162.5 2300.9L1162.5 2307.8"/><path d="M1162.5 2307.8L1162.6 2314.8"/><path d="M1162.6 2314.8L1162.6 2321.7"/><path d="M1162.6 2321.7L1162.6 2328.7"/><path d="M1162.6 2328.7L1162.6 2335.6"/><path d="M1162.6 2335.6L1162.6 2342.6"/><path d="M1198.9 2309.4L1199.0 2302.6"/></g><g stroke="#87862d"><path d="M759.4 2302.0L759.5 2295.2"/><path d="M762.9 2336.2L763.0 2343.0"/><path d="M768.8 2343.2L770.3 2343.2"/><path d="M784.6 2328.4L786.0 2328.4"/><path d="M797.5 2357.7L797.6 2350.9"/><path d="M797.6 2350.9L797.7 2344.1"/><path d="M797.7 2344.1L797.7 2337.3"/><path d="M804.6 2306.7L806.1 2309.6"/><path d="M806.1 2309.6L806.3 2315.8"/><path d="M806.3 2315.8L806.5 2322.0"/><path d="M806.5 2322.0L806.7 2328.2"/><path d="M806.7 2328.2L806.9 2334.5"/><path d="M806.9 2334.5L807.1 2340.7"/><path d="M807.9 2298.8L808.0 2292.0"/><path d="M808.0 2292.0L808.0 2285.2"/><path d="M808.0 2285.2L808.1 2278.4"/><path d="M808.1 2278.4L808.1 2271.6"/><path d="M808.1 2271.6L808.2 2264.8"/><path d="M808.2 2264.8L808.2 2258.0"/><path d="M808.2 2258.0L808.3 2251.2"/><path d="M808.3 2251.2L808.3 2244.4"/><path d="M808.3 2244.4L808.4 2237.6"/><path d="M808.4 2237.6L808.5 2230.8"/><path d="M808.5 2230.8L808.5 2224.1"/><path d="M808.5 2224.1L808.6 2217.3"/><path d="M808.6 2217.3L808.6 2210.5"/><path d="M808.6 2210.5L808.7 2203.7"/><path d="M808.7 2203.7L808.7 2196.9"/><path d="M808.7 2196.9L808.8 2190.1"/><path d="M808.8 2190.1L808.8 2183.3"/><path d="M808.8 2183.3L808.9 2176.5"/><path d="M808.9 2176.5L808.9 2169.7"/><path d="M808.9 2169.7L810.4 2169.7"/><path d="M810.4 2169.7L810.4 2176.6"/><path d="M810.4 2176.6L810.5 2183.4"/><path d="M810.5 2183.4L810.5 2190.3"/><path d="M810.5 2190.3L810.6 2197.1"/><path d="M810.6 2197.1L810.6 2204.0"/><path d="M810.6 2204.0L810.7 2210.9"/><path d="M810.7 2210.9L810.7 2217.7"/><path d="M810.7 2217.7L810.8 2224.6"/><path d="M810.8 2224.6L810.8 2231.4"/><path d="M810.8 2231.4L810.9 2238.3"/><path d="M810.9 2238.3L810.9 2245.2"/><path d="M810.9 2245.2L811.0 2252.0"/><path d="M811.0 2252.0L811.0 2258.9"/><path d="M811.0 2258.9L811.1 2265.7"/><path d="M811.1 2265.7L811.2 2272.6"/><path d="M811.2 2272.6L811.2 2279.5"/><path d="M811.2 2279.5L811.3 2286.3"/><path d="M811.3 2286.3L811.3 2293.2"/><path d="M814.3 2086.7L814.3 2079.8"/><path d="M814.3 2079.8L814.3 2072.9"/><path d="M814.3 2072.9L814.3 2066.0"/><path d="M816.6 2109.3L816.6 2116.3"/><path d="M816.6 2116.3L816.6 2123.3"/><path d="M816.6 2123.3L816.7 2130.3"/><path d="M816.7 2130.3L816.7 2137.3"/><path d="M818.2 2335.0L818.6 2329.0"/><path d="M827.5 2359.6L829.0 2361.5"/><path d="M830.9 2348.5L831.1 2342.6"/><path d="M834.0 2342.6L834.2 2348.5"/><path d="M851.2 2253.7L851.3 2246.9"/><path d="M851.3 2246.9L851.4 2240.1"/><path d="M860.3 2105.2L860.3 2098.4"/><path d="M860.3 2098.4L860.4 2091.5"/><path d="M860.4 2091.5L860.4 2084.7"/><path d="M860.4 2084.7L860.4 2077.8"/><path d="M860.4 2077.8L860.5 2071.0"/><path d="M860.5 2071.0L861.9 2071.0"/><path d="M861.9 2071.0L861.9 2077.8"/><path d="M861.9 2077.8L862.0 2084.7"/><path d="M862.0 2084.7L862.0 2091.5"/><path d="M862.0 2091.5L862.1 2098.4"/><path d="M862.1 2098.4L862.1 2105.2"/><path d="M884.9 2012.0L885.0 2018.9"/><path d="M885.0 2018.9L885.0 2025.8"/><path d="M885.0 2025.8L885.0 2032.7"/><path d="M912.7 2329.9L912.8 2323.6"/><path d="M1042.0 2344.2L1042.3 2338.7"/><path d="M1043.8 2338.7L1044.1 2344.2"/><path d="M1056.0 2246.4L1056.1 2239.4"/><path d="M1158.2 1855.8L1158.3 1848.8"/><path d="M1158.3 1848.8L1158.3 1841.8"/><path d="M1158.3 1841.8L1158.3 1834.8"/><path d="M1158.3 1834.8L1158.3 1827.8"/><path d="M1158.3 1827.8L1158.3 1820.8"/><path d="M1162.2 2189.6L1162.2 2196.6"/><path d="M1162.2 2196.6L1162.3 2203.5"/><path d="M1162.3 2203.5L1162.3 2210.5"/><path d="M1162.3 2210.5L1162.3 2217.4"/><path d="M1162.3 2217.4L1162.3 2224.4"/><path d="M1162.3 2224.4L1162.3 2231.3"/><path d="M1162.3 2231.3L1162.4 2238.3"/><path d="M1162.4 2238.3L1162.4 2245.2"/><path d="M1162.4 2245.2L1162.4 2252.2"/><path d="M1162.4 2252.2L1162.4 2259.1"/><path d="M1162.4 2259.1L1162.4 2266.1"/><path d="M1162.6 2342.6L1163.1 2347.9"/><path d="M1174.6 2347.2L1174.8 2340.6"/><path d="M1199.0 2302.6L1199.1 2295.8"/><path d="M1199.1 2295.8L1199.1 2289.0"/><path d="M1202.7 2323.6L1204.2 2328.4"/><path d="M1354.5 2352.7L1356.0 2358.2"/></g><g stroke="#7c8432"><path d="M738.8 2358.7L740.2 2358.7"/><path d="M740.2 2358.7L741.6 2359.8"/><path d="M759.5 2295.2L759.5 2288.4"/><path d="M762.7 2322.5L762.8 2329.3"/><path d="M762.8 2329.3L762.9 2336.2"/><path d="M797.7 2337.3L797.8 2330.6"/><path d="M797.8 2330.6L797.9 2323.8"/><path d="M797.9 2323.8L798.0 2317.0"/><path d="M804.3 2300.7L804.6 2306.7"/><path d="M814.3 2066.0L814.4 2059.1"/><path d="M814.4 2059.1L814.4 2052.2"/><path d="M814.4 2052.2L814.4 2045.3"/><path d="M816.4 2074.3L816.5 2081.3"/><path d="M816.5 2081.3L816.5 2088.3"/><path d="M816.5 2088.3L816.5 2095.3"/><path d="M816.5 2095.3L816.6 2102.3"/><path d="M816.6 2102.3L816.6 2109.3"/><path d="M820.6 2329.1L820.9 2335.3"/><path d="M823.2 2359.6L823.4 2352.8"/><path d="M827.4 2352.8L827.5 2359.6"/><path d="M851.4 2240.1L851.4 2233.3"/><path d="M851.4 2233.3L851.5 2226.6"/><path d="M885.0 2032.7L885.1 2039.5"/><path d="M885.1 2039.5L885.1 2046.4"/><path d="M885.1 2046.4L885.1 2053.3"/><path d="M890.6 2358.6L892.0 2360.0"/><path d="M915.7 2329.9L915.9 2336.3"/><path d="M991.5 2355.6L992.2 2350.0"/><path d="M1012.3 2359.6L1013.7 2361.6"/><path d="M1052.4 2329.3L1052.8 2335.9"/><path d="M1056.1 2239.4L1056.1 2232.5"/><path d="M1158.3 1820.8L1158.5 1814.6"/><path d="M1158.5 1814.6L1158.7 1808.3"/><path d="M1162.0 2106.2L1162.0 2113.2"/><path d="M1162.0 2113.2L1162.0 2120.1"/><path d="M1162.0 2120.1L1162.1 2127.1"/><path d="M1162.1 2127.1L1162.1 2134.0"/><path d="M1162.1 2134.0L1162.1 2141.0"/><path d="M1162.1 2141.0L1162.1 2147.9"/><path d="M1162.1 2147.9L1162.1 2154.9"/><path d="M1162.1 2154.9L1162.1 2161.8"/><path d="M1162.1 2161.8L1162.2 2168.8"/><path d="M1162.2 2168.8L1162.2 2175.7"/><path d="M1162.2 2175.7L1162.2 2182.7"/><path d="M1162.2 2182.7L1162.2 2189.6"/><path d="M1199.1 2289.0L1199.2 2282.2"/><path d="M1202.5 2309.8L1202.6 2316.7"/><path d="M1202.6 2316.7L1202.7 2323.6"/><path d="M1204.2 2328.4L1204.5 2335.2"/><path d="M1216.2 2342.7L1216.5 2348.5"/></g><g stroke="#6f8238"><path d="M762.7 2315.7L762.7 2322.5"/><path d="M798.0 2317.0L798.1 2310.2"/><path d="M798.1 2310.2L798.2 2303.5"/><path d="M798.2 2303.5L798.3 2296.7"/><path d="M803.8 2288.6L804.1 2294.6"/><path d="M804.1 2294.6L804.3 2300.7"/><path d="M814.4 2045.3L814.4 2038.4"/><path d="M814.4 2038.4L814.5 2031.5"/><path d="M814.5 2031.5L814.5 2024.6"/><path d="M816.3 2046.3L816.4 2053.3"/><path d="M816.4 2053.3L816.4 2060.3"/><path d="M816.4 2060.3L816.4 2067.3"/><path d="M816.4 2067.3L816.4 2074.3"/><path d="M851.5 2226.6L851.6 2219.8"/><path d="M851.6 2219.8L851.6 2213.0"/><path d="M854.6 2335.1L854.6 2341.9"/><path d="M854.6 2341.9L854.7 2348.7"/><path d="M854.7 2348.7L854.8 2355.5"/><path d="M854.8 2355.5L856.2 2361.5"/><path d="M885.1 2053.3L885.2 2060.2"/><path d="M885.2 2060.2L885.2 2067.0"/><path d="M885.2 2067.0L885.2 2073.9"/><path d="M912.8 2323.6L913.0 2317.2"/><path d="M993.7 2350.0L994.4 2355.3"/><path d="M1000.1 2353.7L1000.8 2347.0"/><path d="M1008.0 2359.6L1008.1 2353.3"/><path d="M1012.1 2353.3L1012.3 2359.6"/><path d="M1042.3 2338.7L1043.8 2338.7"/><path d="M1056.1 2232.5L1056.2 2225.6"/><path d="M1158.7 1808.3L1158.9 1802.1"/><path d="M1161.8 2022.8L1161.8 2029.8"/><path d="M1161.8 2029.8L1161.8 2036.7"/><path d="M1161.8 2036.7L1161.8 2043.7"/><path d="M1161.8 2043.7L1161.9 2050.6"/><path d="M1161.9 2050.6L1161.9 2057.6"/><path d="M1161.9 2057.6L1161.9 2064.5"/><path d="M1161.9 2064.5L1161.9 2071.5"/><path d="M1161.9 2071.5L1161.9 2078.4"/><path d="M1161.9 2078.4L1161.9 2085.4"/><path d="M1161.9 2085.4L1162.0 2092.3"/><path d="M1162.0 2092.3L1162.0 2099.3"/><path d="M1162.0 2099.3L1162.0 2106.2"/><path d="M1199.2 2282.2L1199.3 2275.5"/><path d="M1202.3 2296.0L1202.4 2302.9"/><path d="M1202.4 2302.9L1202.5 2309.8"/><path d="M1204.5 2335.2L1204.9 2342.0"/><path d="M1351.7 2348.9L1353.1 2347.8"/><path d="M1353.1 2347.8L1354.5 2352.7"/></g><g stroke="#637e3e"><path d="M759.5 2288.4L759.6 2281.5"/><path d="M762.5 2302.0L762.6 2308.9"/><path d="M762.6 2308.9L762.7 2315.7"/><path d="M798.3 2296.7L798.4 2289.9"/><path d="M798.4 2289.9L798.5 2283.1"/><path d="M798.5 2283.1L798.5 2276.4"/><path d="M798.5 2276.4L798.6 2269.6"/><path d="M803.5 2282.5L803.8 2288.6"/><path d="M814.5 2024.6L814.5 2017.8"/><path d="M814.5 2017.8L814.5 2010.9"/><path d="M814.5 2010.9L814.6 2004.0"/><path d="M816.2 2011.3L816.2 2018.3"/><path d="M816.2 2018.3L816.3 2025.3"/><path d="M816.3 2025.3L816.3 2032.3"/><path d="M816.3 2032.3L816.3 2039.3"/><path d="M816.3 2039.3L816.3 2046.3"/><path d="M818.6 2329.0L819.0 2322.9"/><path d="M820.4 2322.9L820.6 2329.1"/><path d="M831.1 2342.6L831.4 2336.8"/><path d="M833.7 2336.8L834.0 2342.6"/><path d="M844.4 2297.9L844.4 2304.8"/><path d="M844.4 2304.8L844.5 2311.7"/><path d="M844.5 2311.7L844.5 2318.6"/><path d="M844.5 2318.6L844.6 2325.5"/><path d="M844.6 2325.5L844.6 2332.4"/><path d="M844.6 2332.4L844.6 2339.3"/><path d="M844.6 2339.3L844.7 2346.2"/><path d="M844.7 2346.2L844.7 2353.1"/><path d="M851.6 2213.0L851.7 2206.2"/><path d="M851.7 2206.2L851.8 2199.5"/><path d="M853.9 2253.7L854.0 2260.5"/><path d="M854.0 2260.5L854.0 2267.3"/><path d="M854.0 2267.3L854.1 2274.1"/><path d="M854.1 2274.1L854.1 2280.9"/><path d="M854.1 2280.9L854.2 2287.6"/><path d="M854.2 2287.6L854.2 2294.4"/><path d="M854.2 2294.4L854.3 2301.2"/><path d="M854.3 2301.2L854.4 2308.0"/><path d="M854.4 2308.0L854.4 2314.8"/><path d="M854.4 2314.8L854.5 2321.6"/><path d="M854.5 2321.6L854.5 2328.3"/><path d="M854.5 2328.3L854.6 2335.1"/><path d="M885.2 2073.9L885.3 2080.8"/><path d="M885.3 2080.8L885.3 2087.7"/><path d="M885.3 2087.7L885.3 2094.5"/><path d="M915.5 2323.6L915.7 2329.9"/><path d="M964.3 2354.3L965.0 2347.5"/><path d="M966.4 2347.5L967.2 2354.3"/><path d="M1050.6 2335.9L1050.9 2329.7"/><path d="M1056.2 2225.6L1056.2 2218.6"/><path d="M1073.1 2348.4L1073.5 2342.2"/><path d="M1075.6 2342.2L1076.0 2348.4"/><path d="M1158.9 1802.1L1159.2 1795.8"/><path d="M1159.2 1795.8L1159.4 1789.6"/><path d="M1161.6 1946.4L1161.6 1953.3"/><path d="M1161.6 1953.3L1161.6 1960.3"/><path d="M1161.6 1960.3L1161.6 1967.2"/><path d="M1161.6 1967.2L1161.6 1974.2"/><path d="M1161.6 1974.2L1161.7 1981.1"/><path d="M1161.7 1981.1L1161.7 1988.1"/><path d="M1161.7 1988.1L1161.7 1995.0"/><path d="M1161.7 1995.0L1161.7 2002.0"/><path d="M1161.7 2002.0L1161.7 2008.9"/><path d="M1161.7 2008.9L1161.8 2015.9"/><path d="M1161.8 2015.9L1161.8 2022.8"/><path d="M1163.1 2347.9L1163.6 2353.3"/><path d="M1199.3 2275.5L1199.4 2268.7"/><path d="M1199.4 2268.7L1199.4 2261.9"/><path d="M1202.2 2282.2L1202.3 2289.1"/><path d="M1202.3 2289.1L1202.3 2296.0"/><path d="M1204.9 2342.0L1205.2 2348.8"/></g><g stroke="#577a45"><path d="M759.6 2281.5L759.7 2274.7"/><path d="M762.5 2295.2L762.5 2302.0"/><path d="M798.6 2269.6L798.7 2262.8"/><path d="M798.7 2262.8L798.8 2256.0"/><path d="M798.8 2256.0L798.9 2249.3"/><path d="M798.9 2249.3L800.3 2246.4"/><path d="M800.3 2246.4L800.6 2252.0"/><path d="M800.6 2252.0L800.9 2257.6"/><path d="M800.9 2257.6L801.2 2263.2"/><path d="M801.2 2263.2L801.5 2268.8"/><path d="M801.5 2268.8L801.8 2274.4"/><path d="M801.8 2274.4L803.2 2276.5"/><path d="M803.2 2276.5L803.5 2282.5"/><path d="M814.6 2004.0L814.6 1997.1"/><path d="M814.6 1997.1L814.6 1990.2"/><path d="M814.6 1990.2L814.7 1983.3"/><path d="M814.7 1983.3L816.1 1983.3"/><path d="M816.1 1983.3L816.1 1990.3"/><path d="M816.1 1990.3L816.1 1997.3"/><path d="M816.1 1997.3L816.2 2004.3"/><path d="M816.2 2004.3L816.2 2011.3"/><path d="M819.0 2322.9L820.4 2322.9"/><path d="M823.4 2352.8L823.6 2346.0"/><path d="M827.2 2346.0L827.4 2352.8"/><path d="M841.8 2125.4L841.9 2118.5"/><path d="M841.9 2118.5L843.3 2118.5"/><path d="M843.3 2118.5L843.3 2125.4"/><path d="M843.3 2125.4L843.4 2132.3"/><path d="M843.4 2132.3L843.4 2139.2"/><path d="M843.4 2139.2L843.5 2146.1"/><path d="M843.5 2146.1L843.5 2153.0"/><path d="M843.5 2153.0L843.5 2159.9"/><path d="M843.5 2159.9L843.6 2166.8"/><path d="M843.6 2166.8L843.6 2173.7"/><path d="M843.6 2173.7L843.7 2180.6"/><path d="M843.7 2180.6L843.7 2187.5"/><path d="M843.7 2187.5L843.8 2194.4"/><path d="M843.8 2194.4L843.8 2201.3"/><path d="M843.8 2201.3L843.8 2208.2"/><path d="M843.8 2208.2L843.9 2215.1"/><path d="M843.9 2215.1L843.9 2222.0"/><path d="M843.9 2222.0L844.0 2228.9"/><path d="M844.0 2228.9L844.0 2235.8"/><path d="M844.0 2235.8L844.1 2242.7"/><path d="M844.1 2242.7L844.1 2249.6"/><path d="M844.1 2249.6L844.1 2256.5"/><path d="M844.1 2256.5L844.2 2263.4"/><path d="M844.2 2263.4L844.2 2270.3"/><path d="M844.2 2270.3L844.3 2277.2"/><path d="M844.3 2277.2L844.3 2284.1"/><path d="M844.3 2284.1L844.3 2291.0"/><path d="M844.3 2291.0L844.4 2297.9"/><path d="M851.8 2199.5L851.8 2192.7"/><path d="M851.8 2192.7L851.9 2185.9"/><path d="M851.9 2185.9L853.3 2185.9"/><path d="M853.3 2185.9L853.4 2192.7"/><path d="M853.4 2192.7L853.4 2199.5"/><path d="M853.4 2199.5L853.5 2206.3"/><path d="M853.5 2206.3L853.5 2213.0"/><path d="M853.5 2213.0L853.6 2219.8"/><path d="M853.6 2219.8L853.7 2226.6"/><path d="M853.7 2226.6L853.7 2233.4"/><path d="M853.7 2233.4L853.8 2240.2"/><path d="M853.8 2240.2L853.8 2247.0"/><path d="M853.8 2247.0L853.9 2253.7"/><path d="M885.3 2094.5L885.4 2101.4"/><path d="M885.4 2101.4L885.4 2108.3"/><path d="M885.4 2108.3L885.5 2115.2"/><path d="M885.5 2115.2L885.5 2122.0"/><path d="M1002.2 2347.0L1002.7 2351.7"/><path d="M1008.1 2353.3L1008.3 2347.0"/><path d="M1012.0 2347.0L1012.1 2353.3"/><path d="M1050.9 2329.7L1052.4 2329.3"/><path d="M1056.2 2218.6L1056.3 2211.7"/><path d="M1056.3 2211.7L1056.3 2204.8"/><path d="M1135.4 2353.4L1135.5 2346.4"/><path d="M1135.5 2346.4L1135.5 2339.4"/><path d="M1135.5 2339.4L1135.6 2332.4"/><path d="M1135.6 2332.4L1135.6 2325.5"/><path d="M1159.4 1789.6L1159.6 1783.3"/><path d="M1161.3 1862.9L1161.4 1869.9"/><path d="M1161.4 1869.9L1161.4 1876.8"/><path d="M1161.4 1876.8L1161.4 1883.8"/><path d="M1161.4 1883.8L1161.4 1890.7"/><path d="M1161.4 1890.7L1161.4 1897.7"/><path d="M1161.4 1897.7L1161.5 1904.6"/><path d="M1161.5 1904.6L1161.5 1911.6"/><path d="M1161.5 1911.6L1161.5 1918.5"/><path d="M1161.5 1918.5L1161.5 1925.5"/><path d="M1161.5 1925.5L1161.5 1932.5"/><path d="M1161.5 1932.5L1161.6 1939.4"/><path d="M1161.6 1939.4L1161.6 1946.4"/><path d="M1174.8 2340.6L1175.0 2334.1"/><path d="M1199.4 2261.9L1199.5 2255.1"/><path d="M1202.0 2268.4L1202.1 2275.3"/><path d="M1202.1 2275.3L1202.2 2282.2"/><path d="M1205.2 2348.8L1205.6 2355.7"/></g><g stroke="#4b764c"><path d="M759.7 2274.7L759.7 2267.9"/><path d="M762.4 2288.4L762.5 2295.2"/><path d="M841.4 2194.5L841.4 2187.6"/><path d="M841.4 2187.6L841.5 2180.6"/><path d="M841.5 2180.6L841.5 2173.7"/><path d="M841.5 2173.7L841.6 2166.8"/><path d="M841.6 2166.8L841.6 2159.9"/><path d="M841.6 2159.9L841.6 2153.0"/><path d="M841.6 2153.0L841.7 2146.1"/><path d="M841.7 2146.1L841.7 2139.2"/><path d="M841.7 2139.2L841.8 2132.3"/><path d="M841.8 2132.3L841.8 2125.4"/><path d="M885.5 2122.0L885.5 2128.9"/><path d="M885.5 2128.9L885.6 2135.8"/><path d="M885.6 2135.8L885.6 2142.7"/><path d="M913.0 2317.2L913.1 2310.8"/><path d="M915.4 2317.2L915.5 2323.6"/><path d="M1056.3 2204.8L1056.4 2197.9"/><path d="M1059.3 2320.6L1059.3 2327.5"/><path d="M1059.3 2327.5L1059.4 2334.3"/><path d="M1059.4 2334.3L1059.4 2341.1"/><path d="M1059.4 2341.1L1059.5 2348.0"/><path d="M1059.5 2348.0L1059.5 2354.8"/><path d="M1059.5 2354.8L1061.0 2361.6"/><path d="M1135.6 2325.5L1135.6 2318.5"/><path d="M1135.6 2318.5L1135.7 2311.5"/><path d="M1135.7 2311.5L1135.7 2304.5"/><path d="M1159.6 1783.3L1159.8 1777.1"/><path d="M1159.8 1777.1L1160.1 1783.1"/><path d="M1160.1 1783.1L1160.3 1789.2"/><path d="M1160.3 1789.2L1160.6 1795.2"/><path d="M1160.6 1795.2L1160.9 1801.3"/><path d="M1160.9 1801.3L1161.2 1807.3"/><path d="M1161.2 1807.3L1161.2 1814.3"/><path d="M1161.2 1814.3L1161.2 1821.2"/><path d="M1161.2 1821.2L1161.3 1828.2"/><path d="M1161.3 1828.2L1161.3 1835.1"/><path d="M1161.3 1835.1L1161.3 1842.1"/><path d="M1161.3 1842.1L1161.3 1849.0"/><path d="M1161.3 1849.0L1161.3 1856.0"/><path d="M1161.3 1856.0L1161.3 1862.9"/><path d="M1199.5 2255.1L1199.6 2248.4"/><path d="M1201.8 2254.6L1201.9 2261.5"/><path d="M1201.9 2261.5L1202.0 2268.4"/><path d="M1205.6 2355.7L1205.7 2348.9"/><path d="M1205.7 2348.9L1205.7 2342.2"/><path d="M1205.7 2342.2L1205.8 2335.5"/><path d="M1215.9 2336.9L1216.2 2342.7"/><path d="M1218.5 2357.4L1219.0 2352.7"/></g><g stroke="#3f7153"><path d="M759.7 2267.9L759.8 2261.1"/><path d="M762.2 2274.7L762.3 2281.5"/><path d="M762.3 2281.5L762.4 2288.4"/><path d="M823.6 2346.0L823.8 2339.1"/><path d="M827.0 2339.1L827.2 2346.0"/><path d="M841.0 2256.6L841.0 2249.7"/><path d="M841.0 2249.7L841.1 2242.8"/><path d="M841.1 2242.8L841.1 2235.9"/><path d="M841.1 2235.9L841.2 2229.0"/><path d="M841.2 2229.0L841.2 2222.1"/><path d="M841.2 2222.1L841.3 2215.2"/><path d="M841.3 2215.2L841.3 2208.3"/><path d="M841.3 2208.3L841.3 2201.4"/><path d="M841.3 2201.4L841.4 2194.5"/><path d="M885.6 2142.7L885.6 2149.5"/><path d="M885.6 2149.5L885.7 2156.4"/><path d="M885.7 2156.4L885.7 2163.3"/><path d="M984.6 2350.2L985.1 2344.8"/><path d="M986.5 2344.8L987.0 2350.2"/><path d="M1008.3 2347.0L1008.5 2340.7"/><path d="M1011.8 2340.7L1012.0 2347.0"/><path d="M1056.4 2197.9L1056.4 2190.9"/><path d="M1059.0 2286.5L1059.1 2293.3"/><path d="M1059.1 2293.3L1059.1 2300.2"/><path d="M1059.1 2300.2L1059.2 2307.0"/><path d="M1059.2 2307.0L1059.2 2313.8"/><path d="M1059.2 2313.8L1059.3 2320.6"/><path d="M1135.7 2304.5L1135.8 2297.5"/><path d="M1135.8 2297.5L1135.8 2290.5"/><path d="M1135.8 2290.5L1135.9 2283.6"/><path d="M1135.9 2283.6L1135.9 2276.6"/><path d="M1163.6 2353.3L1164.1 2358.7"/><path d="M1199.6 2248.4L1199.6 2241.6"/><path d="M1199.6 2241.6L1199.7 2234.8"/><path d="M1201.6 2240.8L1201.7 2247.7"/><path d="M1201.7 2247.7L1201.8 2254.6"/><path d="M1205.8 2335.5L1205.9 2328.8"/><path d="M1205.9 2328.8L1205.9 2322.0"/><path d="M1205.9 2322.0L1206.0 2315.3"/><path d="M1206.0 2315.3L1206.1 2308.6"/><path d="M1206.1 2308.6L1206.2 2301.9"/><path d="M1209.5 2322.0L1209.6 2328.7"/><path d="M1209.6 2328.7L1209.7 2335.4"/><path d="M1209.7 2335.4L1209.7 2342.1"/><path d="M1209.7 2342.1L1209.8 2348.9"/><path d="M1209.8 2348.9L1209.9 2355.6"/><path d="M1227.1 2348.3L1228.5 2349.2"/></g><g stroke="#376e58"><path d="M759.8 2261.1L759.9 2254.2"/><path d="M762.2 2267.9L762.2 2274.7"/><path d="M776.9 2348.6L777.4 2342.5"/><path d="M778.9 2342.5L779.3 2348.6"/><path d="M831.4 2336.8L831.6 2330.9"/><path d="M833.5 2330.9L833.7 2336.8"/><path d="M840.6 2325.7L840.6 2318.8"/><path d="M840.6 2318.8L840.6 2311.9"/><path d="M840.6 2311.9L840.7 2304.9"/><path d="M840.7 2304.9L840.7 2298.0"/><path d="M840.7 2298.0L840.8 2291.1"/><path d="M840.8 2291.1L840.8 2284.2"/><path d="M840.8 2284.2L840.9 2277.3"/><path d="M840.9 2277.3L840.9 2270.4"/><path d="M840.9 2270.4L841.0 2263.5"/><path d="M841.0 2263.5L841.0 2256.6"/><path d="M885.7 2163.3L885.7 2170.2"/><path d="M885.7 2170.2L885.8 2177.0"/><path d="M885.8 2177.0L885.8 2183.9"/><path d="M915.2 2310.8L915.4 2317.2"/><path d="M1056.4 2190.9L1056.5 2184.0"/><path d="M1058.8 2259.2L1058.9 2266.0"/><path d="M1058.9 2266.0L1058.9 2272.8"/><path d="M1058.9 2272.8L1059.0 2279.7"/><path d="M1059.0 2279.7L1059.0 2286.5"/><path d="M1102.5 2356.0L1103.9 2356.0"/><path d="M1103.9 2356.0L1105.4 2361.4"/><path d="M1135.9 2276.6L1135.9 2269.6"/><path d="M1135.9 2269.6L1136.0 2262.6"/><path d="M1136.0 2262.6L1136.0 2255.6"/><path d="M1168.4 2358.7L1169.8 2361.6"/><path d="M1175.0 2334.1L1175.3 2327.6"/><path d="M1181.1 2352.2L1181.2 2358.8"/><path d="M1181.2 2358.8L1182.7 2361.6"/><path d="M1199.7 2234.8L1199.8 2228.0"/><path d="M1201.5 2233.9L1201.6 2240.8"/><path d="M1206.2 2301.9L1206.2 2295.2"/><path d="M1206.2 2295.2L1206.3 2288.4"/><path d="M1206.3 2288.4L1206.4 2281.7"/><path d="M1206.4 2281.7L1206.5 2275.0"/><path d="M1209.1 2281.7L1209.2 2288.4"/><path d="M1209.2 2288.4L1209.2 2295.1"/><path d="M1209.2 2295.1L1209.3 2301.8"/><path d="M1209.3 2301.8L1209.4 2308.5"/><path d="M1209.4 2308.5L1209.5 2315.3"/><path d="M1209.5 2315.3L1209.5 2322.0"/><path d="M1209.9 2355.6L1210.2 2349.7"/><path d="M1219.0 2352.7L1219.4 2348.0"/><path d="M1226.7 2341.9L1227.1 2348.3"/></g><g stroke="#326b5b"><path d="M759.9 2254.2L760.0 2247.4"/><path d="M762.0 2254.2L762.1 2261.1"/><path d="M762.1 2261.1L762.2 2267.9"/><path d="M823.8 2339.1L824.0 2332.3"/><path d="M826.8 2332.3L827.0 2339.1"/><path d="M840.3 2332.9L840.4 2339.6"/><path d="M840.4 2339.6L840.4 2346.4"/><path d="M840.4 2346.4L840.5 2339.5"/><path d="M840.5 2339.5L840.5 2332.6"/><path d="M840.5 2332.6L840.6 2325.7"/><path d="M885.8 2183.9L885.8 2190.8"/><path d="M885.8 2190.8L885.9 2197.7"/><path d="M885.9 2197.7L885.9 2204.5"/><path d="M913.1 2310.8L913.3 2304.5"/><path d="M992.2 2350.0L993.7 2350.0"/><path d="M996.0 2348.2L996.5 2342.1"/><path d="M998.0 2342.1L998.4 2348.2"/><path d="M1000.8 2347.0L1002.2 2347.0"/><path d="M1008.5 2340.7L1008.6 2334.4"/><path d="M1011.6 2334.4L1011.8 2340.7"/><path d="M1056.5 2184.0L1056.6 2177.1"/><path d="M1058.6 2225.0L1058.6 2231.9"/><path d="M1058.6 2231.9L1058.7 2238.7"/><path d="M1058.7 2238.7L1058.7 2245.5"/><path d="M1058.7 2245.5L1058.8 2252.4"/><path d="M1058.8 2252.4L1058.8 2259.2"/><path d="M1136.0 2255.6L1136.1 2248.6"/><path d="M1136.1 2248.6L1136.1 2241.6"/><path d="M1136.1 2241.6L1136.2 2234.7"/><path d="M1136.2 2234.7L1136.2 2227.7"/><path d="M1164.1 2358.7L1164.2 2351.8"/><path d="M1168.2 2351.8L1168.4 2358.7"/><path d="M1181.0 2345.5L1181.1 2352.2"/><path d="M1199.8 2228.0L1199.9 2221.2"/><path d="M1199.9 2221.2L1201.3 2220.1"/><path d="M1201.3 2220.1L1201.4 2227.0"/><path d="M1201.4 2227.0L1201.5 2233.9"/><path d="M1206.5 2275.0L1206.5 2268.3"/><path d="M1206.5 2268.3L1206.6 2261.5"/><path d="M1206.6 2261.5L1206.7 2254.8"/><path d="M1206.7 2254.8L1206.7 2248.1"/><path d="M1206.7 2248.1L1206.8 2241.4"/><path d="M1208.7 2241.4L1208.7 2248.1"/><path d="M1208.7 2248.1L1208.8 2254.8"/><path d="M1208.8 2254.8L1208.9 2261.5"/><path d="M1208.9 2261.5L1209.0 2268.2"/><path d="M1209.0 2268.2L1209.0 2275.0"/><path d="M1209.0 2275.0L1209.1 2281.7"/><path d="M1226.4 2335.5L1226.7 2341.9"/></g><g stroke="#2d685e"><path d="M760.0 2247.4L760.0 2240.6"/><path d="M762.0 2247.4L762.0 2254.2"/><path d="M840.1 2305.9L840.2 2312.7"/><path d="M840.2 2312.7L840.2 2319.4"/><path d="M840.2 2319.4L840.3 2326.2"/><path d="M840.3 2326.2L840.3 2332.9"/><path d="M885.9 2204.5L885.9 2211.4"/><path d="M885.9 2211.4L886.0 2218.3"/><path d="M886.0 2218.3L886.0 2225.2"/><path d="M889.0 2345.9L889.1 2352.6"/><path d="M889.1 2352.6L890.6 2358.6"/><path d="M915.1 2304.5L915.2 2310.8"/><path d="M1056.6 2177.1L1056.6 2170.1"/><path d="M1058.3 2190.9L1058.4 2197.7"/><path d="M1058.4 2197.7L1058.4 2204.6"/><path d="M1058.4 2204.6L1058.5 2211.4"/><path d="M1058.5 2211.4L1058.5 2218.2"/><path d="M1058.5 2218.2L1058.6 2225.0"/><path d="M1073.5 2342.2L1073.8 2336.0"/><path d="M1075.3 2336.0L1075.6 2342.2"/><path d="M1136.2 2227.7L1136.2 2220.7"/><path d="M1136.2 2220.7L1136.3 2213.7"/><path d="M1136.3 2213.7L1136.3 2206.7"/><path d="M1139.5 2311.5L1139.5 2318.5"/><path d="M1139.5 2318.5L1139.5 2325.5"/><path d="M1139.5 2325.5L1139.6 2332.5"/><path d="M1139.6 2332.5L1139.6 2339.4"/><path d="M1139.6 2339.4L1139.7 2346.4"/><path d="M1139.7 2346.4L1139.7 2353.4"/><path d="M1139.7 2353.4L1141.2 2361.6"/><path d="M1164.2 2351.8L1164.3 2345.0"/><path d="M1168.1 2345.0L1168.2 2351.8"/><path d="M1180.9 2338.9L1181.0 2345.5"/><path d="M1206.8 2241.4L1206.9 2234.6"/><path d="M1206.9 2234.6L1207.0 2227.9"/><path d="M1207.0 2227.9L1207.0 2221.2"/><path d="M1207.0 2221.2L1208.5 2221.2"/><path d="M1208.5 2221.2L1208.5 2227.9"/><path d="M1208.5 2227.9L1208.6 2234.6"/><path d="M1208.6 2234.6L1208.7 2241.4"/><path d="M1210.2 2349.7L1210.5 2343.8"/><path d="M1219.4 2348.0L1219.9 2343.3"/><path d="M1228.5 2349.2L1229.9 2351.5"/><path d="M1229.9 2351.5L1231.4 2361.3"/></g><g stroke="#286561"><path d="M760.0 2240.6L760.1 2233.8"/><path d="M761.8 2233.8L761.9 2240.6"/><path d="M761.9 2240.6L762.0 2247.4"/><path d="M831.6 2330.9L831.8 2325.0"/><path d="M833.3 2325.0L833.5 2330.9"/><path d="M839.9 2278.9L840.0 2285.7"/><path d="M840.0 2285.7L840.0 2292.4"/><path d="M840.0 2292.4L840.1 2299.2"/><path d="M840.1 2299.2L840.1 2305.9"/><path d="M886.0 2225.2L886.0 2232.0"/><path d="M886.0 2232.0L886.1 2238.9"/><path d="M886.1 2238.9L886.1 2245.8"/><path d="M888.4 2319.2L888.5 2325.9"/><path d="M888.5 2325.9L888.7 2332.5"/><path d="M888.7 2332.5L888.8 2339.2"/><path d="M888.8 2339.2L889.0 2345.9"/><path d="M965.0 2347.5L966.4 2347.5"/><path d="M985.1 2344.8L986.5 2344.8"/><path d="M1008.6 2334.4L1008.8 2328.1"/><path d="M1011.5 2328.1L1011.6 2334.4"/><path d="M1056.6 2170.1L1056.7 2163.2"/><path d="M1056.7 2163.2L1058.1 2163.6"/><path d="M1058.1 2163.6L1058.1 2170.4"/><path d="M1058.1 2170.4L1058.2 2177.2"/><path d="M1058.2 2177.2L1058.2 2184.1"/><path d="M1058.2 2184.1L1058.3 2190.9"/><path d="M1136.3 2206.7L1136.4 2199.7"/><path d="M1136.4 2199.7L1136.4 2192.7"/><path d="M1136.4 2192.7L1136.5 2185.8"/><path d="M1139.1 2255.6L1139.2 2262.6"/><path d="M1139.2 2262.6L1139.2 2269.6"/><path d="M1139.2 2269.6L1139.2 2276.6"/><path d="M1139.2 2276.6L1139.3 2283.6"/><path d="M1139.3 2283.6L1139.3 2290.5"/><path d="M1139.3 2290.5L1139.4 2297.5"/><path d="M1139.4 2297.5L1139.4 2304.5"/><path d="M1139.4 2304.5L1139.5 2311.5"/><path d="M1164.3 2345.0L1164.4 2338.1"/><path d="M1168.0 2338.1L1168.1 2345.0"/><path d="M1175.3 2327.6L1175.5 2321.0"/><path d="M1180.8 2332.3L1180.9 2338.9"/><path d="M1215.6 2331.2L1215.9 2336.9"/><path d="M1226.0 2329.2L1226.4 2335.5"/></g><g stroke="#225e5f"><path d="M760.1 2233.8L760.2 2226.9"/><path d="M761.7 2226.9L761.8 2233.8"/><path d="M824.0 2332.3L824.1 2325.5"/><path d="M826.6 2325.5L826.8 2332.3"/><path d="M839.7 2258.7L839.8 2265.5"/><path d="M839.8 2265.5L839.8 2272.2"/><path d="M839.8 2272.2L839.9 2278.9"/><path d="M886.1 2245.8L886.2 2252.7"/><path d="M886.2 2252.7L886.2 2259.5"/><path d="M886.2 2259.5L886.2 2266.4"/><path d="M888.0 2299.1L888.1 2305.8"/><path d="M888.1 2305.8L888.3 2312.5"/><path d="M888.3 2312.5L888.4 2319.2"/><path d="M913.3 2304.5L913.5 2298.1"/><path d="M914.9 2298.1L915.1 2304.5"/><path d="M1136.5 2185.8L1136.5 2178.8"/><path d="M1136.5 2178.8L1136.6 2171.8"/><path d="M1136.6 2171.8L1136.6 2164.8"/><path d="M1136.6 2164.8L1136.6 2157.8"/><path d="M1138.8 2206.7L1138.9 2213.7"/><path d="M1138.9 2213.7L1138.9 2220.7"/><path d="M1138.9 2220.7L1138.9 2227.7"/><path d="M1138.9 2227.7L1139.0 2234.7"/><path d="M1139.0 2234.7L1139.0 2241.6"/><path d="M1139.0 2241.6L1139.1 2248.6"/><path d="M1139.1 2248.6L1139.1 2255.6"/><path d="M1164.4 2338.1L1164.5 2331.3"/><path d="M1167.9 2331.3L1168.0 2338.1"/><path d="M1180.7 2325.6L1180.8 2332.3"/><path d="M1210.5 2343.8L1210.7 2337.9"/><path d="M1219.9 2343.3L1220.2 2337.4"/><path d="M1225.6 2322.8L1226.0 2329.2"/></g><g stroke="#1c555c"><path d="M760.2 2226.9L760.2 2220.1"/><path d="M760.2 2220.1L761.7 2220.1"/><path d="M761.7 2220.1L761.7 2226.9"/><path d="M777.4 2342.5L778.9 2342.5"/><path d="M831.8 2325.0L833.3 2325.0"/><path d="M839.5 2231.7L839.6 2238.5"/><path d="M839.6 2238.5L839.6 2245.2"/><path d="M839.6 2245.2L839.7 2252.0"/><path d="M839.7 2252.0L839.7 2258.7"/><path d="M886.2 2266.4L886.3 2273.3"/><path d="M886.3 2273.3L887.0 2279.5"/><path d="M887.0 2279.5L887.7 2285.7"/><path d="M887.7 2285.7L887.8 2292.4"/><path d="M887.8 2292.4L888.0 2299.1"/><path d="M913.5 2298.1L914.9 2298.1"/><path d="M996.5 2342.1L998.0 2342.1"/><path d="M1008.8 2328.1L1008.9 2321.9"/><path d="M1011.3 2321.9L1011.5 2328.1"/><path d="M1073.8 2336.0L1075.3 2336.0"/><path d="M1136.6 2157.8L1136.7 2150.8"/><path d="M1136.7 2150.8L1136.7 2143.9"/><path d="M1136.7 2143.9L1136.8 2136.9"/><path d="M1138.5 2150.8L1138.5 2157.8"/><path d="M1138.5 2157.8L1138.5 2164.8"/><path d="M1138.5 2164.8L1138.6 2171.8"/><path d="M1138.6 2171.8L1138.6 2178.8"/><path d="M1138.6 2178.8L1138.7 2185.8"/><path d="M1138.7 2185.8L1138.7 2192.8"/><path d="M1138.7 2192.8L1138.8 2199.7"/><path d="M1138.8 2199.7L1138.8 2206.7"/><path d="M1164.5 2331.3L1164.7 2324.4"/><path d="M1164.7 2324.4L1164.8 2317.6"/><path d="M1167.6 2317.6L1167.8 2324.4"/><path d="M1167.8 2324.4L1167.9 2331.3"/><path d="M1175.5 2321.0L1177.0 2318.2"/><path d="M1180.5 2319.0L1180.7 2325.6"/><path d="M1214.2 2330.0L1215.6 2331.2"/><path d="M1220.2 2337.4L1220.5 2331.5"/><path d="M1225.4 2316.7L1225.6 2322.8"/></g><g stroke="#184d5c"><path d="M824.1 2325.5L824.3 2318.7"/><path d="M826.5 2318.7L826.6 2325.5"/><path d="M836.1 2354.7L836.2 2347.9"/><path d="M836.2 2347.9L836.2 2341.1"/><path d="M836.2 2341.1L836.3 2334.3"/><path d="M836.3 2334.3L836.3 2327.5"/><path d="M836.3 2327.5L836.4 2320.7"/><path d="M836.4 2320.7L836.4 2313.9"/><path d="M836.4 2313.9L836.5 2307.1"/><path d="M836.5 2307.1L836.5 2300.3"/><path d="M836.5 2300.3L836.6 2293.5"/><path d="M839.4 2211.5L839.4 2218.3"/><path d="M839.4 2218.3L839.5 2225.0"/><path d="M839.5 2225.0L839.5 2231.7"/><path d="M1136.8 2136.9L1136.8 2129.9"/><path d="M1136.8 2129.9L1136.9 2122.9"/><path d="M1136.9 2122.9L1138.3 2122.9"/><path d="M1138.3 2122.9L1138.3 2129.9"/><path d="M1138.3 2129.9L1138.4 2136.9"/><path d="M1138.4 2136.9L1138.4 2143.9"/><path d="M1138.4 2143.9L1138.5 2150.8"/><path d="M1164.8 2317.6L1164.9 2310.7"/><path d="M1167.5 2310.7L1167.6 2317.6"/><path d="M1177.0 2318.2L1177.2 2311.5"/><path d="M1180.4 2312.4L1180.5 2319.0"/><path d="M1210.7 2337.9L1211.0 2331.9"/><path d="M1220.5 2331.5L1220.8 2325.6"/></g><g stroke="#14465c"><path d="M836.6 2293.5L836.6 2286.7"/><path d="M836.6 2286.7L836.7 2279.9"/><path d="M836.7 2279.9L836.7 2273.1"/><path d="M836.7 2273.1L836.8 2266.3"/><path d="M836.8 2266.3L836.9 2259.5"/><path d="M836.9 2259.5L836.9 2252.7"/><path d="M836.9 2252.7L837.0 2245.9"/><path d="M837.0 2245.9L837.0 2239.1"/><path d="M837.0 2239.1L837.1 2232.3"/><path d="M837.1 2232.3L837.1 2225.5"/><path d="M839.2 2184.5L839.2 2191.3"/><path d="M839.2 2191.3L839.3 2198.0"/><path d="M839.3 2198.0L839.3 2204.8"/><path d="M839.3 2204.8L839.4 2211.5"/><path d="M1008.9 2321.9L1009.1 2315.6"/><path d="M1011.2 2315.6L1011.3 2321.9"/><path d="M1164.9 2310.7L1165.0 2303.9"/><path d="M1167.4 2303.9L1167.5 2310.7"/><path d="M1177.2 2311.5L1177.4 2304.7"/><path d="M1180.3 2305.7L1180.4 2312.4"/><path d="M1220.8 2325.6L1221.1 2319.8"/><path d="M1225.1 2310.5L1225.4 2316.7"/></g><g stroke="#103e5c"><path d="M824.3 2318.7L824.5 2311.9"/><path d="M826.3 2311.9L826.5 2318.7"/><path d="M837.1 2225.5L837.2 2218.7"/><path d="M837.2 2218.7L837.2 2211.9"/><path d="M837.2 2211.9L837.3 2205.1"/><path d="M837.3 2205.1L837.3 2198.3"/><path d="M837.3 2198.3L837.4 2191.5"/><path d="M837.4 2191.5L837.4 2184.7"/><path d="M837.4 2184.7L837.5 2177.9"/><path d="M837.5 2177.9L837.5 2171.1"/><path d="M837.5 2171.1L837.6 2164.3"/><path d="M837.6 2164.3L839.0 2164.3"/><path d="M839.0 2164.3L839.1 2171.0"/><path d="M839.1 2171.0L839.1 2177.8"/><path d="M839.1 2177.8L839.2 2184.5"/><path d="M1165.0 2303.9L1165.1 2297.0"/><path d="M1167.3 2297.0L1167.4 2303.9"/><path d="M1177.4 2304.7L1177.7 2298.0"/><path d="M1180.2 2299.1L1180.3 2305.7"/><path d="M1211.0 2331.9L1211.3 2326.0"/><path d="M1221.1 2319.8L1221.3 2313.9"/><path d="M1221.3 2313.9L1221.7 2307.2"/><path d="M1224.8 2304.4L1225.1 2310.5"/></g><g stroke="#0c375c"><path d="M1009.1 2315.6L1009.2 2309.3"/><path d="M1011.0 2309.3L1011.2 2315.6"/><path d="M1165.1 2297.0L1165.3 2290.2"/><path d="M1167.2 2290.2L1167.3 2297.0"/><path d="M1177.7 2298.0L1177.9 2291.3"/><path d="M1180.1 2292.5L1180.2 2299.1"/><path d="M1211.3 2326.0L1212.8 2325.0"/><path d="M1212.8 2325.0L1214.2 2330.0"/><path d="M1221.7 2307.2L1222.1 2300.5"/><path d="M1224.5 2298.3L1224.8 2304.4"/></g><g stroke="#0a305c"><path d="M1165.3 2290.2L1165.4 2283.3"/><path d="M1167.0 2283.3L1167.2 2290.2"/><path d="M1177.9 2291.3L1178.1 2284.5"/><path d="M1179.9 2285.8L1180.1 2292.5"/><path d="M1222.1 2300.5L1222.4 2293.9"/><path d="M1224.2 2292.1L1224.5 2298.3"/></g><g stroke="#08295c"><path d="M824.5 2311.9L824.7 2305.1"/><path d="M826.1 2305.1L826.3 2311.9"/><path d="M1009.2 2309.3L1009.4 2303.0"/><path d="M1010.8 2303.0L1011.0 2309.3"/><path d="M1165.4 2283.3L1165.5 2276.5"/><path d="M1166.9 2276.5L1167.0 2283.3"/><path d="M1178.1 2284.5L1178.4 2277.8"/><path d="M1179.8 2279.2L1179.9 2285.8"/><path d="M1222.4 2293.9L1222.8 2287.2"/></g><g stroke="#06225c"><path d="M824.7 2305.1L826.1 2305.1"/><path d="M1009.4 2303.0L1010.8 2303.0"/><path d="M1165.5 2276.5L1166.9 2276.5"/><path d="M1178.4 2277.8L1179.8 2279.2"/><path d="M1222.8 2287.2L1224.2 2292.1"/></g></g><g fill="none" stroke-width="3.60" stroke-opacity="0.70"><g stroke="#eebcdc"><path d="M77.9 1940.5L79.5 1940.5"/><path d="M79.5 1940.5L81.0 1940.5"/><path d="M81.0 1940.5L82.6 1940.5"/><path d="M82.6 1940.5L84.2 1940.5"/><path d="M84.2 1940.5L85.8 1940.5"/><path d="M85.8 1940.5L87.3 1940.5"/><path d="M87.3 1940.5L88.9 1940.5"/><path d="M88.9 1940.5L90.5 1940.5"/><path d="M90.5 1940.5L92.1 1940.5"/><path d="M92.1 1940.5L93.6 1940.5"/><path d="M93.6 1940.5L95.2 1940.5"/><path d="M95.2 1940.5L96.8 1940.5"/><path d="M96.8 1940.5L98.4 1940.5"/><path d="M98.4 1940.5L99.9 1940.5"/><path d="M99.9 1940.5L101.5 1940.5"/><path d="M101.5 1940.5L103.1 1940.3"/><path d="M109.4 1940.3L111.0 1940.5"/><path d="M111.0 1940.5L112.5 1940.5"/><path d="M112.5 1940.5L114.1 1940.5"/><path d="M114.1 1940.5L115.7 1940.5"/><path d="M115.7 1940.5L117.2 1940.5"/><path d="M117.2 1940.5L118.8 1940.5"/><path d="M118.8 1940.5L120.4 1940.5"/><path d="M120.4 1940.5L122.0 1940.5"/><path d="M122.0 1940.5L123.5 1940.5"/><path d="M123.5 1940.5L125.1 1940.5"/><path d="M125.1 1940.5L126.7 1940.5"/><path d="M126.7 1940.5L128.3 1940.5"/><path d="M128.3 1940.5L129.8 1940.5"/><path d="M129.8 1940.5L131.4 1940.5"/><path d="M131.4 1940.5L133.0 1940.5"/><path d="M133.0 1940.5L134.6 1940.5"/><path d="M134.6 1940.5L136.1 1940.5"/><path d="M136.1 1940.5L137.7 1940.5"/><path d="M137.7 1940.5L139.3 1940.5"/><path d="M139.3 1940.5L140.9 1940.5"/><path d="M140.9 1940.5L142.4 1940.5"/><path d="M142.4 1940.5L144.0 1940.5"/><path d="M144.0 1940.5L145.6 1940.5"/><path d="M145.6 1940.5L147.2 1940.5"/><path d="M147.2 1940.5L148.7 1940.5"/><path d="M148.7 1940.5L150.3 1940.5"/><path d="M150.3 1940.5L151.9 1940.5"/><path d="M151.9 1940.5L153.5 1940.5"/><path d="M153.5 1940.5L155.0 1940.5"/><path d="M155.0 1940.5L156.6 1940.5"/><path d="M156.6 1940.5L158.2 1940.5"/><path d="M158.2 1940.5L159.7 1940.5"/><path d="M159.7 1940.5L161.3 1940.5"/><path d="M161.3 1940.5L162.9 1940.5"/><path d="M162.9 1940.5L164.5 1940.5"/><path d="M164.5 1940.5L166.0 1940.5"/><path d="M166.0 1940.5L167.6 1940.5"/><path d="M167.6 1940.5L169.2 1940.5"/><path d="M169.2 1940.5L170.8 1940.6"/><path d="M170.8 1940.6L172.3 1940.6"/><path d="M172.3 1940.6L173.9 1940.6"/><path d="M173.9 1940.6L175.5 1940.6"/><path d="M175.5 1940.6L177.1 1940.6"/><path d="M177.1 1940.6L178.6 1940.6"/><path d="M178.6 1940.6L180.2 1940.6"/><path d="M180.2 1940.6L181.8 1940.6"/><path d="M181.8 1940.6L183.4 1940.6"/><path d="M183.4 1940.6L184.9 1940.6"/><path d="M184.9 1940.6L186.5 1940.6"/><path d="M186.5 1940.6L188.1 1940.6"/><path d="M188.1 1940.6L189.7 1940.6"/><path d="M189.7 1940.6L191.2 1940.6"/><path d="M191.2 1940.6L192.8 1940.6"/><path d="M192.8 1940.6L194.4 1940.6"/><path d="M194.4 1940.6L196.0 1940.6"/><path d="M196.0 1940.6L197.5 1940.6"/><path d="M197.5 1940.6L199.1 1940.6"/><path d="M199.1 1940.6L200.7 1940.6"/><path d="M200.7 1940.6L202.2 1940.6"/><path d="M202.2 1940.6L203.8 1940.6"/><path d="M203.8 1940.6L205.4 1940.6"/><path d="M205.4 1940.6L207.0 1940.6"/><path d="M207.0 1940.6L208.5 1940.6"/><path d="M208.5 1940.6L210.1 1940.6"/><path d="M210.1 1940.6L211.7 1940.6"/><path d="M211.7 1940.6L213.3 1940.6"/><path d="M213.3 1940.6L214.8 1940.6"/><path d="M214.8 1940.6L216.4 1940.6"/><path d="M216.4 1940.6L218.0 1940.6"/><path d="M218.0 1940.6L219.6 1940.6"/><path d="M219.6 1940.6L221.1 1940.6"/><path d="M221.1 1940.6L222.7 1940.6"/><path d="M222.7 1940.6L224.3 1940.6"/><path d="M224.3 1940.6L225.9 1940.6"/><path d="M225.9 1940.6L227.4 1940.6"/><path d="M227.4 1940.6L229.0 1940.6"/><path d="M229.0 1940.6L230.6 1940.6"/><path d="M230.6 1940.6L232.2 1940.6"/><path d="M232.2 1940.6L233.7 1940.6"/><path d="M233.7 1940.6L235.3 1940.6"/><path d="M235.3 1940.6L236.9 1940.6"/><path d="M236.9 1940.6L238.4 1940.6"/><path d="M238.4 1940.6L240.0 1940.6"/><path d="M240.0 1940.6L241.6 1940.6"/><path d="M241.6 1940.6L243.2 1940.6"/><path d="M243.2 1940.6L244.7 1940.6"/><path d="M244.7 1940.6L246.3 1940.6"/><path d="M246.3 1940.6L247.9 1940.6"/><path d="M247.9 1940.6L249.5 1940.6"/><path d="M249.5 1940.6L251.0 1940.6"/><path d="M251.0 1940.6L252.6 1940.6"/><path d="M252.6 1940.6L254.2 1940.6"/><path d="M254.2 1940.6L255.8 1940.6"/><path d="M255.8 1940.6L257.3 1940.6"/><path d="M257.3 1940.6L258.9 1940.6"/><path d="M258.9 1940.6L260.5 1940.6"/><path d="M260.5 1940.6L262.1 1940.6"/><path d="M262.1 1940.6L263.6 1940.6"/><path d="M263.6 1940.6L265.2 1940.6"/><path d="M265.2 1940.6L266.8 1940.6"/><path d="M266.8 1940.6L268.4 1940.6"/><path d="M268.4 1940.6L269.9 1940.6"/><path d="M269.9 1940.6L271.5 1940.6"/><path d="M271.5 1940.6L273.1 1940.6"/><path d="M273.1 1940.6L274.6 1940.6"/><path d="M274.6 1940.6L276.2 1940.6"/><path d="M276.2 1940.6L277.8 1940.6"/><path d="M277.8 1940.6L279.4 1940.6"/><path d="M279.4 1940.6L280.9 1940.6"/><path d="M280.9 1940.6L282.5 1940.6"/><path d="M282.5 1940.6L284.1 1940.6"/><path d="M284.1 1940.6L285.7 1940.6"/><path d="M285.7 1940.6L287.2 1940.6"/><path d="M287.2 1940.6L288.8 1940.6"/><path d="M288.8 1940.6L290.4 1940.6"/><path d="M290.4 1940.6L292.0 1940.6"/><path d="M292.0 1940.6L293.5 1940.6"/><path d="M293.5 1940.6L295.1 1940.6"/><path d="M295.1 1940.6L296.7 1940.6"/><path d="M296.7 1940.6L298.3 1940.6"/><path d="M298.3 1940.6L299.8 1940.6"/><path d="M299.8 1940.6L301.4 1940.6"/><path d="M301.4 1940.6L303.0 1940.6"/><path d="M303.0 1940.6L304.6 1940.6"/><path d="M304.6 1940.6L306.1 1940.6"/><path d="M306.1 1940.6L307.7 1940.6"/><path d="M307.7 1940.6L309.3 1940.6"/><path d="M309.3 1940.6L310.9 1940.6"/><path d="M310.9 1940.6L312.4 1940.6"/><path d="M312.4 1940.6L314.0 1940.6"/><path d="M314.0 1940.6L315.6 1940.5"/><path d="M315.6 1940.5L317.1 1939.8"/><path d="M329.7 1940.4L331.3 1940.6"/><path d="M331.3 1940.6L332.9 1940.6"/><path d="M332.9 1940.6L334.5 1940.6"/><path d="M334.5 1940.6L336.0 1940.6"/><path d="M336.0 1940.6L337.6 1940.6"/><path d="M337.6 1940.6L339.2 1940.6"/><path d="M339.2 1940.6L340.8 1940.6"/><path d="M340.8 1940.6L342.3 1940.6"/><path d="M342.3 1940.6L343.9 1940.6"/><path d="M343.9 1940.6L345.5 1940.6"/><path d="M345.5 1940.6L347.1 1940.6"/><path d="M347.1 1940.6L348.6 1940.6"/><path d="M348.6 1940.6L350.2 1940.6"/><path d="M350.2 1940.6L351.8 1940.6"/><path d="M351.8 1940.6L353.4 1940.6"/><path d="M353.4 1940.6L354.9 1940.6"/><path d="M354.9 1940.6L356.5 1940.7"/><path d="M356.5 1940.7L358.1 1940.7"/><path d="M358.1 1940.7L359.6 1940.7"/><path d="M359.6 1940.7L361.2 1940.7"/><path d="M361.2 1940.7L362.8 1940.7"/><path d="M362.8 1940.7L364.4 1940.7"/><path d="M364.4 1940.7L365.9 1940.7"/><path d="M365.9 1940.7L367.5 1940.7"/><path d="M367.5 1940.7L369.1 1940.7"/><path d="M369.1 1940.7L370.7 1940.7"/><path d="M370.7 1940.7L372.2 1940.7"/><path d="M372.2 1940.7L373.8 1940.7"/><path d="M373.8 1940.7L375.4 1940.7"/><path d="M375.4 1940.7L377.0 1940.7"/><path d="M377.0 1940.7L378.5 1940.7"/><path d="M378.5 1940.7L380.1 1940.7"/><path d="M380.1 1940.7L381.7 1940.7"/><path d="M381.7 1940.7L383.3 1940.7"/><path d="M383.3 1940.7L384.8 1940.7"/><path d="M384.8 1940.7L386.4 1940.7"/><path d="M386.4 1940.7L388.0 1940.7"/><path d="M388.0 1940.7L389.6 1940.7"/><path d="M389.6 1940.7L391.1 1940.7"/><path d="M391.1 1940.7L392.7 1940.7"/><path d="M392.7 1940.7L394.3 1940.7"/><path d="M394.3 1940.7L395.8 1940.7"/><path d="M395.8 1940.7L397.4 1940.7"/><path d="M397.4 1940.7L399.0 1940.7"/><path d="M399.0 1940.7L400.6 1940.7"/><path d="M400.6 1940.7L402.1 1940.7"/><path d="M402.1 1940.7L403.7 1940.7"/><path d="M403.7 1940.7L405.3 1940.7"/><path d="M405.3 1940.7L406.9 1940.7"/><path d="M406.9 1940.7L408.4 1940.7"/><path d="M408.4 1940.7L410.0 1940.7"/><path d="M410.0 1940.7L411.6 1940.7"/><path d="M411.6 1940.7L413.2 1940.7"/><path d="M413.2 1940.7L414.7 1940.7"/><path d="M414.7 1940.7L416.3 1940.7"/><path d="M416.3 1940.7L417.9 1940.7"/><path d="M417.9 1940.7L419.5 1940.7"/><path d="M419.5 1940.7L421.0 1940.7"/><path d="M421.0 1940.7L422.6 1940.7"/><path d="M422.6 1940.7L424.2 1940.7"/><path d="M424.2 1940.7L425.8 1940.7"/><path d="M425.8 1940.7L427.3 1940.6"/><path d="M427.3 1940.6L428.9 1936.7"/><path d="M436.8 1940.6L438.3 1940.7"/><path d="M438.3 1940.7L439.9 1940.7"/><path d="M439.9 1940.7L441.5 1940.7"/><path d="M441.5 1940.7L443.1 1940.7"/><path d="M443.1 1940.7L444.6 1940.7"/><path d="M444.6 1940.7L446.2 1940.1"/><path d="M446.2 1940.1L447.8 1937.8"/><path d="M452.5 1940.1L454.1 1940.7"/><path d="M454.1 1940.7L455.7 1940.7"/><path d="M455.7 1940.7L457.2 1940.7"/><path d="M457.2 1940.7L458.8 1940.6"/><path d="M458.8 1940.6L460.4 1938.6"/><path d="M468.3 1940.6L469.8 1940.7"/><path d="M469.8 1940.7L471.4 1940.7"/><path d="M471.4 1940.7L473.0 1940.7"/><path d="M473.0 1940.7L474.5 1940.7"/><path d="M474.5 1940.7L476.1 1940.7"/><path d="M476.1 1940.7L477.7 1940.7"/><path d="M477.7 1940.7L479.3 1940.7"/><path d="M479.3 1940.7L480.8 1940.7"/><path d="M480.8 1940.7L482.4 1940.7"/><path d="M482.4 1940.7L484.0 1940.7"/><path d="M484.0 1940.7L485.6 1940.7"/><path d="M485.6 1940.7L487.1 1940.7"/><path d="M487.1 1940.7L488.7 1940.7"/><path d="M488.7 1940.7L490.3 1940.7"/><path d="M490.3 1940.7L491.9 1940.7"/><path d="M491.9 1940.7L493.4 1940.7"/><path d="M493.4 1940.7L495.0 1940.7"/><path d="M495.0 1940.7L496.6 1940.7"/><path d="M496.6 1940.7L498.2 1940.7"/><path d="M498.2 1940.7L499.7 1940.7"/><path d="M499.7 1940.7L501.3 1940.5"/><path d="M501.3 1940.5L502.9 1933.2"/><path d="M510.8 1940.5L512.3 1940.7"/><path d="M512.3 1940.7L513.9 1940.7"/><path d="M513.9 1940.7L515.5 1940.7"/><path d="M515.5 1940.7L517.0 1940.7"/><path d="M517.0 1940.7L518.6 1940.7"/><path d="M518.6 1940.7L520.2 1940.7"/><path d="M520.2 1940.7L521.8 1940.7"/><path d="M521.8 1940.7L523.3 1940.7"/><path d="M523.3 1940.7L524.9 1940.7"/><path d="M524.9 1940.7L526.5 1940.7"/><path d="M526.5 1940.7L528.1 1940.7"/><path d="M528.1 1940.7L529.6 1940.7"/><path d="M529.6 1940.7L531.2 1940.7"/><path d="M531.2 1940.7L532.8 1940.7"/><path d="M532.8 1940.7L534.4 1940.7"/><path d="M534.4 1940.7L535.9 1940.7"/><path d="M535.9 1940.7L537.5 1940.7"/><path d="M537.5 1940.7L539.1 1940.7"/><path d="M539.1 1940.7L540.7 1940.7"/><path d="M540.7 1940.7L542.2 1940.7"/><path d="M542.2 1940.7L543.8 1940.1"/><path d="M556.4 1940.6L558.0 1940.8"/><path d="M558.0 1940.8L559.5 1940.8"/><path d="M559.5 1940.8L561.1 1940.8"/><path d="M561.1 1940.8L562.7 1940.8"/><path d="M562.7 1940.8L564.3 1940.8"/><path d="M564.3 1940.8L565.8 1940.8"/><path d="M565.8 1940.8L567.4 1940.8"/><path d="M567.4 1940.8L569.0 1940.8"/><path d="M569.0 1940.8L570.6 1940.8"/><path d="M570.6 1940.8L572.1 1940.8"/><path d="M572.1 1940.8L573.7 1940.8"/><path d="M573.7 1940.8L575.3 1940.8"/><path d="M575.3 1940.8L576.9 1940.8"/><path d="M576.9 1940.8L578.4 1940.8"/><path d="M578.4 1940.8L580.0 1940.8"/><path d="M580.0 1940.8L581.6 1940.8"/><path d="M581.6 1940.8L583.2 1940.8"/><path d="M583.2 1940.8L584.7 1940.8"/><path d="M584.7 1940.8L586.3 1940.8"/><path d="M586.3 1940.8L587.9 1940.8"/><path d="M587.9 1940.8L589.5 1940.8"/><path d="M589.5 1940.8L591.0 1940.8"/><path d="M591.0 1940.8L592.6 1940.8"/><path d="M592.6 1940.8L594.2 1940.5"/><path d="M594.2 1940.5L595.7 1930.6"/><path d="M603.6 1940.5L605.2 1940.8"/><path d="M605.2 1940.8L606.8 1940.8"/><path d="M606.8 1940.8L608.3 1940.8"/><path d="M608.3 1940.8L609.9 1940.8"/><path d="M609.9 1940.8L611.5 1940.8"/><path d="M611.5 1940.8L613.1 1940.8"/><path d="M613.1 1940.8L614.6 1940.8"/><path d="M614.6 1940.8L616.2 1940.8"/><path d="M616.2 1940.8L617.8 1940.8"/><path d="M617.8 1940.8L619.4 1940.8"/><path d="M619.4 1940.8L620.9 1940.8"/><path d="M620.9 1940.8L622.5 1940.8"/><path d="M622.5 1940.8L624.1 1940.8"/><path d="M624.1 1940.8L625.7 1940.8"/><path d="M625.7 1940.8L627.2 1940.8"/><path d="M627.2 1940.8L628.8 1940.8"/><path d="M628.8 1940.8L630.4 1940.8"/><path d="M630.4 1940.8L631.9 1940.8"/></g><g stroke="#f0b8cc"><path d="M103.1 1940.3L103.9 1935.0"/><path d="M108.6 1935.0L109.4 1940.3"/><path d="M317.1 1939.8L318.7 1936.7"/><path d="M543.8 1940.1L545.4 1935.8"/></g><g stroke="#f0b5be"><path d="M103.9 1935.0L104.7 1929.7"/><path d="M107.8 1929.7L108.6 1935.0"/></g><g stroke="#efada2"><path d="M104.7 1929.7L105.1 1923.1"/><path d="M105.1 1923.1L105.4 1916.5"/><path d="M105.4 1916.5L105.8 1909.9"/><path d="M106.6 1909.9L107.0 1916.5"/><path d="M107.0 1916.5L107.4 1923.1"/><path d="M107.4 1923.1L107.8 1929.7"/></g><g stroke="#eda994"><path d="M105.8 1909.9L106.2 1903.3"/><path d="M106.2 1903.3L106.6 1909.9"/><path d="M328.2 1939.3L329.7 1940.4"/><path d="M447.8 1937.8L449.4 1935.7"/><path d="M450.9 1937.8L452.5 1940.1"/><path d="M460.4 1938.6L462.0 1929.9"/><path d="M502.9 1933.2L503.1 1926.4"/></g><g stroke="#eaa589"><path d="M449.4 1935.7L450.9 1937.8"/><path d="M503.1 1926.4L503.2 1919.7"/></g><g stroke="#e7a17d"><path d="M428.9 1936.7L429.2 1930.2"/><path d="M503.2 1919.7L503.4 1913.0"/><path d="M503.4 1913.0L503.6 1906.3"/><path d="M595.7 1930.6L595.9 1923.8"/></g><g stroke="#e29b70"><path d="M466.7 1938.6L468.3 1940.6"/><path d="M503.6 1906.3L503.8 1899.5"/><path d="M503.8 1899.5L503.9 1892.8"/><path d="M595.9 1923.8L596.0 1917.0"/><path d="M596.0 1917.0L596.1 1910.2"/></g><g stroke="#dd9764"><path d="M429.2 1930.2L429.5 1923.8"/><path d="M503.9 1892.8L504.1 1886.1"/><path d="M554.8 1939.2L556.4 1940.6"/><path d="M596.1 1910.2L596.3 1903.4"/><path d="M596.3 1903.4L596.4 1896.7"/></g><g stroke="#d69558"><path d="M318.7 1936.7L320.3 1928.8"/><path d="M429.5 1923.8L429.8 1917.3"/><path d="M504.1 1886.1L504.3 1879.4"/><path d="M504.3 1879.4L504.5 1872.6"/><path d="M596.4 1896.7L596.5 1889.9"/><path d="M596.5 1889.9L596.7 1883.1"/><path d="M596.7 1883.1L596.8 1876.3"/></g><g stroke="#ce934d"><path d="M434.9 1930.2L435.2 1936.7"/><path d="M435.2 1936.7L436.8 1940.6"/><path d="M504.5 1872.6L504.6 1865.9"/><path d="M504.6 1865.9L504.7 1859.2"/><path d="M596.8 1876.3L596.9 1869.5"/><path d="M596.9 1869.5L597.1 1862.7"/></g><g stroke="#c59144"><path d="M429.8 1917.3L430.2 1910.9"/><path d="M504.7 1859.2L504.9 1852.6"/><path d="M504.9 1852.6L505.0 1845.9"/><path d="M597.1 1862.7L597.2 1855.9"/><path d="M597.2 1855.9L597.3 1849.1"/></g><g stroke="#bc903b"><path d="M430.2 1910.9L430.5 1904.5"/><path d="M434.6 1923.8L434.9 1930.2"/><path d="M462.0 1929.9L463.5 1922.0"/><path d="M505.0 1845.9L505.2 1839.2"/><path d="M545.4 1935.8L545.9 1931.1"/><path d="M597.3 1849.1L597.4 1842.5"/><path d="M597.4 1842.5L597.5 1835.9"/><path d="M597.5 1835.9L597.6 1829.3"/></g><g stroke="#b28e35"><path d="M434.3 1917.4L434.6 1923.8"/><path d="M505.2 1839.2L505.3 1832.5"/><path d="M505.3 1832.5L505.5 1825.8"/><path d="M545.9 1931.1L546.4 1926.3"/><path d="M597.6 1829.3L597.7 1822.7"/><path d="M597.7 1822.7L597.8 1816.1"/></g><g stroke="#a78d2e"><path d="M326.6 1934.8L328.2 1939.3"/><path d="M430.5 1904.5L430.7 1897.9"/><path d="M433.9 1910.9L434.3 1917.4"/><path d="M465.1 1929.9L466.7 1938.6"/><path d="M505.5 1825.8L505.6 1819.1"/><path d="M505.6 1819.1L505.7 1812.4"/><path d="M509.2 1933.2L510.8 1940.5"/><path d="M597.8 1816.1L597.9 1809.5"/><path d="M597.9 1809.5L598.1 1802.9"/><path d="M598.1 1802.9L598.2 1796.3"/></g><g stroke="#9b8a29"><path d="M430.7 1897.9L431.0 1891.4"/><path d="M463.5 1922.0L465.1 1929.9"/><path d="M505.7 1812.4L505.9 1805.7"/><path d="M505.9 1805.7L506.0 1799.0"/><path d="M507.6 1872.6L507.8 1879.4"/><path d="M507.8 1879.4L508.0 1886.1"/><path d="M508.0 1886.1L508.1 1892.8"/><path d="M508.1 1892.8L508.3 1899.5"/><path d="M508.3 1899.5L508.5 1906.3"/><path d="M508.5 1906.3L508.7 1913.0"/><path d="M508.7 1913.0L508.8 1919.7"/><path d="M508.8 1919.7L509.0 1926.5"/><path d="M509.0 1926.5L509.2 1933.2"/><path d="M546.4 1926.3L547.0 1921.6"/><path d="M598.2 1796.3L598.3 1789.6"/><path d="M598.3 1789.6L598.4 1783.0"/></g><g stroke="#908828"><path d="M320.3 1928.8L321.9 1919.3"/><path d="M433.6 1904.5L433.9 1910.9"/><path d="M506.0 1799.0L506.2 1805.7"/><path d="M506.2 1805.7L506.3 1812.4"/><path d="M506.3 1812.4L506.5 1819.1"/><path d="M506.5 1819.1L506.6 1825.8"/><path d="M506.6 1825.8L506.7 1832.5"/><path d="M506.7 1832.5L506.9 1839.2"/><path d="M506.9 1839.2L507.0 1845.9"/><path d="M507.0 1845.9L507.2 1852.6"/><path d="M507.2 1852.6L507.3 1859.2"/><path d="M507.3 1859.2L507.5 1865.9"/><path d="M507.5 1865.9L507.6 1872.6"/><path d="M547.0 1921.6L547.5 1914.7"/><path d="M598.4 1783.0L598.5 1776.4"/><path d="M598.5 1776.4L598.6 1769.8"/><path d="M598.6 1769.8L598.7 1763.2"/></g><g stroke="#87862d"><path d="M431.0 1891.4L431.3 1884.9"/><path d="M433.4 1897.9L433.6 1904.5"/><path d="M598.7 1763.2L598.8 1756.6"/><path d="M598.8 1756.6L598.9 1750.0"/></g><g stroke="#7c8432"><path d="M431.3 1884.9L431.5 1878.4"/><path d="M432.8 1884.9L433.1 1891.4"/><path d="M433.1 1891.4L433.4 1897.9"/><path d="M547.5 1914.7L548.0 1907.8"/><path d="M598.9 1750.0L599.0 1756.6"/><path d="M599.0 1756.6L599.1 1763.2"/><path d="M599.1 1763.2L599.2 1769.8"/></g><g stroke="#6f8238"><path d="M431.5 1878.4L431.8 1871.8"/><path d="M432.6 1878.4L432.8 1884.9"/><path d="M599.2 1769.8L599.3 1776.4"/><path d="M599.3 1776.4L599.4 1783.0"/><path d="M599.4 1783.0L599.5 1789.6"/></g><g stroke="#637e3e"><path d="M325.0 1925.6L326.6 1934.8"/><path d="M432.3 1871.8L432.6 1878.4"/><path d="M548.0 1907.8L548.5 1900.9"/><path d="M548.5 1900.9L550.1 1896.1"/><path d="M599.5 1789.6L599.6 1796.3"/><path d="M599.6 1796.3L599.7 1802.9"/><path d="M599.7 1802.9L599.8 1809.5"/></g><g stroke="#577a45"><path d="M431.8 1871.8L432.1 1865.3"/><path d="M432.1 1865.3L432.3 1871.8"/><path d="M599.8 1809.5L599.9 1816.1"/><path d="M599.9 1816.1L600.0 1822.7"/><path d="M600.0 1822.7L600.2 1829.3"/></g><g stroke="#4b764c"><path d="M321.9 1919.3L323.4 1917.5"/><path d="M550.1 1896.1L550.6 1902.0"/><path d="M550.6 1902.0L551.1 1907.9"/><path d="M600.2 1829.3L600.3 1835.9"/><path d="M600.3 1835.9L600.4 1842.5"/><path d="M600.4 1842.5L600.5 1849.1"/></g><g stroke="#3f7153"><path d="M323.4 1917.5L325.0 1925.6"/><path d="M551.1 1907.9L551.7 1913.8"/><path d="M551.7 1913.8L552.2 1919.9"/><path d="M552.2 1919.9L552.7 1926.0"/><path d="M552.7 1926.0L553.2 1932.0"/><path d="M553.2 1932.0L554.8 1939.2"/><path d="M600.5 1849.1L600.6 1855.9"/><path d="M600.6 1855.9L600.7 1862.7"/><path d="M600.7 1862.7L600.9 1869.5"/><path d="M600.9 1869.5L601.0 1876.3"/></g><g stroke="#376e58"><path d="M601.0 1876.3L601.1 1883.1"/><path d="M601.1 1883.1L601.3 1889.9"/><path d="M601.3 1889.9L601.4 1896.7"/></g><g stroke="#326b5b"><path d="M601.4 1896.7L601.5 1903.4"/><path d="M601.5 1903.4L601.6 1910.2"/><path d="M601.6 1910.2L601.8 1917.0"/><path d="M601.8 1917.0L601.9 1923.8"/></g><g stroke="#2d685e"><path d="M601.9 1923.8L602.0 1930.6"/><path d="M602.0 1930.6L603.6 1940.5"/></g></g></svg></body></html>
